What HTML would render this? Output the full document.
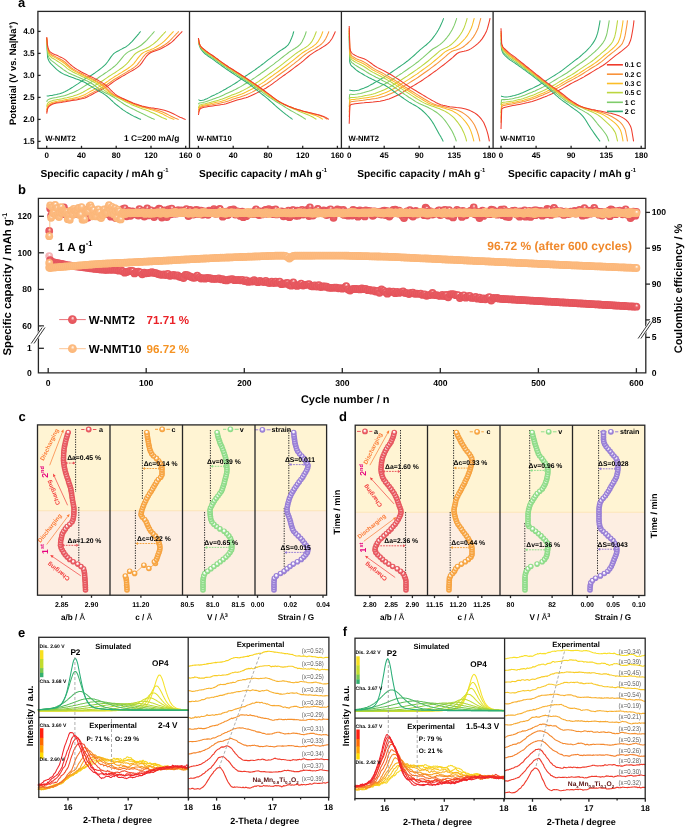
<!DOCTYPE html>
<html><head><meta charset="utf-8"><style>
html,body{margin:0;padding:0;background:#fff;}
svg{display:block;will-change:transform;}
</style></head><body>
<svg width="685" height="827" viewBox="0 0 685 827" font-family='"Liberation Sans", sans-serif' font-weight="bold" text-rendering="geometricPrecision">
<defs><radialGradient id="gr" cx="0.5" cy="0.5" r="0.5" fx="0.55" fy="0.3"><stop offset="0" stop-color="#ffffff"/><stop offset="0.18" stop-color="#f6b0b2"/><stop offset="0.4" stop-color="#ea6066"/><stop offset="1" stop-color="#e4525a"/></radialGradient><radialGradient id="go" cx="0.5" cy="0.5" r="0.5" fx="0.55" fy="0.3"><stop offset="0" stop-color="#ffffff"/><stop offset="0.18" stop-color="#fee2c8"/><stop offset="0.4" stop-color="#fdbd84"/><stop offset="1" stop-color="#fbb678"/></radialGradient><radialGradient id="ga" cx="0.5" cy="0.5" r="0.5" fx="0.45" fy="0.35"><stop offset="0" stop-color="#ffffff"/><stop offset="0.18" stop-color="#ffffff"/><stop offset="0.38" stop-color="#f8c4c6"/><stop offset="0.62" stop-color="#ea5f66"/><stop offset="1" stop-color="#e4525a"/></radialGradient><radialGradient id="gc" cx="0.5" cy="0.5" r="0.5" fx="0.45" fy="0.35"><stop offset="0" stop-color="#ffffff"/><stop offset="0.18" stop-color="#ffffff"/><stop offset="0.38" stop-color="#fde2be"/><stop offset="0.62" stop-color="#f8aa4c"/><stop offset="1" stop-color="#f59e38"/></radialGradient><radialGradient id="gv" cx="0.5" cy="0.5" r="0.5" fx="0.45" fy="0.35"><stop offset="0" stop-color="#ffffff"/><stop offset="0.18" stop-color="#ffffff"/><stop offset="0.38" stop-color="#e0f8de"/><stop offset="0.62" stop-color="#98e092"/><stop offset="1" stop-color="#88d882"/></radialGradient><radialGradient id="gs" cx="0.5" cy="0.5" r="0.5" fx="0.45" fy="0.35"><stop offset="0" stop-color="#ffffff"/><stop offset="0.18" stop-color="#ffffff"/><stop offset="0.38" stop-color="#e2d8f6"/><stop offset="0.62" stop-color="#a088da"/><stop offset="1" stop-color="#9378d2"/></radialGradient></defs>
<text x="18" y="6.6" font-size="13">a</text>
<g fill="none" stroke-width="1.05" stroke-linejoin="round">
<path d="M46.7,96.1 47.2,96.0 47.6,96.0 48.1,95.9 48.6,95.9 49.0,95.8 50.6,95.6 52.1,95.4 53.6,95.1 55.1,94.8 56.6,94.5 58.1,94.1 59.6,93.7 61.1,93.2 62.6,92.7 64.2,92.1 65.7,91.3 67.2,90.5 68.7,89.6 70.2,88.7 71.7,87.8 73.2,86.9 74.7,85.9 76.2,84.9 77.8,83.9 79.3,82.8 80.8,81.7 82.3,80.7 83.8,79.7 85.3,78.8 86.8,77.9 88.3,77.0 89.8,76.1 91.4,75.2 92.9,74.3 94.4,73.3 95.9,72.2 97.4,71.1 98.9,70.0 100.4,68.8 101.9,67.6 103.4,66.3 105.0,64.9 106.5,63.3 108.0,61.3 109.5,59.1 111.0,56.9 112.5,55.0 114.0,53.4 115.5,52.4 117.0,51.5 118.6,50.7 120.1,49.9 121.6,49.1 123.1,48.3 124.6,47.6 126.1,46.7 127.6,45.6 129.1,44.4 130.6,42.9 132.2,41.3 133.7,39.6 135.2,37.9 136.7,36.2 138.2,34.4 138.7,33.8 139.1,33.2 139.6,32.6 140.1,32.0 140.6,31.4" stroke="#2fad74"/>
<path d="M46.7,101.9 47.2,100.5 47.8,99.9 48.3,99.6 48.9,99.3 49.4,99.0 51.1,98.5 52.9,98.1 54.6,97.8 56.3,97.5 58.1,97.1 59.8,96.7 61.5,96.3 63.3,95.9 65.0,95.5 66.7,94.9 68.5,94.3 70.2,93.6 71.9,92.9 73.7,92.2 75.4,91.4 77.2,90.6 78.9,89.6 80.6,88.6 82.4,87.5 84.1,86.4 85.8,85.3 87.6,84.2 89.3,83.2 91.0,82.2 92.8,81.2 94.5,80.2 96.2,79.1 98.0,78.0 99.7,76.8 101.4,75.6 103.2,74.5 104.9,73.3 106.7,72.1 108.4,70.9 110.1,69.7 111.9,68.4 113.6,67.0 115.3,65.6 117.1,63.8 118.8,61.9 120.5,59.8 122.3,57.6 124.0,55.5 125.7,53.8 127.5,52.4 129.2,51.4 130.9,50.5 132.7,49.7 134.4,49.0 136.1,48.2 137.9,47.3 139.6,46.2 141.4,45.0 143.1,43.5 144.8,42.0 146.6,40.3 148.3,38.4 150.0,36.5 151.8,34.5 152.3,33.9 152.8,33.3 153.4,32.7 153.9,32.0 154.5,31.4" stroke="#7fcc6b"/>
<path d="M46.7,106.7 47.3,104.1 47.9,103.1 48.5,102.5 49.1,102.0 49.7,101.6 51.6,100.9 53.5,100.3 55.4,99.9 57.3,99.6 59.3,99.3 61.2,98.9 63.1,98.5 65.0,98.1 66.9,97.7 68.8,97.2 70.8,96.7 72.7,96.2 74.6,95.6 76.5,95.0 78.4,94.3 80.3,93.5 82.3,92.6 84.2,91.5 86.1,90.4 88.0,89.3 89.9,88.2 91.8,87.1 93.8,86.1 95.7,85.0 97.6,83.9 99.5,82.8 101.4,81.5 103.4,80.2 105.3,78.9 107.2,77.6 109.1,76.3 111.0,75.1 112.9,73.9 114.9,72.7 116.8,71.4 118.7,70.1 120.6,68.8 122.5,67.5 124.4,65.9 126.4,64.1 128.3,62.1 130.2,59.7 132.1,57.3 134.0,55.0 135.9,53.2 137.9,52.0 139.8,51.0 141.7,50.3 143.6,49.5 145.5,48.7 147.4,47.7 149.4,46.7 151.3,45.4 153.2,44.1 155.1,42.5 157.0,40.8 158.9,38.8 160.9,36.7 162.8,34.6 163.4,34.0 164.0,33.4 164.6,32.7 165.2,32.1 165.8,31.4" stroke="#bcd63f"/>
<path d="M46.7,110.0 47.3,106.6 48.0,105.3 48.6,104.5 49.2,103.9 49.9,103.5 51.9,102.5 54.0,101.9 56.0,101.4 58.0,101.1 60.1,100.7 62.1,100.4 64.2,100.0 66.2,99.6 68.3,99.3 70.3,98.8 72.3,98.4 74.4,97.9 76.4,97.4 78.5,96.9 80.5,96.3 82.6,95.6 84.6,94.7 86.6,93.6 88.7,92.4 90.7,91.3 92.8,90.2 94.8,89.1 96.9,88.0 98.9,86.9 100.9,85.8 103.0,84.6 105.0,83.2 107.1,81.8 109.1,80.3 111.2,78.9 113.2,77.6 115.2,76.3 117.3,75.1 119.3,73.8 121.4,72.6 123.4,71.3 125.5,70.0 127.5,68.7 129.5,67.3 131.6,65.7 133.6,63.8 135.7,61.2 137.7,58.4 139.8,55.8 141.8,53.7 143.8,52.4 145.9,51.4 147.9,50.6 150.0,49.9 152.0,49.1 154.1,48.1 156.1,47.0 158.1,45.8 160.2,44.4 162.2,42.9 164.3,41.2 166.3,39.1 168.4,36.9 170.4,34.7 171.0,34.1 171.7,33.4 172.3,32.7 172.9,32.1 173.6,31.4" stroke="#fbbd27"/>
<path d="M46.7,112.2 47.4,108.2 48.0,106.8 48.7,105.9 49.3,105.2 50.0,104.7 52.1,103.6 54.3,102.9 56.4,102.4 58.5,102.1 60.6,101.7 62.8,101.4 64.9,101.0 67.0,100.6 69.1,100.3 71.3,99.9 73.4,99.5 75.5,99.1 77.7,98.7 79.8,98.2 81.9,97.7 84.0,97.0 86.2,96.1 88.3,95.0 90.4,93.8 92.5,92.6 94.7,91.5 96.8,90.4 98.9,89.3 101.0,88.2 103.2,87.0 105.3,85.8 107.4,84.3 109.6,82.8 111.7,81.3 113.8,79.8 115.9,78.5 118.1,77.2 120.2,75.9 122.3,74.6 124.4,73.4 126.6,72.1 128.7,70.8 130.8,69.6 132.9,68.3 135.1,66.7 137.2,64.8 139.3,62.2 141.5,59.2 143.6,56.3 145.7,54.0 147.8,52.6 150.0,51.7 152.1,50.9 154.2,50.1 156.3,49.3 158.5,48.3 160.6,47.2 162.7,46.0 164.9,44.7 167.0,43.2 169.1,41.5 171.2,39.3 173.4,37.0 175.5,34.8 176.1,34.1 176.8,33.4 177.5,32.8 178.1,32.1 178.8,31.4" stroke="#f8923a"/>
<path d="M46.7,113.7 47.4,109.3 48.1,107.7 48.7,106.8 49.4,106.1 50.1,105.5 52.3,104.3 54.5,103.6 56.6,103.1 58.8,102.7 61.0,102.4 63.2,102.0 65.4,101.7 67.6,101.3 69.7,101.0 71.9,100.6 74.1,100.2 76.3,99.9 78.5,99.5 80.6,99.1 82.8,98.6 85.0,97.9 87.2,97.0 89.4,95.9 91.6,94.7 93.7,93.5 95.9,92.4 98.1,91.3 100.3,90.2 102.5,89.1 104.7,87.9 106.8,86.6 109.0,85.1 111.2,83.5 113.4,81.9 115.6,80.4 117.8,79.0 119.9,77.7 122.1,76.4 124.3,75.2 126.5,73.9 128.7,72.6 130.9,71.4 133.0,70.2 135.2,68.9 137.4,67.4 139.6,65.6 141.8,62.9 143.9,59.7 146.1,56.7 148.3,54.3 150.5,52.8 152.7,51.8 154.9,51.0 157.0,50.3 159.2,49.5 161.4,48.5 163.6,47.3 165.8,46.1 168.0,44.8 170.1,43.3 172.3,41.6 174.5,39.5 176.7,37.1 178.9,34.8 179.6,34.1 180.2,33.5 180.9,32.8 181.6,32.1 182.3,31.4" stroke="#ef3b2c"/>
<path d="M46.7,40.2 47.2,50.1 47.6,57.3 48.1,59.0 48.6,60.2 49.1,61.2 50.6,63.4 52.1,64.8 53.6,66.3 55.1,67.8 56.6,69.3 58.2,70.6 59.7,71.8 61.2,72.8 62.7,73.6 64.2,74.4 65.8,75.0 67.3,75.6 68.8,76.2 70.3,76.7 71.8,77.3 73.3,77.8 74.9,78.4 76.4,79.0 77.9,79.5 79.4,80.1 80.9,80.7 82.5,81.4 84.0,82.1 85.5,82.8 87.0,83.7 88.5,84.7 90.0,85.6 91.6,86.6 93.1,87.6 94.6,88.5 96.1,89.4 97.6,90.3 99.2,91.2 100.7,92.0 102.2,92.9 103.7,93.8 105.2,94.9 106.7,96.0 108.3,97.3 109.8,98.6 111.3,100.1 112.8,101.5 114.3,103.0 115.9,104.3 117.4,105.5 118.9,106.7 120.4,107.9 121.9,109.0 123.4,110.1 125.0,111.1 126.5,112.1 128.0,113.0 129.5,113.9 131.0,114.8 132.6,115.6 134.1,116.4 135.6,117.1 137.1,117.8 138.6,118.5 139.1,118.7 139.6,118.9 140.0,119.0 140.5,119.2 141.0,119.4" stroke="#2fad74"/>
<path d="M46.7,39.3 47.2,48.4 47.8,54.4 48.3,56.1 48.9,57.4 49.4,58.4 51.1,60.4 52.9,61.6 54.6,62.9 56.4,64.3 58.1,65.7 59.8,66.9 61.6,68.2 63.3,69.6 65.1,70.8 66.8,71.9 68.5,72.9 70.3,73.7 72.0,74.5 73.7,75.2 75.5,76.0 77.2,76.8 79.0,77.5 80.7,78.2 82.4,78.9 84.2,79.7 85.9,80.4 87.7,81.3 89.4,82.2 91.1,83.2 92.9,84.3 94.6,85.5 96.4,86.9 98.1,88.3 99.8,89.6 101.6,90.7 103.3,91.7 105.1,92.7 106.8,93.5 108.5,94.4 110.3,95.3 112.0,96.3 113.8,97.3 115.5,98.4 117.2,99.5 119.0,100.7 120.7,101.9 122.4,103.0 124.2,104.2 125.9,105.2 127.7,106.2 129.4,107.1 131.1,108.1 132.9,108.9 134.6,109.8 136.4,110.7 138.1,111.6 139.8,112.4 141.6,113.3 143.3,114.1 145.1,115.0 146.8,115.9 148.5,116.8 150.3,117.6 152.0,118.4 152.6,118.6 153.1,118.8 153.6,119.0 154.2,119.2 154.7,119.4" stroke="#7fcc6b"/>
<path d="M46.7,38.4 47.3,46.9 47.9,51.8 48.5,53.6 49.1,54.9 49.7,55.8 51.6,57.7 53.6,58.8 55.5,59.9 57.5,61.2 59.4,62.4 61.3,63.6 63.3,65.1 65.2,66.7 67.1,68.3 69.1,69.8 71.0,70.9 72.9,72.0 74.9,73.0 76.8,73.9 78.8,74.9 80.7,75.8 82.6,76.7 84.6,77.5 86.5,78.3 88.4,79.3 90.4,80.2 92.3,81.2 94.2,82.3 96.2,83.4 98.1,84.7 100.1,86.3 102.0,88.0 103.9,89.8 105.9,91.4 107.8,92.7 109.7,93.8 111.7,94.8 113.6,95.7 115.5,96.6 117.5,97.5 119.4,98.5 121.4,99.5 123.3,100.5 125.2,101.5 127.2,102.5 129.1,103.4 131.0,104.4 133.0,105.3 134.9,106.1 136.9,106.8 138.8,107.5 140.7,108.2 142.7,108.9 144.6,109.6 146.5,110.3 148.5,111.1 150.4,111.9 152.3,112.7 154.3,113.5 156.2,114.5 158.2,115.5 160.1,116.5 162.0,117.5 164.0,118.3 164.6,118.5 165.2,118.7 165.8,119.0 166.4,119.2 167.0,119.4" stroke="#bcd63f"/>
<path d="M46.7,37.9 47.3,46.0 48.0,50.3 48.6,52.1 49.3,53.3 49.9,54.3 51.9,56.1 54.0,57.1 56.1,58.1 58.1,59.3 60.2,60.5 62.2,61.7 64.3,63.2 66.3,65.0 68.4,66.9 70.4,68.5 72.5,69.8 74.5,71.0 76.6,72.1 78.6,73.2 80.7,74.2 82.8,75.2 84.8,76.2 86.9,77.1 88.9,78.0 91.0,79.0 93.0,80.1 95.1,81.2 97.1,82.3 99.2,83.6 101.2,85.0 103.3,86.7 105.3,88.7 107.4,90.7 109.5,92.5 111.5,93.8 113.6,95.0 115.6,96.0 117.7,97.0 119.7,97.9 121.8,98.8 123.8,99.8 125.9,100.8 127.9,101.8 130.0,102.7 132.1,103.6 134.1,104.4 136.2,105.2 138.2,105.9 140.3,106.6 142.3,107.2 144.4,107.8 146.4,108.3 148.5,108.8 150.5,109.4 152.6,110.1 154.6,110.8 156.7,111.5 158.8,112.3 160.8,113.2 162.9,114.1 164.9,115.2 167.0,116.4 169.0,117.4 171.1,118.2 171.7,118.5 172.4,118.7 173.0,118.9 173.6,119.2 174.3,119.4" stroke="#fbbd27"/>
<path d="M46.7,37.6 47.4,45.5 48.0,49.4 48.7,51.2 49.3,52.4 50.0,53.3 52.1,55.1 54.3,56.1 56.4,57.1 58.5,58.2 60.6,59.3 62.8,60.5 64.9,62.0 67.0,64.0 69.1,66.0 71.3,67.7 73.4,69.1 75.5,70.4 77.6,71.6 79.8,72.7 81.9,73.8 84.0,74.9 86.1,75.9 88.3,76.8 90.4,77.8 92.5,78.9 94.6,80.0 96.8,81.1 98.9,82.4 101.0,83.7 103.1,85.2 105.3,87.0 107.4,89.1 109.5,91.2 111.6,93.1 113.8,94.6 115.9,95.7 118.0,96.8 120.1,97.7 122.3,98.7 124.4,99.6 126.5,100.6 128.6,101.6 130.8,102.5 132.9,103.4 135.0,104.2 137.1,104.9 139.3,105.6 141.4,106.3 143.5,106.9 145.6,107.4 147.8,107.9 149.9,108.4 152.0,108.8 154.1,109.3 156.3,109.9 158.4,110.6 160.5,111.3 162.6,112.1 164.8,113.0 166.9,114.0 169.0,115.1 171.2,116.3 173.3,117.3 175.4,118.2 176.1,118.4 176.7,118.7 177.4,118.9 178.0,119.2 178.7,119.4" stroke="#f8923a"/>
<path d="M46.7,37.1 47.4,44.6 48.1,47.9 48.8,49.7 49.5,51.0 50.2,51.9 52.4,53.5 54.7,54.5 56.9,55.3 59.1,56.4 61.4,57.4 63.6,58.6 65.8,60.2 68.1,62.3 70.3,64.5 72.6,66.4 74.8,68.0 77.0,69.4 79.3,70.7 81.5,72.0 83.8,73.2 86.0,74.3 88.2,75.4 90.5,76.4 92.7,77.5 95.0,78.6 97.2,79.8 99.4,81.1 101.7,82.4 103.9,83.9 106.1,85.5 108.4,87.5 110.6,89.8 112.9,92.1 115.1,94.1 117.3,95.7 119.6,96.9 121.8,98.0 124.1,99.0 126.3,99.9 128.5,100.9 130.8,101.9 133.0,102.9 135.2,103.8 137.5,104.6 139.7,105.3 142.0,105.9 144.2,106.4 146.4,106.9 148.7,107.4 150.9,107.8 153.2,108.1 155.4,108.4 157.6,108.8 159.9,109.2 162.1,109.7 164.4,110.3 166.6,111.0 168.8,111.8 171.1,112.7 173.3,113.7 175.5,114.9 177.8,116.1 180.0,117.2 182.3,118.1 183.0,118.4 183.7,118.7 184.3,118.9 185.0,119.2 185.7,119.4" stroke="#ef3b2c"/>
<path d="M198.4,99.6 198.9,99.9 199.4,100.2 199.8,100.4 200.3,100.5 200.8,100.5 202.3,100.3 203.9,99.9 205.4,99.3 206.9,98.7 208.5,97.9 210.0,97.1 211.5,96.3 213.1,95.6 214.6,94.9 216.1,94.1 217.7,93.4 219.2,92.6 220.8,91.7 222.3,90.9 223.8,90.0 225.4,89.2 226.9,88.3 228.4,87.4 230.0,86.5 231.5,85.6 233.0,84.6 234.6,83.7 236.1,82.7 237.7,81.7 239.2,80.6 240.7,79.6 242.3,78.5 243.8,77.4 245.3,76.3 246.9,75.3 248.4,74.2 249.9,73.2 251.5,72.2 253.0,71.1 254.6,70.1 256.1,69.0 257.6,67.9 259.2,66.8 260.7,65.7 262.2,64.5 263.8,63.3 265.3,62.1 266.8,60.9 268.4,59.7 269.9,58.6 271.5,57.4 273.0,56.2 274.5,55.1 276.1,53.9 277.6,52.7 279.1,51.5 280.7,50.4 282.2,49.5 283.7,48.5 285.3,47.5 286.8,46.2 288.4,44.6 289.9,42.0 291.4,38.5 291.9,37.3 292.4,36.0 292.9,34.5 293.3,33.0 293.8,31.4" stroke="#2fad74"/>
<path d="M198.4,104.2 198.9,103.4 199.5,102.9 200.0,102.9 200.6,102.8 201.1,102.7 202.8,102.4 204.6,102.0 206.3,101.5 208.0,100.9 209.8,100.3 211.5,99.7 213.3,99.0 215.0,98.4 216.7,97.8 218.5,97.2 220.2,96.5 222.0,95.7 223.7,94.9 225.4,94.1 227.2,93.3 228.9,92.5 230.6,91.7 232.4,90.9 234.1,90.1 235.9,89.2 237.6,88.3 239.3,87.4 241.1,86.4 242.8,85.4 244.5,84.3 246.3,83.3 248.0,82.2 249.8,81.0 251.5,79.9 253.2,78.7 255.0,77.6 256.7,76.4 258.4,75.2 260.2,74.0 261.9,72.7 263.7,71.5 265.4,70.3 267.1,69.0 268.9,67.7 270.6,66.4 272.4,65.1 274.1,63.8 275.8,62.4 277.6,61.1 279.3,59.8 281.0,58.4 282.8,57.0 284.5,55.7 286.3,54.3 288.0,53.0 289.7,51.7 291.5,50.6 293.2,49.5 294.9,48.5 296.7,47.3 298.4,46.0 300.2,44.4 301.9,42.0 303.6,38.5 304.2,37.3 304.7,36.0 305.3,34.5 305.8,33.0 306.3,31.4" stroke="#7fcc6b"/>
<path d="M198.4,108.0 199.0,106.2 199.6,105.1 200.2,104.9 200.8,104.7 201.4,104.6 203.3,104.1 205.2,103.7 207.1,103.2 209.0,102.8 210.9,102.3 212.8,101.7 214.7,101.2 216.6,100.7 218.5,100.2 220.4,99.6 222.3,99.0 224.2,98.3 226.1,97.5 228.0,96.7 229.9,95.9 231.8,95.1 233.7,94.4 235.6,93.7 237.5,92.9 239.4,92.2 241.3,91.3 243.2,90.4 245.1,89.4 247.0,88.4 248.9,87.3 250.8,86.2 252.7,85.1 254.6,84.0 256.5,82.8 258.4,81.6 260.3,80.3 262.2,79.0 264.1,77.6 266.0,76.3 267.9,74.9 269.8,73.5 271.7,72.2 273.6,70.8 275.5,69.4 277.4,68.0 279.3,66.6 281.2,65.1 283.1,63.7 285.0,62.2 286.9,60.7 288.8,59.2 290.7,57.7 292.6,56.1 294.5,54.6 296.4,53.2 298.3,51.9 300.2,50.7 302.1,49.5 304.0,48.4 305.9,47.2 307.8,45.8 309.7,44.2 311.6,41.9 313.5,38.6 314.0,37.4 314.6,36.0 315.2,34.5 315.8,33.0 316.4,31.4" stroke="#bcd63f"/>
<path d="M198.4,110.4 199.0,108.0 199.6,106.6 200.3,106.2 200.9,106.0 201.5,105.7 203.5,105.2 205.5,104.8 207.5,104.4 209.5,103.9 211.5,103.5 213.5,103.1 215.5,102.6 217.6,102.1 219.6,101.7 221.6,101.2 223.6,100.6 225.6,99.9 227.6,99.1 229.6,98.3 231.6,97.5 233.6,96.8 235.6,96.2 237.6,95.5 239.6,94.8 241.6,94.1 243.6,93.2 245.6,92.3 247.6,91.3 249.6,90.3 251.6,89.2 253.6,88.2 255.7,87.0 257.7,85.8 259.7,84.6 261.7,83.4 263.7,82.1 265.7,80.7 267.7,79.2 269.7,77.7 271.7,76.3 273.7,74.8 275.7,73.4 277.7,72.0 279.7,70.5 281.7,69.0 283.7,67.5 285.7,66.0 287.7,64.5 289.7,62.9 291.7,61.4 293.7,59.8 295.8,58.1 297.8,56.5 299.8,54.8 301.8,53.3 303.8,52.0 305.8,50.7 307.8,49.6 309.8,48.4 311.8,47.1 313.8,45.7 315.8,44.1 317.8,41.9 319.8,38.6 320.4,37.4 321.1,36.0 321.7,34.6 322.3,33.0 322.9,31.4" stroke="#fbbd27"/>
<path d="M198.4,112.6 199.1,109.7 199.7,107.9 200.4,107.5 201.0,107.1 201.7,106.8 203.8,106.2 205.9,105.8 208.0,105.4 210.1,105.0 212.2,104.7 214.3,104.3 216.4,103.9 218.5,103.5 220.6,103.1 222.7,102.6 224.8,102.1 226.9,101.4 229.0,100.7 231.1,99.9 233.2,99.1 235.3,98.4 237.4,97.8 239.5,97.2 241.6,96.5 243.7,95.8 245.8,95.0 247.9,94.1 250.0,93.1 252.1,92.1 254.2,91.0 256.3,89.9 258.4,88.8 260.5,87.6 262.6,86.3 264.7,85.0 266.8,83.7 268.9,82.2 271.0,80.7 273.1,79.1 275.2,77.6 277.3,76.0 279.4,74.5 281.5,73.0 283.6,71.5 285.7,70.0 287.8,68.4 289.9,66.8 292.0,65.2 294.1,63.6 296.2,61.9 298.3,60.3 300.4,58.5 302.5,56.7 304.6,55.0 306.7,53.4 308.8,52.0 310.9,50.8 313.1,49.6 315.2,48.4 317.3,47.0 319.4,45.6 321.5,44.0 323.6,41.9 325.7,38.7 326.3,37.4 327.0,36.0 327.6,34.6 328.3,33.0 328.9,31.4" stroke="#f8923a"/>
<path d="M198.4,115.0 199.1,111.4 199.8,109.3 200.5,108.7 201.1,108.3 201.8,108.0 204.0,107.3 206.2,106.9 208.4,106.5 210.6,106.2 212.8,105.9 215.1,105.6 217.3,105.3 219.5,104.9 221.7,104.6 223.9,104.2 226.1,103.7 228.3,103.0 230.5,102.3 232.7,101.5 234.9,100.8 237.1,100.1 239.3,99.5 241.5,98.9 243.7,98.3 245.9,97.7 248.1,96.9 250.3,96.0 252.5,95.0 254.7,94.0 257.0,92.9 259.2,91.8 261.4,90.7 263.6,89.4 265.8,88.2 268.0,86.8 270.2,85.4 272.4,83.8 274.6,82.2 276.8,80.6 279.0,78.9 281.2,77.3 283.4,75.7 285.6,74.2 287.8,72.6 290.0,71.0 292.2,69.3 294.4,67.7 296.6,66.0 298.9,64.3 301.1,62.6 303.3,60.8 305.5,58.9 307.7,57.0 309.9,55.2 312.1,53.6 314.3,52.1 316.5,50.8 318.7,49.6 320.9,48.3 323.1,46.9 325.3,45.5 327.5,43.9 329.7,41.8 331.9,38.7 332.6,37.4 333.3,36.0 334.0,34.6 334.7,33.0 335.4,31.4" stroke="#ef3b2c"/>
<path d="M198.4,42.4 198.9,43.8 199.3,45.3 199.8,46.7 200.3,47.9 200.8,48.9 202.3,50.9 203.8,52.6 205.3,54.0 206.8,55.2 208.3,56.3 209.9,57.3 211.4,58.2 212.9,59.3 214.4,60.4 215.9,61.6 217.5,62.7 219.0,63.8 220.5,64.9 222.0,66.0 223.5,67.0 225.0,68.1 226.6,69.2 228.1,70.2 229.6,71.3 231.1,72.3 232.6,73.3 234.2,74.3 235.7,75.4 237.2,76.3 238.7,77.3 240.2,78.3 241.7,79.2 243.3,80.2 244.8,81.2 246.3,82.2 247.8,83.2 249.3,84.4 250.9,85.5 252.4,86.6 253.9,87.8 255.4,89.0 256.9,90.2 258.4,91.4 260.0,92.6 261.5,93.8 263.0,95.0 264.5,96.2 266.0,97.4 267.6,98.7 269.1,100.0 270.6,101.3 272.1,102.6 273.6,104.0 275.1,105.4 276.7,106.8 278.2,108.1 279.7,109.4 281.2,110.6 282.7,111.9 284.3,113.1 285.8,114.3 287.3,115.4 288.8,116.6 290.3,117.7 290.8,118.0 291.3,118.4 291.7,118.7 292.2,119.1 292.7,119.4" stroke="#2fad74"/>
<path d="M198.4,40.8 198.9,43.1 199.5,45.1 200.0,46.4 200.5,47.5 201.1,48.4 202.8,50.3 204.5,52.0 206.3,53.5 208.0,54.7 209.7,55.9 211.5,57.1 213.2,58.3 214.9,59.5 216.7,60.8 218.4,62.1 220.1,63.3 221.9,64.5 223.6,65.7 225.3,66.9 227.1,68.0 228.8,69.2 230.5,70.4 232.2,71.5 234.0,72.7 235.7,73.8 237.4,75.0 239.2,76.1 240.9,77.3 242.6,78.5 244.4,79.6 246.1,80.7 247.8,81.9 249.6,83.0 251.3,84.2 253.0,85.4 254.7,86.6 256.5,87.9 258.2,89.2 259.9,90.5 261.7,91.8 263.4,93.1 265.1,94.4 266.9,95.6 268.6,96.7 270.3,97.9 272.1,99.0 273.8,100.1 275.5,101.2 277.2,102.2 279.0,103.3 280.7,104.4 282.4,105.4 284.2,106.5 285.9,107.6 287.6,108.6 289.4,109.7 291.1,110.7 292.8,111.6 294.6,112.6 296.3,113.6 298.0,114.5 299.7,115.5 301.5,116.5 303.2,117.6 303.7,118.0 304.3,118.3 304.8,118.7 305.4,119.0 305.9,119.4" stroke="#7fcc6b"/>
<path d="M198.4,39.5 199.0,42.6 199.6,44.8 200.2,46.1 200.8,47.1 201.4,48.0 203.3,49.8 205.2,51.5 207.1,53.0 209.0,54.3 210.9,55.6 212.8,56.9 214.7,58.3 216.6,59.6 218.5,61.1 220.4,62.5 222.3,63.8 224.2,65.1 226.1,66.4 228.0,67.6 229.9,68.9 231.8,70.1 233.7,71.3 235.6,72.6 237.5,73.8 239.4,75.1 241.3,76.3 243.2,77.6 245.1,78.8 247.0,80.1 248.9,81.4 250.8,82.7 252.7,84.0 254.6,85.3 256.5,86.6 258.4,88.0 260.3,89.4 262.2,90.7 264.1,92.2 266.0,93.6 267.9,95.1 269.8,96.4 271.7,97.7 273.6,98.9 275.5,100.0 277.4,101.1 279.3,102.2 281.2,103.2 283.1,104.1 285.0,105.0 286.9,105.9 288.8,106.8 290.7,107.7 292.6,108.5 294.5,109.3 296.4,110.1 298.3,110.9 300.2,111.7 302.1,112.5 304.0,113.2 305.9,114.0 307.8,114.8 309.7,115.6 311.6,116.5 313.5,117.5 314.0,117.9 314.6,118.2 315.2,118.6 315.8,119.0 316.4,119.4" stroke="#bcd63f"/>
<path d="M198.4,38.7 199.0,42.2 199.6,44.7 200.3,45.9 200.9,46.9 201.5,47.7 203.5,49.5 205.5,51.2 207.5,52.7 209.5,54.1 211.5,55.4 213.5,56.8 215.5,58.3 217.6,59.7 219.6,61.2 221.6,62.7 223.6,64.1 225.6,65.5 227.6,66.8 229.6,68.1 231.6,69.4 233.6,70.7 235.6,71.9 237.6,73.2 239.6,74.5 241.6,75.8 243.6,77.1 245.6,78.5 247.6,79.8 249.6,81.2 251.6,82.5 253.6,83.9 255.7,85.3 257.7,86.7 259.7,88.1 261.7,89.6 263.7,91.0 265.7,92.5 267.7,94.0 269.7,95.5 271.7,97.0 273.7,98.5 275.7,99.8 277.7,101.0 279.7,102.1 281.7,103.2 283.7,104.1 285.7,105.1 287.7,105.9 289.7,106.8 291.7,107.5 293.7,108.3 295.8,109.0 297.8,109.7 299.8,110.4 301.8,111.1 303.8,111.7 305.8,112.3 307.8,113.0 309.8,113.6 311.8,114.2 313.8,114.9 315.8,115.6 317.8,116.4 319.8,117.5 320.4,117.8 321.1,118.2 321.7,118.6 322.3,119.0 322.9,119.4" stroke="#fbbd27"/>
<path d="M198.4,38.2 199.0,42.0 199.7,44.6 200.3,45.8 201.0,46.8 201.6,47.6 203.7,49.3 205.8,51.0 207.9,52.5 209.9,53.9 212.0,55.3 214.1,56.7 216.2,58.3 218.2,59.8 220.3,61.4 222.4,62.9 224.5,64.3 226.6,65.7 228.6,67.1 230.7,68.4 232.8,69.7 234.9,71.0 236.9,72.4 239.0,73.7 241.1,75.0 243.2,76.4 245.3,77.7 247.3,79.1 249.4,80.5 251.5,81.9 253.6,83.3 255.7,84.7 257.7,86.2 259.8,87.7 261.9,89.2 264.0,90.7 266.0,92.2 268.1,93.7 270.2,95.3 272.3,96.9 274.4,98.4 276.4,99.9 278.5,101.2 280.6,102.4 282.7,103.5 284.7,104.6 286.8,105.5 288.9,106.4 291.0,107.2 293.1,108.0 295.1,108.7 297.2,109.4 299.3,110.0 301.4,110.6 303.4,111.2 305.5,111.7 307.6,112.2 309.7,112.7 311.8,113.3 313.8,113.9 315.9,114.4 318.0,115.0 320.1,115.7 322.1,116.4 324.2,117.4 324.9,117.8 325.5,118.2 326.2,118.6 326.8,119.0 327.4,119.4" stroke="#f8923a"/>
<path d="M198.4,38.0 199.1,41.9 199.7,44.6 200.4,45.8 201.0,46.7 201.7,47.5 203.8,49.2 205.9,50.9 208.0,52.5 210.1,53.9 212.2,55.3 214.3,56.7 216.4,58.3 218.5,59.8 220.6,61.4 222.7,62.9 224.8,64.4 226.9,65.8 229.0,67.2 231.1,68.5 233.2,69.8 235.3,71.2 237.4,72.5 239.5,73.8 241.6,75.2 243.7,76.5 245.8,77.9 247.9,79.3 250.0,80.7 252.1,82.1 254.2,83.6 256.3,85.0 258.4,86.5 260.5,88.0 262.6,89.5 264.7,91.0 266.8,92.6 268.9,94.1 271.0,95.7 273.1,97.3 275.2,98.9 277.3,100.4 279.4,101.7 281.5,102.9 283.6,104.0 285.7,105.0 287.8,106.0 289.9,106.8 292.0,107.6 294.1,108.4 296.2,109.1 298.3,109.7 300.4,110.3 302.5,110.9 304.6,111.4 306.7,111.9 308.8,112.4 310.9,112.9 313.1,113.4 315.2,113.9 317.3,114.5 319.4,115.0 321.5,115.7 323.6,116.4 325.7,117.4 326.3,117.8 327.0,118.2 327.6,118.6 328.3,119.0 328.9,119.4" stroke="#ef3b2c"/>
<path d="M349.2,89.9 349.7,90.1 350.1,90.2 350.6,90.3 351.1,90.4 351.6,90.5 353.1,90.8 354.6,90.8 356.1,90.6 357.6,90.3 359.2,89.9 360.7,89.3 362.2,88.7 363.7,88.2 365.3,87.6 366.8,86.9 368.3,86.2 369.8,85.4 371.3,84.5 372.9,83.7 374.4,82.8 375.9,81.9 377.4,81.1 379.0,80.2 380.5,79.3 382.0,78.4 383.5,77.5 385.0,76.5 386.6,75.6 388.1,74.6 389.6,73.6 391.1,72.5 392.6,71.5 394.2,70.4 395.7,69.4 397.2,68.3 398.7,67.2 400.3,66.2 401.8,65.1 403.3,64.1 404.8,63.0 406.3,61.8 407.9,60.7 409.4,59.5 410.9,58.2 412.4,56.9 414.0,55.5 415.5,54.1 417.0,52.7 418.5,51.3 420.0,49.9 421.6,48.7 423.1,47.4 424.6,46.2 426.1,45.0 427.6,43.6 429.2,42.2 430.7,40.6 432.2,38.9 433.7,36.9 435.3,34.8 436.8,32.5 438.3,30.0 439.8,27.3 441.3,24.0 441.8,22.9 442.3,21.8 442.8,20.6 443.2,19.4 443.7,18.2" stroke="#2fad74"/>
<path d="M349.2,99.4 349.7,94.4 350.3,94.3 350.8,94.3 351.3,94.3 351.9,94.4 353.6,94.4 355.3,94.3 357.1,94.1 358.8,93.8 360.5,93.5 362.3,93.0 364.0,92.6 365.7,92.1 367.5,91.6 369.2,91.1 370.9,90.5 372.7,89.8 374.4,89.1 376.1,88.3 377.8,87.5 379.6,86.7 381.3,85.8 383.0,84.9 384.8,84.0 386.5,83.0 388.2,82.0 390.0,80.9 391.7,79.8 393.4,78.7 395.2,77.6 396.9,76.5 398.6,75.4 400.3,74.2 402.1,73.1 403.8,71.9 405.5,70.7 407.3,69.5 409.0,68.3 410.7,67.1 412.5,65.9 414.2,64.6 415.9,63.3 417.7,62.0 419.4,60.6 421.1,59.1 422.9,57.6 424.6,56.1 426.3,54.6 428.0,53.1 429.8,51.5 431.5,50.0 433.2,48.8 435.0,47.7 436.7,46.7 438.4,45.6 440.2,44.4 441.9,42.9 443.6,41.3 445.4,39.4 447.1,37.3 448.8,35.1 450.5,32.5 452.3,29.5 454.0,25.9 454.5,24.6 455.1,23.1 455.6,21.5 456.2,19.9 456.7,18.2" stroke="#7fcc6b"/>
<path d="M349.2,107.1 349.8,97.9 350.4,97.6 351.0,97.5 351.6,97.5 352.1,97.5 354.0,97.4 355.9,97.2 357.8,97.0 359.7,96.7 361.6,96.4 363.5,96.0 365.4,95.6 367.3,95.3 369.2,94.9 371.1,94.5 373.0,94.0 374.9,93.4 376.8,92.7 378.7,92.0 380.6,91.3 382.5,90.5 384.4,89.7 386.3,88.7 388.2,87.8 390.1,86.8 392.0,85.7 393.9,84.5 395.8,83.3 397.7,82.1 399.6,80.9 401.5,79.7 403.4,78.5 405.3,77.3 407.2,76.1 409.1,74.8 411.0,73.5 412.9,72.2 414.8,70.9 416.7,69.6 418.6,68.2 420.5,66.9 422.4,65.4 424.3,64.0 426.2,62.5 428.1,61.0 430.0,59.4 431.9,57.7 433.8,56.1 435.7,54.5 437.6,52.8 439.5,51.1 441.4,49.9 443.3,49.0 445.2,48.1 447.1,47.2 449.0,46.1 450.9,44.8 452.8,43.2 454.7,41.4 456.6,39.4 458.5,37.1 460.4,34.5 462.3,31.4 464.2,27.5 464.8,25.9 465.4,24.2 466.0,22.3 466.6,20.3 467.2,18.2" stroke="#bcd63f"/>
<path d="M349.2,112.2 349.8,100.3 350.5,99.9 351.1,99.7 351.7,99.6 352.3,99.5 354.3,99.4 356.4,99.1 358.4,98.9 360.4,98.6 362.4,98.3 364.4,98.0 366.4,97.7 368.4,97.4 370.5,97.1 372.5,96.7 374.5,96.3 376.5,95.8 378.5,95.2 380.5,94.5 382.5,93.8 384.5,93.1 386.6,92.2 388.6,91.3 390.6,90.3 392.6,89.3 394.6,88.2 396.6,86.9 398.6,85.7 400.7,84.4 402.7,83.1 404.7,81.9 406.7,80.6 408.7,79.4 410.7,78.1 412.7,76.8 414.8,75.4 416.8,74.1 418.8,72.7 420.8,71.2 422.8,69.8 424.8,68.4 426.8,66.9 428.9,65.4 430.9,63.8 432.9,62.2 434.9,60.5 436.9,58.8 438.9,57.2 440.9,55.5 442.9,53.6 445.0,51.9 447.0,50.7 449.0,49.8 451.0,49.1 453.0,48.3 455.0,47.3 457.0,46.0 459.1,44.5 461.1,42.7 463.1,40.7 465.1,38.5 467.1,35.9 469.1,32.6 471.1,28.5 471.8,26.8 472.4,24.9 473.0,22.8 473.6,20.5 474.3,18.2" stroke="#fbbd27"/>
<path d="M349.2,117.0 349.9,102.5 350.5,101.9 351.2,101.7 351.8,101.5 352.5,101.5 354.6,101.2 356.7,100.9 358.8,100.7 361.0,100.4 363.1,100.2 365.2,99.9 367.3,99.6 369.4,99.4 371.6,99.1 373.7,98.8 375.8,98.5 377.9,98.0 380.0,97.4 382.2,96.8 384.3,96.2 386.4,95.5 388.5,94.6 390.6,93.7 392.8,92.7 394.9,91.7 397.0,90.5 399.1,89.2 401.2,87.8 403.3,86.4 405.5,85.1 407.6,83.9 409.7,82.6 411.8,81.3 413.9,80.0 416.1,78.6 418.2,77.2 420.3,75.7 422.4,74.3 424.5,72.8 426.7,71.3 428.8,69.8 430.9,68.2 433.0,66.6 435.1,65.0 437.3,63.3 439.4,61.6 441.5,59.9 443.6,58.1 445.7,56.4 447.8,54.4 450.0,52.6 452.1,51.3 454.2,50.6 456.3,50.0 458.4,49.3 460.6,48.4 462.7,47.2 464.8,45.7 466.9,44.0 469.0,42.0 471.2,39.8 473.3,37.1 475.4,33.8 477.5,29.5 478.2,27.7 478.8,25.6 479.5,23.2 480.1,20.8 480.8,18.2" stroke="#f8923a"/>
<path d="M349.2,123.8 349.9,105.6 350.6,104.9 351.3,104.5 352.0,104.3 352.7,104.2 355.0,103.8 357.3,103.5 359.5,103.2 361.8,103.0 364.1,102.8 366.3,102.5 368.6,102.4 370.9,102.2 373.1,102.1 375.4,101.8 377.7,101.5 380.0,101.2 382.2,100.7 384.5,100.2 386.8,99.6 389.0,98.9 391.3,98.1 393.6,97.1 395.8,96.1 398.1,95.0 400.4,93.7 402.6,92.4 404.9,90.9 407.2,89.4 409.5,88.0 411.7,86.7 414.0,85.4 416.3,84.0 418.5,82.6 420.8,81.2 423.1,79.7 425.3,78.1 427.6,76.6 429.9,75.0 432.1,73.4 434.4,71.7 436.7,70.1 439.0,68.4 441.2,66.7 443.5,65.0 445.8,63.2 448.0,61.3 450.3,59.5 452.6,57.6 454.8,55.5 457.1,53.5 459.4,52.3 461.7,51.7 463.9,51.3 466.2,50.8 468.5,50.0 470.7,48.9 473.0,47.4 475.3,45.7 477.5,43.8 479.8,41.6 482.1,38.9 484.3,35.4 486.6,30.9 487.3,28.9 488.0,26.5 488.7,23.9 489.4,21.1 490.1,18.2" stroke="#ef3b2c"/>
<path d="M349.2,35.8 349.7,61.7 350.1,63.3 350.6,64.5 351.1,65.4 351.6,66.0 353.1,67.2 354.6,68.5 356.1,69.8 357.6,71.0 359.1,72.0 360.6,72.9 362.2,73.8 363.7,74.7 365.2,75.6 366.7,76.4 368.2,77.3 369.7,78.1 371.3,78.8 372.8,79.6 374.3,80.3 375.8,81.1 377.3,81.8 378.8,82.5 380.3,83.2 381.9,83.9 383.4,84.6 384.9,85.3 386.4,86.2 387.9,87.1 389.4,88.1 391.0,89.2 392.5,90.3 394.0,91.5 395.5,92.7 397.0,93.8 398.5,94.9 400.0,95.9 401.6,97.0 403.1,98.0 404.6,99.1 406.1,100.1 407.6,101.1 409.1,102.1 410.7,103.0 412.2,103.9 413.7,104.7 415.2,105.5 416.7,106.4 418.2,107.4 419.7,108.5 421.3,109.7 422.8,111.0 424.3,112.4 425.8,113.9 427.3,115.5 428.8,117.2 430.4,119.1 431.9,121.2 433.4,123.6 434.9,126.3 436.4,129.0 437.9,131.7 439.4,134.4 441.0,137.1 441.4,137.9 441.9,138.8 442.4,139.7 442.8,140.5 443.3,141.4" stroke="#2fad74"/>
<path d="M349.2,33.1 349.7,57.9 350.3,59.8 350.8,61.0 351.3,61.9 351.9,62.6 353.6,63.8 355.3,65.1 357.1,66.2 358.8,67.3 360.5,68.2 362.2,69.2 364.0,70.3 365.7,71.4 367.4,72.5 369.1,73.5 370.9,74.5 372.6,75.4 374.3,76.3 376.0,77.2 377.8,78.0 379.5,78.9 381.2,79.8 382.9,80.7 384.7,81.6 386.4,82.5 388.1,83.4 389.8,84.4 391.6,85.5 393.3,86.5 395.0,87.7 396.8,88.9 398.5,90.1 400.2,91.3 401.9,92.5 403.7,93.7 405.4,94.9 407.1,96.0 408.8,97.2 410.6,98.3 412.3,99.4 414.0,100.5 415.7,101.6 417.5,102.6 419.2,103.5 420.9,104.3 422.6,105.0 424.4,105.8 426.1,106.5 427.8,107.3 429.5,108.2 431.3,109.1 433.0,110.1 434.7,111.2 436.4,112.3 438.2,113.6 439.9,115.1 441.6,116.7 443.3,118.5 445.1,120.6 446.8,123.0 448.5,125.5 450.2,128.1 452.0,131.0 453.7,134.5 454.2,135.7 454.8,136.9 455.3,138.3 455.8,139.8 456.4,141.4" stroke="#7fcc6b"/>
<path d="M349.2,30.9 349.8,55.0 350.4,57.0 351.0,58.3 351.5,59.3 352.1,59.9 354.0,61.2 355.9,62.4 357.8,63.4 359.7,64.3 361.6,65.3 363.5,66.3 365.4,67.5 367.3,68.8 369.2,70.1 371.0,71.3 372.9,72.4 374.8,73.3 376.7,74.3 378.6,75.2 380.5,76.2 382.4,77.3 384.3,78.3 386.2,79.3 388.1,80.4 390.0,81.4 391.8,82.5 393.7,83.7 395.6,84.9 397.5,86.1 399.4,87.4 401.3,88.6 403.2,89.9 405.1,91.2 407.0,92.4 408.9,93.6 410.8,94.9 412.7,96.1 414.5,97.3 416.4,98.5 418.3,99.6 420.2,100.8 422.1,101.9 424.0,102.9 425.9,103.8 427.8,104.6 429.7,105.3 431.6,105.9 433.5,106.5 435.3,107.2 437.2,107.9 439.1,108.6 441.0,109.4 442.9,110.2 444.8,111.1 446.7,112.2 448.6,113.4 450.5,114.8 452.4,116.4 454.3,118.2 456.1,120.3 458.0,122.7 459.9,125.4 461.8,128.4 463.7,132.4 464.3,133.9 464.9,135.4 465.5,137.2 466.1,139.2 466.6,141.4" stroke="#bcd63f"/>
<path d="M349.2,29.4 349.8,52.9 350.4,55.0 351.1,56.4 351.7,57.4 352.3,58.0 354.3,59.3 356.3,60.5 358.3,61.4 360.3,62.3 362.4,63.2 364.4,64.3 366.4,65.6 368.4,67.0 370.4,68.4 372.4,69.7 374.4,70.8 376.4,71.9 378.4,72.9 380.4,73.9 382.4,75.0 384.4,76.1 386.4,77.2 388.5,78.3 390.5,79.5 392.5,80.7 394.5,81.9 396.5,83.2 398.5,84.5 400.5,85.9 402.5,87.2 404.5,88.5 406.5,89.8 408.5,91.0 410.5,92.3 412.5,93.6 414.6,94.9 416.6,96.2 418.6,97.4 420.6,98.6 422.6,99.8 424.6,101.0 426.6,102.1 428.6,103.2 430.6,104.1 432.6,104.8 434.6,105.4 436.6,106.0 438.6,106.6 440.7,107.1 442.7,107.7 444.7,108.3 446.7,108.9 448.7,109.5 450.7,110.3 452.7,111.1 454.7,112.2 456.7,113.4 458.7,114.9 460.7,116.5 462.7,118.5 464.7,120.8 466.7,123.4 468.8,126.5 470.8,130.9 471.4,132.6 472.0,134.4 472.6,136.4 473.3,138.8 473.9,141.4" stroke="#fbbd27"/>
<path d="M349.2,28.1 349.9,51.2 350.5,53.4 351.2,54.8 351.8,55.8 352.5,56.4 354.6,57.8 356.7,58.9 358.8,59.8 360.9,60.6 363.0,61.5 365.1,62.6 367.2,64.0 369.3,65.5 371.4,67.0 373.5,68.4 375.6,69.6 377.7,70.7 379.8,71.7 381.9,72.8 384.0,73.9 386.1,75.1 388.2,76.3 390.3,77.5 392.4,78.7 394.5,80.0 396.7,81.4 398.8,82.8 400.9,84.2 403.0,85.6 405.1,87.0 407.2,88.3 409.3,89.7 411.4,91.0 413.5,92.3 415.6,93.6 417.7,94.9 419.8,96.2 421.9,97.5 424.0,98.8 426.1,100.0 428.2,101.2 430.3,102.4 432.4,103.4 434.5,104.3 436.6,105.0 438.7,105.6 440.8,106.1 442.9,106.6 445.0,107.1 447.1,107.6 449.3,108.0 451.4,108.4 453.5,108.9 455.6,109.5 457.7,110.3 459.8,111.2 461.9,112.3 464.0,113.6 466.1,115.1 468.2,116.9 470.3,119.1 472.4,121.8 474.5,125.0 476.6,129.7 477.3,131.6 477.9,133.5 478.6,135.7 479.2,138.4 479.9,141.4" stroke="#f8923a"/>
<path d="M349.2,26.1 349.9,48.5 350.6,50.9 351.3,52.3 352.0,53.3 352.7,53.9 355.0,55.3 357.2,56.4 359.5,57.2 361.7,57.9 364.0,58.7 366.3,59.9 368.5,61.4 370.8,63.0 373.0,64.7 375.3,66.3 377.5,67.6 379.8,68.7 382.1,69.9 384.3,71.0 386.6,72.2 388.8,73.5 391.1,74.8 393.4,76.2 395.6,77.6 397.9,79.0 400.1,80.5 402.4,82.1 404.6,83.7 406.9,85.2 409.2,86.7 411.4,88.1 413.7,89.5 415.9,90.8 418.2,92.2 420.4,93.5 422.7,94.9 425.0,96.3 427.2,97.6 429.5,98.9 431.7,100.2 434.0,101.4 436.3,102.7 438.5,103.8 440.8,104.7 443.0,105.3 445.3,105.8 447.5,106.3 449.8,106.7 452.1,107.0 454.3,107.3 456.6,107.6 458.8,107.8 461.1,108.0 463.4,108.4 465.6,108.9 467.9,109.7 470.1,110.6 472.4,111.7 474.6,112.9 476.9,114.5 479.2,116.6 481.4,119.2 483.7,122.5 485.9,127.8 486.6,129.9 487.3,132.1 488.0,134.7 488.7,137.9 489.4,141.4" stroke="#ef3b2c"/>
<path d="M501.0,96.1 501.5,96.2 502.0,96.4 502.5,96.5 503.0,96.6 503.5,96.7 505.1,96.9 506.7,96.9 508.3,96.8 509.9,96.6 511.5,96.2 513.0,95.8 514.6,95.4 516.2,94.9 517.8,94.5 519.4,93.9 521.0,93.3 522.6,92.7 524.2,91.9 525.8,91.2 527.4,90.5 529.0,89.8 530.6,89.1 532.2,88.4 533.8,87.6 535.4,86.8 537.0,86.0 538.6,85.2 540.2,84.3 541.8,83.4 543.4,82.4 545.0,81.4 546.5,80.4 548.1,79.4 549.7,78.4 551.3,77.4 552.9,76.4 554.5,75.5 556.1,74.4 557.7,73.4 559.3,72.4 560.9,71.3 562.5,70.1 564.1,68.9 565.7,67.7 567.3,66.4 568.9,65.2 570.5,63.9 572.1,62.7 573.7,61.4 575.3,60.2 576.9,59.0 578.5,57.8 580.1,56.5 581.6,55.2 583.2,53.7 584.8,52.3 586.4,50.8 588.0,49.2 589.6,47.5 591.2,45.5 592.8,43.4 594.4,40.9 596.0,37.8 597.6,33.2 598.1,31.0 598.6,28.6 599.1,26.0 599.6,23.3 600.1,20.4" stroke="#2fad74"/>
<path d="M501.0,105.0 501.5,99.8 502.1,99.7 502.6,99.6 503.2,99.6 503.7,99.6 505.4,99.6 507.2,99.5 508.9,99.3 510.7,99.0 512.4,98.7 514.2,98.3 515.9,97.8 517.7,97.4 519.4,96.9 521.1,96.4 522.9,95.8 524.6,95.2 526.4,94.5 528.1,93.8 529.9,93.1 531.6,92.4 533.3,91.6 535.1,90.9 536.8,90.1 538.6,89.3 540.3,88.4 542.1,87.6 543.8,86.6 545.5,85.7 547.3,84.7 549.0,83.7 550.8,82.6 552.5,81.6 554.3,80.5 556.0,79.5 557.7,78.4 559.5,77.4 561.2,76.4 563.0,75.3 564.7,74.3 566.5,73.2 568.2,72.0 570.0,70.8 571.7,69.5 573.4,68.3 575.2,67.0 576.9,65.7 578.7,64.5 580.4,63.2 582.2,62.0 583.9,60.8 585.6,59.5 587.4,58.1 589.1,56.6 590.9,55.1 592.6,53.6 594.4,52.1 596.1,50.5 597.8,48.8 599.6,46.9 601.3,44.9 603.1,42.6 604.8,39.7 606.6,35.0 607.1,32.7 607.6,30.0 608.2,27.1 608.7,23.9 609.3,20.4" stroke="#7fcc6b"/>
<path d="M501.0,113.1 501.6,103.0 502.2,102.6 502.7,102.4 503.3,102.3 503.9,102.3 505.8,102.1 507.7,101.8 509.5,101.5 511.4,101.2 513.3,100.9 515.2,100.5 517.1,100.0 518.9,99.6 520.8,99.2 522.7,98.7 524.6,98.1 526.4,97.5 528.3,96.8 530.2,96.1 532.1,95.4 534.0,94.7 535.8,93.9 537.7,93.1 539.6,92.3 541.5,91.5 543.3,90.6 545.2,89.7 547.1,88.8 549.0,87.8 550.9,86.8 552.7,85.7 554.6,84.7 556.5,83.6 558.4,82.4 560.2,81.3 562.1,80.2 564.0,79.1 565.9,78.1 567.7,77.0 569.6,76.0 571.5,74.9 573.4,73.7 575.3,72.5 577.1,71.2 579.0,69.9 580.9,68.6 582.8,67.4 584.6,66.1 586.5,64.9 588.4,63.6 590.3,62.4 592.2,61.0 594.0,59.6 595.9,58.0 597.8,56.4 599.7,54.8 601.5,53.2 603.4,51.6 605.3,50.0 607.2,48.2 609.1,46.2 610.9,44.2 612.8,41.5 614.7,36.7 615.3,34.2 615.9,31.3 616.4,28.1 617.0,24.4 617.6,20.4" stroke="#bcd63f"/>
<path d="M501.0,118.5 501.6,105.1 502.2,104.6 502.8,104.3 503.4,104.1 504.1,104.0 506.0,103.7 508.0,103.3 510.0,103.0 511.9,102.7 513.9,102.3 515.9,101.9 517.8,101.5 519.8,101.1 521.8,100.7 523.7,100.2 525.7,99.6 527.7,99.0 529.6,98.4 531.6,97.7 533.6,96.9 535.5,96.2 537.5,95.4 539.5,94.6 541.4,93.8 543.4,93.0 545.4,92.1 547.3,91.1 549.3,90.2 551.2,89.2 553.2,88.2 555.2,87.1 557.1,86.0 559.1,84.9 561.1,83.7 563.0,82.5 565.0,81.4 567.0,80.3 568.9,79.2 570.9,78.2 572.9,77.1 574.8,76.0 576.8,74.8 578.8,73.6 580.7,72.3 582.7,71.0 584.7,69.7 586.6,68.4 588.6,67.2 590.6,66.0 592.5,64.7 594.5,63.4 596.5,62.0 598.4,60.5 600.4,58.9 602.4,57.2 604.3,55.5 606.3,53.9 608.3,52.3 610.2,50.7 612.2,49.0 614.2,47.1 616.1,45.2 618.1,42.7 620.1,37.8 620.7,35.1 621.3,32.2 621.9,28.7 622.5,24.8 623.1,20.4" stroke="#fbbd27"/>
<path d="M501.0,122.7 501.6,106.8 502.3,106.2 502.9,105.8 503.5,105.6 504.2,105.4 506.2,105.0 508.2,104.6 510.3,104.2 512.3,103.9 514.3,103.5 516.4,103.1 518.4,102.7 520.5,102.3 522.5,101.8 524.5,101.4 526.6,100.8 528.6,100.2 530.6,99.6 532.7,98.9 534.7,98.2 536.8,97.4 538.8,96.6 540.8,95.8 542.9,95.0 544.9,94.1 546.9,93.2 549.0,92.3 551.0,91.3 553.0,90.3 555.1,89.2 557.1,88.2 559.2,87.1 561.2,85.9 563.2,84.7 565.3,83.5 567.3,82.3 569.3,81.2 571.4,80.2 573.4,79.1 575.4,78.0 577.5,76.9 579.5,75.7 581.6,74.5 583.6,73.2 585.6,71.9 587.7,70.6 589.7,69.3 591.7,68.0 593.8,66.8 595.8,65.6 597.9,64.2 599.9,62.8 601.9,61.3 604.0,59.6 606.0,57.9 608.0,56.2 610.1,54.5 612.1,52.9 614.1,51.4 616.2,49.7 618.2,47.9 620.3,46.0 622.3,43.6 624.3,38.7 625.0,35.9 625.6,32.8 626.2,29.2 626.9,25.0 627.5,20.4" stroke="#f8923a"/>
<path d="M501.0,129.1 501.7,109.3 502.3,108.5 503.0,108.0 503.7,107.7 504.3,107.5 506.5,106.9 508.6,106.4 510.8,106.0 512.9,105.6 515.0,105.2 517.2,104.8 519.3,104.4 521.5,104.0 523.6,103.6 525.7,103.1 527.9,102.6 530.0,102.0 532.2,101.4 534.3,100.7 536.5,100.0 538.6,99.2 540.7,98.4 542.9,97.6 545.0,96.8 547.2,95.9 549.3,94.9 551.5,94.0 553.6,93.0 555.7,91.9 557.9,90.9 560.0,89.8 562.2,88.6 564.3,87.4 566.4,86.2 568.6,85.0 570.7,83.7 572.9,82.6 575.0,81.5 577.2,80.5 579.3,79.4 581.4,78.3 583.6,77.1 585.7,75.8 587.9,74.5 590.0,73.2 592.2,71.9 594.3,70.6 596.4,69.3 598.6,68.1 600.7,66.8 602.9,65.5 605.0,64.0 607.1,62.4 609.3,60.7 611.4,58.9 613.6,57.1 615.7,55.4 617.9,53.8 620.0,52.3 622.1,50.7 624.3,48.9 626.4,47.2 628.6,45.0 630.7,40.0 631.4,37.1 632.0,33.8 632.7,30.0 633.4,25.5 634.0,20.4" stroke="#ef3b2c"/>
<path d="M501.0,42.4 501.5,49.0 502.0,50.7 502.5,52.0 503.0,53.1 503.5,53.9 505.1,55.6 506.7,57.2 508.3,58.7 509.9,59.9 511.5,60.9 513.0,61.9 514.6,62.9 516.2,64.0 517.8,65.1 519.4,66.3 521.0,67.4 522.6,68.6 524.2,69.7 525.8,70.9 527.4,72.1 529.0,73.3 530.6,74.4 532.2,75.6 533.8,76.9 535.4,78.1 537.0,79.3 538.6,80.5 540.2,81.8 541.8,83.1 543.4,84.3 545.0,85.6 546.5,86.9 548.1,88.2 549.7,89.6 551.3,90.9 552.9,92.4 554.5,93.8 556.1,95.3 557.7,96.7 559.3,98.1 560.9,99.4 562.5,100.6 564.1,101.8 565.7,102.9 567.3,104.0 568.9,105.1 570.5,106.3 572.1,107.5 573.7,108.6 575.3,109.8 576.9,110.9 578.5,112.1 580.1,113.4 581.6,114.9 583.2,116.6 584.8,118.7 586.4,121.2 588.0,123.9 589.6,126.5 591.2,129.0 592.8,131.3 594.4,133.6 596.0,135.9 597.6,138.1 598.1,138.7 598.6,139.4 599.1,140.1 599.6,140.7 600.1,141.4" stroke="#2fad74"/>
<path d="M501.0,38.7 501.5,47.6 502.1,49.3 502.6,50.7 503.2,51.7 503.7,52.5 505.4,54.2 507.2,55.9 508.9,57.4 510.6,58.8 512.4,60.0 514.1,61.1 515.9,62.3 517.6,63.5 519.3,64.8 521.1,66.1 522.8,67.4 524.5,68.7 526.3,70.0 528.0,71.4 529.8,72.7 531.5,74.0 533.2,75.3 535.0,76.6 536.7,77.9 538.4,79.3 540.2,80.6 541.9,81.9 543.6,83.3 545.4,84.6 547.1,85.9 548.9,87.3 550.6,88.7 552.3,90.1 554.1,91.5 555.8,93.0 557.5,94.4 559.3,95.9 561.0,97.3 562.8,98.7 564.5,100.0 566.2,101.2 568.0,102.4 569.7,103.4 571.4,104.3 573.2,105.3 574.9,106.2 576.7,107.2 578.4,108.2 580.1,109.2 581.9,110.1 583.6,111.1 585.3,112.1 587.1,113.1 588.8,114.3 590.5,115.7 592.3,117.4 594.0,119.4 595.8,121.6 597.5,123.8 599.2,125.9 601.0,127.9 602.7,130.0 604.4,132.2 606.2,134.8 606.7,135.7 607.3,136.8 607.8,138.2 608.3,139.8 608.9,141.4" stroke="#7fcc6b"/>
<path d="M501.0,35.0 501.6,46.2 502.2,48.0 502.7,49.4 503.3,50.3 503.9,51.1 505.8,52.8 507.7,54.7 509.5,56.3 511.4,57.7 513.3,59.0 515.2,60.3 517.1,61.7 518.9,63.1 520.8,64.6 522.7,66.0 524.6,67.5 526.4,68.9 528.3,70.4 530.2,71.8 532.1,73.3 534.0,74.7 535.8,76.2 537.7,77.6 539.6,79.0 541.5,80.5 543.3,81.9 545.2,83.3 547.1,84.7 549.0,86.1 550.9,87.5 552.7,88.9 554.6,90.4 556.5,91.9 558.4,93.4 560.2,95.0 562.1,96.5 564.0,97.9 565.9,99.3 567.7,100.7 569.6,102.0 571.5,103.1 573.4,104.1 575.3,105.0 577.1,105.8 579.0,106.6 580.9,107.3 582.8,108.1 584.6,108.9 586.5,109.7 588.4,110.4 590.3,111.2 592.2,112.0 594.0,112.9 595.9,113.8 597.8,114.9 599.7,116.2 601.5,117.7 603.4,119.4 605.3,121.1 607.2,122.8 609.1,124.6 610.9,126.5 612.8,128.6 614.7,131.6 615.3,132.7 615.9,134.3 616.4,136.4 617.0,138.8 617.6,141.4" stroke="#bcd63f"/>
<path d="M501.0,32.7 501.6,45.4 502.2,47.2 502.8,48.5 503.4,49.5 504.1,50.2 506.0,52.0 508.0,53.9 510.0,55.5 511.9,57.0 513.9,58.4 515.9,59.8 517.8,61.3 519.8,62.8 521.8,64.4 523.7,65.9 525.7,67.5 527.7,69.0 529.6,70.6 531.6,72.1 533.6,73.6 535.5,75.2 537.5,76.7 539.5,78.2 541.4,79.7 543.4,81.2 545.4,82.7 547.3,84.2 549.3,85.6 551.2,87.1 553.2,88.5 555.2,90.0 557.1,91.5 559.1,93.1 561.1,94.7 563.0,96.3 565.0,97.8 567.0,99.2 568.9,100.6 570.9,101.9 572.9,103.2 574.8,104.3 576.8,105.2 578.8,106.0 580.7,106.7 582.7,107.4 584.7,108.0 586.6,108.7 588.6,109.4 590.6,110.0 592.5,110.7 594.5,111.3 596.5,112.0 598.4,112.7 600.4,113.5 602.4,114.3 604.3,115.4 606.3,116.6 608.3,117.9 610.2,119.4 612.2,120.8 614.2,122.4 616.1,124.2 618.1,126.4 620.1,129.5 620.7,130.8 621.3,132.7 621.9,135.2 622.5,138.2 623.1,141.4" stroke="#fbbd27"/>
<path d="M501.0,30.9 501.6,44.7 502.3,46.5 502.9,47.9 503.5,48.8 504.2,49.5 506.2,51.3 508.2,53.2 510.3,54.9 512.3,56.4 514.3,57.9 516.4,59.4 518.4,61.0 520.5,62.6 522.5,64.2 524.5,65.9 526.6,67.5 528.6,69.1 530.6,70.7 532.7,72.3 534.7,73.9 536.8,75.5 538.8,77.1 540.8,78.7 542.9,80.3 544.9,81.8 546.9,83.4 549.0,84.9 551.0,86.4 553.0,87.8 555.1,89.3 557.1,90.8 559.2,92.3 561.2,94.0 563.2,95.6 565.3,97.3 567.3,98.8 569.3,100.2 571.4,101.6 573.4,102.9 575.4,104.1 577.5,105.2 579.5,106.1 581.6,106.8 583.6,107.4 585.6,108.0 587.7,108.6 589.7,109.2 591.7,109.8 593.8,110.3 595.8,110.8 597.9,111.4 599.9,112.0 601.9,112.6 604.0,113.2 606.0,113.9 608.0,114.8 610.1,115.7 612.1,116.8 614.1,118.0 616.2,119.3 618.2,120.7 620.3,122.4 622.3,124.6 624.3,127.9 625.0,129.3 625.6,131.4 626.2,134.3 626.9,137.7 627.5,141.4" stroke="#f8923a"/>
<path d="M501.0,28.3 501.7,43.7 502.3,45.6 503.0,47.0 503.7,47.9 504.3,48.5 506.4,50.3 508.6,52.3 510.7,54.1 512.9,55.6 515.0,57.2 517.1,58.9 519.3,60.6 521.4,62.3 523.5,64.0 525.7,65.8 527.8,67.5 529.9,69.2 532.1,70.9 534.2,72.6 536.3,74.3 538.5,76.0 540.6,77.7 542.7,79.4 544.9,81.0 547.0,82.7 549.1,84.3 551.3,85.8 553.4,87.4 555.5,88.9 557.7,90.4 559.8,91.9 561.9,93.5 564.1,95.2 566.2,97.0 568.4,98.7 570.5,100.2 572.6,101.6 574.8,103.0 576.9,104.3 579.0,105.5 581.2,106.5 583.3,107.3 585.4,107.9 587.6,108.4 589.7,108.9 591.8,109.4 594.0,109.8 596.1,110.3 598.2,110.7 600.4,111.1 602.5,111.5 604.6,111.9 606.8,112.4 608.9,112.9 611.0,113.3 613.2,113.9 615.3,114.5 617.4,115.3 619.6,116.1 621.7,117.1 623.9,118.4 626.0,119.9 628.1,122.1 630.3,125.7 630.9,127.2 631.6,129.7 632.2,133.0 632.9,137.1 633.6,141.4" stroke="#ef3b2c"/>
</g>
<rect x="37.9" y="11.4" width="607.3" height="137" fill="none" stroke="#262626" stroke-width="1.3"/>
<line x1="189.5" y1="11.4" x2="189.5" y2="148.4" stroke="#262626" stroke-width="1.3"/>
<line x1="341.4" y1="11.4" x2="341.4" y2="148.4" stroke="#262626" stroke-width="1.3"/>
<line x1="493.1" y1="11.4" x2="493.1" y2="148.4" stroke="#262626" stroke-width="1.3"/>
<line x1="37.9" y1="141.4" x2="40.6" y2="141.4" stroke="#262626" stroke-width="1.3"/>
<text x="34.6" y="144.3" font-size="8.2" text-anchor="end">1.5</text>
<line x1="37.9" y1="119.4" x2="40.6" y2="119.4" stroke="#262626" stroke-width="1.3"/>
<text x="34.6" y="122.3" font-size="8.2" text-anchor="end">2.0</text>
<line x1="37.9" y1="97.4" x2="40.6" y2="97.4" stroke="#262626" stroke-width="1.3"/>
<text x="34.6" y="100.3" font-size="8.2" text-anchor="end">2.5</text>
<line x1="37.9" y1="75.4" x2="40.6" y2="75.4" stroke="#262626" stroke-width="1.3"/>
<text x="34.6" y="78.3" font-size="8.2" text-anchor="end">3.0</text>
<line x1="37.9" y1="53.4" x2="40.6" y2="53.4" stroke="#262626" stroke-width="1.3"/>
<text x="34.6" y="56.3" font-size="8.2" text-anchor="end">3.5</text>
<line x1="37.9" y1="31.4" x2="40.6" y2="31.4" stroke="#262626" stroke-width="1.3"/>
<text x="34.6" y="34.3" font-size="8.2" text-anchor="end">4.0</text>
<line x1="46.7" y1="148.4" x2="46.7" y2="145.8" stroke="#262626" stroke-width="1.3"/>
<text x="46.7" y="158.2" font-size="8" text-anchor="middle">0</text>
<line x1="81.5" y1="148.4" x2="81.5" y2="145.8" stroke="#262626" stroke-width="1.3"/>
<text x="81.5" y="158.2" font-size="8" text-anchor="middle">40</text>
<line x1="116.2" y1="148.4" x2="116.2" y2="145.8" stroke="#262626" stroke-width="1.3"/>
<text x="116.2" y="158.2" font-size="8" text-anchor="middle">80</text>
<line x1="151" y1="148.4" x2="151" y2="145.8" stroke="#262626" stroke-width="1.3"/>
<text x="151" y="158.2" font-size="8" text-anchor="middle">120</text>
<line x1="185.7" y1="148.4" x2="185.7" y2="145.8" stroke="#262626" stroke-width="1.3"/>
<text x="185.7" y="158.2" font-size="8" text-anchor="middle">160</text>
<text x="45.2" y="141" font-size="7.7">W-NMT2</text>
<text x="104.4" y="176.8" font-size="10.2" text-anchor="middle">Specific capacity / mAh g<tspan dy="-4.6" font-size="5.8">-1</tspan></text>
<line x1="198.4" y1="148.4" x2="198.4" y2="145.8" stroke="#262626" stroke-width="1.3"/>
<text x="198.4" y="158.2" font-size="8" text-anchor="middle">0</text>
<line x1="233.2" y1="148.4" x2="233.2" y2="145.8" stroke="#262626" stroke-width="1.3"/>
<text x="233.2" y="158.2" font-size="8" text-anchor="middle">40</text>
<line x1="267.9" y1="148.4" x2="267.9" y2="145.8" stroke="#262626" stroke-width="1.3"/>
<text x="267.9" y="158.2" font-size="8" text-anchor="middle">80</text>
<line x1="302.7" y1="148.4" x2="302.7" y2="145.8" stroke="#262626" stroke-width="1.3"/>
<text x="302.7" y="158.2" font-size="8" text-anchor="middle">120</text>
<line x1="337.4" y1="148.4" x2="337.4" y2="145.8" stroke="#262626" stroke-width="1.3"/>
<text x="337.4" y="158.2" font-size="8" text-anchor="middle">160</text>
<text x="196.8" y="141" font-size="7.7">W-NMT10</text>
<text x="262.9" y="176.8" font-size="10.2" text-anchor="middle">Specific capacity / mAh g<tspan dy="-4.6" font-size="5.8">-1</tspan></text>
<line x1="349.2" y1="148.4" x2="349.2" y2="145.8" stroke="#262626" stroke-width="1.3"/>
<text x="349.2" y="158.2" font-size="8" text-anchor="middle">0</text>
<line x1="384.2" y1="148.4" x2="384.2" y2="145.8" stroke="#262626" stroke-width="1.3"/>
<text x="384.2" y="158.2" font-size="8" text-anchor="middle">45</text>
<line x1="419.2" y1="148.4" x2="419.2" y2="145.8" stroke="#262626" stroke-width="1.3"/>
<text x="419.2" y="158.2" font-size="8" text-anchor="middle">90</text>
<line x1="454.2" y1="148.4" x2="454.2" y2="145.8" stroke="#262626" stroke-width="1.3"/>
<text x="454.2" y="158.2" font-size="8" text-anchor="middle">135</text>
<line x1="489.2" y1="148.4" x2="489.2" y2="145.8" stroke="#262626" stroke-width="1.3"/>
<text x="489.2" y="158.2" font-size="8" text-anchor="middle">180</text>
<text x="348.4" y="141" font-size="7.7">W-NMT2</text>
<text x="421.3" y="176.8" font-size="10.2" text-anchor="middle">Specific capacity / mAh g<tspan dy="-4.6" font-size="5.8">-1</tspan></text>
<line x1="501" y1="148.4" x2="501" y2="145.8" stroke="#262626" stroke-width="1.3"/>
<text x="501" y="158.2" font-size="8" text-anchor="middle">0</text>
<line x1="536.1" y1="148.4" x2="536.1" y2="145.8" stroke="#262626" stroke-width="1.3"/>
<text x="536.1" y="158.2" font-size="8" text-anchor="middle">45</text>
<line x1="571.1" y1="148.4" x2="571.1" y2="145.8" stroke="#262626" stroke-width="1.3"/>
<text x="571.1" y="158.2" font-size="8" text-anchor="middle">90</text>
<line x1="606.2" y1="148.4" x2="606.2" y2="145.8" stroke="#262626" stroke-width="1.3"/>
<text x="606.2" y="158.2" font-size="8" text-anchor="middle">135</text>
<line x1="641.2" y1="148.4" x2="641.2" y2="145.8" stroke="#262626" stroke-width="1.3"/>
<text x="641.2" y="158.2" font-size="8" text-anchor="middle">180</text>
<text x="500.2" y="141" font-size="7.7">W-NMT10</text>
<text x="572" y="176.8" font-size="10.2" text-anchor="middle">Specific capacity / mAh g<tspan dy="-4.6" font-size="5.8">-1</tspan></text>
<text x="124.1" y="141" font-size="8.4">1 C=200 mA/g</text>
<text x="12.8" y="73.4" font-size="9.4" text-anchor="middle" transform="rotate(-90 12.8 73.4)" dy="3.3">Potential (V vs. Na|Na<tspan dy="-3.5" font-size="6.5">+</tspan><tspan dy="3.5">)</tspan></text>
<line x1="606.9" y1="64.8" x2="622.9" y2="64.8" stroke="#ef3b2c" stroke-width="1.6"/>
<text x="624.8" y="67.3" font-size="6.9">0.1 C</text>
<line x1="606.9" y1="74.2" x2="622.9" y2="74.2" stroke="#f8923a" stroke-width="1.6"/>
<text x="624.8" y="76.7" font-size="6.9">0.2 C</text>
<line x1="606.9" y1="83.5" x2="622.9" y2="83.5" stroke="#fbbd27" stroke-width="1.6"/>
<text x="624.8" y="86" font-size="6.9">0.3 C</text>
<line x1="606.9" y1="92.6" x2="622.9" y2="92.6" stroke="#bcd63f" stroke-width="1.6"/>
<text x="624.8" y="95.1" font-size="6.9">0.5 C</text>
<line x1="606.9" y1="102.3" x2="622.9" y2="102.3" stroke="#7fcc6b" stroke-width="1.6"/>
<text x="624.8" y="104.8" font-size="6.9">1 C</text>
<line x1="606.9" y1="111.4" x2="622.9" y2="111.4" stroke="#2fad74" stroke-width="1.6"/>
<text x="624.8" y="113.9" font-size="6.9">2 C</text>
<text x="18" y="194.2" font-size="13">b</text>
<g fill="url(#gr)">
<circle cx="49.2" cy="231.0" r="3.9"/>
<circle cx="50.2" cy="208.6" r="3.9"/>
<circle cx="51.1" cy="215.7" r="3.9"/>
<circle cx="52.1" cy="214.4" r="3.9"/>
<circle cx="53.1" cy="214.5" r="3.9"/>
<circle cx="54.1" cy="213.3" r="3.9"/>
<circle cx="55.1" cy="209.5" r="3.9"/>
<circle cx="56.0" cy="212.7" r="3.9"/>
<circle cx="57.0" cy="214.2" r="3.9"/>
<circle cx="58.0" cy="211.5" r="3.9"/>
<circle cx="59.0" cy="214.0" r="3.9"/>
<circle cx="60.0" cy="210.5" r="3.9"/>
<circle cx="60.9" cy="212.1" r="3.9"/>
<circle cx="61.9" cy="210.0" r="3.9"/>
<circle cx="62.9" cy="214.1" r="3.9"/>
<circle cx="63.9" cy="207.4" r="3.9"/>
<circle cx="64.9" cy="211.1" r="3.9"/>
<circle cx="65.8" cy="211.4" r="3.9"/>
<circle cx="66.8" cy="212.9" r="3.9"/>
<circle cx="67.8" cy="214.2" r="3.9"/>
<circle cx="68.8" cy="214.5" r="3.9"/>
<circle cx="69.8" cy="213.0" r="3.9"/>
<circle cx="70.7" cy="214.4" r="3.9"/>
<circle cx="71.7" cy="212.2" r="3.9"/>
<circle cx="72.7" cy="214.4" r="3.9"/>
<circle cx="73.7" cy="211.5" r="3.9"/>
<circle cx="74.7" cy="210.8" r="3.9"/>
<circle cx="75.6" cy="214.2" r="3.9"/>
<circle cx="76.6" cy="210.4" r="3.9"/>
<circle cx="77.6" cy="213.2" r="3.9"/>
<circle cx="78.6" cy="210.4" r="3.9"/>
<circle cx="79.6" cy="211.9" r="3.9"/>
<circle cx="80.5" cy="210.5" r="3.9"/>
<circle cx="81.5" cy="214.8" r="3.9"/>
<circle cx="82.5" cy="213.0" r="3.9"/>
<circle cx="83.5" cy="209.8" r="3.9"/>
<circle cx="84.5" cy="214.0" r="3.9"/>
<circle cx="85.5" cy="216.8" r="3.9"/>
<circle cx="86.4" cy="216.7" r="3.9"/>
<circle cx="87.4" cy="217.8" r="3.9"/>
<circle cx="88.4" cy="217.0" r="3.9"/>
<circle cx="89.4" cy="213.6" r="3.9"/>
<circle cx="90.4" cy="210.2" r="3.9"/>
<circle cx="91.3" cy="213.6" r="3.9"/>
<circle cx="92.3" cy="212.1" r="3.9"/>
<circle cx="93.3" cy="213.0" r="3.9"/>
<circle cx="94.3" cy="212.7" r="3.9"/>
<circle cx="95.3" cy="213.1" r="3.9"/>
<circle cx="96.2" cy="213.1" r="3.9"/>
<circle cx="97.2" cy="211.8" r="3.9"/>
<circle cx="98.2" cy="215.1" r="3.9"/>
<circle cx="99.2" cy="210.7" r="3.9"/>
<circle cx="100.2" cy="210.9" r="3.9"/>
<circle cx="101.1" cy="213.2" r="3.9"/>
<circle cx="102.1" cy="211.1" r="3.9"/>
<circle cx="103.1" cy="214.2" r="3.9"/>
<circle cx="104.1" cy="213.8" r="3.9"/>
<circle cx="105.1" cy="212.4" r="3.9"/>
<circle cx="106.0" cy="213.1" r="3.9"/>
<circle cx="107.0" cy="213.7" r="3.9"/>
<circle cx="108.0" cy="214.1" r="3.9"/>
<circle cx="109.0" cy="213.9" r="3.9"/>
<circle cx="110.0" cy="210.9" r="3.9"/>
<circle cx="110.9" cy="216.7" r="3.9"/>
<circle cx="111.9" cy="212.1" r="3.9"/>
<circle cx="112.9" cy="213.2" r="3.9"/>
<circle cx="113.9" cy="211.3" r="3.9"/>
<circle cx="114.9" cy="211.7" r="3.9"/>
<circle cx="115.8" cy="218.1" r="3.9"/>
<circle cx="116.8" cy="211.6" r="3.9"/>
<circle cx="117.8" cy="212.1" r="3.9"/>
<circle cx="118.8" cy="212.7" r="3.9"/>
<circle cx="119.8" cy="213.7" r="3.9"/>
<circle cx="120.7" cy="211.0" r="3.9"/>
<circle cx="121.7" cy="213.6" r="3.9"/>
<circle cx="122.7" cy="209.1" r="3.9"/>
<circle cx="123.7" cy="211.6" r="3.9"/>
<circle cx="124.7" cy="208.5" r="3.9"/>
<circle cx="125.6" cy="214.3" r="3.9"/>
<circle cx="126.6" cy="216.3" r="3.9"/>
<circle cx="127.6" cy="211.3" r="3.9"/>
<circle cx="128.6" cy="211.0" r="3.9"/>
<circle cx="129.6" cy="212.7" r="3.9"/>
<circle cx="130.5" cy="215.8" r="3.9"/>
<circle cx="131.5" cy="213.7" r="3.9"/>
<circle cx="132.5" cy="211.5" r="3.9"/>
<circle cx="133.5" cy="213.1" r="3.9"/>
<circle cx="134.5" cy="213.0" r="3.9"/>
<circle cx="135.4" cy="213.1" r="3.9"/>
<circle cx="136.4" cy="214.6" r="3.9"/>
<circle cx="137.4" cy="213.8" r="3.9"/>
<circle cx="138.4" cy="215.6" r="3.9"/>
<circle cx="139.4" cy="209.2" r="3.9"/>
<circle cx="140.3" cy="213.7" r="3.9"/>
<circle cx="141.3" cy="211.8" r="3.9"/>
<circle cx="142.3" cy="214.8" r="3.9"/>
<circle cx="143.3" cy="211.2" r="3.9"/>
<circle cx="144.3" cy="216.5" r="3.9"/>
<circle cx="145.2" cy="210.9" r="3.9"/>
<circle cx="146.2" cy="212.8" r="3.9"/>
<circle cx="147.2" cy="208.5" r="3.9"/>
<circle cx="148.2" cy="215.4" r="3.9"/>
<circle cx="149.2" cy="212.6" r="3.9"/>
<circle cx="150.2" cy="212.0" r="3.9"/>
<circle cx="151.1" cy="210.3" r="3.9"/>
<circle cx="152.1" cy="213.6" r="3.9"/>
<circle cx="153.1" cy="212.6" r="3.9"/>
<circle cx="154.1" cy="217.1" r="3.9"/>
<circle cx="155.1" cy="214.4" r="3.9"/>
<circle cx="156.0" cy="211.9" r="3.9"/>
<circle cx="157.0" cy="210.5" r="3.9"/>
<circle cx="158.0" cy="213.3" r="3.9"/>
<circle cx="159.0" cy="208.6" r="3.9"/>
<circle cx="160.0" cy="209.2" r="3.9"/>
<circle cx="160.9" cy="212.9" r="3.9"/>
<circle cx="161.9" cy="217.6" r="3.9"/>
<circle cx="162.9" cy="216.3" r="3.9"/>
<circle cx="163.9" cy="214.3" r="3.9"/>
<circle cx="164.9" cy="210.5" r="3.9"/>
<circle cx="165.8" cy="212.1" r="3.9"/>
<circle cx="166.8" cy="217.0" r="3.9"/>
<circle cx="167.8" cy="213.2" r="3.9"/>
<circle cx="168.8" cy="209.5" r="3.9"/>
<circle cx="169.8" cy="213.5" r="3.9"/>
<circle cx="170.7" cy="214.3" r="3.9"/>
<circle cx="171.7" cy="208.6" r="3.9"/>
<circle cx="172.7" cy="212.7" r="3.9"/>
<circle cx="173.7" cy="213.7" r="3.9"/>
<circle cx="174.7" cy="212.1" r="3.9"/>
<circle cx="175.6" cy="212.7" r="3.9"/>
<circle cx="176.6" cy="213.6" r="3.9"/>
<circle cx="177.6" cy="210.3" r="3.9"/>
<circle cx="178.6" cy="210.5" r="3.9"/>
<circle cx="179.6" cy="211.1" r="3.9"/>
<circle cx="180.5" cy="213.0" r="3.9"/>
<circle cx="181.5" cy="210.5" r="3.9"/>
<circle cx="182.5" cy="212.9" r="3.9"/>
<circle cx="183.5" cy="211.8" r="3.9"/>
<circle cx="184.5" cy="210.7" r="3.9"/>
<circle cx="185.4" cy="211.1" r="3.9"/>
<circle cx="186.4" cy="209.2" r="3.9"/>
<circle cx="187.4" cy="211.9" r="3.9"/>
<circle cx="188.4" cy="216.1" r="3.9"/>
<circle cx="189.4" cy="215.1" r="3.9"/>
<circle cx="190.3" cy="210.0" r="3.9"/>
<circle cx="191.3" cy="213.4" r="3.9"/>
<circle cx="192.3" cy="212.0" r="3.9"/>
<circle cx="193.3" cy="214.5" r="3.9"/>
<circle cx="194.3" cy="210.7" r="3.9"/>
<circle cx="195.2" cy="213.5" r="3.9"/>
<circle cx="196.2" cy="209.8" r="3.9"/>
<circle cx="197.2" cy="213.8" r="3.9"/>
<circle cx="198.2" cy="210.5" r="3.9"/>
<circle cx="199.2" cy="211.4" r="3.9"/>
<circle cx="200.1" cy="214.2" r="3.9"/>
<circle cx="201.1" cy="210.6" r="3.9"/>
<circle cx="202.1" cy="214.6" r="3.9"/>
<circle cx="203.1" cy="214.4" r="3.9"/>
<circle cx="204.1" cy="211.3" r="3.9"/>
<circle cx="205.0" cy="214.0" r="3.9"/>
<circle cx="206.0" cy="214.0" r="3.9"/>
<circle cx="207.0" cy="213.4" r="3.9"/>
<circle cx="208.0" cy="214.8" r="3.9"/>
<circle cx="209.0" cy="210.7" r="3.9"/>
<circle cx="209.9" cy="211.5" r="3.9"/>
<circle cx="210.9" cy="212.9" r="3.9"/>
<circle cx="211.9" cy="213.0" r="3.9"/>
<circle cx="212.9" cy="211.9" r="3.9"/>
<circle cx="213.9" cy="209.2" r="3.9"/>
<circle cx="214.9" cy="211.0" r="3.9"/>
<circle cx="215.8" cy="213.8" r="3.9"/>
<circle cx="216.8" cy="211.2" r="3.9"/>
<circle cx="217.8" cy="213.0" r="3.9"/>
<circle cx="218.8" cy="213.2" r="3.9"/>
<circle cx="219.8" cy="209.0" r="3.9"/>
<circle cx="220.7" cy="213.6" r="3.9"/>
<circle cx="221.7" cy="213.7" r="3.9"/>
<circle cx="222.7" cy="216.7" r="3.9"/>
<circle cx="223.7" cy="215.6" r="3.9"/>
<circle cx="224.7" cy="211.9" r="3.9"/>
<circle cx="225.6" cy="214.2" r="3.9"/>
<circle cx="226.6" cy="211.7" r="3.9"/>
<circle cx="227.6" cy="215.0" r="3.9"/>
<circle cx="228.6" cy="214.3" r="3.9"/>
<circle cx="229.6" cy="211.4" r="3.9"/>
<circle cx="230.5" cy="209.8" r="3.9"/>
<circle cx="231.5" cy="211.6" r="3.9"/>
<circle cx="232.5" cy="210.4" r="3.9"/>
<circle cx="233.5" cy="209.3" r="3.9"/>
<circle cx="234.5" cy="210.7" r="3.9"/>
<circle cx="235.4" cy="214.6" r="3.9"/>
<circle cx="236.4" cy="213.0" r="3.9"/>
<circle cx="237.4" cy="211.5" r="3.9"/>
<circle cx="238.4" cy="213.6" r="3.9"/>
<circle cx="239.4" cy="211.9" r="3.9"/>
<circle cx="240.3" cy="215.9" r="3.9"/>
<circle cx="241.3" cy="214.4" r="3.9"/>
<circle cx="242.3" cy="211.7" r="3.9"/>
<circle cx="243.3" cy="217.2" r="3.9"/>
<circle cx="244.3" cy="215.0" r="3.9"/>
<circle cx="245.2" cy="212.8" r="3.9"/>
<circle cx="246.2" cy="216.2" r="3.9"/>
<circle cx="247.2" cy="212.6" r="3.9"/>
<circle cx="248.2" cy="214.4" r="3.9"/>
<circle cx="249.2" cy="213.3" r="3.9"/>
<circle cx="250.1" cy="213.3" r="3.9"/>
<circle cx="251.1" cy="212.4" r="3.9"/>
<circle cx="252.1" cy="213.9" r="3.9"/>
<circle cx="253.1" cy="212.6" r="3.9"/>
<circle cx="254.1" cy="214.0" r="3.9"/>
<circle cx="255.0" cy="211.6" r="3.9"/>
<circle cx="256.0" cy="209.4" r="3.9"/>
<circle cx="257.0" cy="212.4" r="3.9"/>
<circle cx="258.0" cy="212.4" r="3.9"/>
<circle cx="259.0" cy="215.1" r="3.9"/>
<circle cx="259.9" cy="211.4" r="3.9"/>
<circle cx="260.9" cy="214.3" r="3.9"/>
<circle cx="261.9" cy="214.4" r="3.9"/>
<circle cx="262.9" cy="211.6" r="3.9"/>
<circle cx="263.9" cy="212.4" r="3.9"/>
<circle cx="264.8" cy="210.5" r="3.9"/>
<circle cx="265.8" cy="209.9" r="3.9"/>
<circle cx="266.8" cy="213.8" r="3.9"/>
<circle cx="267.8" cy="212.5" r="3.9"/>
<circle cx="268.8" cy="209.2" r="3.9"/>
<circle cx="269.7" cy="210.8" r="3.9"/>
<circle cx="270.7" cy="211.3" r="3.9"/>
<circle cx="271.7" cy="210.1" r="3.9"/>
<circle cx="272.7" cy="214.0" r="3.9"/>
<circle cx="273.7" cy="211.5" r="3.9"/>
<circle cx="274.6" cy="209.9" r="3.9"/>
<circle cx="275.6" cy="209.5" r="3.9"/>
<circle cx="276.6" cy="214.4" r="3.9"/>
<circle cx="277.6" cy="213.3" r="3.9"/>
<circle cx="278.6" cy="212.0" r="3.9"/>
<circle cx="279.6" cy="213.3" r="3.9"/>
<circle cx="280.5" cy="213.5" r="3.9"/>
<circle cx="281.5" cy="211.4" r="3.9"/>
<circle cx="282.5" cy="213.5" r="3.9"/>
<circle cx="283.5" cy="216.3" r="3.9"/>
<circle cx="284.5" cy="212.0" r="3.9"/>
<circle cx="285.4" cy="213.6" r="3.9"/>
<circle cx="286.4" cy="214.2" r="3.9"/>
<circle cx="287.4" cy="215.9" r="3.9"/>
<circle cx="288.4" cy="210.7" r="3.9"/>
<circle cx="289.4" cy="217.2" r="3.9"/>
<circle cx="290.3" cy="216.2" r="3.9"/>
<circle cx="291.3" cy="213.3" r="3.9"/>
<circle cx="292.3" cy="210.3" r="3.9"/>
<circle cx="293.3" cy="210.1" r="3.9"/>
<circle cx="294.3" cy="215.1" r="3.9"/>
<circle cx="295.2" cy="213.1" r="3.9"/>
<circle cx="296.2" cy="215.8" r="3.9"/>
<circle cx="297.2" cy="210.7" r="3.9"/>
<circle cx="298.2" cy="215.7" r="3.9"/>
<circle cx="299.2" cy="213.0" r="3.9"/>
<circle cx="300.1" cy="210.7" r="3.9"/>
<circle cx="301.1" cy="213.2" r="3.9"/>
<circle cx="302.1" cy="209.8" r="3.9"/>
<circle cx="303.1" cy="214.5" r="3.9"/>
<circle cx="304.1" cy="212.0" r="3.9"/>
<circle cx="305.0" cy="211.0" r="3.9"/>
<circle cx="306.0" cy="213.0" r="3.9"/>
<circle cx="307.0" cy="210.0" r="3.9"/>
<circle cx="308.0" cy="211.7" r="3.9"/>
<circle cx="309.0" cy="216.0" r="3.9"/>
<circle cx="309.9" cy="207.4" r="3.9"/>
<circle cx="310.9" cy="211.5" r="3.9"/>
<circle cx="311.9" cy="212.5" r="3.9"/>
<circle cx="312.9" cy="215.6" r="3.9"/>
<circle cx="313.9" cy="212.6" r="3.9"/>
<circle cx="314.8" cy="213.7" r="3.9"/>
<circle cx="315.8" cy="211.5" r="3.9"/>
<circle cx="316.8" cy="212.0" r="3.9"/>
<circle cx="317.8" cy="209.0" r="3.9"/>
<circle cx="318.8" cy="212.5" r="3.9"/>
<circle cx="319.7" cy="211.7" r="3.9"/>
<circle cx="320.7" cy="212.0" r="3.9"/>
<circle cx="321.7" cy="213.1" r="3.9"/>
<circle cx="322.7" cy="213.1" r="3.9"/>
<circle cx="323.7" cy="210.5" r="3.9"/>
<circle cx="324.6" cy="211.2" r="3.9"/>
<circle cx="325.6" cy="214.0" r="3.9"/>
<circle cx="326.6" cy="215.0" r="3.9"/>
<circle cx="327.6" cy="212.9" r="3.9"/>
<circle cx="328.6" cy="210.4" r="3.9"/>
<circle cx="329.5" cy="212.8" r="3.9"/>
<circle cx="330.5" cy="209.3" r="3.9"/>
<circle cx="331.5" cy="214.3" r="3.9"/>
<circle cx="332.5" cy="212.5" r="3.9"/>
<circle cx="333.5" cy="217.8" r="3.9"/>
<circle cx="334.4" cy="214.0" r="3.9"/>
<circle cx="335.4" cy="213.4" r="3.9"/>
<circle cx="336.4" cy="211.7" r="3.9"/>
<circle cx="337.4" cy="209.3" r="3.9"/>
<circle cx="338.4" cy="212.7" r="3.9"/>
<circle cx="339.3" cy="209.8" r="3.9"/>
<circle cx="340.3" cy="211.4" r="3.9"/>
<circle cx="341.3" cy="210.8" r="3.9"/>
<circle cx="342.3" cy="213.7" r="3.9"/>
<circle cx="343.3" cy="210.0" r="3.9"/>
<circle cx="344.3" cy="214.9" r="3.9"/>
<circle cx="345.2" cy="211.8" r="3.9"/>
<circle cx="346.2" cy="214.7" r="3.9"/>
<circle cx="347.2" cy="213.8" r="3.9"/>
<circle cx="348.2" cy="215.7" r="3.9"/>
<circle cx="349.2" cy="213.8" r="3.9"/>
<circle cx="350.1" cy="212.1" r="3.9"/>
<circle cx="351.1" cy="212.9" r="3.9"/>
<circle cx="352.1" cy="215.5" r="3.9"/>
<circle cx="353.1" cy="209.8" r="3.9"/>
<circle cx="354.1" cy="212.1" r="3.9"/>
<circle cx="355.0" cy="210.7" r="3.9"/>
<circle cx="356.0" cy="211.2" r="3.9"/>
<circle cx="357.0" cy="214.1" r="3.9"/>
<circle cx="358.0" cy="216.7" r="3.9"/>
<circle cx="359.0" cy="214.6" r="3.9"/>
<circle cx="359.9" cy="210.3" r="3.9"/>
<circle cx="360.9" cy="214.9" r="3.9"/>
<circle cx="361.9" cy="211.1" r="3.9"/>
<circle cx="362.9" cy="214.0" r="3.9"/>
<circle cx="363.9" cy="212.0" r="3.9"/>
<circle cx="364.8" cy="216.4" r="3.9"/>
<circle cx="365.8" cy="210.4" r="3.9"/>
<circle cx="366.8" cy="212.8" r="3.9"/>
<circle cx="367.8" cy="211.0" r="3.9"/>
<circle cx="368.8" cy="212.4" r="3.9"/>
<circle cx="369.7" cy="211.2" r="3.9"/>
<circle cx="370.7" cy="213.0" r="3.9"/>
<circle cx="371.7" cy="211.3" r="3.9"/>
<circle cx="372.7" cy="215.8" r="3.9"/>
<circle cx="373.7" cy="214.9" r="3.9"/>
<circle cx="374.6" cy="211.3" r="3.9"/>
<circle cx="375.6" cy="212.8" r="3.9"/>
<circle cx="376.6" cy="213.2" r="3.9"/>
<circle cx="377.6" cy="213.1" r="3.9"/>
<circle cx="378.6" cy="211.8" r="3.9"/>
<circle cx="379.5" cy="213.9" r="3.9"/>
<circle cx="380.5" cy="211.7" r="3.9"/>
<circle cx="381.5" cy="214.6" r="3.9"/>
<circle cx="382.5" cy="213.6" r="3.9"/>
<circle cx="383.5" cy="210.8" r="3.9"/>
<circle cx="384.4" cy="210.6" r="3.9"/>
<circle cx="385.4" cy="215.0" r="3.9"/>
<circle cx="386.4" cy="211.1" r="3.9"/>
<circle cx="387.4" cy="214.8" r="3.9"/>
<circle cx="388.4" cy="211.3" r="3.9"/>
<circle cx="389.3" cy="216.6" r="3.9"/>
<circle cx="390.3" cy="215.0" r="3.9"/>
<circle cx="391.3" cy="213.8" r="3.9"/>
<circle cx="392.3" cy="213.1" r="3.9"/>
<circle cx="393.3" cy="209.9" r="3.9"/>
<circle cx="394.2" cy="210.9" r="3.9"/>
<circle cx="395.2" cy="209.6" r="3.9"/>
<circle cx="396.2" cy="210.3" r="3.9"/>
<circle cx="397.2" cy="213.3" r="3.9"/>
<circle cx="398.2" cy="213.3" r="3.9"/>
<circle cx="399.1" cy="210.6" r="3.9"/>
<circle cx="400.1" cy="212.7" r="3.9"/>
<circle cx="401.1" cy="213.1" r="3.9"/>
<circle cx="402.1" cy="215.4" r="3.9"/>
<circle cx="403.1" cy="213.0" r="3.9"/>
<circle cx="404.0" cy="218.1" r="3.9"/>
<circle cx="405.0" cy="213.7" r="3.9"/>
<circle cx="406.0" cy="214.7" r="3.9"/>
<circle cx="407.0" cy="211.4" r="3.9"/>
<circle cx="408.0" cy="213.7" r="3.9"/>
<circle cx="409.0" cy="213.4" r="3.9"/>
<circle cx="409.9" cy="210.1" r="3.9"/>
<circle cx="410.9" cy="214.9" r="3.9"/>
<circle cx="411.9" cy="212.1" r="3.9"/>
<circle cx="412.9" cy="216.6" r="3.9"/>
<circle cx="413.9" cy="212.6" r="3.9"/>
<circle cx="414.8" cy="211.9" r="3.9"/>
<circle cx="415.8" cy="211.0" r="3.9"/>
<circle cx="416.8" cy="214.6" r="3.9"/>
<circle cx="417.8" cy="212.1" r="3.9"/>
<circle cx="418.8" cy="212.1" r="3.9"/>
<circle cx="419.7" cy="212.8" r="3.9"/>
<circle cx="420.7" cy="212.5" r="3.9"/>
<circle cx="421.7" cy="211.8" r="3.9"/>
<circle cx="422.7" cy="212.0" r="3.9"/>
<circle cx="423.7" cy="214.8" r="3.9"/>
<circle cx="424.6" cy="215.2" r="3.9"/>
<circle cx="425.6" cy="207.7" r="3.9"/>
<circle cx="426.6" cy="208.9" r="3.9"/>
<circle cx="427.6" cy="215.6" r="3.9"/>
<circle cx="428.6" cy="211.9" r="3.9"/>
<circle cx="429.5" cy="211.5" r="3.9"/>
<circle cx="430.5" cy="211.3" r="3.9"/>
<circle cx="431.5" cy="212.5" r="3.9"/>
<circle cx="432.5" cy="214.6" r="3.9"/>
<circle cx="433.5" cy="213.1" r="3.9"/>
<circle cx="434.4" cy="213.7" r="3.9"/>
<circle cx="435.4" cy="212.5" r="3.9"/>
<circle cx="436.4" cy="213.3" r="3.9"/>
<circle cx="437.4" cy="213.0" r="3.9"/>
<circle cx="438.4" cy="210.7" r="3.9"/>
<circle cx="439.3" cy="210.3" r="3.9"/>
<circle cx="440.3" cy="215.1" r="3.9"/>
<circle cx="441.3" cy="213.7" r="3.9"/>
<circle cx="442.3" cy="214.3" r="3.9"/>
<circle cx="443.3" cy="210.3" r="3.9"/>
<circle cx="444.2" cy="212.9" r="3.9"/>
<circle cx="445.2" cy="209.8" r="3.9"/>
<circle cx="446.2" cy="213.7" r="3.9"/>
<circle cx="447.2" cy="212.7" r="3.9"/>
<circle cx="448.2" cy="215.5" r="3.9"/>
<circle cx="449.1" cy="210.1" r="3.9"/>
<circle cx="450.1" cy="213.5" r="3.9"/>
<circle cx="451.1" cy="215.7" r="3.9"/>
<circle cx="452.1" cy="213.9" r="3.9"/>
<circle cx="453.1" cy="217.4" r="3.9"/>
<circle cx="454.0" cy="212.8" r="3.9"/>
<circle cx="455.0" cy="212.5" r="3.9"/>
<circle cx="456.0" cy="212.2" r="3.9"/>
<circle cx="457.0" cy="209.8" r="3.9"/>
<circle cx="458.0" cy="213.4" r="3.9"/>
<circle cx="458.9" cy="211.1" r="3.9"/>
<circle cx="459.9" cy="212.1" r="3.9"/>
<circle cx="460.9" cy="213.1" r="3.9"/>
<circle cx="461.9" cy="216.9" r="3.9"/>
<circle cx="462.9" cy="210.9" r="3.9"/>
<circle cx="463.8" cy="213.8" r="3.9"/>
<circle cx="464.8" cy="212.7" r="3.9"/>
<circle cx="465.8" cy="215.3" r="3.9"/>
<circle cx="466.8" cy="212.2" r="3.9"/>
<circle cx="467.8" cy="212.5" r="3.9"/>
<circle cx="468.7" cy="212.7" r="3.9"/>
<circle cx="469.7" cy="213.0" r="3.9"/>
<circle cx="470.7" cy="210.7" r="3.9"/>
<circle cx="471.7" cy="210.8" r="3.9"/>
<circle cx="472.7" cy="211.3" r="3.9"/>
<circle cx="473.7" cy="207.4" r="3.9"/>
<circle cx="474.6" cy="214.0" r="3.9"/>
<circle cx="475.6" cy="213.5" r="3.9"/>
<circle cx="476.6" cy="214.8" r="3.9"/>
<circle cx="477.6" cy="211.9" r="3.9"/>
<circle cx="478.6" cy="214.1" r="3.9"/>
<circle cx="479.5" cy="218.1" r="3.9"/>
<circle cx="480.5" cy="215.2" r="3.9"/>
<circle cx="481.5" cy="212.6" r="3.9"/>
<circle cx="482.5" cy="210.7" r="3.9"/>
<circle cx="483.5" cy="215.9" r="3.9"/>
<circle cx="484.4" cy="214.0" r="3.9"/>
<circle cx="485.4" cy="213.0" r="3.9"/>
<circle cx="486.4" cy="214.2" r="3.9"/>
<circle cx="487.4" cy="211.7" r="3.9"/>
<circle cx="488.4" cy="212.8" r="3.9"/>
<circle cx="489.3" cy="212.1" r="3.9"/>
<circle cx="490.3" cy="214.2" r="3.9"/>
<circle cx="491.3" cy="209.7" r="3.9"/>
<circle cx="492.3" cy="212.8" r="3.9"/>
<circle cx="493.3" cy="210.2" r="3.9"/>
<circle cx="494.2" cy="213.6" r="3.9"/>
<circle cx="495.2" cy="211.6" r="3.9"/>
<circle cx="496.2" cy="214.1" r="3.9"/>
<circle cx="497.2" cy="214.7" r="3.9"/>
<circle cx="498.2" cy="214.2" r="3.9"/>
<circle cx="499.1" cy="212.9" r="3.9"/>
<circle cx="500.1" cy="213.2" r="3.9"/>
<circle cx="501.1" cy="209.7" r="3.9"/>
<circle cx="502.1" cy="215.1" r="3.9"/>
<circle cx="503.1" cy="214.9" r="3.9"/>
<circle cx="504.0" cy="209.3" r="3.9"/>
<circle cx="505.0" cy="211.5" r="3.9"/>
<circle cx="506.0" cy="216.5" r="3.9"/>
<circle cx="507.0" cy="211.8" r="3.9"/>
<circle cx="508.0" cy="212.3" r="3.9"/>
<circle cx="508.9" cy="217.1" r="3.9"/>
<circle cx="509.9" cy="213.5" r="3.9"/>
<circle cx="510.9" cy="212.8" r="3.9"/>
<circle cx="511.9" cy="211.3" r="3.9"/>
<circle cx="512.9" cy="210.8" r="3.9"/>
<circle cx="513.8" cy="212.6" r="3.9"/>
<circle cx="514.8" cy="210.7" r="3.9"/>
<circle cx="515.8" cy="213.1" r="3.9"/>
<circle cx="516.8" cy="214.5" r="3.9"/>
<circle cx="517.8" cy="214.6" r="3.9"/>
<circle cx="518.7" cy="211.7" r="3.9"/>
<circle cx="519.7" cy="216.7" r="3.9"/>
<circle cx="520.7" cy="211.4" r="3.9"/>
<circle cx="521.7" cy="215.0" r="3.9"/>
<circle cx="522.7" cy="213.5" r="3.9"/>
<circle cx="523.6" cy="211.7" r="3.9"/>
<circle cx="524.6" cy="210.3" r="3.9"/>
<circle cx="525.6" cy="216.7" r="3.9"/>
<circle cx="526.6" cy="214.4" r="3.9"/>
<circle cx="527.6" cy="212.7" r="3.9"/>
<circle cx="528.5" cy="214.0" r="3.9"/>
<circle cx="529.5" cy="211.0" r="3.9"/>
<circle cx="530.5" cy="216.9" r="3.9"/>
<circle cx="531.5" cy="212.0" r="3.9"/>
<circle cx="532.5" cy="211.9" r="3.9"/>
<circle cx="533.4" cy="212.7" r="3.9"/>
<circle cx="534.4" cy="210.5" r="3.9"/>
<circle cx="535.4" cy="215.2" r="3.9"/>
<circle cx="536.4" cy="210.5" r="3.9"/>
<circle cx="537.4" cy="214.2" r="3.9"/>
<circle cx="538.4" cy="211.3" r="3.9"/>
<circle cx="539.3" cy="213.4" r="3.9"/>
<circle cx="540.3" cy="211.1" r="3.9"/>
<circle cx="541.3" cy="211.2" r="3.9"/>
<circle cx="542.3" cy="215.7" r="3.9"/>
<circle cx="543.3" cy="213.1" r="3.9"/>
<circle cx="544.2" cy="212.9" r="3.9"/>
<circle cx="545.2" cy="213.2" r="3.9"/>
<circle cx="546.2" cy="214.3" r="3.9"/>
<circle cx="547.2" cy="209.0" r="3.9"/>
<circle cx="548.2" cy="212.3" r="3.9"/>
<circle cx="549.1" cy="209.6" r="3.9"/>
<circle cx="550.1" cy="213.9" r="3.9"/>
<circle cx="551.1" cy="214.9" r="3.9"/>
<circle cx="552.1" cy="212.5" r="3.9"/>
<circle cx="553.1" cy="213.9" r="3.9"/>
<circle cx="554.0" cy="208.0" r="3.9"/>
<circle cx="555.0" cy="212.3" r="3.9"/>
<circle cx="556.0" cy="210.4" r="3.9"/>
<circle cx="557.0" cy="213.2" r="3.9"/>
<circle cx="558.0" cy="213.4" r="3.9"/>
<circle cx="558.9" cy="212.8" r="3.9"/>
<circle cx="559.9" cy="212.0" r="3.9"/>
<circle cx="560.9" cy="211.1" r="3.9"/>
<circle cx="561.9" cy="213.0" r="3.9"/>
<circle cx="562.9" cy="214.1" r="3.9"/>
<circle cx="563.8" cy="214.9" r="3.9"/>
<circle cx="564.8" cy="212.9" r="3.9"/>
<circle cx="565.8" cy="211.6" r="3.9"/>
<circle cx="566.8" cy="211.8" r="3.9"/>
<circle cx="567.8" cy="212.8" r="3.9"/>
<circle cx="568.7" cy="214.0" r="3.9"/>
<circle cx="569.7" cy="212.5" r="3.9"/>
<circle cx="570.7" cy="211.6" r="3.9"/>
<circle cx="571.7" cy="212.8" r="3.9"/>
<circle cx="572.7" cy="212.5" r="3.9"/>
<circle cx="573.6" cy="213.1" r="3.9"/>
<circle cx="574.6" cy="210.9" r="3.9"/>
<circle cx="575.6" cy="213.6" r="3.9"/>
<circle cx="576.6" cy="212.4" r="3.9"/>
<circle cx="577.6" cy="212.0" r="3.9"/>
<circle cx="578.5" cy="211.3" r="3.9"/>
<circle cx="579.5" cy="209.8" r="3.9"/>
<circle cx="580.5" cy="211.4" r="3.9"/>
<circle cx="581.5" cy="211.6" r="3.9"/>
<circle cx="582.5" cy="215.7" r="3.9"/>
<circle cx="583.4" cy="211.5" r="3.9"/>
<circle cx="584.4" cy="208.2" r="3.9"/>
<circle cx="585.4" cy="214.4" r="3.9"/>
<circle cx="586.4" cy="214.8" r="3.9"/>
<circle cx="587.4" cy="213.2" r="3.9"/>
<circle cx="588.3" cy="210.7" r="3.9"/>
<circle cx="589.3" cy="211.7" r="3.9"/>
<circle cx="590.3" cy="213.7" r="3.9"/>
<circle cx="591.3" cy="212.8" r="3.9"/>
<circle cx="592.3" cy="210.7" r="3.9"/>
<circle cx="593.2" cy="211.4" r="3.9"/>
<circle cx="594.2" cy="207.9" r="3.9"/>
<circle cx="595.2" cy="210.7" r="3.9"/>
<circle cx="596.2" cy="212.0" r="3.9"/>
<circle cx="597.2" cy="211.5" r="3.9"/>
<circle cx="598.1" cy="213.5" r="3.9"/>
<circle cx="599.1" cy="214.7" r="3.9"/>
<circle cx="600.1" cy="212.4" r="3.9"/>
<circle cx="601.1" cy="211.8" r="3.9"/>
<circle cx="602.1" cy="215.6" r="3.9"/>
<circle cx="603.0" cy="213.8" r="3.9"/>
<circle cx="604.0" cy="213.5" r="3.9"/>
<circle cx="605.0" cy="212.2" r="3.9"/>
<circle cx="606.0" cy="213.3" r="3.9"/>
<circle cx="607.0" cy="211.9" r="3.9"/>
<circle cx="608.0" cy="212.6" r="3.9"/>
<circle cx="608.9" cy="210.6" r="3.9"/>
<circle cx="609.9" cy="216.2" r="3.9"/>
<circle cx="610.9" cy="209.4" r="3.9"/>
<circle cx="611.9" cy="209.9" r="3.9"/>
<circle cx="612.9" cy="212.7" r="3.9"/>
<circle cx="613.8" cy="211.5" r="3.9"/>
<circle cx="614.8" cy="211.5" r="3.9"/>
<circle cx="615.8" cy="214.2" r="3.9"/>
<circle cx="616.8" cy="212.4" r="3.9"/>
<circle cx="617.8" cy="211.2" r="3.9"/>
<circle cx="618.7" cy="212.1" r="3.9"/>
<circle cx="619.7" cy="210.6" r="3.9"/>
<circle cx="620.7" cy="212.6" r="3.9"/>
<circle cx="621.7" cy="212.6" r="3.9"/>
<circle cx="622.7" cy="214.3" r="3.9"/>
<circle cx="623.6" cy="213.5" r="3.9"/>
<circle cx="624.6" cy="213.7" r="3.9"/>
<circle cx="625.6" cy="209.3" r="3.9"/>
<circle cx="626.6" cy="212.3" r="3.9"/>
<circle cx="627.6" cy="214.8" r="3.9"/>
<circle cx="628.5" cy="212.0" r="3.9"/>
<circle cx="629.5" cy="213.1" r="3.9"/>
<circle cx="630.5" cy="218.1" r="3.9"/>
<circle cx="631.5" cy="211.8" r="3.9"/>
<circle cx="632.5" cy="215.9" r="3.9"/>
<circle cx="633.4" cy="211.6" r="3.9"/>
<circle cx="634.4" cy="214.7" r="3.9"/>
<circle cx="635.4" cy="215.7" r="3.9"/>
<circle cx="636.4" cy="211.8" r="3.9"/>
</g>
<g fill="url(#gr)">
<circle cx="50.2" cy="260.1" r="3.9"/>
<circle cx="52.1" cy="262.0" r="3.9"/>
<circle cx="54.1" cy="262.4" r="3.9"/>
<circle cx="56.0" cy="262.8" r="3.9"/>
<circle cx="58.0" cy="263.2" r="3.9"/>
<circle cx="60.0" cy="263.6" r="3.9"/>
<circle cx="61.9" cy="264.0" r="3.9"/>
<circle cx="63.9" cy="264.4" r="3.9"/>
<circle cx="65.8" cy="264.8" r="3.9"/>
<circle cx="67.8" cy="265.3" r="3.9"/>
<circle cx="69.8" cy="265.5" r="3.9"/>
<circle cx="71.7" cy="265.8" r="3.9"/>
<circle cx="73.7" cy="266.0" r="3.9"/>
<circle cx="75.6" cy="266.3" r="3.9"/>
<circle cx="77.6" cy="266.5" r="3.9"/>
<circle cx="79.6" cy="266.8" r="3.9"/>
<circle cx="81.5" cy="267.1" r="3.9"/>
<circle cx="83.5" cy="267.3" r="3.9"/>
<circle cx="85.5" cy="267.6" r="3.9"/>
<circle cx="87.4" cy="267.8" r="3.9"/>
<circle cx="89.4" cy="268.1" r="3.9"/>
<circle cx="91.3" cy="268.4" r="3.9"/>
<circle cx="93.3" cy="268.6" r="3.9"/>
<circle cx="95.3" cy="268.9" r="3.9"/>
<circle cx="97.2" cy="269.1" r="3.9"/>
<circle cx="99.2" cy="269.3" r="3.9"/>
<circle cx="101.1" cy="269.5" r="3.9"/>
<circle cx="103.1" cy="269.6" r="3.9"/>
<circle cx="105.1" cy="269.8" r="3.9"/>
<circle cx="107.0" cy="269.9" r="3.9"/>
<circle cx="109.0" cy="269.4" r="3.9"/>
<circle cx="110.9" cy="269.8" r="3.9"/>
<circle cx="112.9" cy="269.7" r="3.9"/>
<circle cx="114.9" cy="269.7" r="3.9"/>
<circle cx="116.8" cy="270.0" r="3.9"/>
<circle cx="118.8" cy="270.7" r="3.9"/>
<circle cx="120.7" cy="269.9" r="3.9"/>
<circle cx="122.7" cy="271.2" r="3.9"/>
<circle cx="124.7" cy="272.7" r="3.9"/>
<circle cx="126.6" cy="272.0" r="3.9"/>
<circle cx="128.6" cy="271.3" r="3.9"/>
<circle cx="130.5" cy="270.8" r="3.9"/>
<circle cx="132.5" cy="271.0" r="3.9"/>
<circle cx="134.5" cy="273.4" r="3.9"/>
<circle cx="136.4" cy="272.0" r="3.9"/>
<circle cx="138.4" cy="271.6" r="3.9"/>
<circle cx="140.3" cy="272.5" r="3.9"/>
<circle cx="142.3" cy="274.3" r="3.9"/>
<circle cx="144.3" cy="272.7" r="3.9"/>
<circle cx="146.2" cy="273.3" r="3.9"/>
<circle cx="148.2" cy="273.1" r="3.9"/>
<circle cx="150.2" cy="272.7" r="3.9"/>
<circle cx="152.1" cy="272.1" r="3.9"/>
<circle cx="154.1" cy="272.9" r="3.9"/>
<circle cx="156.0" cy="273.2" r="3.9"/>
<circle cx="158.0" cy="274.1" r="3.9"/>
<circle cx="160.0" cy="274.5" r="3.9"/>
<circle cx="161.9" cy="274.8" r="3.9"/>
<circle cx="163.9" cy="274.4" r="3.9"/>
<circle cx="165.8" cy="275.1" r="3.9"/>
<circle cx="167.8" cy="273.8" r="3.9"/>
<circle cx="169.8" cy="275.8" r="3.9"/>
<circle cx="171.7" cy="275.4" r="3.9"/>
<circle cx="173.7" cy="274.8" r="3.9"/>
<circle cx="175.6" cy="275.7" r="3.9"/>
<circle cx="177.6" cy="275.4" r="3.9"/>
<circle cx="179.6" cy="276.7" r="3.9"/>
<circle cx="181.5" cy="277.2" r="3.9"/>
<circle cx="183.5" cy="278.0" r="3.9"/>
<circle cx="185.4" cy="275.0" r="3.9"/>
<circle cx="187.4" cy="275.1" r="3.9"/>
<circle cx="189.4" cy="276.2" r="3.9"/>
<circle cx="191.3" cy="277.0" r="3.9"/>
<circle cx="193.3" cy="277.8" r="3.9"/>
<circle cx="195.2" cy="277.5" r="3.9"/>
<circle cx="197.2" cy="275.6" r="3.9"/>
<circle cx="199.2" cy="277.3" r="3.9"/>
<circle cx="201.1" cy="278.5" r="3.9"/>
<circle cx="203.1" cy="278.1" r="3.9"/>
<circle cx="205.0" cy="278.7" r="3.9"/>
<circle cx="207.0" cy="277.9" r="3.9"/>
<circle cx="209.0" cy="278.1" r="3.9"/>
<circle cx="210.9" cy="278.5" r="3.9"/>
<circle cx="212.9" cy="278.9" r="3.9"/>
<circle cx="214.9" cy="278.8" r="3.9"/>
<circle cx="216.8" cy="278.8" r="3.9"/>
<circle cx="218.8" cy="278.3" r="3.9"/>
<circle cx="220.7" cy="279.3" r="3.9"/>
<circle cx="222.7" cy="279.2" r="3.9"/>
<circle cx="224.7" cy="280.2" r="3.9"/>
<circle cx="226.6" cy="280.4" r="3.9"/>
<circle cx="228.6" cy="279.6" r="3.9"/>
<circle cx="230.5" cy="279.3" r="3.9"/>
<circle cx="232.5" cy="279.2" r="3.9"/>
<circle cx="234.5" cy="280.2" r="3.9"/>
<circle cx="236.4" cy="280.1" r="3.9"/>
<circle cx="238.4" cy="279.8" r="3.9"/>
<circle cx="240.3" cy="280.3" r="3.9"/>
<circle cx="242.3" cy="279.8" r="3.9"/>
<circle cx="244.3" cy="281.1" r="3.9"/>
<circle cx="246.2" cy="280.3" r="3.9"/>
<circle cx="248.2" cy="281.9" r="3.9"/>
<circle cx="250.1" cy="281.3" r="3.9"/>
<circle cx="252.1" cy="281.6" r="3.9"/>
<circle cx="254.1" cy="280.2" r="3.9"/>
<circle cx="256.0" cy="281.5" r="3.9"/>
<circle cx="258.0" cy="282.2" r="3.9"/>
<circle cx="259.9" cy="280.8" r="3.9"/>
<circle cx="261.9" cy="281.6" r="3.9"/>
<circle cx="263.9" cy="282.0" r="3.9"/>
<circle cx="265.8" cy="280.8" r="3.9"/>
<circle cx="267.8" cy="282.5" r="3.9"/>
<circle cx="269.7" cy="283.1" r="3.9"/>
<circle cx="271.7" cy="281.7" r="3.9"/>
<circle cx="273.7" cy="283.0" r="3.9"/>
<circle cx="275.6" cy="281.6" r="3.9"/>
<circle cx="277.6" cy="282.9" r="3.9"/>
<circle cx="279.6" cy="281.6" r="3.9"/>
<circle cx="281.5" cy="284.2" r="3.9"/>
<circle cx="283.5" cy="283.7" r="3.9"/>
<circle cx="285.4" cy="283.5" r="3.9"/>
<circle cx="287.4" cy="282.9" r="3.9"/>
<circle cx="289.4" cy="284.9" r="3.9"/>
<circle cx="291.3" cy="285.7" r="3.9"/>
<circle cx="293.3" cy="282.4" r="3.9"/>
<circle cx="295.2" cy="285.3" r="3.9"/>
<circle cx="297.2" cy="285.9" r="3.9"/>
<circle cx="299.2" cy="284.9" r="3.9"/>
<circle cx="301.1" cy="283.6" r="3.9"/>
<circle cx="303.1" cy="285.6" r="3.9"/>
<circle cx="305.0" cy="284.9" r="3.9"/>
<circle cx="307.0" cy="284.6" r="3.9"/>
<circle cx="309.0" cy="284.2" r="3.9"/>
<circle cx="310.9" cy="286.0" r="3.9"/>
<circle cx="312.9" cy="286.4" r="3.9"/>
<circle cx="314.8" cy="285.3" r="3.9"/>
<circle cx="316.8" cy="286.5" r="3.9"/>
<circle cx="318.8" cy="285.1" r="3.9"/>
<circle cx="320.7" cy="287.0" r="3.9"/>
<circle cx="322.7" cy="286.5" r="3.9"/>
<circle cx="324.6" cy="286.5" r="3.9"/>
<circle cx="326.6" cy="286.7" r="3.9"/>
<circle cx="328.6" cy="287.7" r="3.9"/>
<circle cx="330.5" cy="287.8" r="3.9"/>
<circle cx="332.5" cy="287.8" r="3.9"/>
<circle cx="334.4" cy="287.6" r="3.9"/>
<circle cx="336.4" cy="287.7" r="3.9"/>
<circle cx="338.4" cy="288.3" r="3.9"/>
<circle cx="340.3" cy="288.1" r="3.9"/>
<circle cx="342.3" cy="288.7" r="3.9"/>
<circle cx="344.3" cy="288.0" r="3.9"/>
<circle cx="346.2" cy="286.2" r="3.9"/>
<circle cx="348.2" cy="289.5" r="3.9"/>
<circle cx="350.1" cy="290.6" r="3.9"/>
<circle cx="352.1" cy="289.2" r="3.9"/>
<circle cx="354.1" cy="288.9" r="3.9"/>
<circle cx="356.0" cy="289.0" r="3.9"/>
<circle cx="358.0" cy="289.1" r="3.9"/>
<circle cx="359.9" cy="289.4" r="3.9"/>
<circle cx="361.9" cy="288.5" r="3.9"/>
<circle cx="363.9" cy="289.2" r="3.9"/>
<circle cx="365.8" cy="288.9" r="3.9"/>
<circle cx="367.8" cy="290.2" r="3.9"/>
<circle cx="369.7" cy="289.9" r="3.9"/>
<circle cx="371.7" cy="290.7" r="3.9"/>
<circle cx="373.7" cy="290.3" r="3.9"/>
<circle cx="375.6" cy="291.5" r="3.9"/>
<circle cx="377.6" cy="290.9" r="3.9"/>
<circle cx="379.5" cy="292.8" r="3.9"/>
<circle cx="381.5" cy="289.3" r="3.9"/>
<circle cx="383.5" cy="290.6" r="3.9"/>
<circle cx="385.4" cy="292.1" r="3.9"/>
<circle cx="387.4" cy="293.7" r="3.9"/>
<circle cx="389.3" cy="291.4" r="3.9"/>
<circle cx="391.3" cy="291.8" r="3.9"/>
<circle cx="393.3" cy="291.7" r="3.9"/>
<circle cx="395.2" cy="293.2" r="3.9"/>
<circle cx="397.2" cy="291.9" r="3.9"/>
<circle cx="399.1" cy="292.9" r="3.9"/>
<circle cx="401.1" cy="292.1" r="3.9"/>
<circle cx="403.1" cy="291.4" r="3.9"/>
<circle cx="405.0" cy="292.9" r="3.9"/>
<circle cx="407.0" cy="293.2" r="3.9"/>
<circle cx="409.0" cy="294.1" r="3.9"/>
<circle cx="410.9" cy="292.9" r="3.9"/>
<circle cx="412.9" cy="292.6" r="3.9"/>
<circle cx="414.8" cy="293.8" r="3.9"/>
<circle cx="416.8" cy="293.6" r="3.9"/>
<circle cx="418.8" cy="293.8" r="3.9"/>
<circle cx="420.7" cy="293.6" r="3.9"/>
<circle cx="422.7" cy="294.9" r="3.9"/>
<circle cx="424.6" cy="294.3" r="3.9"/>
<circle cx="426.6" cy="295.8" r="3.9"/>
<circle cx="428.6" cy="295.2" r="3.9"/>
<circle cx="430.5" cy="294.9" r="3.9"/>
<circle cx="432.5" cy="293.0" r="3.9"/>
<circle cx="434.4" cy="295.1" r="3.9"/>
<circle cx="436.4" cy="295.1" r="3.9"/>
<circle cx="438.4" cy="295.6" r="3.9"/>
<circle cx="440.3" cy="295.9" r="3.9"/>
<circle cx="442.3" cy="294.8" r="3.9"/>
<circle cx="444.2" cy="296.0" r="3.9"/>
<circle cx="446.2" cy="294.9" r="3.9"/>
<circle cx="448.2" cy="297.3" r="3.9"/>
<circle cx="450.1" cy="294.4" r="3.9"/>
<circle cx="452.1" cy="294.2" r="3.9"/>
<circle cx="454.0" cy="294.4" r="3.9"/>
<circle cx="456.0" cy="295.2" r="3.9"/>
<circle cx="458.0" cy="295.1" r="3.9"/>
<circle cx="459.9" cy="298.0" r="3.9"/>
<circle cx="461.9" cy="296.1" r="3.9"/>
<circle cx="463.8" cy="295.3" r="3.9"/>
<circle cx="465.8" cy="297.7" r="3.9"/>
<circle cx="467.8" cy="296.3" r="3.9"/>
<circle cx="469.7" cy="295.8" r="3.9"/>
<circle cx="471.7" cy="297.9" r="3.9"/>
<circle cx="473.7" cy="297.8" r="3.9"/>
<circle cx="475.6" cy="296.9" r="3.9"/>
<circle cx="477.6" cy="298.7" r="3.9"/>
<circle cx="479.5" cy="297.7" r="3.9"/>
<circle cx="481.5" cy="299.2" r="3.9"/>
<circle cx="483.5" cy="298.3" r="3.9"/>
<circle cx="485.4" cy="299.3" r="3.9"/>
<circle cx="487.4" cy="298.1" r="3.9"/>
<circle cx="489.3" cy="297.1" r="3.9"/>
<circle cx="491.3" cy="300.5" r="3.9"/>
<circle cx="493.3" cy="297.9" r="3.9"/>
<circle cx="495.2" cy="298.3" r="3.9"/>
<circle cx="497.2" cy="298.0" r="3.9"/>
<circle cx="499.1" cy="298.7" r="3.9"/>
<circle cx="501.1" cy="298.8" r="3.9"/>
<circle cx="503.1" cy="299.0" r="3.9"/>
<circle cx="505.0" cy="299.1" r="3.9"/>
<circle cx="507.0" cy="299.2" r="3.9"/>
<circle cx="508.9" cy="299.3" r="3.9"/>
<circle cx="510.9" cy="299.4" r="3.9"/>
<circle cx="512.9" cy="299.5" r="3.9"/>
<circle cx="514.8" cy="299.6" r="3.9"/>
<circle cx="516.8" cy="299.8" r="3.9"/>
<circle cx="518.7" cy="299.9" r="3.9"/>
<circle cx="520.7" cy="300.0" r="3.9"/>
<circle cx="522.7" cy="300.1" r="3.9"/>
<circle cx="524.6" cy="300.2" r="3.9"/>
<circle cx="526.6" cy="300.3" r="3.9"/>
<circle cx="528.5" cy="300.4" r="3.9"/>
<circle cx="530.5" cy="300.6" r="3.9"/>
<circle cx="532.5" cy="300.7" r="3.9"/>
<circle cx="534.4" cy="300.8" r="3.9"/>
<circle cx="536.4" cy="300.9" r="3.9"/>
<circle cx="538.4" cy="301.0" r="3.9"/>
<circle cx="540.3" cy="301.1" r="3.9"/>
<circle cx="542.3" cy="301.2" r="3.9"/>
<circle cx="544.2" cy="301.4" r="3.9"/>
<circle cx="546.2" cy="301.5" r="3.9"/>
<circle cx="548.2" cy="301.6" r="3.9"/>
<circle cx="550.1" cy="301.7" r="3.9"/>
<circle cx="552.1" cy="301.8" r="3.9"/>
<circle cx="554.0" cy="301.9" r="3.9"/>
<circle cx="556.0" cy="302.0" r="3.9"/>
<circle cx="558.0" cy="302.2" r="3.9"/>
<circle cx="559.9" cy="302.3" r="3.9"/>
<circle cx="561.9" cy="302.4" r="3.9"/>
<circle cx="563.8" cy="302.5" r="3.9"/>
<circle cx="565.8" cy="302.6" r="3.9"/>
<circle cx="567.8" cy="302.7" r="3.9"/>
<circle cx="569.7" cy="302.8" r="3.9"/>
<circle cx="571.7" cy="302.9" r="3.9"/>
<circle cx="573.6" cy="303.1" r="3.9"/>
<circle cx="575.6" cy="303.2" r="3.9"/>
<circle cx="577.6" cy="303.3" r="3.9"/>
<circle cx="579.5" cy="303.4" r="3.9"/>
<circle cx="581.5" cy="303.5" r="3.9"/>
<circle cx="583.4" cy="303.6" r="3.9"/>
<circle cx="585.4" cy="303.7" r="3.9"/>
<circle cx="587.4" cy="303.9" r="3.9"/>
<circle cx="589.3" cy="304.0" r="3.9"/>
<circle cx="591.3" cy="304.1" r="3.9"/>
<circle cx="593.2" cy="304.2" r="3.9"/>
<circle cx="595.2" cy="304.3" r="3.9"/>
<circle cx="597.2" cy="304.4" r="3.9"/>
<circle cx="599.1" cy="304.5" r="3.9"/>
<circle cx="601.1" cy="304.7" r="3.9"/>
<circle cx="603.0" cy="304.8" r="3.9"/>
<circle cx="605.0" cy="304.9" r="3.9"/>
<circle cx="607.0" cy="305.0" r="3.9"/>
<circle cx="608.9" cy="305.1" r="3.9"/>
<circle cx="610.9" cy="305.2" r="3.9"/>
<circle cx="612.9" cy="305.3" r="3.9"/>
<circle cx="614.8" cy="305.5" r="3.9"/>
<circle cx="616.8" cy="305.6" r="3.9"/>
<circle cx="618.7" cy="305.7" r="3.9"/>
<circle cx="620.7" cy="305.8" r="3.9"/>
<circle cx="622.7" cy="305.9" r="3.9"/>
<circle cx="624.6" cy="306.0" r="3.9"/>
<circle cx="626.6" cy="306.1" r="3.9"/>
<circle cx="628.5" cy="306.3" r="3.9"/>
<circle cx="630.5" cy="306.4" r="3.9"/>
<circle cx="632.5" cy="306.5" r="3.9"/>
<circle cx="634.4" cy="306.6" r="3.9"/>
<circle cx="636.4" cy="306.7" r="3.9"/>
</g>
<circle cx="49.2" cy="256.1" r="3.9" fill="url(#gr)" opacity="0.45"/>
<line x1="49.8" y1="214" x2="49.8" y2="236" stroke="#fbb476" stroke-width="0.8"/>
<g fill="url(#go)">
<circle cx="49.2" cy="236.2" r="3.9"/>
<circle cx="50.2" cy="205.3" r="3.9"/>
<circle cx="51.1" cy="217.8" r="3.9"/>
<circle cx="52.1" cy="207.0" r="3.9"/>
<circle cx="53.1" cy="213.2" r="3.9"/>
<circle cx="54.1" cy="212.9" r="3.9"/>
<circle cx="55.1" cy="204.9" r="3.9"/>
<circle cx="56.0" cy="215.1" r="3.9"/>
<circle cx="57.0" cy="208.1" r="3.9"/>
<circle cx="58.0" cy="213.9" r="3.9"/>
<circle cx="59.0" cy="217.1" r="3.9"/>
<circle cx="60.0" cy="213.0" r="3.9"/>
<circle cx="60.9" cy="207.1" r="3.9"/>
<circle cx="61.9" cy="212.5" r="3.9"/>
<circle cx="62.9" cy="210.5" r="3.9"/>
<circle cx="63.9" cy="211.3" r="3.9"/>
<circle cx="64.9" cy="211.7" r="3.9"/>
<circle cx="65.8" cy="213.5" r="3.9"/>
<circle cx="66.8" cy="211.8" r="3.9"/>
<circle cx="67.8" cy="219.2" r="3.9"/>
<circle cx="68.8" cy="214.1" r="3.9"/>
<circle cx="69.8" cy="219.8" r="3.9"/>
<circle cx="70.7" cy="210.7" r="3.9"/>
<circle cx="71.7" cy="211.0" r="3.9"/>
<circle cx="72.7" cy="214.7" r="3.9"/>
<circle cx="73.7" cy="208.8" r="3.9"/>
<circle cx="74.7" cy="211.0" r="3.9"/>
<circle cx="75.6" cy="211.1" r="3.9"/>
<circle cx="76.6" cy="213.7" r="3.9"/>
<circle cx="77.6" cy="210.7" r="3.9"/>
<circle cx="78.6" cy="207.8" r="3.9"/>
<circle cx="79.6" cy="215.0" r="3.9"/>
<circle cx="80.5" cy="214.7" r="3.9"/>
<circle cx="81.5" cy="207.1" r="3.9"/>
<circle cx="82.5" cy="219.7" r="3.9"/>
<circle cx="83.5" cy="219.4" r="3.9"/>
<circle cx="84.5" cy="219.4" r="3.9"/>
<circle cx="85.5" cy="212.1" r="3.9"/>
<circle cx="86.4" cy="211.2" r="3.9"/>
<circle cx="87.4" cy="209.8" r="3.9"/>
<circle cx="88.4" cy="211.5" r="3.9"/>
<circle cx="89.4" cy="206.3" r="3.9"/>
<circle cx="90.4" cy="205.5" r="3.9"/>
<circle cx="91.3" cy="207.7" r="3.9"/>
<circle cx="92.3" cy="216.3" r="3.9"/>
<circle cx="93.3" cy="210.0" r="3.9"/>
<circle cx="94.3" cy="215.5" r="3.9"/>
<circle cx="95.3" cy="214.8" r="3.9"/>
<circle cx="96.2" cy="216.4" r="3.9"/>
<circle cx="97.2" cy="211.9" r="3.9"/>
<circle cx="98.2" cy="209.5" r="3.9"/>
<circle cx="99.2" cy="212.4" r="3.9"/>
<circle cx="100.2" cy="217.0" r="3.9"/>
<circle cx="101.1" cy="218.1" r="3.9"/>
<circle cx="102.1" cy="215.0" r="3.9"/>
<circle cx="103.1" cy="214.9" r="3.9"/>
<circle cx="104.1" cy="209.5" r="3.9"/>
<circle cx="105.1" cy="213.6" r="3.9"/>
<circle cx="106.0" cy="212.5" r="3.9"/>
<circle cx="107.0" cy="212.6" r="3.9"/>
<circle cx="108.0" cy="207.7" r="3.9"/>
<circle cx="109.0" cy="205.2" r="3.9"/>
<circle cx="110.0" cy="210.5" r="3.9"/>
<circle cx="110.9" cy="212.9" r="3.9"/>
<circle cx="111.9" cy="206.8" r="3.9"/>
<circle cx="112.9" cy="211.0" r="3.9"/>
<circle cx="113.9" cy="214.4" r="3.9"/>
<circle cx="114.9" cy="208.2" r="3.9"/>
<circle cx="115.8" cy="211.5" r="3.9"/>
<circle cx="116.8" cy="218.1" r="3.9"/>
<circle cx="117.8" cy="209.6" r="3.9"/>
<circle cx="118.8" cy="211.4" r="3.9"/>
<circle cx="119.8" cy="219.3" r="3.9"/>
<circle cx="120.7" cy="219.4" r="3.9"/>
<circle cx="121.7" cy="213.3" r="3.9"/>
<circle cx="122.7" cy="213.9" r="3.9"/>
<circle cx="123.7" cy="212.3" r="3.9"/>
<circle cx="124.7" cy="212.8" r="3.9"/>
<circle cx="125.6" cy="214.0" r="3.9"/>
<circle cx="126.6" cy="213.1" r="3.9"/>
<circle cx="127.6" cy="212.7" r="3.9"/>
<circle cx="128.6" cy="213.0" r="3.9"/>
<circle cx="129.6" cy="212.7" r="3.9"/>
<circle cx="130.5" cy="213.3" r="3.9"/>
<circle cx="131.5" cy="212.8" r="3.9"/>
<circle cx="132.5" cy="212.9" r="3.9"/>
<circle cx="133.5" cy="213.0" r="3.9"/>
<circle cx="134.5" cy="213.0" r="3.9"/>
<circle cx="135.4" cy="212.8" r="3.9"/>
<circle cx="136.4" cy="212.5" r="3.9"/>
<circle cx="137.4" cy="213.1" r="3.9"/>
<circle cx="138.4" cy="213.1" r="3.9"/>
<circle cx="139.4" cy="212.8" r="3.9"/>
<circle cx="140.3" cy="213.0" r="3.9"/>
<circle cx="141.3" cy="212.7" r="3.9"/>
<circle cx="142.3" cy="212.6" r="3.9"/>
<circle cx="143.3" cy="212.3" r="3.9"/>
<circle cx="144.3" cy="213.0" r="3.9"/>
<circle cx="145.2" cy="213.9" r="3.9"/>
<circle cx="146.2" cy="212.9" r="3.9"/>
<circle cx="147.2" cy="212.7" r="3.9"/>
<circle cx="148.2" cy="213.0" r="3.9"/>
<circle cx="149.2" cy="213.0" r="3.9"/>
<circle cx="150.2" cy="213.9" r="3.9"/>
<circle cx="151.1" cy="212.7" r="3.9"/>
<circle cx="152.1" cy="213.0" r="3.9"/>
<circle cx="153.1" cy="213.6" r="3.9"/>
<circle cx="154.1" cy="213.3" r="3.9"/>
<circle cx="155.1" cy="213.3" r="3.9"/>
<circle cx="156.0" cy="212.6" r="3.9"/>
<circle cx="157.0" cy="212.7" r="3.9"/>
<circle cx="158.0" cy="212.3" r="3.9"/>
<circle cx="159.0" cy="212.6" r="3.9"/>
<circle cx="160.0" cy="213.5" r="3.9"/>
<circle cx="160.9" cy="213.5" r="3.9"/>
<circle cx="161.9" cy="212.4" r="3.9"/>
<circle cx="162.9" cy="212.2" r="3.9"/>
<circle cx="163.9" cy="213.0" r="3.9"/>
<circle cx="164.9" cy="212.7" r="3.9"/>
<circle cx="165.8" cy="213.5" r="3.9"/>
<circle cx="166.8" cy="213.7" r="3.9"/>
<circle cx="167.8" cy="213.4" r="3.9"/>
<circle cx="168.8" cy="213.1" r="3.9"/>
<circle cx="169.8" cy="213.1" r="3.9"/>
<circle cx="170.7" cy="213.0" r="3.9"/>
<circle cx="171.7" cy="213.1" r="3.9"/>
<circle cx="172.7" cy="212.6" r="3.9"/>
<circle cx="173.7" cy="212.3" r="3.9"/>
<circle cx="174.7" cy="212.9" r="3.9"/>
<circle cx="175.6" cy="212.0" r="3.9"/>
<circle cx="176.6" cy="213.2" r="3.9"/>
<circle cx="177.6" cy="213.1" r="3.9"/>
<circle cx="178.6" cy="212.7" r="3.9"/>
<circle cx="179.6" cy="213.1" r="3.9"/>
<circle cx="180.5" cy="212.4" r="3.9"/>
<circle cx="181.5" cy="213.2" r="3.9"/>
<circle cx="182.5" cy="212.3" r="3.9"/>
<circle cx="183.5" cy="212.8" r="3.9"/>
<circle cx="184.5" cy="211.8" r="3.9"/>
<circle cx="185.4" cy="213.1" r="3.9"/>
<circle cx="186.4" cy="213.0" r="3.9"/>
<circle cx="187.4" cy="212.8" r="3.9"/>
<circle cx="188.4" cy="213.8" r="3.9"/>
<circle cx="189.4" cy="212.6" r="3.9"/>
<circle cx="190.3" cy="212.7" r="3.9"/>
<circle cx="191.3" cy="212.9" r="3.9"/>
<circle cx="192.3" cy="213.6" r="3.9"/>
<circle cx="193.3" cy="213.6" r="3.9"/>
<circle cx="194.3" cy="212.6" r="3.9"/>
<circle cx="195.2" cy="212.4" r="3.9"/>
<circle cx="196.2" cy="212.2" r="3.9"/>
<circle cx="197.2" cy="213.3" r="3.9"/>
<circle cx="198.2" cy="213.3" r="3.9"/>
<circle cx="199.2" cy="213.0" r="3.9"/>
<circle cx="200.1" cy="213.8" r="3.9"/>
<circle cx="201.1" cy="213.2" r="3.9"/>
<circle cx="202.1" cy="212.5" r="3.9"/>
<circle cx="203.1" cy="212.2" r="3.9"/>
<circle cx="204.1" cy="212.8" r="3.9"/>
<circle cx="205.0" cy="212.2" r="3.9"/>
<circle cx="206.0" cy="212.7" r="3.9"/>
<circle cx="207.0" cy="212.8" r="3.9"/>
<circle cx="208.0" cy="213.0" r="3.9"/>
<circle cx="209.0" cy="212.8" r="3.9"/>
<circle cx="209.9" cy="213.0" r="3.9"/>
<circle cx="210.9" cy="213.0" r="3.9"/>
<circle cx="211.9" cy="213.2" r="3.9"/>
<circle cx="212.9" cy="212.8" r="3.9"/>
<circle cx="213.9" cy="212.9" r="3.9"/>
<circle cx="214.9" cy="213.5" r="3.9"/>
<circle cx="215.8" cy="213.0" r="3.9"/>
<circle cx="216.8" cy="213.3" r="3.9"/>
<circle cx="217.8" cy="213.8" r="3.9"/>
<circle cx="218.8" cy="212.7" r="3.9"/>
<circle cx="219.8" cy="212.2" r="3.9"/>
<circle cx="220.7" cy="211.9" r="3.9"/>
<circle cx="221.7" cy="212.2" r="3.9"/>
<circle cx="222.7" cy="213.3" r="3.9"/>
<circle cx="223.7" cy="212.4" r="3.9"/>
<circle cx="224.7" cy="212.4" r="3.9"/>
<circle cx="225.6" cy="213.8" r="3.9"/>
<circle cx="226.6" cy="212.5" r="3.9"/>
<circle cx="227.6" cy="212.6" r="3.9"/>
<circle cx="228.6" cy="212.8" r="3.9"/>
<circle cx="229.6" cy="212.8" r="3.9"/>
<circle cx="230.5" cy="212.9" r="3.9"/>
<circle cx="231.5" cy="212.2" r="3.9"/>
<circle cx="232.5" cy="213.1" r="3.9"/>
<circle cx="233.5" cy="213.0" r="3.9"/>
<circle cx="234.5" cy="212.9" r="3.9"/>
<circle cx="235.4" cy="212.8" r="3.9"/>
<circle cx="236.4" cy="213.7" r="3.9"/>
<circle cx="237.4" cy="212.3" r="3.9"/>
<circle cx="238.4" cy="212.8" r="3.9"/>
<circle cx="239.4" cy="212.7" r="3.9"/>
<circle cx="240.3" cy="212.8" r="3.9"/>
<circle cx="241.3" cy="213.0" r="3.9"/>
<circle cx="242.3" cy="213.1" r="3.9"/>
<circle cx="243.3" cy="212.9" r="3.9"/>
<circle cx="244.3" cy="212.8" r="3.9"/>
<circle cx="245.2" cy="212.4" r="3.9"/>
<circle cx="246.2" cy="212.8" r="3.9"/>
<circle cx="247.2" cy="213.0" r="3.9"/>
<circle cx="248.2" cy="212.0" r="3.9"/>
<circle cx="249.2" cy="213.5" r="3.9"/>
<circle cx="250.1" cy="213.5" r="3.9"/>
<circle cx="251.1" cy="212.7" r="3.9"/>
<circle cx="252.1" cy="213.0" r="3.9"/>
<circle cx="253.1" cy="213.7" r="3.9"/>
<circle cx="254.1" cy="213.0" r="3.9"/>
<circle cx="255.0" cy="213.2" r="3.9"/>
<circle cx="256.0" cy="212.4" r="3.9"/>
<circle cx="257.0" cy="213.2" r="3.9"/>
<circle cx="258.0" cy="212.4" r="3.9"/>
<circle cx="259.0" cy="212.7" r="3.9"/>
<circle cx="259.9" cy="213.0" r="3.9"/>
<circle cx="260.9" cy="212.9" r="3.9"/>
<circle cx="261.9" cy="212.7" r="3.9"/>
<circle cx="262.9" cy="213.9" r="3.9"/>
<circle cx="263.9" cy="212.8" r="3.9"/>
<circle cx="264.8" cy="213.1" r="3.9"/>
<circle cx="265.8" cy="212.1" r="3.9"/>
<circle cx="266.8" cy="213.2" r="3.9"/>
<circle cx="267.8" cy="212.4" r="3.9"/>
<circle cx="268.8" cy="214.0" r="3.9"/>
<circle cx="269.7" cy="212.6" r="3.9"/>
<circle cx="270.7" cy="212.8" r="3.9"/>
<circle cx="271.7" cy="213.0" r="3.9"/>
<circle cx="272.7" cy="213.0" r="3.9"/>
<circle cx="273.7" cy="213.0" r="3.9"/>
<circle cx="274.6" cy="212.7" r="3.9"/>
<circle cx="275.6" cy="213.0" r="3.9"/>
<circle cx="276.6" cy="213.7" r="3.9"/>
<circle cx="277.6" cy="213.0" r="3.9"/>
<circle cx="278.6" cy="211.9" r="3.9"/>
<circle cx="279.6" cy="212.9" r="3.9"/>
<circle cx="280.5" cy="212.8" r="3.9"/>
<circle cx="281.5" cy="213.1" r="3.9"/>
<circle cx="282.5" cy="212.8" r="3.9"/>
<circle cx="283.5" cy="212.8" r="3.9"/>
<circle cx="284.5" cy="213.0" r="3.9"/>
<circle cx="285.4" cy="212.5" r="3.9"/>
<circle cx="286.4" cy="213.3" r="3.9"/>
<circle cx="287.4" cy="213.0" r="3.9"/>
<circle cx="288.4" cy="212.7" r="3.9"/>
<circle cx="289.4" cy="213.0" r="3.9"/>
<circle cx="290.3" cy="213.4" r="3.9"/>
<circle cx="291.3" cy="212.7" r="3.9"/>
<circle cx="292.3" cy="213.3" r="3.9"/>
<circle cx="293.3" cy="213.1" r="3.9"/>
<circle cx="294.3" cy="213.3" r="3.9"/>
<circle cx="295.2" cy="212.9" r="3.9"/>
<circle cx="296.2" cy="213.1" r="3.9"/>
<circle cx="297.2" cy="213.1" r="3.9"/>
<circle cx="298.2" cy="212.6" r="3.9"/>
<circle cx="299.2" cy="212.1" r="3.9"/>
<circle cx="300.1" cy="213.1" r="3.9"/>
<circle cx="301.1" cy="212.7" r="3.9"/>
<circle cx="302.1" cy="213.1" r="3.9"/>
<circle cx="303.1" cy="212.9" r="3.9"/>
<circle cx="304.1" cy="212.4" r="3.9"/>
<circle cx="305.0" cy="212.9" r="3.9"/>
<circle cx="306.0" cy="213.3" r="3.9"/>
<circle cx="307.0" cy="213.2" r="3.9"/>
<circle cx="308.0" cy="213.2" r="3.9"/>
<circle cx="309.0" cy="212.9" r="3.9"/>
<circle cx="309.9" cy="212.5" r="3.9"/>
<circle cx="310.9" cy="213.5" r="3.9"/>
<circle cx="311.9" cy="213.3" r="3.9"/>
<circle cx="312.9" cy="213.3" r="3.9"/>
<circle cx="313.9" cy="213.7" r="3.9"/>
<circle cx="314.8" cy="212.3" r="3.9"/>
<circle cx="315.8" cy="212.9" r="3.9"/>
<circle cx="316.8" cy="212.1" r="3.9"/>
<circle cx="317.8" cy="213.5" r="3.9"/>
<circle cx="318.8" cy="212.3" r="3.9"/>
<circle cx="319.7" cy="213.2" r="3.9"/>
<circle cx="320.7" cy="213.1" r="3.9"/>
<circle cx="321.7" cy="213.3" r="3.9"/>
<circle cx="322.7" cy="213.3" r="3.9"/>
<circle cx="323.7" cy="213.5" r="3.9"/>
<circle cx="324.6" cy="212.8" r="3.9"/>
<circle cx="325.6" cy="213.5" r="3.9"/>
<circle cx="326.6" cy="213.0" r="3.9"/>
<circle cx="327.6" cy="212.9" r="3.9"/>
<circle cx="328.6" cy="212.6" r="3.9"/>
<circle cx="329.5" cy="212.9" r="3.9"/>
<circle cx="330.5" cy="212.8" r="3.9"/>
<circle cx="331.5" cy="212.7" r="3.9"/>
<circle cx="332.5" cy="212.9" r="3.9"/>
<circle cx="333.5" cy="212.7" r="3.9"/>
<circle cx="334.4" cy="213.3" r="3.9"/>
<circle cx="335.4" cy="213.2" r="3.9"/>
<circle cx="336.4" cy="212.1" r="3.9"/>
<circle cx="337.4" cy="212.9" r="3.9"/>
<circle cx="338.4" cy="213.2" r="3.9"/>
<circle cx="339.3" cy="212.3" r="3.9"/>
<circle cx="340.3" cy="213.0" r="3.9"/>
<circle cx="341.3" cy="213.2" r="3.9"/>
<circle cx="342.3" cy="213.5" r="3.9"/>
<circle cx="343.3" cy="212.6" r="3.9"/>
<circle cx="344.3" cy="213.4" r="3.9"/>
<circle cx="345.2" cy="213.1" r="3.9"/>
<circle cx="346.2" cy="212.6" r="3.9"/>
<circle cx="347.2" cy="212.8" r="3.9"/>
<circle cx="348.2" cy="212.9" r="3.9"/>
<circle cx="349.2" cy="213.0" r="3.9"/>
<circle cx="350.1" cy="212.4" r="3.9"/>
<circle cx="351.1" cy="211.9" r="3.9"/>
<circle cx="352.1" cy="213.1" r="3.9"/>
<circle cx="353.1" cy="212.7" r="3.9"/>
<circle cx="354.1" cy="212.1" r="3.9"/>
<circle cx="355.0" cy="212.4" r="3.9"/>
<circle cx="356.0" cy="213.2" r="3.9"/>
<circle cx="357.0" cy="213.1" r="3.9"/>
<circle cx="358.0" cy="213.2" r="3.9"/>
<circle cx="359.0" cy="213.3" r="3.9"/>
<circle cx="359.9" cy="213.2" r="3.9"/>
<circle cx="360.9" cy="212.8" r="3.9"/>
<circle cx="361.9" cy="213.2" r="3.9"/>
<circle cx="362.9" cy="212.5" r="3.9"/>
<circle cx="363.9" cy="212.8" r="3.9"/>
<circle cx="364.8" cy="213.1" r="3.9"/>
<circle cx="365.8" cy="212.5" r="3.9"/>
<circle cx="366.8" cy="212.8" r="3.9"/>
<circle cx="367.8" cy="212.8" r="3.9"/>
<circle cx="368.8" cy="212.5" r="3.9"/>
<circle cx="369.7" cy="212.7" r="3.9"/>
<circle cx="370.7" cy="212.9" r="3.9"/>
<circle cx="371.7" cy="212.5" r="3.9"/>
<circle cx="372.7" cy="212.8" r="3.9"/>
<circle cx="373.7" cy="211.6" r="3.9"/>
<circle cx="374.6" cy="212.4" r="3.9"/>
<circle cx="375.6" cy="212.4" r="3.9"/>
<circle cx="376.6" cy="212.3" r="3.9"/>
<circle cx="377.6" cy="212.9" r="3.9"/>
<circle cx="378.6" cy="212.3" r="3.9"/>
<circle cx="379.5" cy="212.9" r="3.9"/>
<circle cx="380.5" cy="213.3" r="3.9"/>
<circle cx="381.5" cy="213.1" r="3.9"/>
<circle cx="382.5" cy="212.7" r="3.9"/>
<circle cx="383.5" cy="213.6" r="3.9"/>
<circle cx="384.4" cy="212.8" r="3.9"/>
<circle cx="385.4" cy="213.2" r="3.9"/>
<circle cx="386.4" cy="212.6" r="3.9"/>
<circle cx="387.4" cy="213.2" r="3.9"/>
<circle cx="388.4" cy="212.1" r="3.9"/>
<circle cx="389.3" cy="212.6" r="3.9"/>
<circle cx="390.3" cy="213.4" r="3.9"/>
<circle cx="391.3" cy="212.1" r="3.9"/>
<circle cx="392.3" cy="213.0" r="3.9"/>
<circle cx="393.3" cy="213.2" r="3.9"/>
<circle cx="394.2" cy="213.3" r="3.9"/>
<circle cx="395.2" cy="212.7" r="3.9"/>
<circle cx="396.2" cy="212.3" r="3.9"/>
<circle cx="397.2" cy="213.2" r="3.9"/>
<circle cx="398.2" cy="213.3" r="3.9"/>
<circle cx="399.1" cy="213.4" r="3.9"/>
<circle cx="400.1" cy="212.3" r="3.9"/>
<circle cx="401.1" cy="212.2" r="3.9"/>
<circle cx="402.1" cy="213.1" r="3.9"/>
<circle cx="403.1" cy="212.7" r="3.9"/>
<circle cx="404.0" cy="212.9" r="3.9"/>
<circle cx="405.0" cy="212.9" r="3.9"/>
<circle cx="406.0" cy="212.5" r="3.9"/>
<circle cx="407.0" cy="212.7" r="3.9"/>
<circle cx="408.0" cy="212.8" r="3.9"/>
<circle cx="409.0" cy="213.0" r="3.9"/>
<circle cx="409.9" cy="212.6" r="3.9"/>
<circle cx="410.9" cy="213.0" r="3.9"/>
<circle cx="411.9" cy="212.9" r="3.9"/>
<circle cx="412.9" cy="212.8" r="3.9"/>
<circle cx="413.9" cy="213.4" r="3.9"/>
<circle cx="414.8" cy="213.0" r="3.9"/>
<circle cx="415.8" cy="213.0" r="3.9"/>
<circle cx="416.8" cy="212.9" r="3.9"/>
<circle cx="417.8" cy="213.4" r="3.9"/>
<circle cx="418.8" cy="213.4" r="3.9"/>
<circle cx="419.7" cy="212.2" r="3.9"/>
<circle cx="420.7" cy="212.4" r="3.9"/>
<circle cx="421.7" cy="212.5" r="3.9"/>
<circle cx="422.7" cy="212.1" r="3.9"/>
<circle cx="423.7" cy="212.7" r="3.9"/>
<circle cx="424.6" cy="212.9" r="3.9"/>
<circle cx="425.6" cy="212.7" r="3.9"/>
<circle cx="426.6" cy="213.7" r="3.9"/>
<circle cx="427.6" cy="213.4" r="3.9"/>
<circle cx="428.6" cy="212.6" r="3.9"/>
<circle cx="429.5" cy="212.9" r="3.9"/>
<circle cx="430.5" cy="213.5" r="3.9"/>
<circle cx="431.5" cy="212.6" r="3.9"/>
<circle cx="432.5" cy="212.5" r="3.9"/>
<circle cx="433.5" cy="212.6" r="3.9"/>
<circle cx="434.4" cy="212.9" r="3.9"/>
<circle cx="435.4" cy="213.3" r="3.9"/>
<circle cx="436.4" cy="212.9" r="3.9"/>
<circle cx="437.4" cy="212.7" r="3.9"/>
<circle cx="438.4" cy="213.1" r="3.9"/>
<circle cx="439.3" cy="212.6" r="3.9"/>
<circle cx="440.3" cy="212.8" r="3.9"/>
<circle cx="441.3" cy="212.8" r="3.9"/>
<circle cx="442.3" cy="213.8" r="3.9"/>
<circle cx="443.3" cy="212.4" r="3.9"/>
<circle cx="444.2" cy="212.2" r="3.9"/>
<circle cx="445.2" cy="213.1" r="3.9"/>
<circle cx="446.2" cy="213.5" r="3.9"/>
<circle cx="447.2" cy="212.6" r="3.9"/>
<circle cx="448.2" cy="213.1" r="3.9"/>
<circle cx="449.1" cy="213.3" r="3.9"/>
<circle cx="450.1" cy="212.4" r="3.9"/>
<circle cx="451.1" cy="213.5" r="3.9"/>
<circle cx="452.1" cy="212.6" r="3.9"/>
<circle cx="453.1" cy="213.4" r="3.9"/>
<circle cx="454.0" cy="212.3" r="3.9"/>
<circle cx="455.0" cy="212.7" r="3.9"/>
<circle cx="456.0" cy="213.0" r="3.9"/>
<circle cx="457.0" cy="212.8" r="3.9"/>
<circle cx="458.0" cy="212.7" r="3.9"/>
<circle cx="458.9" cy="212.5" r="3.9"/>
<circle cx="459.9" cy="212.5" r="3.9"/>
<circle cx="460.9" cy="212.7" r="3.9"/>
<circle cx="461.9" cy="213.1" r="3.9"/>
<circle cx="462.9" cy="212.6" r="3.9"/>
<circle cx="463.8" cy="213.5" r="3.9"/>
<circle cx="464.8" cy="212.5" r="3.9"/>
<circle cx="465.8" cy="212.5" r="3.9"/>
<circle cx="466.8" cy="212.3" r="3.9"/>
<circle cx="467.8" cy="213.2" r="3.9"/>
<circle cx="468.7" cy="212.8" r="3.9"/>
<circle cx="469.7" cy="212.5" r="3.9"/>
<circle cx="470.7" cy="212.8" r="3.9"/>
<circle cx="471.7" cy="213.1" r="3.9"/>
<circle cx="472.7" cy="212.8" r="3.9"/>
<circle cx="473.7" cy="212.9" r="3.9"/>
<circle cx="474.6" cy="212.5" r="3.9"/>
<circle cx="475.6" cy="213.2" r="3.9"/>
<circle cx="476.6" cy="212.8" r="3.9"/>
<circle cx="477.6" cy="212.8" r="3.9"/>
<circle cx="478.6" cy="212.6" r="3.9"/>
<circle cx="479.5" cy="212.9" r="3.9"/>
<circle cx="480.5" cy="212.8" r="3.9"/>
<circle cx="481.5" cy="212.9" r="3.9"/>
<circle cx="482.5" cy="212.9" r="3.9"/>
<circle cx="483.5" cy="212.9" r="3.9"/>
<circle cx="484.4" cy="213.0" r="3.9"/>
<circle cx="485.4" cy="211.7" r="3.9"/>
<circle cx="486.4" cy="213.3" r="3.9"/>
<circle cx="487.4" cy="213.4" r="3.9"/>
<circle cx="488.4" cy="213.2" r="3.9"/>
<circle cx="489.3" cy="213.2" r="3.9"/>
<circle cx="490.3" cy="212.9" r="3.9"/>
<circle cx="491.3" cy="212.3" r="3.9"/>
<circle cx="492.3" cy="212.2" r="3.9"/>
<circle cx="493.3" cy="212.8" r="3.9"/>
<circle cx="494.2" cy="214.0" r="3.9"/>
<circle cx="495.2" cy="212.7" r="3.9"/>
<circle cx="496.2" cy="213.5" r="3.9"/>
<circle cx="497.2" cy="213.1" r="3.9"/>
<circle cx="498.2" cy="213.4" r="3.9"/>
<circle cx="499.1" cy="212.7" r="3.9"/>
<circle cx="500.1" cy="213.2" r="3.9"/>
<circle cx="501.1" cy="212.6" r="3.9"/>
<circle cx="502.1" cy="212.7" r="3.9"/>
<circle cx="503.1" cy="213.0" r="3.9"/>
<circle cx="504.0" cy="212.9" r="3.9"/>
<circle cx="505.0" cy="212.5" r="3.9"/>
<circle cx="506.0" cy="213.1" r="3.9"/>
<circle cx="507.0" cy="212.5" r="3.9"/>
<circle cx="508.0" cy="212.9" r="3.9"/>
<circle cx="508.9" cy="212.8" r="3.9"/>
<circle cx="509.9" cy="212.6" r="3.9"/>
<circle cx="510.9" cy="212.3" r="3.9"/>
<circle cx="511.9" cy="212.7" r="3.9"/>
<circle cx="512.9" cy="212.9" r="3.9"/>
<circle cx="513.8" cy="212.6" r="3.9"/>
<circle cx="514.8" cy="213.6" r="3.9"/>
<circle cx="515.8" cy="212.2" r="3.9"/>
<circle cx="516.8" cy="213.5" r="3.9"/>
<circle cx="517.8" cy="212.5" r="3.9"/>
<circle cx="518.7" cy="213.1" r="3.9"/>
<circle cx="519.7" cy="212.7" r="3.9"/>
<circle cx="520.7" cy="213.0" r="3.9"/>
<circle cx="521.7" cy="212.8" r="3.9"/>
<circle cx="522.7" cy="213.2" r="3.9"/>
<circle cx="523.6" cy="213.8" r="3.9"/>
<circle cx="524.6" cy="212.7" r="3.9"/>
<circle cx="525.6" cy="213.2" r="3.9"/>
<circle cx="526.6" cy="213.2" r="3.9"/>
<circle cx="527.6" cy="213.2" r="3.9"/>
<circle cx="528.5" cy="212.0" r="3.9"/>
<circle cx="529.5" cy="213.2" r="3.9"/>
<circle cx="530.5" cy="212.8" r="3.9"/>
<circle cx="531.5" cy="213.4" r="3.9"/>
<circle cx="532.5" cy="212.2" r="3.9"/>
<circle cx="533.4" cy="213.1" r="3.9"/>
<circle cx="534.4" cy="214.0" r="3.9"/>
<circle cx="535.4" cy="211.7" r="3.9"/>
<circle cx="536.4" cy="213.4" r="3.9"/>
<circle cx="537.4" cy="212.3" r="3.9"/>
<circle cx="538.4" cy="212.6" r="3.9"/>
<circle cx="539.3" cy="212.6" r="3.9"/>
<circle cx="540.3" cy="213.0" r="3.9"/>
<circle cx="541.3" cy="212.8" r="3.9"/>
<circle cx="542.3" cy="212.4" r="3.9"/>
<circle cx="543.3" cy="213.0" r="3.9"/>
<circle cx="544.2" cy="212.8" r="3.9"/>
<circle cx="545.2" cy="212.5" r="3.9"/>
<circle cx="546.2" cy="212.9" r="3.9"/>
<circle cx="547.2" cy="213.1" r="3.9"/>
<circle cx="548.2" cy="212.3" r="3.9"/>
<circle cx="549.1" cy="212.8" r="3.9"/>
<circle cx="550.1" cy="213.0" r="3.9"/>
<circle cx="551.1" cy="213.2" r="3.9"/>
<circle cx="552.1" cy="213.3" r="3.9"/>
<circle cx="553.1" cy="212.5" r="3.9"/>
<circle cx="554.0" cy="212.5" r="3.9"/>
<circle cx="555.0" cy="213.8" r="3.9"/>
<circle cx="556.0" cy="213.2" r="3.9"/>
<circle cx="557.0" cy="212.5" r="3.9"/>
<circle cx="558.0" cy="211.9" r="3.9"/>
<circle cx="558.9" cy="212.0" r="3.9"/>
<circle cx="559.9" cy="212.5" r="3.9"/>
<circle cx="560.9" cy="212.3" r="3.9"/>
<circle cx="561.9" cy="213.1" r="3.9"/>
<circle cx="562.9" cy="212.6" r="3.9"/>
<circle cx="563.8" cy="213.4" r="3.9"/>
<circle cx="564.8" cy="213.1" r="3.9"/>
<circle cx="565.8" cy="212.8" r="3.9"/>
<circle cx="566.8" cy="212.0" r="3.9"/>
<circle cx="567.8" cy="212.6" r="3.9"/>
<circle cx="568.7" cy="212.8" r="3.9"/>
<circle cx="569.7" cy="213.0" r="3.9"/>
<circle cx="570.7" cy="213.5" r="3.9"/>
<circle cx="571.7" cy="212.6" r="3.9"/>
<circle cx="572.7" cy="213.1" r="3.9"/>
<circle cx="573.6" cy="212.8" r="3.9"/>
<circle cx="574.6" cy="213.3" r="3.9"/>
<circle cx="575.6" cy="212.8" r="3.9"/>
<circle cx="576.6" cy="213.6" r="3.9"/>
<circle cx="577.6" cy="212.7" r="3.9"/>
<circle cx="578.5" cy="212.3" r="3.9"/>
<circle cx="579.5" cy="212.5" r="3.9"/>
<circle cx="580.5" cy="212.0" r="3.9"/>
<circle cx="581.5" cy="212.8" r="3.9"/>
<circle cx="582.5" cy="212.7" r="3.9"/>
<circle cx="583.4" cy="212.7" r="3.9"/>
<circle cx="584.4" cy="213.3" r="3.9"/>
<circle cx="585.4" cy="212.0" r="3.9"/>
<circle cx="586.4" cy="212.5" r="3.9"/>
<circle cx="587.4" cy="213.0" r="3.9"/>
<circle cx="588.3" cy="213.3" r="3.9"/>
<circle cx="589.3" cy="212.7" r="3.9"/>
<circle cx="590.3" cy="212.5" r="3.9"/>
<circle cx="591.3" cy="212.8" r="3.9"/>
<circle cx="592.3" cy="212.8" r="3.9"/>
<circle cx="593.2" cy="213.0" r="3.9"/>
<circle cx="594.2" cy="212.9" r="3.9"/>
<circle cx="595.2" cy="212.3" r="3.9"/>
<circle cx="596.2" cy="212.3" r="3.9"/>
<circle cx="597.2" cy="213.5" r="3.9"/>
<circle cx="598.1" cy="212.8" r="3.9"/>
<circle cx="599.1" cy="213.4" r="3.9"/>
<circle cx="600.1" cy="213.5" r="3.9"/>
<circle cx="601.1" cy="212.6" r="3.9"/>
<circle cx="602.1" cy="213.3" r="3.9"/>
<circle cx="603.0" cy="214.3" r="3.9"/>
<circle cx="604.0" cy="212.6" r="3.9"/>
<circle cx="605.0" cy="212.4" r="3.9"/>
<circle cx="606.0" cy="212.0" r="3.9"/>
<circle cx="607.0" cy="213.1" r="3.9"/>
<circle cx="608.0" cy="212.3" r="3.9"/>
<circle cx="608.9" cy="214.0" r="3.9"/>
<circle cx="609.9" cy="213.4" r="3.9"/>
<circle cx="610.9" cy="212.7" r="3.9"/>
<circle cx="611.9" cy="212.7" r="3.9"/>
<circle cx="612.9" cy="212.3" r="3.9"/>
<circle cx="613.8" cy="212.5" r="3.9"/>
<circle cx="614.8" cy="212.9" r="3.9"/>
<circle cx="615.8" cy="212.2" r="3.9"/>
<circle cx="616.8" cy="212.6" r="3.9"/>
<circle cx="617.8" cy="212.2" r="3.9"/>
<circle cx="618.7" cy="213.2" r="3.9"/>
<circle cx="619.7" cy="212.8" r="3.9"/>
<circle cx="620.7" cy="213.1" r="3.9"/>
<circle cx="621.7" cy="212.6" r="3.9"/>
<circle cx="622.7" cy="213.0" r="3.9"/>
<circle cx="623.6" cy="213.0" r="3.9"/>
<circle cx="624.6" cy="213.5" r="3.9"/>
<circle cx="625.6" cy="212.8" r="3.9"/>
<circle cx="626.6" cy="212.4" r="3.9"/>
<circle cx="627.6" cy="212.5" r="3.9"/>
<circle cx="628.5" cy="214.2" r="3.9"/>
<circle cx="629.5" cy="213.6" r="3.9"/>
<circle cx="630.5" cy="212.0" r="3.9"/>
<circle cx="631.5" cy="213.0" r="3.9"/>
<circle cx="632.5" cy="213.0" r="3.9"/>
<circle cx="633.4" cy="212.4" r="3.9"/>
<circle cx="634.4" cy="212.8" r="3.9"/>
<circle cx="635.4" cy="213.2" r="3.9"/>
<circle cx="636.4" cy="213.0" r="3.9"/>
</g>
<g fill="url(#go)">
<circle cx="49.2" cy="262.9" r="3.9"/>
<circle cx="49.2" cy="267.4" r="3.9"/>
<circle cx="50.2" cy="268.0" r="3.9"/>
<circle cx="52.1" cy="267.6" r="3.9"/>
<circle cx="54.1" cy="267.5" r="3.9"/>
<circle cx="56.0" cy="267.3" r="3.9"/>
<circle cx="58.0" cy="267.2" r="3.9"/>
<circle cx="60.0" cy="267.0" r="3.9"/>
<circle cx="61.9" cy="266.9" r="3.9"/>
<circle cx="63.9" cy="266.7" r="3.9"/>
<circle cx="65.8" cy="266.5" r="3.9"/>
<circle cx="67.8" cy="266.4" r="3.9"/>
<circle cx="69.8" cy="266.2" r="3.9"/>
<circle cx="71.7" cy="266.1" r="3.9"/>
<circle cx="73.7" cy="265.9" r="3.9"/>
<circle cx="75.6" cy="265.8" r="3.9"/>
<circle cx="77.6" cy="265.6" r="3.9"/>
<circle cx="79.6" cy="265.5" r="3.9"/>
<circle cx="81.5" cy="265.3" r="3.9"/>
<circle cx="83.5" cy="265.1" r="3.9"/>
<circle cx="85.5" cy="265.0" r="3.9"/>
<circle cx="87.4" cy="264.8" r="3.9"/>
<circle cx="89.4" cy="264.7" r="3.9"/>
<circle cx="91.3" cy="264.5" r="3.9"/>
<circle cx="93.3" cy="264.4" r="3.9"/>
<circle cx="95.3" cy="264.2" r="3.9"/>
<circle cx="97.2" cy="264.1" r="3.9"/>
<circle cx="99.2" cy="263.9" r="3.9"/>
<circle cx="101.1" cy="263.8" r="3.9"/>
<circle cx="103.1" cy="263.7" r="3.9"/>
<circle cx="105.1" cy="263.6" r="3.9"/>
<circle cx="107.0" cy="263.5" r="3.9"/>
<circle cx="109.0" cy="263.4" r="3.9"/>
<circle cx="110.9" cy="263.3" r="3.9"/>
<circle cx="112.9" cy="263.2" r="3.9"/>
<circle cx="114.9" cy="263.1" r="3.9"/>
<circle cx="116.8" cy="263.0" r="3.9"/>
<circle cx="118.8" cy="263.0" r="3.9"/>
<circle cx="120.7" cy="262.9" r="3.9"/>
<circle cx="122.7" cy="262.8" r="3.9"/>
<circle cx="124.7" cy="262.7" r="3.9"/>
<circle cx="126.6" cy="262.6" r="3.9"/>
<circle cx="128.6" cy="262.5" r="3.9"/>
<circle cx="130.5" cy="262.4" r="3.9"/>
<circle cx="132.5" cy="262.3" r="3.9"/>
<circle cx="134.5" cy="262.2" r="3.9"/>
<circle cx="136.4" cy="262.1" r="3.9"/>
<circle cx="138.4" cy="262.0" r="3.9"/>
<circle cx="140.3" cy="261.9" r="3.9"/>
<circle cx="142.3" cy="261.8" r="3.9"/>
<circle cx="144.3" cy="261.7" r="3.9"/>
<circle cx="146.2" cy="261.6" r="3.9"/>
<circle cx="148.2" cy="261.5" r="3.9"/>
<circle cx="150.2" cy="261.4" r="3.9"/>
<circle cx="152.1" cy="261.3" r="3.9"/>
<circle cx="154.1" cy="261.2" r="3.9"/>
<circle cx="156.0" cy="261.1" r="3.9"/>
<circle cx="158.0" cy="261.0" r="3.9"/>
<circle cx="160.0" cy="260.9" r="3.9"/>
<circle cx="161.9" cy="260.8" r="3.9"/>
<circle cx="163.9" cy="260.7" r="3.9"/>
<circle cx="165.8" cy="260.6" r="3.9"/>
<circle cx="167.8" cy="260.5" r="3.9"/>
<circle cx="169.8" cy="260.4" r="3.9"/>
<circle cx="171.7" cy="260.3" r="3.9"/>
<circle cx="173.7" cy="260.2" r="3.9"/>
<circle cx="175.6" cy="260.1" r="3.9"/>
<circle cx="177.6" cy="259.9" r="3.9"/>
<circle cx="179.6" cy="259.8" r="3.9"/>
<circle cx="181.5" cy="259.7" r="3.9"/>
<circle cx="183.5" cy="259.6" r="3.9"/>
<circle cx="185.4" cy="259.5" r="3.9"/>
<circle cx="187.4" cy="259.4" r="3.9"/>
<circle cx="189.4" cy="259.3" r="3.9"/>
<circle cx="191.3" cy="259.2" r="3.9"/>
<circle cx="193.3" cy="259.1" r="3.9"/>
<circle cx="195.2" cy="259.0" r="3.9"/>
<circle cx="197.2" cy="258.9" r="3.9"/>
<circle cx="199.2" cy="258.8" r="3.9"/>
<circle cx="201.1" cy="258.7" r="3.9"/>
<circle cx="203.1" cy="258.6" r="3.9"/>
<circle cx="205.0" cy="258.5" r="3.9"/>
<circle cx="207.0" cy="258.4" r="3.9"/>
<circle cx="209.0" cy="258.3" r="3.9"/>
<circle cx="210.9" cy="258.2" r="3.9"/>
<circle cx="212.9" cy="258.1" r="3.9"/>
<circle cx="214.9" cy="257.9" r="3.9"/>
<circle cx="216.8" cy="257.9" r="3.9"/>
<circle cx="218.8" cy="257.8" r="3.9"/>
<circle cx="220.7" cy="257.7" r="3.9"/>
<circle cx="222.7" cy="257.7" r="3.9"/>
<circle cx="224.7" cy="257.6" r="3.9"/>
<circle cx="226.6" cy="257.5" r="3.9"/>
<circle cx="228.6" cy="257.5" r="3.9"/>
<circle cx="230.5" cy="257.4" r="3.9"/>
<circle cx="232.5" cy="257.3" r="3.9"/>
<circle cx="234.5" cy="257.2" r="3.9"/>
<circle cx="236.4" cy="257.2" r="3.9"/>
<circle cx="238.4" cy="257.1" r="3.9"/>
<circle cx="240.3" cy="257.0" r="3.9"/>
<circle cx="242.3" cy="257.0" r="3.9"/>
<circle cx="244.3" cy="256.9" r="3.9"/>
<circle cx="246.2" cy="256.8" r="3.9"/>
<circle cx="248.2" cy="256.7" r="3.9"/>
<circle cx="250.1" cy="256.7" r="3.9"/>
<circle cx="252.1" cy="256.6" r="3.9"/>
<circle cx="254.1" cy="256.5" r="3.9"/>
<circle cx="256.0" cy="256.4" r="3.9"/>
<circle cx="258.0" cy="256.4" r="3.9"/>
<circle cx="259.9" cy="256.3" r="3.9"/>
<circle cx="261.9" cy="256.2" r="3.9"/>
<circle cx="263.9" cy="256.1" r="3.9"/>
<circle cx="265.8" cy="256.1" r="3.9"/>
<circle cx="267.8" cy="256.0" r="3.9"/>
<circle cx="269.7" cy="255.9" r="3.9"/>
<circle cx="271.7" cy="255.8" r="3.9"/>
<circle cx="273.7" cy="255.8" r="3.9"/>
<circle cx="275.6" cy="255.7" r="3.9"/>
<circle cx="277.6" cy="255.7" r="3.9"/>
<circle cx="279.6" cy="255.7" r="3.9"/>
<circle cx="281.5" cy="255.7" r="3.9"/>
<circle cx="283.5" cy="255.7" r="3.9"/>
<circle cx="285.4" cy="255.8" r="3.9"/>
<circle cx="287.4" cy="256.9" r="3.9"/>
<circle cx="289.4" cy="258.6" r="3.9"/>
<circle cx="291.3" cy="256.9" r="3.9"/>
<circle cx="293.3" cy="255.8" r="3.9"/>
<circle cx="295.2" cy="255.7" r="3.9"/>
<circle cx="297.2" cy="255.7" r="3.9"/>
<circle cx="299.2" cy="255.7" r="3.9"/>
<circle cx="301.1" cy="255.7" r="3.9"/>
<circle cx="303.1" cy="255.7" r="3.9"/>
<circle cx="305.0" cy="255.7" r="3.9"/>
<circle cx="307.0" cy="255.7" r="3.9"/>
<circle cx="309.0" cy="255.7" r="3.9"/>
<circle cx="310.9" cy="255.7" r="3.9"/>
<circle cx="312.9" cy="255.7" r="3.9"/>
<circle cx="314.8" cy="255.6" r="3.9"/>
<circle cx="316.8" cy="255.6" r="3.9"/>
<circle cx="318.8" cy="255.6" r="3.9"/>
<circle cx="320.7" cy="255.6" r="3.9"/>
<circle cx="322.7" cy="255.6" r="3.9"/>
<circle cx="324.6" cy="255.6" r="3.9"/>
<circle cx="326.6" cy="255.6" r="3.9"/>
<circle cx="328.6" cy="255.6" r="3.9"/>
<circle cx="330.5" cy="255.6" r="3.9"/>
<circle cx="332.5" cy="255.6" r="3.9"/>
<circle cx="334.4" cy="255.6" r="3.9"/>
<circle cx="336.4" cy="255.6" r="3.9"/>
<circle cx="338.4" cy="255.6" r="3.9"/>
<circle cx="340.3" cy="255.6" r="3.9"/>
<circle cx="342.3" cy="255.6" r="3.9"/>
<circle cx="344.3" cy="255.6" r="3.9"/>
<circle cx="346.2" cy="255.7" r="3.9"/>
<circle cx="348.2" cy="255.7" r="3.9"/>
<circle cx="350.1" cy="255.8" r="3.9"/>
<circle cx="352.1" cy="255.8" r="3.9"/>
<circle cx="354.1" cy="255.9" r="3.9"/>
<circle cx="356.0" cy="255.9" r="3.9"/>
<circle cx="358.0" cy="256.0" r="3.9"/>
<circle cx="359.9" cy="256.0" r="3.9"/>
<circle cx="361.9" cy="256.1" r="3.9"/>
<circle cx="363.9" cy="256.1" r="3.9"/>
<circle cx="365.8" cy="256.2" r="3.9"/>
<circle cx="367.8" cy="256.2" r="3.9"/>
<circle cx="369.7" cy="256.3" r="3.9"/>
<circle cx="371.7" cy="256.3" r="3.9"/>
<circle cx="373.7" cy="256.4" r="3.9"/>
<circle cx="375.6" cy="256.4" r="3.9"/>
<circle cx="377.6" cy="256.5" r="3.9"/>
<circle cx="379.5" cy="256.5" r="3.9"/>
<circle cx="381.5" cy="256.6" r="3.9"/>
<circle cx="383.5" cy="256.6" r="3.9"/>
<circle cx="385.4" cy="256.7" r="3.9"/>
<circle cx="387.4" cy="256.7" r="3.9"/>
<circle cx="389.3" cy="256.8" r="3.9"/>
<circle cx="391.3" cy="256.9" r="3.9"/>
<circle cx="393.3" cy="256.9" r="3.9"/>
<circle cx="395.2" cy="257.0" r="3.9"/>
<circle cx="397.2" cy="257.1" r="3.9"/>
<circle cx="399.1" cy="257.2" r="3.9"/>
<circle cx="401.1" cy="257.3" r="3.9"/>
<circle cx="403.1" cy="257.4" r="3.9"/>
<circle cx="405.0" cy="257.5" r="3.9"/>
<circle cx="407.0" cy="257.6" r="3.9"/>
<circle cx="409.0" cy="257.7" r="3.9"/>
<circle cx="410.9" cy="257.8" r="3.9"/>
<circle cx="412.9" cy="257.9" r="3.9"/>
<circle cx="414.8" cy="258.0" r="3.9"/>
<circle cx="416.8" cy="258.1" r="3.9"/>
<circle cx="418.8" cy="258.2" r="3.9"/>
<circle cx="420.7" cy="258.3" r="3.9"/>
<circle cx="422.7" cy="258.3" r="3.9"/>
<circle cx="424.6" cy="258.4" r="3.9"/>
<circle cx="426.6" cy="258.5" r="3.9"/>
<circle cx="428.6" cy="258.6" r="3.9"/>
<circle cx="430.5" cy="258.7" r="3.9"/>
<circle cx="432.5" cy="258.8" r="3.9"/>
<circle cx="434.4" cy="258.9" r="3.9"/>
<circle cx="436.4" cy="259.0" r="3.9"/>
<circle cx="438.4" cy="259.1" r="3.9"/>
<circle cx="440.3" cy="259.2" r="3.9"/>
<circle cx="442.3" cy="259.3" r="3.9"/>
<circle cx="444.2" cy="259.4" r="3.9"/>
<circle cx="446.2" cy="259.5" r="3.9"/>
<circle cx="448.2" cy="259.6" r="3.9"/>
<circle cx="450.1" cy="259.7" r="3.9"/>
<circle cx="452.1" cy="259.7" r="3.9"/>
<circle cx="454.0" cy="259.8" r="3.9"/>
<circle cx="456.0" cy="259.9" r="3.9"/>
<circle cx="458.0" cy="260.0" r="3.9"/>
<circle cx="459.9" cy="260.1" r="3.9"/>
<circle cx="461.9" cy="260.2" r="3.9"/>
<circle cx="463.8" cy="260.3" r="3.9"/>
<circle cx="465.8" cy="260.4" r="3.9"/>
<circle cx="467.8" cy="260.5" r="3.9"/>
<circle cx="469.7" cy="260.6" r="3.9"/>
<circle cx="471.7" cy="260.7" r="3.9"/>
<circle cx="473.7" cy="260.8" r="3.9"/>
<circle cx="475.6" cy="260.9" r="3.9"/>
<circle cx="477.6" cy="261.0" r="3.9"/>
<circle cx="479.5" cy="261.1" r="3.9"/>
<circle cx="481.5" cy="261.1" r="3.9"/>
<circle cx="483.5" cy="261.2" r="3.9"/>
<circle cx="485.4" cy="261.3" r="3.9"/>
<circle cx="487.4" cy="261.4" r="3.9"/>
<circle cx="489.3" cy="261.5" r="3.9"/>
<circle cx="491.3" cy="261.6" r="3.9"/>
<circle cx="493.3" cy="261.7" r="3.9"/>
<circle cx="495.2" cy="261.8" r="3.9"/>
<circle cx="497.2" cy="261.9" r="3.9"/>
<circle cx="499.1" cy="262.0" r="3.9"/>
<circle cx="501.1" cy="262.1" r="3.9"/>
<circle cx="503.1" cy="262.1" r="3.9"/>
<circle cx="505.0" cy="262.2" r="3.9"/>
<circle cx="507.0" cy="262.3" r="3.9"/>
<circle cx="508.9" cy="262.4" r="3.9"/>
<circle cx="510.9" cy="262.5" r="3.9"/>
<circle cx="512.9" cy="262.6" r="3.9"/>
<circle cx="514.8" cy="262.7" r="3.9"/>
<circle cx="516.8" cy="262.8" r="3.9"/>
<circle cx="518.7" cy="262.9" r="3.9"/>
<circle cx="520.7" cy="263.0" r="3.9"/>
<circle cx="522.7" cy="263.1" r="3.9"/>
<circle cx="524.6" cy="263.2" r="3.9"/>
<circle cx="526.6" cy="263.2" r="3.9"/>
<circle cx="528.5" cy="263.3" r="3.9"/>
<circle cx="530.5" cy="263.4" r="3.9"/>
<circle cx="532.5" cy="263.5" r="3.9"/>
<circle cx="534.4" cy="263.6" r="3.9"/>
<circle cx="536.4" cy="263.7" r="3.9"/>
<circle cx="538.4" cy="263.8" r="3.9"/>
<circle cx="540.3" cy="263.9" r="3.9"/>
<circle cx="542.3" cy="264.0" r="3.9"/>
<circle cx="544.2" cy="264.1" r="3.9"/>
<circle cx="546.2" cy="264.2" r="3.9"/>
<circle cx="548.2" cy="264.2" r="3.9"/>
<circle cx="550.1" cy="264.3" r="3.9"/>
<circle cx="552.1" cy="264.4" r="3.9"/>
<circle cx="554.0" cy="264.5" r="3.9"/>
<circle cx="556.0" cy="264.6" r="3.9"/>
<circle cx="558.0" cy="264.7" r="3.9"/>
<circle cx="559.9" cy="264.8" r="3.9"/>
<circle cx="561.9" cy="264.9" r="3.9"/>
<circle cx="563.8" cy="265.0" r="3.9"/>
<circle cx="565.8" cy="265.0" r="3.9"/>
<circle cx="567.8" cy="265.1" r="3.9"/>
<circle cx="569.7" cy="265.2" r="3.9"/>
<circle cx="571.7" cy="265.3" r="3.9"/>
<circle cx="573.6" cy="265.4" r="3.9"/>
<circle cx="575.6" cy="265.4" r="3.9"/>
<circle cx="577.6" cy="265.5" r="3.9"/>
<circle cx="579.5" cy="265.6" r="3.9"/>
<circle cx="581.5" cy="265.7" r="3.9"/>
<circle cx="583.4" cy="265.8" r="3.9"/>
<circle cx="585.4" cy="265.9" r="3.9"/>
<circle cx="587.4" cy="265.9" r="3.9"/>
<circle cx="589.3" cy="266.0" r="3.9"/>
<circle cx="591.3" cy="266.1" r="3.9"/>
<circle cx="593.2" cy="266.2" r="3.9"/>
<circle cx="595.2" cy="266.3" r="3.9"/>
<circle cx="597.2" cy="266.3" r="3.9"/>
<circle cx="599.1" cy="266.4" r="3.9"/>
<circle cx="601.1" cy="266.5" r="3.9"/>
<circle cx="603.0" cy="266.6" r="3.9"/>
<circle cx="605.0" cy="266.7" r="3.9"/>
<circle cx="607.0" cy="266.8" r="3.9"/>
<circle cx="608.9" cy="266.8" r="3.9"/>
<circle cx="610.9" cy="266.9" r="3.9"/>
<circle cx="612.9" cy="267.0" r="3.9"/>
<circle cx="614.8" cy="267.1" r="3.9"/>
<circle cx="616.8" cy="267.2" r="3.9"/>
<circle cx="618.7" cy="267.3" r="3.9"/>
<circle cx="620.7" cy="267.3" r="3.9"/>
<circle cx="622.7" cy="267.4" r="3.9"/>
<circle cx="624.6" cy="267.5" r="3.9"/>
<circle cx="626.6" cy="267.6" r="3.9"/>
<circle cx="628.5" cy="267.7" r="3.9"/>
<circle cx="630.5" cy="267.7" r="3.9"/>
<circle cx="632.5" cy="267.8" r="3.9"/>
<circle cx="634.4" cy="267.9" r="3.9"/>
<circle cx="636.4" cy="268.0" r="3.9"/>
</g>
<path d="M38.4,198.3 H645.8 V372.9 H38.4 Z" fill="none" stroke="#262626" stroke-width="1.3"/>
<line x1="38.4" y1="216.3" x2="43.9" y2="216.3" stroke="#262626" stroke-width="1.3"/>
<text x="31.9" y="219.3" font-size="8.6" text-anchor="end">120</text>
<line x1="38.4" y1="252.8" x2="43.9" y2="252.8" stroke="#262626" stroke-width="1.3"/>
<text x="31.9" y="255.8" font-size="8.6" text-anchor="end">100</text>
<line x1="38.4" y1="289.4" x2="43.9" y2="289.4" stroke="#262626" stroke-width="1.3"/>
<text x="31.9" y="292.4" font-size="8.6" text-anchor="end">80</text>
<line x1="38.4" y1="325.9" x2="43.9" y2="325.9" stroke="#262626" stroke-width="1.3"/>
<text x="31.9" y="328.9" font-size="8.6" text-anchor="end">60</text>
<line x1="38.4" y1="348.3" x2="43.9" y2="348.3" stroke="#262626" stroke-width="1.3"/>
<text x="31.9" y="351.3" font-size="8.6" text-anchor="end">1</text>
<text x="31.9" y="375.9" font-size="8.6" text-anchor="end">0</text>
<line x1="645.8" y1="212.4" x2="650" y2="212.4" stroke="#262626" stroke-width="1.3"/>
<text x="651.8" y="215.4" font-size="8.6">100</text>
<line x1="645.8" y1="248.2" x2="650" y2="248.2" stroke="#262626" stroke-width="1.3"/>
<text x="651.8" y="251.2" font-size="8.6">95</text>
<line x1="645.8" y1="284.1" x2="650" y2="284.1" stroke="#262626" stroke-width="1.3"/>
<text x="651.8" y="287.1" font-size="8.6">90</text>
<line x1="645.8" y1="319.9" x2="650" y2="319.9" stroke="#262626" stroke-width="1.3"/>
<text x="651.8" y="322.9" font-size="8.6">85</text>
<line x1="645.8" y1="337.4" x2="650" y2="337.4" stroke="#262626" stroke-width="1.3"/>
<text x="651.8" y="340.4" font-size="8.6">5</text>
<text x="651.8" y="376" font-size="8.6">0</text>
<line x1="48.2" y1="372.9" x2="48.2" y2="368.1" stroke="#262626" stroke-width="1.3"/>
<text x="48.2" y="386.3" font-size="8.6" text-anchor="middle">0</text>
<line x1="146.2" y1="372.9" x2="146.2" y2="368.1" stroke="#262626" stroke-width="1.3"/>
<text x="146.2" y="386.3" font-size="8.6" text-anchor="middle">100</text>
<line x1="244.3" y1="372.9" x2="244.3" y2="368.1" stroke="#262626" stroke-width="1.3"/>
<text x="244.3" y="386.3" font-size="8.6" text-anchor="middle">200</text>
<line x1="342.3" y1="372.9" x2="342.3" y2="368.1" stroke="#262626" stroke-width="1.3"/>
<text x="342.3" y="386.3" font-size="8.6" text-anchor="middle">300</text>
<line x1="440.3" y1="372.9" x2="440.3" y2="368.1" stroke="#262626" stroke-width="1.3"/>
<text x="440.3" y="386.3" font-size="8.6" text-anchor="middle">400</text>
<line x1="538.4" y1="372.9" x2="538.4" y2="368.1" stroke="#262626" stroke-width="1.3"/>
<text x="538.4" y="386.3" font-size="8.6" text-anchor="middle">500</text>
<line x1="636.4" y1="372.9" x2="636.4" y2="368.1" stroke="#262626" stroke-width="1.3"/>
<text x="636.4" y="386.3" font-size="8.6" text-anchor="middle">600</text>
<line x1="32.6" y1="343.5" x2="43.6" y2="327.5" stroke="#fff" stroke-width="4"/>
<line x1="31.200000000000003" y1="343.5" x2="42.2" y2="327.5" stroke="#222" stroke-width="0.9"/>
<line x1="34.0" y1="343.5" x2="45.0" y2="327.5" stroke="#222" stroke-width="0.9"/>
<line x1="639.5" y1="338.5" x2="651.5" y2="321.0" stroke="#fff" stroke-width="4"/>
<line x1="638.1" y1="338.5" x2="650.1" y2="321.0" stroke="#222" stroke-width="0.9"/>
<line x1="640.9" y1="338.5" x2="652.9" y2="321.0" stroke="#222" stroke-width="0.9"/>
<text x="345.2" y="403.2" font-size="11" text-anchor="middle">Cycle number / n</text>
<text x="7.4" y="284.2" font-size="11.3" text-anchor="middle" transform="rotate(-90 7.4 284.2)" dy="4.0">Specific capacity / mAh g<tspan dy="-4.6" font-size="7">-1</tspan></text>
<text x="678.2" y="288.5" font-size="11" text-anchor="middle" transform="rotate(-90 678.2 288.5)" dy="3.9">Coulombic efficiency / %</text>
<text x="57.8" y="250.9" font-size="11.8">1 A g<tspan dy="-4.5" font-size="7.5">-1</tspan></text>
<text x="632" y="250.4" font-size="12" text-anchor="end" fill="#f0892c">96.72 % (after 600 cycles)</text>
<line x1="59.2" y1="319.6" x2="85.8" y2="319.6" stroke="#e24d55" stroke-width="0.8"/>
<circle cx="72.4" cy="319.6" r="4.4" fill="url(#gr)"/>
<line x1="59.2" y1="348.7" x2="85.8" y2="348.7" stroke="#fbb476" stroke-width="0.8"/>
<circle cx="72.4" cy="348.7" r="4.4" fill="url(#go)"/>
<text x="88.8" y="323.9" font-size="11.6">W-NMT2</text>
<text x="146.6" y="323.9" font-size="11.6" fill="#ea2228">71.71 %</text>
<text x="88.8" y="353" font-size="11.6">W-NMT10</text>
<text x="146.6" y="353" font-size="11.6" fill="#f59324">96.72 %</text>
<text x="18.4" y="421.2" font-size="13">c</text>
<text x="339" y="420.6" font-size="13">d</text>
<rect x="37.5" y="424.9" width="289.1" height="85.8" fill="#fff4d3"/>
<rect x="37.5" y="510.7" width="289.1" height="84.5" fill="#fdeee2"/>
<line x1="37.5" y1="510.7" x2="326.6" y2="510.7" stroke="#fbe0a8" stroke-width="0.7"/>
<rect x="355.2" y="425.2" width="289.6" height="87.1" fill="#fff4d3"/>
<rect x="355.2" y="512.3" width="289.6" height="83.2" fill="#fdeee2"/>
<line x1="355.2" y1="512.3" x2="644.8" y2="512.3" stroke="#fbe0a8" stroke-width="0.7"/>
<line x1="75.6" y1="429" x2="75.6" y2="492" stroke="#222" stroke-width="0.95" stroke-dasharray="1.3,1.2"/>
<line x1="78.8" y1="507" x2="78.8" y2="563" stroke="#222" stroke-width="0.95" stroke-dasharray="1.3,1.2"/>
<line x1="142.4" y1="430" x2="142.4" y2="500" stroke="#222" stroke-width="0.95" stroke-dasharray="1.3,1.2"/>
<line x1="135.4" y1="510" x2="135.4" y2="570" stroke="#222" stroke-width="0.95" stroke-dasharray="1.3,1.2"/>
<line x1="210.4" y1="430" x2="210.4" y2="505" stroke="#222" stroke-width="0.95" stroke-dasharray="1.3,1.2"/>
<line x1="204.6" y1="512" x2="204.6" y2="575" stroke="#222" stroke-width="0.95" stroke-dasharray="1.3,1.2"/>
<line x1="288.8" y1="430" x2="288.8" y2="500" stroke="#222" stroke-width="0.95" stroke-dasharray="1.3,1.2"/>
<line x1="284.2" y1="508" x2="284.2" y2="575" stroke="#222" stroke-width="0.95" stroke-dasharray="1.3,1.2"/>
<line x1="400.5" y1="430" x2="400.5" y2="500" stroke="#222" stroke-width="0.95" stroke-dasharray="1.3,1.2"/>
<line x1="405.6" y1="512" x2="405.6" y2="575" stroke="#222" stroke-width="0.95" stroke-dasharray="1.3,1.2"/>
<line x1="453.6" y1="430" x2="453.6" y2="503" stroke="#222" stroke-width="0.95" stroke-dasharray="1.3,1.2"/>
<line x1="450.2" y1="512" x2="450.2" y2="575" stroke="#222" stroke-width="0.95" stroke-dasharray="1.3,1.2"/>
<line x1="529.7" y1="430" x2="529.7" y2="505" stroke="#222" stroke-width="0.95" stroke-dasharray="1.3,1.2"/>
<line x1="524.8" y1="523" x2="524.8" y2="575" stroke="#222" stroke-width="0.95" stroke-dasharray="1.3,1.2"/>
<line x1="598.6" y1="430" x2="598.6" y2="503" stroke="#222" stroke-width="0.95" stroke-dasharray="1.3,1.2"/>
<line x1="597.5" y1="525" x2="597.5" y2="575" stroke="#222" stroke-width="0.95" stroke-dasharray="1.3,1.2"/>
<line x1="49.7" y1="465.3" x2="62.4" y2="432.2" stroke="#fb7a34" stroke-width="0.7"/>
<path d="M63.5,429.2 L63.7,432.7 L61.0,431.7 Z" fill="#fb7a34"/>
<line x1="67.6" y1="505.3" x2="54.4" y2="476.5" stroke="#f23c3c" stroke-width="0.7"/>
<path d="M53.1,473.6 L55.7,475.9 L53.2,477.1 Z" fill="#f23c3c"/>
<line x1="46.7" y1="544.5" x2="67.7" y2="516.5" stroke="#fb7a34" stroke-width="0.7"/>
<path d="M69.6,513.9 L68.8,517.3 L66.6,515.6 Z" fill="#fb7a34"/>
<line x1="80.8" y1="575.8" x2="52.8" y2="556.8" stroke="#f23c3c" stroke-width="0.7"/>
<path d="M50.2,555.0 L53.6,555.6 L52.1,558.0 Z" fill="#f23c3c"/>
<line x1="369.9" y1="465.2" x2="387.7" y2="433.0" stroke="#fb7a34" stroke-width="0.7"/>
<path d="M389.2,430.2 L388.9,433.7 L386.4,432.3 Z" fill="#fb7a34"/>
<line x1="394.0" y1="503.9" x2="372.0" y2="479.7" stroke="#f23c3c" stroke-width="0.7"/>
<path d="M369.9,477.3 L373.1,478.7 L371.0,480.6 Z" fill="#f23c3c"/>
<line x1="363.8" y1="541.3" x2="393.8" y2="519.0" stroke="#fb7a34" stroke-width="0.7"/>
<path d="M396.4,517.1 L394.7,520.1 L393.0,517.9 Z" fill="#fb7a34"/>
<line x1="395.2" y1="577.5" x2="367.6" y2="557.7" stroke="#f23c3c" stroke-width="0.7"/>
<path d="M365.0,555.8 L368.4,556.5 L366.8,558.8 Z" fill="#f23c3c"/>
<text x="49.2" y="444.5" font-size="6.0" fill="#fb7a34" text-anchor="middle" dy="2.2" transform="rotate(-64 49.2 444.5)">Discharging</text>
<text x="53.2" y="492.6" font-size="6.0" fill="#f23c3c" text-anchor="middle" dy="2.2" transform="rotate(-112 53.2 492.6)">Charging</text>
<text x="49.5" y="528.0" font-size="6.0" fill="#fb7a34" text-anchor="middle" dy="2.2" transform="rotate(-52 49.5 528.0)">Discharging</text>
<text x="58.5" y="571.5" font-size="6.0" fill="#f23c3c" text-anchor="middle" dy="2.2" transform="rotate(-142 58.5 571.5)">Charging</text>
<text x="372.6" y="448.3" font-size="6.0" fill="#fb7a34" text-anchor="middle" dy="2.2" transform="rotate(-63 372.6 448.3)">Discharging</text>
<text x="372.8" y="496.0" font-size="6.0" fill="#f23c3c" text-anchor="middle" dy="2.2" transform="rotate(-127 372.8 496.0)">Charging</text>
<text x="371.5" y="526.2" font-size="6.0" fill="#fb7a34" text-anchor="middle" dy="2.2" transform="rotate(-40 371.5 526.2)">Discharging</text>
<text x="375.8" y="571.5" font-size="6.0" fill="#f23c3c" text-anchor="middle" dy="2.2" transform="rotate(-142 375.8 571.5)">Charging</text>
<text x="44.5" y="472.0" font-size="8.6" fill="#e6007e" text-anchor="middle" dy="3.0" transform="rotate(-90 44.5 472.0)">2<tspan dy="-3.4" font-size="5.6">nd</tspan></text>
<text x="44.5" y="549.0" font-size="8.6" fill="#e6007e" text-anchor="middle" dy="3.0" transform="rotate(-90 44.5 549.0)">1<tspan dy="-3.4" font-size="5.6">st</tspan></text>
<text x="363.0" y="470.0" font-size="8.6" fill="#e6007e" text-anchor="middle" dy="3.0" transform="rotate(-90 363.0 470.0)">2<tspan dy="-3.4" font-size="5.6">nd</tspan></text>
<text x="363.0" y="547.5" font-size="8.6" fill="#e6007e" text-anchor="middle" dy="3.0" transform="rotate(-90 363.0 547.5)">1<tspan dy="-3.4" font-size="5.6">st</tspan></text>
<g fill="url(#ga)">
<circle cx="85.5" cy="590.0" r="2.8"/>
<circle cx="85.4" cy="587.6" r="2.8"/>
<circle cx="85.3" cy="585.3" r="2.8"/>
<circle cx="85.2" cy="582.9" r="2.8"/>
<circle cx="85.0" cy="580.6" r="2.8"/>
<circle cx="84.9" cy="578.2" r="2.8"/>
<circle cx="84.7" cy="575.9" r="2.8"/>
<circle cx="84.5" cy="573.5" r="2.8"/>
<circle cx="84.2" cy="571.2" r="2.8"/>
<circle cx="83.5" cy="568.8" r="2.8"/>
<circle cx="81.0" cy="566.5" r="2.8"/>
<circle cx="77.7" cy="564.1" r="2.8"/>
<circle cx="73.2" cy="561.8" r="2.8"/>
<circle cx="69.6" cy="559.4" r="2.8"/>
<circle cx="67.2" cy="557.1" r="2.8"/>
<circle cx="65.2" cy="554.7" r="2.8"/>
<circle cx="63.6" cy="552.4" r="2.8"/>
<circle cx="62.2" cy="550.0" r="2.8"/>
<circle cx="61.1" cy="547.7" r="2.8"/>
<circle cx="60.5" cy="545.3" r="2.8"/>
<circle cx="60.6" cy="543.0" r="2.8"/>
<circle cx="60.8" cy="540.6" r="2.8"/>
<circle cx="61.3" cy="538.3" r="2.8"/>
<circle cx="61.8" cy="535.9" r="2.8"/>
<circle cx="62.5" cy="533.6" r="2.8"/>
<circle cx="63.8" cy="531.2" r="2.8"/>
<circle cx="65.4" cy="528.9" r="2.8"/>
<circle cx="67.2" cy="526.5" r="2.8"/>
<circle cx="69.8" cy="524.2" r="2.8"/>
<circle cx="72.1" cy="521.8" r="2.8"/>
<circle cx="73.1" cy="519.5" r="2.8"/>
<circle cx="73.5" cy="517.1" r="2.8"/>
<circle cx="73.8" cy="514.8" r="2.8"/>
<circle cx="73.9" cy="512.4" r="2.8"/>
<circle cx="74.0" cy="510.1" r="2.8"/>
<circle cx="73.9" cy="507.7" r="2.8"/>
<circle cx="73.5" cy="505.4" r="2.8"/>
<circle cx="73.1" cy="503.0" r="2.8"/>
<circle cx="72.6" cy="500.7" r="2.8"/>
<circle cx="72.3" cy="498.3" r="2.8"/>
<circle cx="71.9" cy="496.0" r="2.8"/>
<circle cx="71.6" cy="493.6" r="2.8"/>
<circle cx="71.2" cy="491.3" r="2.8"/>
<circle cx="70.8" cy="488.9" r="2.8"/>
<circle cx="70.1" cy="486.6" r="2.8"/>
<circle cx="69.4" cy="484.2" r="2.8"/>
<circle cx="68.6" cy="481.9" r="2.8"/>
<circle cx="67.9" cy="479.5" r="2.8"/>
<circle cx="67.1" cy="477.2" r="2.8"/>
<circle cx="66.3" cy="474.8" r="2.8"/>
<circle cx="65.6" cy="472.5" r="2.8"/>
<circle cx="65.0" cy="470.1" r="2.8"/>
<circle cx="64.5" cy="467.8" r="2.8"/>
<circle cx="64.1" cy="465.4" r="2.8"/>
<circle cx="63.7" cy="463.1" r="2.8"/>
<circle cx="63.5" cy="460.7" r="2.8"/>
<circle cx="63.5" cy="458.4" r="2.8"/>
<circle cx="63.6" cy="456.0" r="2.8"/>
<circle cx="63.7" cy="453.7" r="2.8"/>
<circle cx="63.9" cy="451.3" r="2.8"/>
<circle cx="64.1" cy="449.0" r="2.8"/>
<circle cx="64.5" cy="446.6" r="2.8"/>
<circle cx="65.0" cy="444.3" r="2.8"/>
<circle cx="65.5" cy="441.9" r="2.8"/>
<circle cx="66.1" cy="439.6" r="2.8"/>
<circle cx="66.7" cy="437.2" r="2.8"/>
<circle cx="67.4" cy="434.9" r="2.8"/>
<circle cx="68.2" cy="432.5" r="2.8"/>
</g>
<g fill="url(#gv)">
<circle cx="203.0" cy="590.0" r="2.8"/>
<circle cx="203.0" cy="587.6" r="2.8"/>
<circle cx="203.0" cy="585.3" r="2.8"/>
<circle cx="203.0" cy="582.9" r="2.8"/>
<circle cx="203.0" cy="580.6" r="2.8"/>
<circle cx="203.3" cy="578.2" r="2.8"/>
<circle cx="203.8" cy="575.9" r="2.8"/>
<circle cx="204.8" cy="573.5" r="2.8"/>
<circle cx="207.6" cy="571.2" r="2.8"/>
<circle cx="210.9" cy="568.8" r="2.8"/>
<circle cx="213.9" cy="566.5" r="2.8"/>
<circle cx="217.2" cy="564.1" r="2.8"/>
<circle cx="220.2" cy="561.8" r="2.8"/>
<circle cx="223.2" cy="559.4" r="2.8"/>
<circle cx="226.0" cy="557.1" r="2.8"/>
<circle cx="228.2" cy="554.7" r="2.8"/>
<circle cx="230.0" cy="552.4" r="2.8"/>
<circle cx="231.5" cy="550.0" r="2.8"/>
<circle cx="232.0" cy="547.7" r="2.8"/>
<circle cx="231.9" cy="545.3" r="2.8"/>
<circle cx="231.6" cy="543.0" r="2.8"/>
<circle cx="231.1" cy="540.6" r="2.8"/>
<circle cx="230.4" cy="538.3" r="2.8"/>
<circle cx="228.8" cy="535.9" r="2.8"/>
<circle cx="226.6" cy="533.6" r="2.8"/>
<circle cx="224.1" cy="531.2" r="2.8"/>
<circle cx="219.9" cy="528.9" r="2.8"/>
<circle cx="216.5" cy="526.5" r="2.8"/>
<circle cx="213.9" cy="524.2" r="2.8"/>
<circle cx="211.8" cy="521.8" r="2.8"/>
<circle cx="210.9" cy="519.5" r="2.8"/>
<circle cx="210.5" cy="517.1" r="2.8"/>
<circle cx="210.2" cy="514.8" r="2.8"/>
<circle cx="210.1" cy="512.4" r="2.8"/>
<circle cx="210.0" cy="510.1" r="2.8"/>
<circle cx="210.6" cy="507.7" r="2.8"/>
<circle cx="211.8" cy="505.4" r="2.8"/>
<circle cx="213.1" cy="503.0" r="2.8"/>
<circle cx="214.5" cy="500.7" r="2.8"/>
<circle cx="216.2" cy="498.3" r="2.8"/>
<circle cx="218.0" cy="496.0" r="2.8"/>
<circle cx="219.8" cy="493.6" r="2.8"/>
<circle cx="221.4" cy="491.3" r="2.8"/>
<circle cx="222.4" cy="488.9" r="2.8"/>
<circle cx="223.2" cy="486.6" r="2.8"/>
<circle cx="223.9" cy="484.2" r="2.8"/>
<circle cx="224.5" cy="481.9" r="2.8"/>
<circle cx="225.1" cy="479.5" r="2.8"/>
<circle cx="225.7" cy="477.2" r="2.8"/>
<circle cx="226.3" cy="474.8" r="2.8"/>
<circle cx="226.8" cy="472.5" r="2.8"/>
<circle cx="227.0" cy="470.1" r="2.8"/>
<circle cx="226.9" cy="467.8" r="2.8"/>
<circle cx="226.7" cy="465.4" r="2.8"/>
<circle cx="226.5" cy="463.1" r="2.8"/>
<circle cx="226.1" cy="460.7" r="2.8"/>
<circle cx="225.7" cy="458.4" r="2.8"/>
<circle cx="225.1" cy="456.0" r="2.8"/>
<circle cx="224.3" cy="453.7" r="2.8"/>
<circle cx="223.5" cy="451.3" r="2.8"/>
<circle cx="222.6" cy="449.0" r="2.8"/>
<circle cx="221.7" cy="446.6" r="2.8"/>
<circle cx="220.6" cy="444.3" r="2.8"/>
<circle cx="219.7" cy="441.9" r="2.8"/>
<circle cx="218.9" cy="439.6" r="2.8"/>
<circle cx="218.2" cy="437.2" r="2.8"/>
<circle cx="217.6" cy="434.9" r="2.8"/>
<circle cx="217.1" cy="432.5" r="2.8"/>
</g>
<g fill="url(#gs)">
<circle cx="274.0" cy="590.0" r="2.8"/>
<circle cx="274.0" cy="587.6" r="2.8"/>
<circle cx="274.0" cy="585.3" r="2.8"/>
<circle cx="274.0" cy="582.9" r="2.8"/>
<circle cx="274.1" cy="580.6" r="2.8"/>
<circle cx="274.4" cy="578.2" r="2.8"/>
<circle cx="276.4" cy="575.9" r="2.8"/>
<circle cx="280.5" cy="573.5" r="2.8"/>
<circle cx="284.1" cy="571.2" r="2.8"/>
<circle cx="287.0" cy="568.8" r="2.8"/>
<circle cx="290.0" cy="566.5" r="2.8"/>
<circle cx="293.3" cy="564.1" r="2.8"/>
<circle cx="297.4" cy="561.8" r="2.8"/>
<circle cx="301.3" cy="559.4" r="2.8"/>
<circle cx="303.8" cy="557.1" r="2.8"/>
<circle cx="305.8" cy="554.7" r="2.8"/>
<circle cx="307.4" cy="552.4" r="2.8"/>
<circle cx="308.0" cy="550.0" r="2.8"/>
<circle cx="307.5" cy="547.7" r="2.8"/>
<circle cx="306.1" cy="545.3" r="2.8"/>
<circle cx="304.4" cy="543.0" r="2.8"/>
<circle cx="302.5" cy="540.6" r="2.8"/>
<circle cx="300.6" cy="538.3" r="2.8"/>
<circle cx="298.2" cy="535.9" r="2.8"/>
<circle cx="295.7" cy="533.6" r="2.8"/>
<circle cx="293.7" cy="531.2" r="2.8"/>
<circle cx="292.5" cy="528.9" r="2.8"/>
<circle cx="291.7" cy="526.5" r="2.8"/>
<circle cx="291.1" cy="524.2" r="2.8"/>
<circle cx="290.5" cy="521.8" r="2.8"/>
<circle cx="289.8" cy="519.5" r="2.8"/>
<circle cx="289.0" cy="517.1" r="2.8"/>
<circle cx="288.1" cy="514.8" r="2.8"/>
<circle cx="287.3" cy="512.4" r="2.8"/>
<circle cx="287.0" cy="510.1" r="2.8"/>
<circle cx="287.1" cy="507.7" r="2.8"/>
<circle cx="287.6" cy="505.4" r="2.8"/>
<circle cx="288.1" cy="503.0" r="2.8"/>
<circle cx="288.8" cy="500.7" r="2.8"/>
<circle cx="289.5" cy="498.3" r="2.8"/>
<circle cx="290.5" cy="496.0" r="2.8"/>
<circle cx="291.7" cy="493.6" r="2.8"/>
<circle cx="293.0" cy="491.3" r="2.8"/>
<circle cx="294.4" cy="488.9" r="2.8"/>
<circle cx="296.0" cy="486.6" r="2.8"/>
<circle cx="297.5" cy="484.2" r="2.8"/>
<circle cx="299.2" cy="481.9" r="2.8"/>
<circle cx="301.0" cy="479.5" r="2.8"/>
<circle cx="302.7" cy="477.2" r="2.8"/>
<circle cx="304.1" cy="474.8" r="2.8"/>
<circle cx="305.5" cy="472.5" r="2.8"/>
<circle cx="306.8" cy="470.1" r="2.8"/>
<circle cx="307.7" cy="467.8" r="2.8"/>
<circle cx="308.0" cy="465.4" r="2.8"/>
<circle cx="307.0" cy="463.1" r="2.8"/>
<circle cx="305.5" cy="460.7" r="2.8"/>
<circle cx="303.9" cy="458.4" r="2.8"/>
<circle cx="301.7" cy="456.0" r="2.8"/>
<circle cx="299.5" cy="453.7" r="2.8"/>
<circle cx="297.7" cy="451.3" r="2.8"/>
<circle cx="296.6" cy="449.0" r="2.8"/>
<circle cx="295.9" cy="446.6" r="2.8"/>
<circle cx="295.3" cy="444.3" r="2.8"/>
<circle cx="294.8" cy="441.9" r="2.8"/>
<circle cx="294.5" cy="439.6" r="2.8"/>
<circle cx="294.2" cy="437.2" r="2.8"/>
<circle cx="293.9" cy="434.9" r="2.8"/>
<circle cx="293.7" cy="432.5" r="2.8"/>
</g>
<g fill="url(#ga)">
<circle cx="406.0" cy="590.0" r="2.8"/>
<circle cx="406.0" cy="587.6" r="2.8"/>
<circle cx="406.0" cy="585.3" r="2.8"/>
<circle cx="406.0" cy="582.9" r="2.8"/>
<circle cx="405.9" cy="580.6" r="2.8"/>
<circle cx="405.3" cy="578.2" r="2.8"/>
<circle cx="404.4" cy="575.9" r="2.8"/>
<circle cx="403.0" cy="573.5" r="2.8"/>
<circle cx="400.5" cy="571.2" r="2.8"/>
<circle cx="397.2" cy="568.8" r="2.8"/>
<circle cx="392.7" cy="566.5" r="2.8"/>
<circle cx="388.7" cy="564.1" r="2.8"/>
<circle cx="385.4" cy="561.8" r="2.8"/>
<circle cx="382.5" cy="559.4" r="2.8"/>
<circle cx="380.1" cy="557.1" r="2.8"/>
<circle cx="377.7" cy="554.7" r="2.8"/>
<circle cx="375.8" cy="552.4" r="2.8"/>
<circle cx="375.0" cy="550.0" r="2.8"/>
<circle cx="375.3" cy="547.7" r="2.8"/>
<circle cx="376.2" cy="545.3" r="2.8"/>
<circle cx="377.4" cy="543.0" r="2.8"/>
<circle cx="379.0" cy="540.6" r="2.8"/>
<circle cx="381.3" cy="538.3" r="2.8"/>
<circle cx="384.0" cy="535.9" r="2.8"/>
<circle cx="386.4" cy="533.6" r="2.8"/>
<circle cx="388.9" cy="531.2" r="2.8"/>
<circle cx="391.2" cy="528.9" r="2.8"/>
<circle cx="393.2" cy="526.5" r="2.8"/>
<circle cx="395.2" cy="524.2" r="2.8"/>
<circle cx="396.9" cy="521.8" r="2.8"/>
<circle cx="398.3" cy="519.5" r="2.8"/>
<circle cx="399.5" cy="517.1" r="2.8"/>
<circle cx="400.5" cy="514.8" r="2.8"/>
<circle cx="401.0" cy="512.4" r="2.8"/>
<circle cx="400.8" cy="510.1" r="2.8"/>
<circle cx="400.0" cy="507.7" r="2.8"/>
<circle cx="399.1" cy="505.4" r="2.8"/>
<circle cx="398.3" cy="503.0" r="2.8"/>
<circle cx="397.5" cy="500.7" r="2.8"/>
<circle cx="396.6" cy="498.3" r="2.8"/>
<circle cx="395.5" cy="496.0" r="2.8"/>
<circle cx="394.2" cy="493.6" r="2.8"/>
<circle cx="392.7" cy="491.3" r="2.8"/>
<circle cx="391.0" cy="488.9" r="2.8"/>
<circle cx="389.2" cy="486.6" r="2.8"/>
<circle cx="387.4" cy="484.2" r="2.8"/>
<circle cx="385.5" cy="481.9" r="2.8"/>
<circle cx="383.8" cy="479.5" r="2.8"/>
<circle cx="382.7" cy="477.2" r="2.8"/>
<circle cx="381.9" cy="474.8" r="2.8"/>
<circle cx="381.3" cy="472.5" r="2.8"/>
<circle cx="381.0" cy="470.1" r="2.8"/>
<circle cx="381.1" cy="467.8" r="2.8"/>
<circle cx="381.3" cy="465.4" r="2.8"/>
<circle cx="381.5" cy="463.1" r="2.8"/>
<circle cx="381.9" cy="460.7" r="2.8"/>
<circle cx="382.4" cy="458.4" r="2.8"/>
<circle cx="383.2" cy="456.0" r="2.8"/>
<circle cx="384.2" cy="453.7" r="2.8"/>
<circle cx="385.3" cy="451.3" r="2.8"/>
<circle cx="386.5" cy="449.0" r="2.8"/>
<circle cx="388.0" cy="446.6" r="2.8"/>
<circle cx="389.6" cy="444.3" r="2.8"/>
<circle cx="391.1" cy="441.9" r="2.8"/>
<circle cx="392.1" cy="439.6" r="2.8"/>
<circle cx="393.0" cy="437.2" r="2.8"/>
<circle cx="393.7" cy="434.9" r="2.8"/>
<circle cx="394.3" cy="432.5" r="2.8"/>
</g>
<g fill="url(#gc)">
<circle cx="449.0" cy="590.0" r="2.8"/>
<circle cx="449.0" cy="587.6" r="2.8"/>
<circle cx="449.1" cy="585.3" r="2.8"/>
<circle cx="449.2" cy="582.9" r="2.8"/>
<circle cx="449.3" cy="580.6" r="2.8"/>
<circle cx="449.5" cy="578.2" r="2.8"/>
<circle cx="450.5" cy="575.9" r="2.8"/>
<circle cx="452.7" cy="573.5" r="2.8"/>
<circle cx="454.5" cy="571.2" r="2.8"/>
<circle cx="455.7" cy="568.8" r="2.8"/>
<circle cx="457.5" cy="566.5" r="2.8"/>
<circle cx="461.4" cy="564.1" r="2.8"/>
<circle cx="465.3" cy="561.8" r="2.8"/>
<circle cx="468.4" cy="559.4" r="2.8"/>
<circle cx="471.0" cy="557.1" r="2.8"/>
<circle cx="472.0" cy="554.7" r="2.8"/>
<circle cx="472.0" cy="552.4" r="2.8"/>
<circle cx="472.0" cy="550.0" r="2.8"/>
<circle cx="472.0" cy="547.7" r="2.8"/>
<circle cx="471.5" cy="545.3" r="2.8"/>
<circle cx="470.5" cy="543.0" r="2.8"/>
<circle cx="469.3" cy="540.6" r="2.8"/>
<circle cx="468.1" cy="538.3" r="2.8"/>
<circle cx="466.4" cy="535.9" r="2.8"/>
<circle cx="464.6" cy="533.6" r="2.8"/>
<circle cx="462.9" cy="531.2" r="2.8"/>
<circle cx="461.3" cy="528.9" r="2.8"/>
<circle cx="459.6" cy="526.5" r="2.8"/>
<circle cx="458.0" cy="524.2" r="2.8"/>
<circle cx="456.7" cy="521.8" r="2.8"/>
<circle cx="455.9" cy="519.5" r="2.8"/>
<circle cx="455.2" cy="517.1" r="2.8"/>
<circle cx="454.6" cy="514.8" r="2.8"/>
<circle cx="454.2" cy="512.4" r="2.8"/>
<circle cx="454.0" cy="510.1" r="2.8"/>
<circle cx="454.3" cy="507.7" r="2.8"/>
<circle cx="454.9" cy="505.4" r="2.8"/>
<circle cx="455.4" cy="503.0" r="2.8"/>
<circle cx="455.8" cy="500.7" r="2.8"/>
<circle cx="456.6" cy="498.3" r="2.8"/>
<circle cx="457.7" cy="496.0" r="2.8"/>
<circle cx="459.0" cy="493.6" r="2.8"/>
<circle cx="460.3" cy="491.3" r="2.8"/>
<circle cx="461.5" cy="488.9" r="2.8"/>
<circle cx="462.7" cy="486.6" r="2.8"/>
<circle cx="464.0" cy="484.2" r="2.8"/>
<circle cx="465.1" cy="481.9" r="2.8"/>
<circle cx="466.2" cy="479.5" r="2.8"/>
<circle cx="467.3" cy="477.2" r="2.8"/>
<circle cx="468.3" cy="474.8" r="2.8"/>
<circle cx="469.2" cy="472.5" r="2.8"/>
<circle cx="470.0" cy="470.1" r="2.8"/>
<circle cx="470.6" cy="467.8" r="2.8"/>
<circle cx="471.2" cy="465.4" r="2.8"/>
<circle cx="471.7" cy="463.1" r="2.8"/>
<circle cx="472.0" cy="460.7" r="2.8"/>
<circle cx="471.7" cy="458.4" r="2.8"/>
<circle cx="470.6" cy="456.0" r="2.8"/>
<circle cx="469.1" cy="453.7" r="2.8"/>
<circle cx="467.1" cy="451.3" r="2.8"/>
<circle cx="465.3" cy="449.0" r="2.8"/>
<circle cx="463.8" cy="446.6" r="2.8"/>
<circle cx="462.4" cy="444.3" r="2.8"/>
<circle cx="461.0" cy="441.9" r="2.8"/>
<circle cx="459.8" cy="439.6" r="2.8"/>
<circle cx="458.6" cy="437.2" r="2.8"/>
<circle cx="457.5" cy="434.9" r="2.8"/>
<circle cx="456.4" cy="432.5" r="2.8"/>
</g>
<g fill="url(#gv)">
<circle cx="525.0" cy="590.0" r="2.8"/>
<circle cx="525.0" cy="587.6" r="2.8"/>
<circle cx="525.0" cy="585.3" r="2.8"/>
<circle cx="525.0" cy="582.9" r="2.8"/>
<circle cx="525.0" cy="580.6" r="2.8"/>
<circle cx="525.0" cy="578.2" r="2.8"/>
<circle cx="525.1" cy="575.9" r="2.8"/>
<circle cx="525.6" cy="573.5" r="2.8"/>
<circle cx="526.3" cy="571.2" r="2.8"/>
<circle cx="528.0" cy="568.8" r="2.8"/>
<circle cx="530.8" cy="566.5" r="2.8"/>
<circle cx="537.1" cy="564.1" r="2.8"/>
<circle cx="542.2" cy="561.8" r="2.8"/>
<circle cx="544.6" cy="559.4" r="2.8"/>
<circle cx="546.2" cy="557.1" r="2.8"/>
<circle cx="547.0" cy="554.7" r="2.8"/>
<circle cx="547.4" cy="552.4" r="2.8"/>
<circle cx="547.7" cy="550.0" r="2.8"/>
<circle cx="547.9" cy="547.7" r="2.8"/>
<circle cx="548.0" cy="545.3" r="2.8"/>
<circle cx="547.4" cy="543.0" r="2.8"/>
<circle cx="545.5" cy="540.6" r="2.8"/>
<circle cx="543.3" cy="538.3" r="2.8"/>
<circle cx="541.0" cy="535.9" r="2.8"/>
<circle cx="538.3" cy="533.6" r="2.8"/>
<circle cx="535.5" cy="531.2" r="2.8"/>
<circle cx="532.5" cy="528.9" r="2.8"/>
<circle cx="529.0" cy="526.5" r="2.8"/>
<circle cx="528.0" cy="524.2" r="2.8"/>
<circle cx="528.0" cy="521.8" r="2.8"/>
<circle cx="528.0" cy="519.5" r="2.8"/>
<circle cx="528.0" cy="517.1" r="2.8"/>
<circle cx="528.0" cy="514.8" r="2.8"/>
<circle cx="528.2" cy="512.4" r="2.8"/>
<circle cx="528.6" cy="510.1" r="2.8"/>
<circle cx="529.2" cy="507.7" r="2.8"/>
<circle cx="529.9" cy="505.4" r="2.8"/>
<circle cx="531.0" cy="503.0" r="2.8"/>
<circle cx="532.5" cy="500.7" r="2.8"/>
<circle cx="534.0" cy="498.3" r="2.8"/>
<circle cx="535.5" cy="496.0" r="2.8"/>
<circle cx="537.3" cy="493.6" r="2.8"/>
<circle cx="539.8" cy="491.3" r="2.8"/>
<circle cx="542.3" cy="488.9" r="2.8"/>
<circle cx="543.8" cy="486.6" r="2.8"/>
<circle cx="545.0" cy="484.2" r="2.8"/>
<circle cx="545.9" cy="481.9" r="2.8"/>
<circle cx="546.7" cy="479.5" r="2.8"/>
<circle cx="547.1" cy="477.2" r="2.8"/>
<circle cx="547.6" cy="474.8" r="2.8"/>
<circle cx="547.9" cy="472.5" r="2.8"/>
<circle cx="548.0" cy="470.1" r="2.8"/>
<circle cx="547.6" cy="467.8" r="2.8"/>
<circle cx="546.5" cy="465.4" r="2.8"/>
<circle cx="545.1" cy="463.1" r="2.8"/>
<circle cx="543.5" cy="460.7" r="2.8"/>
<circle cx="541.8" cy="458.4" r="2.8"/>
<circle cx="539.7" cy="456.0" r="2.8"/>
<circle cx="538.4" cy="453.7" r="2.8"/>
<circle cx="537.5" cy="451.3" r="2.8"/>
<circle cx="536.7" cy="449.0" r="2.8"/>
<circle cx="535.9" cy="446.6" r="2.8"/>
<circle cx="535.2" cy="444.3" r="2.8"/>
<circle cx="534.5" cy="441.9" r="2.8"/>
<circle cx="533.9" cy="439.6" r="2.8"/>
<circle cx="533.3" cy="437.2" r="2.8"/>
<circle cx="532.7" cy="434.9" r="2.8"/>
<circle cx="532.2" cy="432.5" r="2.8"/>
</g>
<g fill="url(#gs)">
<circle cx="590.0" cy="590.0" r="2.8"/>
<circle cx="590.1" cy="587.6" r="2.8"/>
<circle cx="590.3" cy="585.3" r="2.8"/>
<circle cx="590.8" cy="582.9" r="2.8"/>
<circle cx="592.5" cy="580.6" r="2.8"/>
<circle cx="595.6" cy="578.2" r="2.8"/>
<circle cx="600.4" cy="575.9" r="2.8"/>
<circle cx="604.3" cy="573.5" r="2.8"/>
<circle cx="607.8" cy="571.2" r="2.8"/>
<circle cx="609.8" cy="568.8" r="2.8"/>
<circle cx="611.3" cy="566.5" r="2.8"/>
<circle cx="612.4" cy="564.1" r="2.8"/>
<circle cx="613.3" cy="561.8" r="2.8"/>
<circle cx="614.2" cy="559.4" r="2.8"/>
<circle cx="615.2" cy="557.1" r="2.8"/>
<circle cx="616.1" cy="554.7" r="2.8"/>
<circle cx="616.7" cy="552.4" r="2.8"/>
<circle cx="617.0" cy="550.0" r="2.8"/>
<circle cx="616.7" cy="547.7" r="2.8"/>
<circle cx="615.8" cy="545.3" r="2.8"/>
<circle cx="614.6" cy="543.0" r="2.8"/>
<circle cx="613.0" cy="540.6" r="2.8"/>
<circle cx="610.6" cy="538.3" r="2.8"/>
<circle cx="608.0" cy="535.9" r="2.8"/>
<circle cx="605.6" cy="533.6" r="2.8"/>
<circle cx="603.1" cy="531.2" r="2.8"/>
<circle cx="600.9" cy="528.9" r="2.8"/>
<circle cx="599.9" cy="526.5" r="2.8"/>
<circle cx="599.4" cy="524.2" r="2.8"/>
<circle cx="599.1" cy="521.8" r="2.8"/>
<circle cx="599.0" cy="519.5" r="2.8"/>
<circle cx="599.0" cy="517.1" r="2.8"/>
<circle cx="599.0" cy="514.8" r="2.8"/>
<circle cx="599.0" cy="512.4" r="2.8"/>
<circle cx="599.0" cy="510.1" r="2.8"/>
<circle cx="599.1" cy="507.7" r="2.8"/>
<circle cx="599.5" cy="505.4" r="2.8"/>
<circle cx="600.0" cy="503.0" r="2.8"/>
<circle cx="601.2" cy="500.7" r="2.8"/>
<circle cx="603.2" cy="498.3" r="2.8"/>
<circle cx="605.3" cy="496.0" r="2.8"/>
<circle cx="606.9" cy="493.6" r="2.8"/>
<circle cx="608.4" cy="491.3" r="2.8"/>
<circle cx="609.8" cy="488.9" r="2.8"/>
<circle cx="611.1" cy="486.6" r="2.8"/>
<circle cx="612.4" cy="484.2" r="2.8"/>
<circle cx="613.8" cy="481.9" r="2.8"/>
<circle cx="615.2" cy="479.5" r="2.8"/>
<circle cx="616.3" cy="477.2" r="2.8"/>
<circle cx="617.0" cy="474.8" r="2.8"/>
<circle cx="617.5" cy="472.5" r="2.8"/>
<circle cx="617.9" cy="470.1" r="2.8"/>
<circle cx="618.0" cy="467.8" r="2.8"/>
<circle cx="617.9" cy="465.4" r="2.8"/>
<circle cx="617.6" cy="463.1" r="2.8"/>
<circle cx="617.2" cy="460.7" r="2.8"/>
<circle cx="616.1" cy="458.4" r="2.8"/>
<circle cx="613.9" cy="456.0" r="2.8"/>
<circle cx="612.0" cy="453.7" r="2.8"/>
<circle cx="610.1" cy="451.3" r="2.8"/>
<circle cx="608.1" cy="449.0" r="2.8"/>
<circle cx="606.1" cy="446.6" r="2.8"/>
<circle cx="604.7" cy="444.3" r="2.8"/>
<circle cx="603.8" cy="441.9" r="2.8"/>
<circle cx="603.5" cy="439.6" r="2.8"/>
<circle cx="603.5" cy="437.2" r="2.8"/>
<circle cx="603.5" cy="434.9" r="2.8"/>
<circle cx="603.5" cy="432.5" r="2.8"/>
</g>
<path d="M155.4,563.5 L148.9,568.5 L143.9,565.2 L134.6,573.4 L129.7,571.2 L125.3,576.1" fill="none" stroke="#f7a23c" stroke-width="0.8"/>
<g fill="url(#gc)">
<circle cx="127.0" cy="590.0" r="2.8"/>
<circle cx="126.9" cy="587.6" r="2.8"/>
<circle cx="126.7" cy="585.3" r="2.8"/>
<circle cx="126.6" cy="582.9" r="2.8"/>
<circle cx="126.4" cy="580.6" r="2.8"/>
<circle cx="126.1" cy="578.2" r="2.8"/>
<circle cx="125.3" cy="576.1" r="2.8"/>
<circle cx="134.6" cy="573.4" r="2.8"/>
<circle cx="129.7" cy="571.2" r="2.8"/>
<circle cx="148.9" cy="568.5" r="2.8"/>
<circle cx="143.9" cy="565.2" r="2.8"/>
<circle cx="155.4" cy="563.5" r="2.8"/>
<circle cx="154.4" cy="561.8" r="2.8"/>
<circle cx="156.5" cy="559.4" r="2.8"/>
<circle cx="157.4" cy="557.1" r="2.8"/>
<circle cx="158.1" cy="554.7" r="2.8"/>
<circle cx="159.0" cy="552.4" r="2.8"/>
<circle cx="159.7" cy="550.0" r="2.8"/>
<circle cx="160.0" cy="547.7" r="2.8"/>
<circle cx="159.7" cy="545.3" r="2.8"/>
<circle cx="159.1" cy="543.0" r="2.8"/>
<circle cx="158.2" cy="540.6" r="2.8"/>
<circle cx="157.1" cy="538.3" r="2.8"/>
<circle cx="155.2" cy="535.9" r="2.8"/>
<circle cx="153.0" cy="533.6" r="2.8"/>
<circle cx="150.9" cy="531.2" r="2.8"/>
<circle cx="149.4" cy="528.9" r="2.8"/>
<circle cx="148.2" cy="526.5" r="2.8"/>
<circle cx="147.2" cy="524.2" r="2.8"/>
<circle cx="146.1" cy="521.8" r="2.8"/>
<circle cx="144.6" cy="519.5" r="2.8"/>
<circle cx="142.2" cy="517.1" r="2.8"/>
<circle cx="141.0" cy="514.8" r="2.8"/>
<circle cx="141.4" cy="512.4" r="2.8"/>
<circle cx="142.0" cy="510.1" r="2.8"/>
<circle cx="142.7" cy="507.7" r="2.8"/>
<circle cx="143.6" cy="505.4" r="2.8"/>
<circle cx="144.6" cy="503.0" r="2.8"/>
<circle cx="145.7" cy="500.7" r="2.8"/>
<circle cx="146.9" cy="498.3" r="2.8"/>
<circle cx="148.2" cy="496.0" r="2.8"/>
<circle cx="149.7" cy="493.6" r="2.8"/>
<circle cx="151.2" cy="491.3" r="2.8"/>
<circle cx="152.6" cy="488.9" r="2.8"/>
<circle cx="154.0" cy="486.6" r="2.8"/>
<circle cx="155.3" cy="484.2" r="2.8"/>
<circle cx="156.7" cy="481.9" r="2.8"/>
<circle cx="158.4" cy="479.5" r="2.8"/>
<circle cx="160.7" cy="477.2" r="2.8"/>
<circle cx="162.0" cy="474.8" r="2.8"/>
<circle cx="162.0" cy="472.5" r="2.8"/>
<circle cx="162.0" cy="470.1" r="2.8"/>
<circle cx="162.0" cy="467.8" r="2.8"/>
<circle cx="161.4" cy="465.4" r="2.8"/>
<circle cx="160.2" cy="463.1" r="2.8"/>
<circle cx="158.5" cy="460.7" r="2.8"/>
<circle cx="156.4" cy="458.4" r="2.8"/>
<circle cx="153.5" cy="456.0" r="2.8"/>
<circle cx="151.7" cy="453.7" r="2.8"/>
<circle cx="150.5" cy="451.3" r="2.8"/>
<circle cx="149.7" cy="449.0" r="2.8"/>
<circle cx="149.2" cy="446.6" r="2.8"/>
<circle cx="148.7" cy="444.3" r="2.8"/>
<circle cx="148.3" cy="441.9" r="2.8"/>
<circle cx="147.9" cy="439.6" r="2.8"/>
<circle cx="147.5" cy="437.2" r="2.8"/>
<circle cx="147.2" cy="434.9" r="2.8"/>
<circle cx="146.8" cy="432.5" r="2.8"/>
</g>
<text x="67.2" y="460.4" font-size="6.8">Δa=0.45 %</text>
<line x1="66.0" y1="463.1" x2="74.1" y2="463.1" stroke="#e8545a" stroke-width="1.0" stroke-dasharray="1.8,1"/>
<path d="M64.5,463.1 l2.6,-1.5 v3 Z M75.6,463.1 l-2.6,-1.5 v3 Z" fill="#e8545a"/>
<text x="67.6" y="542.6" font-size="6.8">Δa=1.20 %</text>
<line x1="63.0" y1="545.3" x2="77.3" y2="545.3" stroke="#e8545a" stroke-width="1.0" stroke-dasharray="1.8,1"/>
<path d="M61.5,545.3 l2.6,-1.5 v3 Z M78.8,545.3 l-2.6,-1.5 v3 Z" fill="#e8545a"/>
<text x="143.7" y="465.8" font-size="6.8">Δc=0.14 %</text>
<line x1="143.9" y1="468.5" x2="159.5" y2="468.5" stroke="#f7a23c" stroke-width="1.0" stroke-dasharray="1.8,1"/>
<path d="M142.4,468.5 l2.6,-1.5 v3 Z M161.0,468.5 l-2.6,-1.5 v3 Z" fill="#f7a23c"/>
<text x="137" y="540.8" font-size="6.8">Δc=0.22 %</text>
<line x1="136.9" y1="543.5" x2="157.5" y2="543.5" stroke="#f7a23c" stroke-width="1.0" stroke-dasharray="1.8,1"/>
<path d="M135.4,543.5 l2.6,-1.5 v3 Z M159.0,543.5 l-2.6,-1.5 v3 Z" fill="#f7a23c"/>
<text x="207" y="463.6" font-size="6.8">Δv=0.39 %</text>
<line x1="211.9" y1="466.3" x2="224.5" y2="466.3" stroke="#92df8c" stroke-width="1.0" stroke-dasharray="1.8,1"/>
<path d="M210.4,466.3 l2.6,-1.5 v3 Z M226.0,466.3 l-2.6,-1.5 v3 Z" fill="#92df8c"/>
<text x="204.3" y="544.7" font-size="6.8">Δv=0.65 %</text>
<line x1="206.1" y1="547.4" x2="229.5" y2="547.4" stroke="#92df8c" stroke-width="1.0" stroke-dasharray="1.8,1"/>
<path d="M204.6,547.4 l2.6,-1.5 v3 Z M231.0,547.4 l-2.6,-1.5 v3 Z" fill="#92df8c"/>
<text x="284.9" y="461.9" font-size="6.8">ΔS=0.011</text>
<line x1="290.3" y1="464.6" x2="304.5" y2="464.6" stroke="#9a7fd6" stroke-width="1.0" stroke-dasharray="1.8,1"/>
<path d="M288.8,464.6 l2.6,-1.5 v3 Z M306.0,464.6 l-2.6,-1.5 v3 Z" fill="#9a7fd6"/>
<text x="280.5" y="549.7" font-size="6.8">ΔS=0.015</text>
<line x1="285.7" y1="552.4" x2="305.5" y2="552.4" stroke="#9a7fd6" stroke-width="1.0" stroke-dasharray="1.8,1"/>
<path d="M284.2,552.4 l2.6,-1.5 v3 Z M307.0,552.4 l-2.6,-1.5 v3 Z" fill="#9a7fd6"/>
<text x="385" y="468.7" font-size="6.8">Δa=1.60 %</text>
<line x1="383.5" y1="471.4" x2="399.0" y2="471.4" stroke="#e8545a" stroke-width="1.0" stroke-dasharray="1.8,1"/>
<path d="M382.0,471.4 l2.6,-1.5 v3 Z M400.5,471.4 l-2.6,-1.5 v3 Z" fill="#e8545a"/>
<text x="384.3" y="543.1" font-size="6.8">Δa=2.36 %</text>
<line x1="377.5" y1="545.8" x2="404.1" y2="545.8" stroke="#e8545a" stroke-width="1.0" stroke-dasharray="1.8,1"/>
<path d="M376.0,545.8 l2.6,-1.5 v3 Z M405.6,545.8 l-2.6,-1.5 v3 Z" fill="#e8545a"/>
<text x="453.6" y="465.4" font-size="6.8">Δc=0.33 %</text>
<line x1="455.1" y1="468.1" x2="469.5" y2="468.1" stroke="#f7a23c" stroke-width="1.0" stroke-dasharray="1.8,1"/>
<path d="M453.6,468.1 l2.6,-1.5 v3 Z M471.0,468.1 l-2.6,-1.5 v3 Z" fill="#f7a23c"/>
<text x="451.3" y="544.9" font-size="6.8">Δc=0.44 %</text>
<line x1="451.7" y1="547.6" x2="469.5" y2="547.6" stroke="#f7a23c" stroke-width="1.0" stroke-dasharray="1.8,1"/>
<path d="M450.2,547.6 l2.6,-1.5 v3 Z M471.0,547.6 l-2.6,-1.5 v3 Z" fill="#f7a23c"/>
<text x="528.6" y="467.7" font-size="6.8">Δv=0.96 %</text>
<line x1="531.2" y1="470.4" x2="545.5" y2="470.4" stroke="#92df8c" stroke-width="1.0" stroke-dasharray="1.8,1"/>
<path d="M529.7,470.4 l2.6,-1.5 v3 Z M547.0,470.4 l-2.6,-1.5 v3 Z" fill="#92df8c"/>
<text x="526.3" y="547.1" font-size="6.8">Δv=1.36 %</text>
<line x1="526.3" y1="549.8" x2="545.5" y2="549.8" stroke="#92df8c" stroke-width="1.0" stroke-dasharray="1.8,1"/>
<path d="M524.8,549.8 l2.6,-1.5 v3 Z M547.0,549.8 l-2.6,-1.5 v3 Z" fill="#92df8c"/>
<text x="598.1" y="466.1" font-size="6.8">ΔS=0.028</text>
<line x1="600.1" y1="468.8" x2="615.5" y2="468.8" stroke="#9a7fd6" stroke-width="1.0" stroke-dasharray="1.8,1"/>
<path d="M598.6,468.8 l2.6,-1.5 v3 Z M617.0,468.8 l-2.6,-1.5 v3 Z" fill="#9a7fd6"/>
<text x="597.5" y="546.5" font-size="6.8">ΔS=0.043</text>
<line x1="599.0" y1="549.2" x2="614.5" y2="549.2" stroke="#9a7fd6" stroke-width="1.0" stroke-dasharray="1.8,1"/>
<path d="M597.5,549.2 l2.6,-1.5 v3 Z M616.0,549.2 l-2.6,-1.5 v3 Z" fill="#9a7fd6"/>
<line x1="81.2" y1="429.5" x2="84.5" y2="429.5" stroke="#e8545a" stroke-width="1"/>
<line x1="92.9" y1="429.5" x2="96.4" y2="429.5" stroke="#e8545a" stroke-width="1"/>
<circle cx="88.7" cy="429.5" r="2.9" fill="url(#ga)"/>
<text x="99" y="432.1" font-size="7.2">a</text>
<line x1="155.0" y1="429.3" x2="158.0" y2="429.3" stroke="#f7a23c" stroke-width="1"/>
<line x1="166.39999999999998" y1="429.3" x2="170.2" y2="429.3" stroke="#f7a23c" stroke-width="1"/>
<circle cx="162.2" cy="429.3" r="2.9" fill="url(#gc)"/>
<text x="171.4" y="431.9" font-size="7.2">c</text>
<line x1="223.0" y1="429.3" x2="226.20000000000002" y2="429.3" stroke="#92df8c" stroke-width="1"/>
<line x1="234.6" y1="429.3" x2="238.7" y2="429.3" stroke="#92df8c" stroke-width="1"/>
<circle cx="230.4" cy="429.3" r="2.9" fill="url(#gv)"/>
<text x="239.8" y="431.9" font-size="7.2">v</text>
<line x1="254.8" y1="429.8" x2="258.2" y2="429.8" stroke="#9a7fd6" stroke-width="1"/>
<line x1="266.59999999999997" y1="429.8" x2="270.7" y2="429.8" stroke="#9a7fd6" stroke-width="1"/>
<circle cx="262.4" cy="429.8" r="2.9" fill="url(#gs)"/>
<text x="271.6" y="432.4" font-size="7.2">strain</text>
<line x1="357.0" y1="431.4" x2="360.8" y2="431.4" stroke="#e8545a" stroke-width="1"/>
<line x1="369.2" y1="431.4" x2="372.3" y2="431.4" stroke="#e8545a" stroke-width="1"/>
<circle cx="365.0" cy="431.4" r="2.9" fill="url(#ga)"/>
<text x="374.1" y="434" font-size="7.2">a</text>
<line x1="469.7" y1="431.8" x2="472.90000000000003" y2="431.8" stroke="#f7a23c" stroke-width="1"/>
<line x1="481.3" y1="431.8" x2="483.8" y2="431.8" stroke="#f7a23c" stroke-width="1"/>
<circle cx="477.1" cy="431.8" r="2.9" fill="url(#gc)"/>
<text x="486.6" y="434.4" font-size="7.2">c</text>
<line x1="540.9" y1="431.8" x2="544.5" y2="431.8" stroke="#92df8c" stroke-width="1"/>
<line x1="552.9000000000001" y1="431.8" x2="556.6" y2="431.8" stroke="#92df8c" stroke-width="1"/>
<circle cx="548.7" cy="431.8" r="2.9" fill="url(#gv)"/>
<text x="558.2" y="434.4" font-size="7.2">v</text>
<line x1="600.0" y1="431.8" x2="606.6999999999999" y2="431.8" stroke="#9a7fd6" stroke-width="1"/>
<line x1="615.1" y1="431.8" x2="618.3" y2="431.8" stroke="#9a7fd6" stroke-width="1"/>
<circle cx="610.9" cy="431.8" r="2.9" fill="url(#gs)"/>
<text x="619.9" y="434.4" font-size="7.2">strain</text>
<rect x="37.5" y="424.9" width="289.1" height="170.3" fill="none" stroke="#262626" stroke-width="1.3"/>
<line x1="110" y1="424.9" x2="110" y2="595.2" stroke="#262626" stroke-width="1.3"/>
<line x1="182.5" y1="424.9" x2="182.5" y2="595.2" stroke="#262626" stroke-width="1.3"/>
<line x1="255" y1="424.9" x2="255" y2="595.2" stroke="#262626" stroke-width="1.3"/>
<rect x="355.2" y="425.2" width="289.6" height="170.3" fill="none" stroke="#262626" stroke-width="1.3"/>
<line x1="427.5" y1="425.2" x2="427.5" y2="595.5" stroke="#262626" stroke-width="1.3"/>
<line x1="500" y1="425.2" x2="500" y2="595.5" stroke="#262626" stroke-width="1.3"/>
<line x1="572.5" y1="425.2" x2="572.5" y2="595.5" stroke="#262626" stroke-width="1.3"/>
<line x1="61.7" y1="595.2" x2="61.7" y2="597.8" stroke="#262626" stroke-width="1.3"/>
<text x="61.7" y="606.6" font-size="7.0" text-anchor="middle">2.85</text>
<line x1="91.5" y1="595.2" x2="91.5" y2="597.8" stroke="#262626" stroke-width="1.3"/>
<text x="91.5" y="606.6" font-size="7.0" text-anchor="middle">2.90</text>
<line x1="140.9" y1="595.2" x2="140.9" y2="597.8" stroke="#262626" stroke-width="1.3"/>
<text x="140.9" y="606.6" font-size="7.0" text-anchor="middle">11.20</text>
<line x1="187.4" y1="595.2" x2="187.4" y2="597.8" stroke="#262626" stroke-width="1.3"/>
<text x="187.4" y="606.6" font-size="7.0" text-anchor="middle">80.5</text>
<line x1="212.7" y1="595.2" x2="212.7" y2="597.8" stroke="#262626" stroke-width="1.3"/>
<text x="212.7" y="606.6" font-size="7.0" text-anchor="middle">81.0</text>
<line x1="238.2" y1="595.2" x2="238.2" y2="597.8" stroke="#262626" stroke-width="1.3"/>
<text x="238.2" y="606.6" font-size="7.0" text-anchor="middle">81.5</text>
<line x1="257.5" y1="595.2" x2="257.5" y2="597.8" stroke="#262626" stroke-width="1.3"/>
<text x="257.5" y="606.6" font-size="7.0" text-anchor="middle">0.00</text>
<line x1="290.3" y1="595.2" x2="290.3" y2="597.8" stroke="#262626" stroke-width="1.3"/>
<text x="290.3" y="606.6" font-size="7.0" text-anchor="middle">0.02</text>
<line x1="323" y1="595.2" x2="323" y2="597.8" stroke="#262626" stroke-width="1.3"/>
<text x="323" y="606.6" font-size="7.0" text-anchor="middle">0.04</text>
<line x1="369.9" y1="595.5" x2="369.9" y2="598.1" stroke="#262626" stroke-width="1.3"/>
<text x="369.9" y="606.6" font-size="7.0" text-anchor="middle">2.80</text>
<line x1="391.2" y1="595.5" x2="391.2" y2="598.1" stroke="#262626" stroke-width="1.3"/>
<text x="391.2" y="606.6" font-size="7.0" text-anchor="middle">2.85</text>
<line x1="412.4" y1="595.5" x2="412.4" y2="598.1" stroke="#262626" stroke-width="1.3"/>
<text x="412.4" y="606.6" font-size="7.0" text-anchor="middle">2.90</text>
<line x1="434.5" y1="595.5" x2="434.5" y2="598.1" stroke="#262626" stroke-width="1.3"/>
<text x="434.5" y="606.6" font-size="7.0" text-anchor="middle">11.15</text>
<line x1="458" y1="595.5" x2="458" y2="598.1" stroke="#262626" stroke-width="1.3"/>
<text x="458" y="606.6" font-size="7.0" text-anchor="middle">11.20</text>
<line x1="481.8" y1="595.5" x2="481.8" y2="598.1" stroke="#262626" stroke-width="1.3"/>
<text x="481.8" y="606.6" font-size="7.0" text-anchor="middle">11.25</text>
<line x1="510.5" y1="595.5" x2="510.5" y2="598.1" stroke="#262626" stroke-width="1.3"/>
<text x="510.5" y="606.6" font-size="7.0" text-anchor="middle">80</text>
<line x1="552.1" y1="595.5" x2="552.1" y2="598.1" stroke="#262626" stroke-width="1.3"/>
<text x="552.1" y="606.6" font-size="7.0" text-anchor="middle">82</text>
<line x1="587.2" y1="595.5" x2="587.2" y2="598.1" stroke="#262626" stroke-width="1.3"/>
<text x="587.2" y="606.6" font-size="7.0" text-anchor="middle">0.00</text>
<line x1="613.1" y1="595.5" x2="613.1" y2="598.1" stroke="#262626" stroke-width="1.3"/>
<text x="613.1" y="606.6" font-size="7.0" text-anchor="middle">0.05</text>
<line x1="638.9" y1="595.5" x2="638.9" y2="598.1" stroke="#262626" stroke-width="1.3"/>
<text x="638.9" y="606.6" font-size="7.0" text-anchor="middle">0.10</text>
<text x="73" y="620" font-size="8.2" text-anchor="middle">a/b / <tspan font-weight="normal">Å</tspan></text>
<text x="143.7" y="620" font-size="8.2" text-anchor="middle">c / <tspan font-weight="normal">Å</tspan></text>
<text x="392.1" y="620" font-size="8.2" text-anchor="middle">a/b / <tspan font-weight="normal">Å</tspan></text>
<text x="465.9" y="620" font-size="8.2" text-anchor="middle">c / <tspan font-weight="normal">Å</tspan></text>
<text x="217.5" y="620" font-size="8.2" text-anchor="middle">V / <tspan font-weight="normal">Å</tspan><tspan dy="-3.5" font-size="5.5">3</tspan></text>
<text x="539.8" y="620" font-size="8.2" text-anchor="middle">V / <tspan font-weight="normal">Å</tspan><tspan dy="-3.5" font-size="5.5">3</tspan></text>
<text x="295.9" y="620" font-size="8.2" text-anchor="middle">Strain / G</text>
<text x="613" y="620" font-size="8.2" text-anchor="middle">Strain / G</text>
<text x="336.8" y="512.0" font-size="9.1" text-anchor="middle" dy="3.2" transform="rotate(-90 336.8 512.0)">Time / min</text>
<text x="653.8" y="515.8" font-size="9.1" text-anchor="middle" dy="3.2" transform="rotate(-90 653.8 515.8)">Time / min</text>
<text x="18" y="636.6" font-size="13">e</text>
<text x="342.8" y="636" font-size="13">f</text>
<g fill="none" stroke-width="1.05">
<path d="M37.9,710.9 38.6,710.9 39.3,710.9 40.0,710.9 40.6,710.9 41.3,710.9 42.0,710.9 42.7,710.9 43.4,710.9 44.1,710.9 44.8,710.9 45.5,710.9 46.1,710.9 46.8,710.9 47.5,710.9 48.2,710.9 48.9,710.9 49.6,710.9 50.3,710.9 51.0,710.9 51.6,710.9 52.3,710.9 53.0,710.9 53.7,710.9 54.4,710.9 55.1,710.9 55.8,710.9 56.5,710.9 57.1,710.9 57.8,710.9 58.5,710.9 59.2,710.9 59.9,710.9 60.6,710.9 61.3,710.9 62.0,710.9 62.6,710.9 63.3,710.9 64.0,710.9 64.7,710.9 65.4,710.9 66.1,710.9 66.8,710.9 67.5,710.9 68.1,710.9 68.8,710.9 69.5,710.9 70.2,710.9 70.9,710.9 71.6,710.9 72.3,710.9 72.9,710.9 73.6,710.9 74.3,710.9 75.0,710.9 75.7,710.9 76.4,710.9 77.1,710.9 77.8,710.9 78.4,710.9 79.1,710.9 79.8,710.9 80.5,710.9 81.2,710.9 81.9,710.9 82.6,710.9 83.3,710.9 83.9,710.9 84.6,710.8 85.3,710.8 86.0,710.8 86.7,710.8 87.4,710.8 88.1,710.8 88.8,710.8 89.4,710.8 90.1,710.8 90.8,710.8 91.5,710.8 92.2,710.8 92.9,710.8 93.6,710.8 94.3,710.8 94.9,710.8 95.6,710.8 96.3,710.8 97.0,710.8 97.7,710.8 98.4,710.8 99.1,710.8 99.7,710.8 100.4,710.8 101.1,710.8 101.8,710.7 102.5,710.7 103.2,710.7 103.9,710.7 104.6,710.7 105.2,710.7 105.9,710.7 106.6,710.7 107.3,710.7 108.0,710.7 108.7,710.7 109.4,710.7 110.1,710.7 110.7,710.6 111.4,710.6 112.1,710.6 112.8,710.6 113.5,710.6 114.2,710.6 114.9,710.6 115.6,710.6 116.2,710.6 116.9,710.5 117.6,710.5 118.3,710.5 119.0,710.5 119.7,710.5 120.4,710.5 121.1,710.4 121.7,710.4 122.4,710.4 123.1,710.4 123.8,710.3 124.5,710.3 125.2,710.3 125.9,710.3 126.6,710.2 127.2,710.2 127.9,710.2 128.6,710.1 129.3,710.1 130.0,710.1 130.7,710.0 131.4,710.0 132.0,709.9 132.7,709.9 133.4,709.8 134.1,709.8 134.8,709.7 135.5,709.6 136.2,709.5 136.9,709.4 137.5,709.3 138.2,709.2 138.9,709.1 139.6,709.0 140.3,708.8 141.0,708.6 141.7,708.4 142.4,708.2 143.0,707.9 143.7,707.5 144.4,707.1 145.1,706.6 145.8,706.0 146.5,705.3 147.2,704.5 147.9,703.5 148.5,702.4 149.2,701.2 149.9,699.8 150.6,698.2 151.3,696.4 152.0,694.5 152.7,692.4 153.4,690.3 154.0,688.0 154.7,685.7 155.4,683.4 156.1,681.2 156.8,679.1 157.5,677.4 158.2,676.1 158.8,675.3 159.5,675.0 160.2,675.3 160.9,676.2 161.6,677.6 162.3,679.3 163.0,681.4 163.7,683.6 164.3,685.9 165.0,688.2 165.7,690.5 166.4,692.7 167.1,694.7 167.8,696.6 168.5,698.3 169.2,699.9 169.8,701.3 170.5,702.6 171.2,703.6 171.9,704.6 172.6,705.4 173.3,706.1 174.0,706.6 174.7,707.1 175.3,707.5 176.0,707.9 176.7,708.2 177.4,708.4 178.1,708.7 178.8,708.8 179.5,709.0 180.2,709.1 180.8,709.3 181.5,709.4 182.2,709.5 182.9,709.5 183.6,709.6 184.3,709.7 185.0,709.8 185.7,709.8 186.3,709.9 187.0,709.9 187.7,710.0 188.4,710.0" stroke="#f6e22a"/>
<path d="M37.9,710.9 38.6,710.9 39.3,710.9 40.0,710.9 40.6,710.9 41.3,710.9 42.0,710.9 42.7,710.9 43.4,710.9 44.1,710.9 44.8,710.9 45.5,710.9 46.1,710.9 46.8,710.9 47.5,710.9 48.2,710.9 48.9,710.9 49.6,710.9 50.3,710.9 51.0,710.9 51.6,710.9 52.3,710.9 53.0,710.9 53.7,710.9 54.4,710.9 55.1,710.9 55.8,710.9 56.5,710.9 57.1,710.9 57.8,710.9 58.5,710.9 59.2,710.9 59.9,710.9 60.6,710.9 61.3,710.9 62.0,710.9 62.6,710.9 63.3,710.9 64.0,710.9 64.7,710.9 65.4,710.9 66.1,710.9 66.8,710.9 67.5,710.9 68.1,710.8 68.8,710.8 69.5,710.8 70.2,710.8 70.9,710.8 71.6,710.8 72.3,710.8 72.9,710.8 73.6,710.8 74.3,710.8 75.0,710.8 75.7,710.8 76.4,710.8 77.1,710.8 77.8,710.8 78.4,710.8 79.1,710.8 79.8,710.8 80.5,710.8 81.2,710.8 81.9,710.8 82.6,710.8 83.3,710.8 83.9,710.8 84.6,710.8 85.3,710.8 86.0,710.8 86.7,710.8 87.4,710.8 88.1,710.8 88.8,710.8 89.4,710.8 90.1,710.8 90.8,710.8 91.5,710.8 92.2,710.8 92.9,710.8 93.6,710.8 94.3,710.7 94.9,710.7 95.6,710.7 96.3,710.7 97.0,710.7 97.7,710.7 98.4,710.7 99.1,710.7 99.7,710.7 100.4,710.7 101.1,710.7 101.8,710.7 102.5,710.7 103.2,710.7 103.9,710.7 104.6,710.7 105.2,710.7 105.9,710.6 106.6,710.6 107.3,710.6 108.0,710.6 108.7,710.6 109.4,710.6 110.1,710.6 110.7,710.6 111.4,710.6 112.1,710.6 112.8,710.5 113.5,710.5 114.2,710.5 114.9,710.5 115.6,710.5 116.2,710.5 116.9,710.5 117.6,710.4 118.3,710.4 119.0,710.4 119.7,710.4 120.4,710.4 121.1,710.3 121.7,710.3 122.4,710.3 123.1,710.3 123.8,710.3 124.5,710.2 125.2,710.2 125.9,710.2 126.6,710.1 127.2,710.1 127.9,710.0 128.6,710.0 129.3,710.0 130.0,709.9 130.7,709.9 131.4,709.8 132.0,709.7 132.7,709.7 133.4,709.6 134.1,709.5 134.8,709.4 135.5,709.3 136.2,709.1 136.9,709.0 137.5,708.8 138.2,708.6 138.9,708.3 139.6,708.0 140.3,707.7 141.0,707.3 141.7,706.9 142.4,706.4 143.0,705.8 143.7,705.2 144.4,704.4 145.1,703.6 145.8,702.7 146.5,701.7 147.2,700.6 147.9,699.5 148.5,698.2 149.2,696.9 149.9,695.6 150.6,694.2 151.3,692.8 152.0,691.4 152.7,690.1 153.4,688.9 154.0,687.8 154.7,686.9 155.4,686.3 156.1,686.0 156.8,686.0 157.5,686.3 158.2,686.8 158.8,687.7 159.5,688.7 160.2,689.9 160.9,691.2 161.6,692.6 162.3,694.0 163.0,695.4 163.7,696.7 164.3,698.0 165.0,699.3 165.7,700.5 166.4,701.6 167.1,702.6 167.8,703.5 168.5,704.3 169.2,705.1 169.8,705.7 170.5,706.3 171.2,706.8 171.9,707.3 172.6,707.7 173.3,708.0 174.0,708.3 174.7,708.5 175.3,708.8 176.0,708.9 176.7,709.1 177.4,709.2 178.1,709.4 178.8,709.5 179.5,709.6 180.2,709.6 180.8,709.7 181.5,709.8 182.2,709.8 182.9,709.9 183.6,710.0 184.3,710.0 185.0,710.0 185.7,710.1 186.3,710.1 187.0,710.2 187.7,710.2 188.4,710.2" stroke="#ece12b"/>
<path d="M37.9,710.8 38.6,710.8 39.3,710.8 40.0,710.8 40.6,710.8 41.3,710.8 42.0,710.8 42.7,710.8 43.4,710.8 44.1,710.8 44.8,710.8 45.5,710.8 46.1,710.8 46.8,710.8 47.5,710.8 48.2,710.8 48.9,710.8 49.6,710.8 50.3,710.8 51.0,710.8 51.6,710.8 52.3,710.8 53.0,710.8 53.7,710.8 54.4,710.8 55.1,710.8 55.8,710.8 56.5,710.8 57.1,710.8 57.8,710.8 58.5,710.8 59.2,710.8 59.9,710.8 60.6,710.8 61.3,710.8 62.0,710.8 62.6,710.8 63.3,710.8 64.0,710.8 64.7,710.8 65.4,710.8 66.1,710.8 66.8,710.8 67.5,710.8 68.1,710.8 68.8,710.8 69.5,710.8 70.2,710.8 70.9,710.8 71.6,710.8 72.3,710.8 72.9,710.8 73.6,710.8 74.3,710.8 75.0,710.8 75.7,710.8 76.4,710.8 77.1,710.8 77.8,710.8 78.4,710.8 79.1,710.7 79.8,710.7 80.5,710.7 81.2,710.7 81.9,710.7 82.6,710.7 83.3,710.7 83.9,710.7 84.6,710.7 85.3,710.7 86.0,710.7 86.7,710.7 87.4,710.7 88.1,710.7 88.8,710.7 89.4,710.7 90.1,710.7 90.8,710.7 91.5,710.7 92.2,710.7 92.9,710.7 93.6,710.7 94.3,710.7 94.9,710.7 95.6,710.7 96.3,710.6 97.0,710.6 97.7,710.6 98.4,710.6 99.1,710.6 99.7,710.6 100.4,710.6 101.1,710.6 101.8,710.6 102.5,710.6 103.2,710.6 103.9,710.6 104.6,710.6 105.2,710.6 105.9,710.5 106.6,710.5 107.3,710.5 108.0,710.5 108.7,710.5 109.4,710.5 110.1,710.5 110.7,710.5 111.4,710.4 112.1,710.4 112.8,710.4 113.5,710.4 114.2,710.4 114.9,710.4 115.6,710.3 116.2,710.3 116.9,710.3 117.6,710.3 118.3,710.3 119.0,710.2 119.7,710.2 120.4,710.2 121.1,710.2 121.7,710.1 122.4,710.1 123.1,710.1 123.8,710.0 124.5,710.0 125.2,709.9 125.9,709.9 126.6,709.8 127.2,709.7 127.9,709.7 128.6,709.6 129.3,709.5 130.0,709.4 130.7,709.3 131.4,709.2 132.0,709.0 132.7,708.9 133.4,708.7 134.1,708.5 134.8,708.2 135.5,708.0 136.2,707.7 136.9,707.3 137.5,707.0 138.2,706.6 138.9,706.1 139.6,705.6 140.3,705.1 141.0,704.5 141.7,703.9 142.4,703.3 143.0,702.6 143.7,701.8 144.4,701.1 145.1,700.3 145.8,699.4 146.5,698.6 147.2,697.8 147.9,697.0 148.5,696.2 149.2,695.4 149.9,694.7 150.6,694.1 151.3,693.6 152.0,693.3 152.7,693.0 153.4,692.9 154.0,692.9 154.7,693.1 155.4,693.5 156.1,693.9 156.8,694.5 157.5,695.2 158.2,695.9 158.8,696.7 159.5,697.5 160.2,698.3 160.9,699.1 161.6,699.9 162.3,700.8 163.0,701.5 163.7,702.3 164.3,703.0 165.0,703.7 165.7,704.3 166.4,704.9 167.1,705.4 167.8,705.9 168.5,706.4 169.2,706.8 169.8,707.2 170.5,707.5 171.2,707.8 171.9,708.1 172.6,708.4 173.3,708.6 174.0,708.8 174.7,709.0 175.3,709.1 176.0,709.2 176.7,709.4 177.4,709.5 178.1,709.6 178.8,709.6 179.5,709.7 180.2,709.8 180.8,709.8 181.5,709.9 182.2,710.0 182.9,710.0 183.6,710.0 184.3,710.1 185.0,710.1 185.7,710.1 186.3,710.2 187.0,710.2 187.7,710.2 188.4,710.3" stroke="#e2e12d"/>
<path d="M37.9,710.8 38.6,710.8 39.3,710.8 40.0,710.8 40.6,710.8 41.3,710.8 42.0,710.8 42.7,710.8 43.4,710.8 44.1,710.7 44.8,710.7 45.5,710.7 46.1,710.7 46.8,710.7 47.5,710.7 48.2,710.7 48.9,710.7 49.6,710.7 50.3,710.7 51.0,710.7 51.6,710.7 52.3,710.7 53.0,710.7 53.7,710.7 54.4,710.7 55.1,710.7 55.8,710.7 56.5,710.7 57.1,710.7 57.8,710.7 58.5,710.7 59.2,710.7 59.9,710.7 60.6,710.7 61.3,710.7 62.0,710.7 62.6,710.7 63.3,710.7 64.0,710.7 64.7,710.7 65.4,710.7 66.1,710.7 66.8,710.7 67.5,710.7 68.1,710.7 68.8,710.7 69.5,710.7 70.2,710.7 70.9,710.7 71.6,710.7 72.3,710.7 72.9,710.7 73.6,710.7 74.3,710.7 75.0,710.7 75.7,710.6 76.4,710.6 77.1,710.6 77.8,710.6 78.4,710.6 79.1,710.6 79.8,710.6 80.5,710.6 81.2,710.6 81.9,710.6 82.6,710.6 83.3,710.6 83.9,710.6 84.6,710.6 85.3,710.6 86.0,710.6 86.7,710.6 87.4,710.6 88.1,710.6 88.8,710.6 89.4,710.6 90.1,710.5 90.8,710.5 91.5,710.5 92.2,710.5 92.9,710.5 93.6,710.5 94.3,710.5 94.9,710.5 95.6,710.5 96.3,710.5 97.0,710.5 97.7,710.5 98.4,710.4 99.1,710.4 99.7,710.4 100.4,710.4 101.1,710.4 101.8,710.4 102.5,710.4 103.2,710.4 103.9,710.3 104.6,710.3 105.2,710.3 105.9,710.3 106.6,710.3 107.3,710.3 108.0,710.2 108.7,710.2 109.4,710.2 110.1,710.2 110.7,710.1 111.4,710.1 112.1,710.1 112.8,710.1 113.5,710.0 114.2,710.0 114.9,710.0 115.6,709.9 116.2,709.9 116.9,709.8 117.6,709.8 118.3,709.7 119.0,709.6 119.7,709.5 120.4,709.5 121.1,709.4 121.7,709.3 122.4,709.2 123.1,709.1 123.8,708.9 124.5,708.8 125.2,708.7 125.9,708.5 126.6,708.3 127.2,708.1 127.9,707.9 128.6,707.7 129.3,707.5 130.0,707.2 130.7,706.9 131.4,706.7 132.0,706.4 132.7,706.0 133.4,705.7 134.1,705.4 134.8,705.0 135.5,704.6 136.2,704.2 136.9,703.8 137.5,703.4 138.2,703.0 138.9,702.5 139.6,702.1 140.3,701.6 141.0,701.2 141.7,700.8 142.4,700.3 143.0,699.9 143.7,699.5 144.4,699.2 145.1,698.9 145.8,698.6 146.5,698.3 147.2,698.1 147.9,698.0 148.5,697.9 149.2,697.9 149.9,697.9 150.6,698.0 151.3,698.1 152.0,698.3 152.7,698.5 153.4,698.8 154.0,699.1 154.7,699.5 155.4,699.9 156.1,700.3 156.8,700.7 157.5,701.1 158.2,701.6 158.8,702.0 159.5,702.5 160.2,702.9 160.9,703.3 161.6,703.8 162.3,704.2 163.0,704.6 163.7,704.9 164.3,705.3 165.0,705.7 165.7,706.0 166.4,706.3 167.1,706.6 167.8,706.9 168.5,707.2 169.2,707.4 169.8,707.7 170.5,707.9 171.2,708.1 171.9,708.3 172.6,708.5 173.3,708.6 174.0,708.8 174.7,708.9 175.3,709.0 176.0,709.2 176.7,709.3 177.4,709.4 178.1,709.5 178.8,709.5 179.5,709.6 180.2,709.7 180.8,709.7 181.5,709.8 182.2,709.9 182.9,709.9 183.6,709.9 184.3,710.0 185.0,710.0 185.7,710.1 186.3,710.1 187.0,710.1 187.7,710.1 188.4,710.2" stroke="#d8e02e"/>
<path d="M37.9,710.7 38.6,710.7 39.3,710.7 40.0,710.7 40.6,710.7 41.3,710.7 42.0,710.7 42.7,710.7 43.4,710.7 44.1,710.6 44.8,710.6 45.5,710.6 46.1,710.6 46.8,710.6 47.5,710.6 48.2,710.6 48.9,710.6 49.6,710.6 50.3,710.6 51.0,710.6 51.6,710.6 52.3,710.6 53.0,710.6 53.7,710.6 54.4,710.6 55.1,710.6 55.8,710.6 56.5,710.6 57.1,710.6 57.8,710.6 58.5,710.6 59.2,710.6 59.9,710.6 60.6,710.6 61.3,710.6 62.0,710.6 62.6,710.6 63.3,710.6 64.0,710.6 64.7,710.6 65.4,710.6 66.1,710.6 66.8,710.6 67.5,710.5 68.1,710.5 68.8,710.5 69.5,710.5 70.2,710.5 70.9,710.5 71.6,710.5 72.3,710.5 72.9,710.5 73.6,710.5 74.3,710.5 75.0,710.5 75.7,710.5 76.4,710.5 77.1,710.5 77.8,710.5 78.4,710.5 79.1,710.5 79.8,710.4 80.5,710.4 81.2,710.4 81.9,710.4 82.6,710.4 83.3,710.4 83.9,710.4 84.6,710.4 85.3,710.4 86.0,710.4 86.7,710.4 87.4,710.3 88.1,710.3 88.8,710.3 89.4,710.3 90.1,710.3 90.8,710.3 91.5,710.3 92.2,710.3 92.9,710.2 93.6,710.2 94.3,710.2 94.9,710.2 95.6,710.2 96.3,710.1 97.0,710.1 97.7,710.1 98.4,710.1 99.1,710.0 99.7,710.0 100.4,710.0 101.1,709.9 101.8,709.9 102.5,709.9 103.2,709.8 103.9,709.8 104.6,709.7 105.2,709.7 105.9,709.6 106.6,709.6 107.3,709.5 108.0,709.4 108.7,709.4 109.4,709.3 110.1,709.2 110.7,709.1 111.4,709.0 112.1,709.0 112.8,708.9 113.5,708.7 114.2,708.6 114.9,708.5 115.6,708.4 116.2,708.3 116.9,708.1 117.6,708.0 118.3,707.8 119.0,707.7 119.7,707.5 120.4,707.4 121.1,707.2 121.7,707.0 122.4,706.8 123.1,706.6 123.8,706.4 124.5,706.2 125.2,706.0 125.9,705.8 126.6,705.6 127.2,705.3 127.9,705.1 128.6,704.9 129.3,704.6 130.0,704.4 130.7,704.2 131.4,703.9 132.0,703.7 132.7,703.5 133.4,703.2 134.1,703.0 134.8,702.8 135.5,702.6 136.2,702.4 136.9,702.2 137.5,702.0 138.2,701.9 138.9,701.7 139.6,701.6 140.3,701.5 141.0,701.4 141.7,701.4 142.4,701.3 143.0,701.3 143.7,701.3 144.4,701.3 145.1,701.4 145.8,701.5 146.5,701.5 147.2,701.7 147.9,701.8 148.5,701.9 149.2,702.1 149.9,702.3 150.6,702.5 151.3,702.7 152.0,702.9 152.7,703.1 153.4,703.3 154.0,703.6 154.7,703.8 155.4,704.0 156.1,704.3 156.8,704.5 157.5,704.7 158.2,705.0 158.8,705.2 159.5,705.4 160.2,705.6 160.9,705.9 161.6,706.1 162.3,706.3 163.0,706.5 163.7,706.7 164.3,706.9 165.0,707.1 165.7,707.2 166.4,707.4 167.1,707.6 167.8,707.7 168.5,707.9 169.2,708.0 169.8,708.2 170.5,708.3 171.2,708.4 171.9,708.6 172.6,708.7 173.3,708.8 174.0,708.9 174.7,709.0 175.3,709.1 176.0,709.2 176.7,709.3 177.4,709.3 178.1,709.4 178.8,709.5 179.5,709.5 180.2,709.6 180.8,709.6 181.5,709.7 182.2,709.8 182.9,709.8 183.6,709.8 184.3,709.9 185.0,709.9 185.7,710.0 186.3,710.0 187.0,710.0 187.7,710.0 188.4,710.1" stroke="#c7dc33"/>
<path d="M37.9,710.5 38.6,710.5 39.3,710.5 40.0,710.5 40.6,710.5 41.3,710.5 42.0,710.5 42.7,710.5 43.4,710.5 44.1,710.5 44.8,710.5 45.5,710.5 46.1,710.5 46.8,710.5 47.5,710.5 48.2,710.5 48.9,710.5 49.6,710.5 50.3,710.5 51.0,710.5 51.6,710.5 52.3,710.4 53.0,710.4 53.7,710.4 54.4,710.4 55.1,710.4 55.8,710.4 56.5,710.4 57.1,710.4 57.8,710.4 58.5,710.4 59.2,710.4 59.9,710.4 60.6,710.4 61.3,710.4 62.0,710.4 62.6,710.4 63.3,710.3 64.0,710.3 64.7,710.3 65.4,710.3 66.1,710.3 66.8,710.3 67.5,710.3 68.1,710.3 68.8,710.3 69.5,710.3 70.2,710.2 70.9,710.2 71.6,710.2 72.3,710.2 72.9,710.2 73.6,710.2 74.3,710.2 75.0,710.1 75.7,710.1 76.4,710.1 77.1,710.1 77.8,710.1 78.4,710.0 79.1,710.0 79.8,710.0 80.5,710.0 81.2,709.9 81.9,709.9 82.6,709.9 83.3,709.9 83.9,709.8 84.6,709.8 85.3,709.8 86.0,709.7 86.7,709.7 87.4,709.6 88.1,709.6 88.8,709.6 89.4,709.5 90.1,709.5 90.8,709.4 91.5,709.4 92.2,709.3 92.9,709.2 93.6,709.2 94.3,709.1 94.9,709.1 95.6,709.0 96.3,708.9 97.0,708.8 97.7,708.8 98.4,708.7 99.1,708.6 99.7,708.5 100.4,708.4 101.1,708.3 101.8,708.3 102.5,708.2 103.2,708.1 103.9,708.0 104.6,707.9 105.2,707.7 105.9,707.6 106.6,707.5 107.3,707.4 108.0,707.3 108.7,707.2 109.4,707.1 110.1,706.9 110.7,706.8 111.4,706.7 112.1,706.5 112.8,706.4 113.5,706.3 114.2,706.1 114.9,706.0 115.6,705.9 116.2,705.7 116.9,705.6 117.6,705.4 118.3,705.3 119.0,705.2 119.7,705.0 120.4,704.9 121.1,704.8 121.7,704.6 122.4,704.5 123.1,704.4 123.8,704.3 124.5,704.2 125.2,704.0 125.9,703.9 126.6,703.8 127.2,703.7 127.9,703.7 128.6,703.6 129.3,703.5 130.0,703.4 130.7,703.4 131.4,703.3 132.0,703.3 132.7,703.3 133.4,703.3 134.1,703.3 134.8,703.3 135.5,703.3 136.2,703.3 136.9,703.3 137.5,703.4 138.2,703.4 138.9,703.5 139.6,703.5 140.3,703.6 141.0,703.7 141.7,703.8 142.4,703.9 143.0,704.0 143.7,704.1 144.4,704.2 145.1,704.3 145.8,704.5 146.5,704.6 147.2,704.7 147.9,704.9 148.5,705.0 149.2,705.1 149.9,705.3 150.6,705.4 151.3,705.5 152.0,705.7 152.7,705.8 153.4,706.0 154.0,706.1 154.7,706.2 155.4,706.4 156.1,706.5 156.8,706.6 157.5,706.8 158.2,706.9 158.8,707.0 159.5,707.1 160.2,707.3 160.9,707.4 161.6,707.5 162.3,707.6 163.0,707.7 163.7,707.8 164.3,707.9 165.0,708.0 165.7,708.1 166.4,708.2 167.1,708.3 167.8,708.4 168.5,708.5 169.2,708.6 169.8,708.7 170.5,708.7 171.2,708.8 171.9,708.9 172.6,709.0 173.3,709.0 174.0,709.1 174.7,709.2 175.3,709.2 176.0,709.3 176.7,709.3 177.4,709.4 178.1,709.4 178.8,709.5 179.5,709.5 180.2,709.6 180.8,709.6 181.5,709.7 182.2,709.7 182.9,709.7 183.6,709.8 184.3,709.8 185.0,709.8 185.7,709.9 186.3,709.9 187.0,709.9 187.7,710.0 188.4,710.0" stroke="#b7d837"/>
<path d="M37.9,710.3 38.6,710.3 39.3,710.3 40.0,710.3 40.6,710.3 41.3,710.3 42.0,710.3 42.7,710.3 43.4,710.3 44.1,710.2 44.8,710.2 45.5,710.2 46.1,710.2 46.8,710.2 47.5,710.2 48.2,710.2 48.9,710.2 49.6,710.2 50.3,710.1 51.0,710.1 51.6,710.1 52.3,710.1 53.0,710.1 53.7,710.1 54.4,710.1 55.1,710.0 55.8,710.0 56.5,710.0 57.1,710.0 57.8,710.0 58.5,709.9 59.2,709.9 59.9,709.9 60.6,709.9 61.3,709.9 62.0,709.8 62.6,709.8 63.3,709.8 64.0,709.8 64.7,709.7 65.4,709.7 66.1,709.7 66.8,709.6 67.5,709.6 68.1,709.6 68.8,709.5 69.5,709.5 70.2,709.4 70.9,709.4 71.6,709.4 72.3,709.3 72.9,709.3 73.6,709.2 74.3,709.2 75.0,709.1 75.7,709.1 76.4,709.0 77.1,709.0 77.8,708.9 78.4,708.8 79.1,708.8 79.8,708.7 80.5,708.7 81.2,708.6 81.9,708.5 82.6,708.4 83.3,708.4 83.9,708.3 84.6,708.2 85.3,708.1 86.0,708.1 86.7,708.0 87.4,707.9 88.1,707.8 88.8,707.7 89.4,707.6 90.1,707.6 90.8,707.5 91.5,707.4 92.2,707.3 92.9,707.2 93.6,707.1 94.3,707.0 94.9,706.9 95.6,706.8 96.3,706.7 97.0,706.6 97.7,706.5 98.4,706.4 99.1,706.3 99.7,706.1 100.4,706.0 101.1,705.9 101.8,705.8 102.5,705.7 103.2,705.6 103.9,705.5 104.6,705.4 105.2,705.3 105.9,705.2 106.6,705.1 107.3,705.0 108.0,704.9 108.7,704.8 109.4,704.7 110.1,704.6 110.7,704.5 111.4,704.4 112.1,704.3 112.8,704.3 113.5,704.2 114.2,704.1 114.9,704.1 115.6,704.0 116.2,703.9 116.9,703.9 117.6,703.8 118.3,703.8 119.0,703.8 119.7,703.7 120.4,703.7 121.1,703.7 121.7,703.7 122.4,703.7 123.1,703.7 123.8,703.7 124.5,703.7 125.2,703.8 125.9,703.8 126.6,703.8 127.2,703.9 127.9,703.9 128.6,704.0 129.3,704.0 130.0,704.1 130.7,704.2 131.4,704.2 132.0,704.3 132.7,704.4 133.4,704.5 134.1,704.6 134.8,704.7 135.5,704.8 136.2,704.9 136.9,705.0 137.5,705.1 138.2,705.2 138.9,705.3 139.6,705.4 140.3,705.5 141.0,705.6 141.7,705.7 142.4,705.8 143.0,705.9 143.7,706.0 144.4,706.1 145.1,706.2 145.8,706.3 146.5,706.4 147.2,706.5 147.9,706.6 148.5,706.7 149.2,706.8 149.9,706.9 150.6,707.0 151.3,707.1 152.0,707.2 152.7,707.3 153.4,707.4 154.0,707.5 154.7,707.6 155.4,707.7 156.1,707.8 156.8,707.9 157.5,708.0 158.2,708.0 158.8,708.1 159.5,708.2 160.2,708.3 160.9,708.4 161.6,708.4 162.3,708.5 163.0,708.6 163.7,708.6 164.3,708.7 165.0,708.8 165.7,708.8 166.4,708.9 167.1,708.9 167.8,709.0 168.5,709.1 169.2,709.1 169.8,709.2 170.5,709.2 171.2,709.3 171.9,709.3 172.6,709.3 173.3,709.4 174.0,709.4 174.7,709.5 175.3,709.5 176.0,709.5 176.7,709.6 177.4,709.6 178.1,709.7 178.8,709.7 179.5,709.7 180.2,709.7 180.8,709.8 181.5,709.8 182.2,709.8 182.9,709.9 183.6,709.9 184.3,709.9 185.0,709.9 185.7,709.9 186.3,710.0 187.0,710.0 187.7,710.0 188.4,710.0" stroke="#a6d43c"/>
<path d="M37.9,710.1 38.6,710.1 39.3,710.0 40.0,710.0 40.6,710.0 41.3,710.0 42.0,710.0 42.7,710.0 43.4,709.9 44.1,709.9 44.8,709.9 45.5,709.9 46.1,709.9 46.8,709.8 47.5,709.8 48.2,709.8 48.9,709.8 49.6,709.7 50.3,709.7 51.0,709.7 51.6,709.6 52.3,709.6 53.0,709.6 53.7,709.6 54.4,709.5 55.1,709.5 55.8,709.4 56.5,709.4 57.1,709.4 57.8,709.3 58.5,709.3 59.2,709.2 59.9,709.2 60.6,709.1 61.3,709.1 62.0,709.0 62.6,709.0 63.3,708.9 64.0,708.9 64.7,708.8 65.4,708.8 66.1,708.7 66.8,708.6 67.5,708.6 68.1,708.5 68.8,708.4 69.5,708.3 70.2,708.3 70.9,708.2 71.6,708.1 72.3,708.0 72.9,708.0 73.6,707.9 74.3,707.8 75.0,707.7 75.7,707.6 76.4,707.5 77.1,707.4 77.8,707.3 78.4,707.2 79.1,707.1 79.8,707.0 80.5,706.9 81.2,706.8 81.9,706.7 82.6,706.6 83.3,706.5 83.9,706.4 84.6,706.3 85.3,706.2 86.0,706.1 86.7,705.9 87.4,705.8 88.1,705.7 88.8,705.6 89.4,705.5 90.1,705.4 90.8,705.2 91.5,705.1 92.2,705.0 92.9,704.9 93.6,704.8 94.3,704.7 94.9,704.6 95.6,704.5 96.3,704.4 97.0,704.3 97.7,704.2 98.4,704.1 99.1,704.0 99.7,703.9 100.4,703.8 101.1,703.7 101.8,703.6 102.5,703.6 103.2,703.5 103.9,703.4 104.6,703.4 105.2,703.3 105.9,703.3 106.6,703.2 107.3,703.2 108.0,703.2 108.7,703.2 109.4,703.2 110.1,703.2 110.7,703.2 111.4,703.2 112.1,703.2 112.8,703.2 113.5,703.2 114.2,703.3 114.9,703.3 115.6,703.4 116.2,703.4 116.9,703.5 117.6,703.5 118.3,703.6 119.0,703.7 119.7,703.8 120.4,703.9 121.1,703.9 121.7,704.0 122.4,704.1 123.1,704.2 123.8,704.3 124.5,704.4 125.2,704.5 125.9,704.7 126.6,704.8 127.2,704.9 127.9,705.0 128.6,705.1 129.3,705.2 130.0,705.3 130.7,705.5 131.4,705.6 132.0,705.7 132.7,705.8 133.4,705.9 134.1,706.0 134.8,706.1 135.5,706.2 136.2,706.4 136.9,706.5 137.5,706.6 138.2,706.7 138.9,706.8 139.6,706.9 140.3,707.0 141.0,707.1 141.7,707.2 142.4,707.3 143.0,707.4 143.7,707.5 144.4,707.6 145.1,707.7 145.8,707.8 146.5,707.9 147.2,707.9 147.9,708.0 148.5,708.1 149.2,708.2 149.9,708.3 150.6,708.3 151.3,708.4 152.0,708.5 152.7,708.5 153.4,708.6 154.0,708.7 154.7,708.7 155.4,708.8 156.1,708.9 156.8,708.9 157.5,709.0 158.2,709.0 158.8,709.1 159.5,709.1 160.2,709.2 160.9,709.2 161.6,709.3 162.3,709.3 163.0,709.4 163.7,709.4 164.3,709.4 165.0,709.5 165.7,709.5 166.4,709.5 167.1,709.6 167.8,709.6 168.5,709.6 169.2,709.7 169.8,709.7 170.5,709.7 171.2,709.8 171.9,709.8 172.6,709.8 173.3,709.8 174.0,709.9 174.7,709.9 175.3,709.9 176.0,709.9 176.7,709.9 177.4,710.0 178.1,710.0 178.8,710.0 179.5,710.0 180.2,710.0 180.8,710.0 181.5,710.0 182.2,710.1 182.9,710.1 183.6,710.1 184.3,710.1 185.0,710.1 185.7,710.1 186.3,710.1 187.0,710.1 187.7,710.2 188.4,710.2" stroke="#8dcd47"/>
<path d="M37.9,709.7 38.6,709.7 39.3,709.7 40.0,709.7 40.6,709.6 41.3,709.6 42.0,709.6 42.7,709.5 43.4,709.5 44.1,709.5 44.8,709.4 45.5,709.4 46.1,709.3 46.8,709.3 47.5,709.3 48.2,709.2 48.9,709.2 49.6,709.1 50.3,709.0 51.0,709.0 51.6,708.9 52.3,708.9 53.0,708.8 53.7,708.7 54.4,708.7 55.1,708.6 55.8,708.5 56.5,708.5 57.1,708.4 57.8,708.3 58.5,708.2 59.2,708.1 59.9,708.0 60.6,707.9 61.3,707.8 62.0,707.8 62.6,707.6 63.3,707.5 64.0,707.4 64.7,707.3 65.4,707.2 66.1,707.1 66.8,707.0 67.5,706.9 68.1,706.7 68.8,706.6 69.5,706.5 70.2,706.3 70.9,706.2 71.6,706.1 72.3,705.9 72.9,705.8 73.6,705.6 74.3,705.5 75.0,705.4 75.7,705.2 76.4,705.1 77.1,704.9 77.8,704.8 78.4,704.6 79.1,704.4 79.8,704.3 80.5,704.1 81.2,704.0 81.9,703.8 82.6,703.7 83.3,703.5 83.9,703.4 84.6,703.3 85.3,703.1 86.0,703.0 86.7,702.8 87.4,702.7 88.1,702.6 88.8,702.5 89.4,702.4 90.1,702.2 90.8,702.1 91.5,702.0 92.2,702.0 92.9,701.9 93.6,701.8 94.3,701.8 94.9,701.7 95.6,701.7 96.3,701.6 97.0,701.6 97.7,701.6 98.4,701.6 99.1,701.6 99.7,701.6 100.4,701.7 101.1,701.7 101.8,701.7 102.5,701.8 103.2,701.9 103.9,701.9 104.6,702.0 105.2,702.1 105.9,702.2 106.6,702.3 107.3,702.4 108.0,702.6 108.7,702.7 109.4,702.8 110.1,702.9 110.7,703.1 111.4,703.2 112.1,703.4 112.8,703.5 113.5,703.7 114.2,703.8 114.9,704.0 115.6,704.1 116.2,704.3 116.9,704.4 117.6,704.6 118.3,704.7 119.0,704.9 119.7,705.0 120.4,705.2 121.1,705.3 121.7,705.5 122.4,705.6 123.1,705.8 123.8,705.9 124.5,706.0 125.2,706.2 125.9,706.3 126.6,706.4 127.2,706.6 127.9,706.7 128.6,706.8 129.3,707.0 130.0,707.1 130.7,707.2 131.4,707.3 132.0,707.4 132.7,707.5 133.4,707.6 134.1,707.7 134.8,707.8 135.5,707.9 136.2,708.0 136.9,708.1 137.5,708.2 138.2,708.3 138.9,708.4 139.6,708.4 140.3,708.5 141.0,708.6 141.7,708.7 142.4,708.7 143.0,708.8 143.7,708.9 144.4,708.9 145.1,709.0 145.8,709.0 146.5,709.1 147.2,709.1 147.9,709.2 148.5,709.2 149.2,709.3 149.9,709.3 150.6,709.4 151.3,709.4 152.0,709.5 152.7,709.5 153.4,709.5 154.0,709.6 154.7,709.6 155.4,709.6 156.1,709.7 156.8,709.7 157.5,709.7 158.2,709.7 158.8,709.8 159.5,709.8 160.2,709.8 160.9,709.8 161.6,709.8 162.3,709.9 163.0,709.9 163.7,709.9 164.3,709.9 165.0,709.9 165.7,710.0 166.4,710.0 167.1,710.0 167.8,710.0 168.5,710.0 169.2,710.0 169.8,710.0 170.5,710.0 171.2,710.1 171.9,710.1 172.6,710.1 173.3,710.1 174.0,710.1 174.7,710.1 175.3,710.1 176.0,710.1 176.7,710.1 177.4,710.1 178.1,710.2 178.8,710.2 179.5,710.2 180.2,710.2 180.8,710.2 181.5,710.2 182.2,710.2 182.9,710.2 183.6,710.2 184.3,710.2 185.0,710.2 185.7,710.2 186.3,710.2 187.0,710.2 187.7,710.2 188.4,710.2" stroke="#75c553"/>
<path d="M37.9,709.6 38.6,709.6 39.3,709.5 40.0,709.5 40.6,709.5 41.3,709.4 42.0,709.4 42.7,709.3 43.4,709.3 44.1,709.2 44.8,709.2 45.5,709.1 46.1,709.1 46.8,709.0 47.5,708.9 48.2,708.9 48.9,708.8 49.6,708.7 50.3,708.6 51.0,708.5 51.6,708.4 52.3,708.3 53.0,708.2 53.7,708.1 54.4,708.0 55.1,707.9 55.8,707.8 56.5,707.6 57.1,707.5 57.8,707.4 58.5,707.2 59.2,707.1 59.9,706.9 60.6,706.7 61.3,706.6 62.0,706.4 62.6,706.2 63.3,706.0 64.0,705.8 64.7,705.6 65.4,705.4 66.1,705.2 66.8,705.0 67.5,704.7 68.1,704.5 68.8,704.3 69.5,704.0 70.2,703.8 70.9,703.5 71.6,703.3 72.3,703.0 72.9,702.8 73.6,702.5 74.3,702.3 75.0,702.0 75.7,701.7 76.4,701.5 77.1,701.2 77.8,701.0 78.4,700.7 79.1,700.5 79.8,700.3 80.5,700.1 81.2,699.8 81.9,699.6 82.6,699.5 83.3,699.3 83.9,699.1 84.6,699.0 85.3,698.9 86.0,698.8 86.7,698.7 87.4,698.6 88.1,698.6 88.8,698.6 89.4,698.6 90.1,698.6 90.8,698.6 91.5,698.7 92.2,698.8 92.9,698.9 93.6,699.0 94.3,699.1 94.9,699.3 95.6,699.5 96.3,699.7 97.0,699.9 97.7,700.1 98.4,700.3 99.1,700.5 99.7,700.8 100.4,701.0 101.1,701.3 101.8,701.5 102.5,701.8 103.2,702.0 103.9,702.3 104.6,702.5 105.2,702.8 105.9,703.1 106.6,703.3 107.3,703.6 108.0,703.8 108.7,704.1 109.4,704.3 110.1,704.5 110.7,704.8 111.4,705.0 112.1,705.2 112.8,705.4 113.5,705.6 114.2,705.8 114.9,706.0 115.6,706.2 116.2,706.4 116.9,706.6 117.6,706.8 118.3,706.9 119.0,707.1 119.7,707.2 120.4,707.4 121.1,707.5 121.7,707.7 122.4,707.8 123.1,707.9 123.8,708.0 124.5,708.1 125.2,708.2 125.9,708.3 126.6,708.4 127.2,708.5 127.9,708.6 128.6,708.7 129.3,708.8 130.0,708.9 130.7,708.9 131.4,709.0 132.0,709.1 132.7,709.1 133.4,709.2 134.1,709.2 134.8,709.3 135.5,709.3 136.2,709.4 136.9,709.4 137.5,709.5 138.2,709.5 138.9,709.5 139.6,709.6 140.3,709.6 141.0,709.6 141.7,709.7 142.4,709.7 143.0,709.7 143.7,709.7 144.4,709.8 145.1,709.8 145.8,709.8 146.5,709.8 147.2,709.8 147.9,709.9 148.5,709.9 149.2,709.9 149.9,709.9 150.6,709.9 151.3,709.9 152.0,709.9 152.7,710.0 153.4,710.0 154.0,710.0 154.7,710.0 155.4,710.0 156.1,710.0 156.8,710.0 157.5,710.0 158.2,710.0 158.8,710.1 159.5,710.1 160.2,710.1 160.9,710.1 161.6,710.1 162.3,710.1 163.0,710.1 163.7,710.1 164.3,710.1 165.0,710.1 165.7,710.1 166.4,710.1 167.1,710.2 167.8,710.2 168.5,710.2 169.2,710.2 169.8,710.2 170.5,710.2 171.2,710.2 171.9,710.2 172.6,710.2 173.3,710.2 174.0,710.2 174.7,710.2 175.3,710.2 176.0,710.2 176.7,710.2 177.4,710.2 178.1,710.2 178.8,710.2 179.5,710.2 180.2,710.3 180.8,710.3 181.5,710.3 182.2,710.3 182.9,710.3 183.6,710.3 184.3,710.3 185.0,710.3 185.7,710.3 186.3,710.3 187.0,710.3 187.7,710.3 188.4,710.3" stroke="#5cbe5e"/>
<path d="M37.9,709.6 38.6,709.5 39.3,709.5 40.0,709.4 40.6,709.4 41.3,709.4 42.0,709.3 42.7,709.3 43.4,709.2 44.1,709.2 44.8,709.1 45.5,709.0 46.1,709.0 46.8,708.9 47.5,708.8 48.2,708.7 48.9,708.6 49.6,708.5 50.3,708.4 51.0,708.2 51.6,708.1 52.3,707.9 53.0,707.8 53.7,707.6 54.4,707.4 55.1,707.2 55.8,706.9 56.5,706.7 57.1,706.4 57.8,706.1 58.5,705.8 59.2,705.5 59.9,705.1 60.6,704.7 61.3,704.3 62.0,703.9 62.6,703.5 63.3,703.0 64.0,702.5 64.7,702.0 65.4,701.5 66.1,700.9 66.8,700.4 67.5,699.8 68.1,699.2 68.8,698.6 69.5,698.0 70.2,697.4 70.9,696.8 71.6,696.2 72.3,695.6 72.9,695.0 73.6,694.4 74.3,693.9 75.0,693.4 75.7,692.9 76.4,692.5 77.1,692.2 77.8,691.9 78.4,691.7 79.1,691.6 79.8,691.5 80.5,691.5 81.2,691.6 81.9,691.8 82.6,692.0 83.3,692.3 83.9,692.7 84.6,693.1 85.3,693.6 86.0,694.1 86.7,694.6 87.4,695.2 88.1,695.8 88.8,696.4 89.4,697.0 90.1,697.6 90.8,698.2 91.5,698.8 92.2,699.4 92.9,700.0 93.6,700.6 94.3,701.1 94.9,701.7 95.6,702.2 96.3,702.7 97.0,703.2 97.7,703.6 98.4,704.1 99.1,704.5 99.7,704.9 100.4,705.2 101.1,705.6 101.8,705.9 102.5,706.2 103.2,706.5 103.9,706.8 104.6,707.0 105.2,707.2 105.9,707.4 106.6,707.6 107.3,707.8 108.0,708.0 108.7,708.1 109.4,708.3 110.1,708.4 110.7,708.5 111.4,708.6 112.1,708.7 112.8,708.8 113.5,708.9 114.2,709.0 114.9,709.1 115.6,709.1 116.2,709.2 116.9,709.2 117.6,709.3 118.3,709.3 119.0,709.4 119.7,709.4 120.4,709.5 121.1,709.5 121.7,709.5 122.4,709.6 123.1,709.6 123.8,709.6 124.5,709.6 125.2,709.7 125.9,709.7 126.6,709.7 127.2,709.7 127.9,709.8 128.6,709.8 129.3,709.8 130.0,709.8 130.7,709.8 131.4,709.9 132.0,709.9 132.7,709.9 133.4,709.9 134.1,709.9 134.8,709.9 135.5,709.9 136.2,710.0 136.9,710.0 137.5,710.0 138.2,710.0 138.9,710.0 139.6,710.0 140.3,710.0 141.0,710.0 141.7,710.0 142.4,710.1 143.0,710.1 143.7,710.1 144.4,710.1 145.1,710.1 145.8,710.1 146.5,710.1 147.2,710.1 147.9,710.1 148.5,710.1 149.2,710.1 149.9,710.1 150.6,710.1 151.3,710.2 152.0,710.2 152.7,710.2 153.4,710.2 154.0,710.2 154.7,710.2 155.4,710.2 156.1,710.2 156.8,710.2 157.5,710.2 158.2,710.2 158.8,710.2 159.5,710.2 160.2,710.2 160.9,710.2 161.6,710.2 162.3,710.2 163.0,710.2 163.7,710.2 164.3,710.3 165.0,710.3 165.7,710.3 166.4,710.3 167.1,710.3 167.8,710.3 168.5,710.3 169.2,710.3 169.8,710.3 170.5,710.3 171.2,710.3 171.9,710.3 172.6,710.3 173.3,710.3 174.0,710.3 174.7,710.3 175.3,710.3 176.0,710.3 176.7,710.3 177.4,710.3 178.1,710.3 178.8,710.3 179.5,710.3 180.2,710.3 180.8,710.3 181.5,710.3 182.2,710.3 182.9,710.3 183.6,710.3 184.3,710.3 185.0,710.3 185.7,710.3 186.3,710.3 187.0,710.3 187.7,710.3 188.4,710.3" stroke="#4bb967"/>
<path d="M37.9,709.7 38.6,709.6 39.3,709.6 40.0,709.6 40.6,709.5 41.3,709.5 42.0,709.5 42.7,709.4 43.4,709.4 44.1,709.3 44.8,709.3 45.5,709.3 46.1,709.2 46.8,709.1 47.5,709.1 48.2,709.0 48.9,708.9 49.6,708.9 50.3,708.8 51.0,708.7 51.6,708.6 52.3,708.5 53.0,708.3 53.7,708.2 54.4,708.0 55.1,707.8 55.8,707.6 56.5,707.3 57.1,707.0 57.8,706.7 58.5,706.3 59.2,705.8 59.9,705.3 60.6,704.6 61.3,703.9 62.0,703.0 62.6,702.0 63.3,700.9 64.0,699.6 64.7,698.2 65.4,696.7 66.1,695.0 66.8,693.1 67.5,691.1 68.1,689.0 68.8,686.8 69.5,684.5 70.2,682.2 70.9,680.0 71.6,677.8 72.3,675.9 72.9,674.2 73.6,672.8 74.3,671.9 75.0,671.5 75.7,671.6 76.4,672.2 77.1,673.3 77.8,674.8 78.4,676.6 79.1,678.6 79.8,680.8 80.5,683.1 81.2,685.4 81.9,687.6 82.6,689.8 83.3,691.9 83.9,693.8 84.6,695.6 85.3,697.3 86.0,698.8 86.7,700.1 87.4,701.3 88.1,702.4 88.8,703.3 89.4,704.2 90.1,704.9 90.8,705.5 91.5,706.0 92.2,706.4 92.9,706.8 93.6,707.2 94.3,707.4 94.9,707.7 95.6,707.9 96.3,708.1 97.0,708.2 97.7,708.4 98.4,708.5 99.1,708.6 99.7,708.7 100.4,708.8 101.1,708.9 101.8,709.0 102.5,709.0 103.2,709.1 103.9,709.2 104.6,709.2 105.2,709.3 105.9,709.3 106.6,709.4 107.3,709.4 108.0,709.5 108.7,709.5 109.4,709.5 110.1,709.6 110.7,709.6 111.4,709.6 112.1,709.7 112.8,709.7 113.5,709.7 114.2,709.7 114.9,709.8 115.6,709.8 116.2,709.8 116.9,709.8 117.6,709.8 118.3,709.9 119.0,709.9 119.7,709.9 120.4,709.9 121.1,709.9 121.7,709.9 122.4,710.0 123.1,710.0 123.8,710.0 124.5,710.0 125.2,710.0 125.9,710.0 126.6,710.0 127.2,710.0 127.9,710.1 128.6,710.1 129.3,710.1 130.0,710.1 130.7,710.1 131.4,710.1 132.0,710.1 132.7,710.1 133.4,710.1 134.1,710.1 134.8,710.1 135.5,710.1 136.2,710.2 136.9,710.2 137.5,710.2 138.2,710.2 138.9,710.2 139.6,710.2 140.3,710.2 141.0,710.2 141.7,710.2 142.4,710.2 143.0,710.2 143.7,710.2 144.4,710.2 145.1,710.2 145.8,710.2 146.5,710.2 147.2,710.2 147.9,710.2 148.5,710.2 149.2,710.2 149.9,710.2 150.6,710.3 151.3,710.3 152.0,710.3 152.7,710.3 153.4,710.3 154.0,710.3 154.7,710.3 155.4,710.3 156.1,710.3 156.8,710.3 157.5,710.3 158.2,710.3 158.8,710.3 159.5,710.3 160.2,710.3 160.9,710.3 161.6,710.3 162.3,710.3 163.0,710.3 163.7,710.3 164.3,710.3 165.0,710.3 165.7,710.3 166.4,710.3 167.1,710.3 167.8,710.3 168.5,710.3 169.2,710.3 169.8,710.3 170.5,710.3 171.2,710.3 171.9,710.3 172.6,710.3 173.3,710.3 174.0,710.3 174.7,710.3 175.3,710.3 176.0,710.3 176.7,710.3 177.4,710.3 178.1,710.3 178.8,710.3 179.5,710.3 180.2,710.3 180.8,710.3 181.5,710.4 182.2,710.4 182.9,710.4 183.6,710.4 184.3,710.4 185.0,710.4 185.7,710.4 186.3,710.4 187.0,710.4 187.7,710.4 188.4,710.4" stroke="#3bb36f"/>
<path d="M37.9,709.6 38.6,709.6 39.3,709.6 40.0,709.5 40.6,709.5 41.3,709.5 42.0,709.4 42.7,709.4 43.4,709.3 44.1,709.3 44.8,709.2 45.5,709.2 46.1,709.1 46.8,709.1 47.5,709.0 48.2,708.9 48.9,708.9 49.6,708.8 50.3,708.7 51.0,708.6 51.6,708.5 52.3,708.4 53.0,708.3 53.7,708.2 54.4,708.0 55.1,707.8 55.8,707.7 56.5,707.4 57.1,707.2 57.8,706.9 58.5,706.5 59.2,706.1 59.9,705.6 60.6,705.1 61.3,704.4 62.0,703.5 62.6,702.5 63.3,701.3 64.0,699.9 64.7,698.3 65.4,696.4 66.1,694.3 66.8,691.9 67.5,689.2 68.1,686.3 68.8,683.1 69.5,679.8 70.2,676.3 70.9,672.8 71.6,669.3 72.3,666.1 72.9,663.2 73.6,660.8 74.3,659.2 75.0,658.4 75.7,658.6 76.4,659.7 77.1,661.6 77.8,664.2 78.4,667.2 79.1,670.6 79.8,674.1 80.5,677.6 81.2,681.1 81.9,684.4 82.6,687.4 83.3,690.3 83.9,692.8 84.6,695.1 85.3,697.2 86.0,698.9 86.7,700.5 87.4,701.8 88.1,702.9 88.8,703.8 89.4,704.6 90.1,705.3 90.8,705.8 91.5,706.3 92.2,706.7 92.9,707.0 93.6,707.3 94.3,707.5 94.9,707.7 95.6,707.9 96.3,708.1 97.0,708.2 97.7,708.3 98.4,708.5 99.1,708.6 99.7,708.7 100.4,708.7 101.1,708.8 101.8,708.9 102.5,709.0 103.2,709.0 103.9,709.1 104.6,709.2 105.2,709.2 105.9,709.3 106.6,709.3 107.3,709.4 108.0,709.4 108.7,709.4 109.4,709.5 110.1,709.5 110.7,709.5 111.4,709.6 112.1,709.6 112.8,709.6 113.5,709.7 114.2,709.7 114.9,709.7 115.6,709.7 116.2,709.7 116.9,709.8 117.6,709.8 118.3,709.8 119.0,709.8 119.7,709.8 120.4,709.9 121.1,709.9 121.7,709.9 122.4,709.9 123.1,709.9 123.8,709.9 124.5,709.9 125.2,710.0 125.9,710.0 126.6,710.0 127.2,710.0 127.9,710.0 128.6,710.0 129.3,710.0 130.0,710.0 130.7,710.0 131.4,710.0 132.0,710.1 132.7,710.1 133.4,710.1 134.1,710.1 134.8,710.1 135.5,710.1 136.2,710.1 136.9,710.1 137.5,710.1 138.2,710.1 138.9,710.1 139.6,710.1 140.3,710.1 141.0,710.1 141.7,710.1 142.4,710.2 143.0,710.2 143.7,710.2 144.4,710.2 145.1,710.2 145.8,710.2 146.5,710.2 147.2,710.2 147.9,710.2 148.5,710.2 149.2,710.2 149.9,710.2 150.6,710.2 151.3,710.2 152.0,710.2 152.7,710.2 153.4,710.2 154.0,710.2 154.7,710.2 155.4,710.2 156.1,710.2 156.8,710.2 157.5,710.2 158.2,710.2 158.8,710.2 159.5,710.2 160.2,710.2 160.9,710.2 161.6,710.3 162.3,710.3 163.0,710.3 163.7,710.3 164.3,710.3 165.0,710.3 165.7,710.3 166.4,710.3 167.1,710.3 167.8,710.3 168.5,710.3 169.2,710.3 169.8,710.3 170.5,710.3 171.2,710.3 171.9,710.3 172.6,710.3 173.3,710.3 174.0,710.3 174.7,710.3 175.3,710.3 176.0,710.3 176.7,710.3 177.4,710.3 178.1,710.3 178.8,710.3 179.5,710.3 180.2,710.3 180.8,710.3 181.5,710.3 182.2,710.3 182.9,710.3 183.6,710.3 184.3,710.3 185.0,710.3 185.7,710.3 186.3,710.3 187.0,710.3 187.7,710.3 188.4,710.3" stroke="#2aae78"/>
</g>
<g fill="none" stroke-width="1.05">
<path d="M354.9,711.3 355.6,711.3 356.3,711.3 356.9,711.3 357.6,711.3 358.3,711.3 359.0,711.3 359.7,711.3 360.3,711.3 361.0,711.3 361.7,711.3 362.4,711.3 363.1,711.3 363.7,711.3 364.4,711.3 365.1,711.3 365.8,711.3 366.5,711.3 367.1,711.3 367.8,711.3 368.5,711.3 369.2,711.3 369.9,711.3 370.5,711.3 371.2,711.3 371.9,711.3 372.6,711.3 373.3,711.3 374.0,711.3 374.6,711.3 375.3,711.3 376.0,711.3 376.7,711.3 377.4,711.3 378.0,711.3 378.7,711.3 379.4,711.3 380.1,711.3 380.8,711.3 381.4,711.3 382.1,711.3 382.8,711.3 383.5,711.3 384.2,711.3 384.8,711.3 385.5,711.3 386.2,711.3 386.9,711.3 387.6,711.3 388.2,711.3 388.9,711.3 389.6,711.3 390.3,711.3 391.0,711.3 391.6,711.3 392.3,711.3 393.0,711.3 393.7,711.3 394.4,711.3 395.0,711.3 395.7,711.3 396.4,711.3 397.1,711.3 397.8,711.3 398.4,711.2 399.1,711.2 399.8,711.2 400.5,711.2 401.2,711.2 401.8,711.2 402.5,711.2 403.2,711.2 403.9,711.2 404.6,711.2 405.2,711.2 405.9,711.2 406.6,711.2 407.3,711.2 408.0,711.2 408.6,711.2 409.3,711.2 410.0,711.2 410.7,711.2 411.4,711.2 412.1,711.2 412.7,711.2 413.4,711.2 414.1,711.2 414.8,711.2 415.5,711.2 416.1,711.1 416.8,711.1 417.5,711.1 418.2,711.1 418.9,711.1 419.5,711.1 420.2,711.1 420.9,711.1 421.6,711.1 422.3,711.1 422.9,711.1 423.6,711.1 424.3,711.1 425.0,711.0 425.7,711.0 426.3,711.0 427.0,711.0 427.7,711.0 428.4,711.0 429.1,711.0 429.7,711.0 430.4,711.0 431.1,710.9 431.8,710.9 432.5,710.9 433.1,710.9 433.8,710.9 434.5,710.9 435.2,710.8 435.9,710.8 436.5,710.8 437.2,710.8 437.9,710.8 438.6,710.7 439.3,710.7 439.9,710.7 440.6,710.7 441.3,710.6 442.0,710.6 442.7,710.6 443.3,710.5 444.0,710.5 444.7,710.4 445.4,710.4 446.1,710.4 446.7,710.3 447.4,710.3 448.1,710.2 448.8,710.1 449.5,710.1 450.2,710.0 450.8,709.9 451.5,709.8 452.2,709.7 452.9,709.6 453.6,709.5 454.2,709.4 454.9,709.2 455.6,709.0 456.3,708.8 457.0,708.6 457.6,708.3 458.3,707.9 459.0,707.5 459.7,707.0 460.4,706.4 461.0,705.7 461.7,704.9 462.4,704.0 463.1,702.9 463.8,701.6 464.4,700.2 465.1,698.6 465.8,696.9 466.5,695.0 467.2,692.9 467.8,690.7 468.5,688.3 469.2,686.0 469.9,683.6 470.6,681.3 471.2,679.1 471.9,677.3 472.6,675.8 473.3,674.8 474.0,674.4 474.6,674.6 475.3,675.4 476.0,676.6 476.7,678.4 477.4,680.4 478.0,682.6 478.7,685.0 479.4,687.4 480.1,689.7 480.8,692.0 481.4,694.1 482.1,696.1 482.8,698.0 483.5,699.6 484.2,701.1 484.8,702.4 485.5,703.6 486.2,704.6 486.9,705.4 487.6,706.2 488.3,706.8 488.9,707.3 489.6,707.8 490.3,708.1 491.0,708.4 491.7,708.7 492.3,708.9 493.0,709.1 493.7,709.3 494.4,709.4 495.1,709.6 495.7,709.7 496.4,709.8 497.1,709.9 497.8,710.0 498.5,710.0 499.1,710.1 499.8,710.2 500.5,710.2 501.2,710.3 501.9,710.3 502.5,710.4 503.2,710.4 503.9,710.5" stroke="#f6e22a"/>
<path d="M354.9,711.3 355.6,711.3 356.3,711.3 356.9,711.3 357.6,711.3 358.3,711.3 359.0,711.3 359.7,711.3 360.3,711.3 361.0,711.3 361.7,711.3 362.4,711.3 363.1,711.3 363.7,711.3 364.4,711.3 365.1,711.3 365.8,711.3 366.5,711.3 367.1,711.3 367.8,711.3 368.5,711.3 369.2,711.3 369.9,711.3 370.5,711.3 371.2,711.3 371.9,711.3 372.6,711.3 373.3,711.3 374.0,711.3 374.6,711.3 375.3,711.3 376.0,711.3 376.7,711.3 377.4,711.3 378.0,711.3 378.7,711.3 379.4,711.3 380.1,711.3 380.8,711.2 381.4,711.2 382.1,711.2 382.8,711.2 383.5,711.2 384.2,711.2 384.8,711.2 385.5,711.2 386.2,711.2 386.9,711.2 387.6,711.2 388.2,711.2 388.9,711.2 389.6,711.2 390.3,711.2 391.0,711.2 391.6,711.2 392.3,711.2 393.0,711.2 393.7,711.2 394.4,711.2 395.0,711.2 395.7,711.2 396.4,711.2 397.1,711.2 397.8,711.2 398.4,711.2 399.1,711.2 399.8,711.2 400.5,711.2 401.2,711.2 401.8,711.2 402.5,711.2 403.2,711.2 403.9,711.2 404.6,711.2 405.2,711.2 405.9,711.2 406.6,711.2 407.3,711.2 408.0,711.2 408.6,711.1 409.3,711.1 410.0,711.1 410.7,711.1 411.4,711.1 412.1,711.1 412.7,711.1 413.4,711.1 414.1,711.1 414.8,711.1 415.5,711.1 416.1,711.1 416.8,711.1 417.5,711.1 418.2,711.1 418.9,711.1 419.5,711.1 420.2,711.1 420.9,711.0 421.6,711.0 422.3,711.0 422.9,711.0 423.6,711.0 424.3,711.0 425.0,711.0 425.7,711.0 426.3,711.0 427.0,711.0 427.7,711.0 428.4,710.9 429.1,710.9 429.7,710.9 430.4,710.9 431.1,710.9 431.8,710.9 432.5,710.9 433.1,710.8 433.8,710.8 434.5,710.8 435.2,710.8 435.9,710.8 436.5,710.7 437.2,710.7 437.9,710.7 438.6,710.7 439.3,710.7 439.9,710.6 440.6,710.6 441.3,710.6 442.0,710.5 442.7,710.5 443.3,710.5 444.0,710.4 444.7,710.4 445.4,710.3 446.1,710.3 446.7,710.2 447.4,710.2 448.1,710.1 448.8,710.0 449.5,710.0 450.2,709.9 450.8,709.8 451.5,709.7 452.2,709.6 452.9,709.4 453.6,709.2 454.2,709.1 454.9,708.8 455.6,708.6 456.3,708.3 457.0,707.9 457.6,707.5 458.3,707.1 459.0,706.5 459.7,705.9 460.4,705.2 461.0,704.4 461.7,703.4 462.4,702.4 463.1,701.3 463.8,700.0 464.4,698.6 465.1,697.2 465.8,695.6 466.5,694.0 467.2,692.3 467.8,690.6 468.5,688.9 469.2,687.3 469.9,685.8 470.6,684.5 471.2,683.5 471.9,682.8 472.6,682.4 473.3,682.4 474.0,682.8 474.6,683.6 475.3,684.6 476.0,686.0 476.7,687.5 477.4,689.1 478.0,690.8 478.7,692.5 479.4,694.2 480.1,695.8 480.8,697.3 481.4,698.8 482.1,700.1 482.8,701.4 483.5,702.5 484.2,703.5 484.8,704.5 485.5,705.3 486.2,706.0 486.9,706.6 487.6,707.1 488.3,707.6 488.9,708.0 489.6,708.3 490.3,708.6 491.0,708.9 491.7,709.1 492.3,709.3 493.0,709.4 493.7,709.6 494.4,709.7 495.1,709.8 495.7,709.9 496.4,710.0 497.1,710.0 497.8,710.1 498.5,710.2 499.1,710.2 499.8,710.3 500.5,710.3 501.2,710.4 501.9,710.4 502.5,710.5 503.2,710.5 503.9,710.5" stroke="#ebe12b"/>
<path d="M354.9,711.2 355.6,711.2 356.3,711.2 356.9,711.2 357.6,711.2 358.3,711.2 359.0,711.2 359.7,711.2 360.3,711.2 361.0,711.2 361.7,711.2 362.4,711.2 363.1,711.2 363.7,711.2 364.4,711.2 365.1,711.2 365.8,711.2 366.5,711.2 367.1,711.2 367.8,711.2 368.5,711.2 369.2,711.2 369.9,711.2 370.5,711.2 371.2,711.2 371.9,711.2 372.6,711.2 373.3,711.2 374.0,711.2 374.6,711.2 375.3,711.2 376.0,711.2 376.7,711.2 377.4,711.2 378.0,711.2 378.7,711.2 379.4,711.2 380.1,711.2 380.8,711.2 381.4,711.2 382.1,711.2 382.8,711.2 383.5,711.2 384.2,711.2 384.8,711.2 385.5,711.2 386.2,711.2 386.9,711.2 387.6,711.2 388.2,711.2 388.9,711.2 389.6,711.2 390.3,711.2 391.0,711.2 391.6,711.2 392.3,711.2 393.0,711.2 393.7,711.2 394.4,711.2 395.0,711.2 395.7,711.2 396.4,711.2 397.1,711.2 397.8,711.1 398.4,711.1 399.1,711.1 399.8,711.1 400.5,711.1 401.2,711.1 401.8,711.1 402.5,711.1 403.2,711.1 403.9,711.1 404.6,711.1 405.2,711.1 405.9,711.1 406.6,711.1 407.3,711.1 408.0,711.1 408.6,711.1 409.3,711.1 410.0,711.1 410.7,711.1 411.4,711.1 412.1,711.1 412.7,711.1 413.4,711.1 414.1,711.1 414.8,711.1 415.5,711.0 416.1,711.0 416.8,711.0 417.5,711.0 418.2,711.0 418.9,711.0 419.5,711.0 420.2,711.0 420.9,711.0 421.6,711.0 422.3,711.0 422.9,711.0 423.6,711.0 424.3,710.9 425.0,710.9 425.7,710.9 426.3,710.9 427.0,710.9 427.7,710.9 428.4,710.9 429.1,710.9 429.7,710.9 430.4,710.8 431.1,710.8 431.8,710.8 432.5,710.8 433.1,710.8 433.8,710.8 434.5,710.7 435.2,710.7 435.9,710.7 436.5,710.7 437.2,710.7 437.9,710.6 438.6,710.6 439.3,710.6 439.9,710.5 440.6,710.5 441.3,710.5 442.0,710.4 442.7,710.4 443.3,710.4 444.0,710.3 444.7,710.3 445.4,710.2 446.1,710.1 446.7,710.1 447.4,710.0 448.1,709.9 448.8,709.8 449.5,709.7 450.2,709.6 450.8,709.5 451.5,709.3 452.2,709.1 452.9,708.9 453.6,708.7 454.2,708.4 454.9,708.1 455.6,707.7 456.3,707.3 457.0,706.8 457.6,706.2 458.3,705.6 459.0,704.9 459.7,704.2 460.4,703.3 461.0,702.4 461.7,701.5 462.4,700.4 463.1,699.3 463.8,698.1 464.4,696.9 465.1,695.7 465.8,694.5 466.5,693.2 467.2,692.1 467.8,691.0 468.5,690.1 469.2,689.3 469.9,688.7 470.6,688.4 471.2,688.3 471.9,688.5 472.6,688.9 473.3,689.5 474.0,690.4 474.6,691.4 475.3,692.5 476.0,693.7 476.7,694.9 477.4,696.1 478.0,697.4 478.7,698.6 479.4,699.7 480.1,700.8 480.8,701.8 481.4,702.8 482.1,703.7 482.8,704.5 483.5,705.2 484.2,705.8 484.8,706.4 485.5,707.0 486.2,707.4 486.9,707.8 487.6,708.2 488.3,708.5 488.9,708.8 489.6,709.0 490.3,709.2 491.0,709.4 491.7,709.5 492.3,709.6 493.0,709.8 493.7,709.9 494.4,710.0 495.1,710.0 495.7,710.1 496.4,710.2 497.1,710.2 497.8,710.3 498.5,710.3 499.1,710.4 499.8,710.4 500.5,710.5 501.2,710.5 501.9,710.5 502.5,710.6 503.2,710.6 503.9,710.6" stroke="#e0e12d"/>
<path d="M354.9,711.2 355.6,711.2 356.3,711.2 356.9,711.2 357.6,711.2 358.3,711.2 359.0,711.2 359.7,711.2 360.3,711.2 361.0,711.2 361.7,711.2 362.4,711.2 363.1,711.2 363.7,711.2 364.4,711.2 365.1,711.2 365.8,711.2 366.5,711.2 367.1,711.1 367.8,711.1 368.5,711.1 369.2,711.1 369.9,711.1 370.5,711.1 371.2,711.1 371.9,711.1 372.6,711.1 373.3,711.1 374.0,711.1 374.6,711.1 375.3,711.1 376.0,711.1 376.7,711.1 377.4,711.1 378.0,711.1 378.7,711.1 379.4,711.1 380.1,711.1 380.8,711.1 381.4,711.1 382.1,711.1 382.8,711.1 383.5,711.1 384.2,711.1 384.8,711.1 385.5,711.1 386.2,711.1 386.9,711.1 387.6,711.1 388.2,711.1 388.9,711.1 389.6,711.1 390.3,711.1 391.0,711.1 391.6,711.1 392.3,711.1 393.0,711.1 393.7,711.1 394.4,711.1 395.0,711.1 395.7,711.1 396.4,711.1 397.1,711.1 397.8,711.1 398.4,711.1 399.1,711.1 399.8,711.0 400.5,711.0 401.2,711.0 401.8,711.0 402.5,711.0 403.2,711.0 403.9,711.0 404.6,711.0 405.2,711.0 405.9,711.0 406.6,711.0 407.3,711.0 408.0,711.0 408.6,711.0 409.3,711.0 410.0,711.0 410.7,711.0 411.4,711.0 412.1,711.0 412.7,711.0 413.4,710.9 414.1,710.9 414.8,710.9 415.5,710.9 416.1,710.9 416.8,710.9 417.5,710.9 418.2,710.9 418.9,710.9 419.5,710.9 420.2,710.9 420.9,710.9 421.6,710.8 422.3,710.8 422.9,710.8 423.6,710.8 424.3,710.8 425.0,710.8 425.7,710.8 426.3,710.8 427.0,710.7 427.7,710.7 428.4,710.7 429.1,710.7 429.7,710.7 430.4,710.6 431.1,710.6 431.8,710.6 432.5,710.6 433.1,710.6 433.8,710.5 434.5,710.5 435.2,710.5 435.9,710.4 436.5,710.4 437.2,710.4 437.9,710.3 438.6,710.3 439.3,710.2 439.9,710.2 440.6,710.1 441.3,710.1 442.0,710.0 442.7,709.9 443.3,709.8 444.0,709.7 444.7,709.6 445.4,709.5 446.1,709.3 446.7,709.2 447.4,709.0 448.1,708.8 448.8,708.5 449.5,708.3 450.2,708.0 450.8,707.7 451.5,707.4 452.2,707.0 452.9,706.6 453.6,706.2 454.2,705.7 454.9,705.2 455.6,704.6 456.3,704.1 457.0,703.5 457.6,702.8 458.3,702.1 459.0,701.5 459.7,700.7 460.4,700.0 461.0,699.3 461.7,698.6 462.4,697.8 463.1,697.2 463.8,696.5 464.4,695.9 465.1,695.4 465.8,694.9 466.5,694.6 467.2,694.4 467.8,694.2 468.5,694.3 469.2,694.4 469.9,694.6 470.6,695.0 471.2,695.4 471.9,696.0 472.6,696.6 473.3,697.2 474.0,697.9 474.6,698.6 475.3,699.4 476.0,700.1 476.7,700.8 477.4,701.5 478.0,702.2 478.7,702.9 479.4,703.5 480.1,704.1 480.8,704.7 481.4,705.3 482.1,705.8 482.8,706.2 483.5,706.7 484.2,707.1 484.8,707.4 485.5,707.8 486.2,708.1 486.9,708.3 487.6,708.6 488.3,708.8 488.9,709.0 489.6,709.2 490.3,709.3 491.0,709.5 491.7,709.6 492.3,709.7 493.0,709.8 493.7,709.9 494.4,710.0 495.1,710.1 495.7,710.1 496.4,710.2 497.1,710.2 497.8,710.3 498.5,710.3 499.1,710.4 499.8,710.4 500.5,710.4 501.2,710.5 501.9,710.5 502.5,710.5 503.2,710.6 503.9,710.6" stroke="#d3df2f"/>
<path d="M354.9,711.1 355.6,711.1 356.3,711.1 356.9,711.1 357.6,711.1 358.3,711.1 359.0,711.1 359.7,711.1 360.3,711.1 361.0,711.1 361.7,711.1 362.4,711.1 363.1,711.1 363.7,711.1 364.4,711.1 365.1,711.1 365.8,711.1 366.5,711.1 367.1,711.1 367.8,711.1 368.5,711.1 369.2,711.1 369.9,711.1 370.5,711.1 371.2,711.1 371.9,711.1 372.6,711.0 373.3,711.0 374.0,711.0 374.6,711.0 375.3,711.0 376.0,711.0 376.7,711.0 377.4,711.0 378.0,711.0 378.7,711.0 379.4,711.0 380.1,711.0 380.8,711.0 381.4,711.0 382.1,711.0 382.8,711.0 383.5,711.0 384.2,711.0 384.8,711.0 385.5,711.0 386.2,711.0 386.9,711.0 387.6,711.0 388.2,711.0 388.9,711.0 389.6,711.0 390.3,711.0 391.0,711.0 391.6,711.0 392.3,711.0 393.0,711.0 393.7,711.0 394.4,711.0 395.0,710.9 395.7,710.9 396.4,710.9 397.1,710.9 397.8,710.9 398.4,710.9 399.1,710.9 399.8,710.9 400.5,710.9 401.2,710.9 401.8,710.9 402.5,710.9 403.2,710.9 403.9,710.9 404.6,710.9 405.2,710.9 405.9,710.9 406.6,710.9 407.3,710.8 408.0,710.8 408.6,710.8 409.3,710.8 410.0,710.8 410.7,710.8 411.4,710.8 412.1,710.8 412.7,710.8 413.4,710.8 414.1,710.7 414.8,710.7 415.5,710.7 416.1,710.7 416.8,710.7 417.5,710.7 418.2,710.7 418.9,710.7 419.5,710.6 420.2,710.6 420.9,710.6 421.6,710.6 422.3,710.6 422.9,710.5 423.6,710.5 424.3,710.5 425.0,710.5 425.7,710.4 426.3,710.4 427.0,710.4 427.7,710.3 428.4,710.3 429.1,710.3 429.7,710.2 430.4,710.2 431.1,710.1 431.8,710.1 432.5,710.0 433.1,709.9 433.8,709.8 434.5,709.8 435.2,709.7 435.9,709.6 436.5,709.5 437.2,709.3 437.9,709.2 438.6,709.1 439.3,708.9 439.9,708.8 440.6,708.6 441.3,708.4 442.0,708.2 442.7,708.0 443.3,707.8 444.0,707.6 444.7,707.3 445.4,707.1 446.1,706.8 446.7,706.5 447.4,706.2 448.1,705.9 448.8,705.5 449.5,705.2 450.2,704.8 450.8,704.5 451.5,704.1 452.2,703.7 452.9,703.3 453.6,702.9 454.2,702.6 454.9,702.2 455.6,701.8 456.3,701.4 457.0,701.1 457.6,700.7 458.3,700.4 459.0,700.1 459.7,699.9 460.4,699.6 461.0,699.5 461.7,699.3 462.4,699.2 463.1,699.2 463.8,699.2 464.4,699.2 465.1,699.3 465.8,699.5 466.5,699.7 467.2,699.9 467.8,700.2 468.5,700.5 469.2,700.8 469.9,701.1 470.6,701.5 471.2,701.8 471.9,702.2 472.6,702.6 473.3,703.0 474.0,703.4 474.6,703.8 475.3,704.1 476.0,704.5 476.7,704.9 477.4,705.2 478.0,705.6 478.7,705.9 479.4,706.2 480.1,706.5 480.8,706.8 481.4,707.1 482.1,707.4 482.8,707.6 483.5,707.8 484.2,708.1 484.8,708.3 485.5,708.5 486.2,708.6 486.9,708.8 487.6,709.0 488.3,709.1 488.9,709.2 489.6,709.4 490.3,709.5 491.0,709.6 491.7,709.7 492.3,709.8 493.0,709.9 493.7,709.9 494.4,710.0 495.1,710.1 495.7,710.1 496.4,710.2 497.1,710.2 497.8,710.3 498.5,710.3 499.1,710.3 499.8,710.4 500.5,710.4 501.2,710.4 501.9,710.5 502.5,710.5 503.2,710.5 503.9,710.5" stroke="#c1db34"/>
<path d="M354.9,711.0 355.6,711.0 356.3,711.0 356.9,711.0 357.6,711.0 358.3,711.0 359.0,711.0 359.7,711.0 360.3,711.0 361.0,711.0 361.7,710.9 362.4,710.9 363.1,710.9 363.7,710.9 364.4,710.9 365.1,710.9 365.8,710.9 366.5,710.9 367.1,710.9 367.8,710.9 368.5,710.9 369.2,710.9 369.9,710.9 370.5,710.9 371.2,710.9 371.9,710.9 372.6,710.9 373.3,710.9 374.0,710.9 374.6,710.9 375.3,710.9 376.0,710.9 376.7,710.9 377.4,710.9 378.0,710.9 378.7,710.9 379.4,710.9 380.1,710.9 380.8,710.9 381.4,710.8 382.1,710.8 382.8,710.8 383.5,710.8 384.2,710.8 384.8,710.8 385.5,710.8 386.2,710.8 386.9,710.8 387.6,710.8 388.2,710.8 388.9,710.8 389.6,710.8 390.3,710.8 391.0,710.8 391.6,710.8 392.3,710.8 393.0,710.7 393.7,710.7 394.4,710.7 395.0,710.7 395.7,710.7 396.4,710.7 397.1,710.7 397.8,710.7 398.4,710.7 399.1,710.7 399.8,710.6 400.5,710.6 401.2,710.6 401.8,710.6 402.5,710.6 403.2,710.6 403.9,710.6 404.6,710.5 405.2,710.5 405.9,710.5 406.6,710.5 407.3,710.5 408.0,710.4 408.6,710.4 409.3,710.4 410.0,710.4 410.7,710.3 411.4,710.3 412.1,710.3 412.7,710.2 413.4,710.2 414.1,710.2 414.8,710.1 415.5,710.1 416.1,710.0 416.8,710.0 417.5,709.9 418.2,709.9 418.9,709.8 419.5,709.8 420.2,709.7 420.9,709.6 421.6,709.5 422.3,709.5 422.9,709.4 423.6,709.3 424.3,709.2 425.0,709.1 425.7,709.0 426.3,708.9 427.0,708.8 427.7,708.7 428.4,708.6 429.1,708.4 429.7,708.3 430.4,708.2 431.1,708.0 431.8,707.9 432.5,707.7 433.1,707.6 433.8,707.4 434.5,707.2 435.2,707.1 435.9,706.9 436.5,706.7 437.2,706.5 437.9,706.3 438.6,706.1 439.3,705.9 439.9,705.7 440.6,705.5 441.3,705.3 442.0,705.1 442.7,704.9 443.3,704.7 444.0,704.5 444.7,704.3 445.4,704.1 446.1,703.9 446.7,703.7 447.4,703.5 448.1,703.3 448.8,703.1 449.5,703.0 450.2,702.8 450.8,702.7 451.5,702.6 452.2,702.4 452.9,702.3 453.6,702.3 454.2,702.2 454.9,702.2 455.6,702.1 456.3,702.1 457.0,702.1 457.6,702.2 458.3,702.2 459.0,702.3 459.7,702.4 460.4,702.5 461.0,702.6 461.7,702.7 462.4,702.8 463.1,703.0 463.8,703.2 464.4,703.3 465.1,703.5 465.8,703.7 466.5,703.9 467.2,704.1 467.8,704.3 468.5,704.5 469.2,704.7 469.9,704.9 470.6,705.1 471.2,705.3 471.9,705.5 472.6,705.7 473.3,705.9 474.0,706.1 474.6,706.3 475.3,706.5 476.0,706.7 476.7,706.9 477.4,707.1 478.0,707.3 478.7,707.4 479.4,707.6 480.1,707.7 480.8,707.9 481.4,708.0 482.1,708.2 482.8,708.3 483.5,708.5 484.2,708.6 484.8,708.7 485.5,708.8 486.2,708.9 486.9,709.0 487.6,709.1 488.3,709.2 488.9,709.3 489.6,709.4 490.3,709.5 491.0,709.6 491.7,709.6 492.3,709.7 493.0,709.8 493.7,709.8 494.4,709.9 495.1,709.9 495.7,710.0 496.4,710.0 497.1,710.1 497.8,710.1 498.5,710.2 499.1,710.2 499.8,710.2 500.5,710.3 501.2,710.3 501.9,710.3 502.5,710.4 503.2,710.4 503.9,710.4" stroke="#afd639"/>
<path d="M354.9,710.8 355.6,710.8 356.3,710.7 356.9,710.7 357.6,710.7 358.3,710.7 359.0,710.7 359.7,710.7 360.3,710.7 361.0,710.7 361.7,710.7 362.4,710.7 363.1,710.7 363.7,710.7 364.4,710.7 365.1,710.7 365.8,710.7 366.5,710.7 367.1,710.7 367.8,710.6 368.5,710.6 369.2,710.6 369.9,710.6 370.5,710.6 371.2,710.6 371.9,710.6 372.6,710.6 373.3,710.6 374.0,710.6 374.6,710.5 375.3,710.5 376.0,710.5 376.7,710.5 377.4,710.5 378.0,710.5 378.7,710.5 379.4,710.5 380.1,710.4 380.8,710.4 381.4,710.4 382.1,710.4 382.8,710.4 383.5,710.3 384.2,710.3 384.8,710.3 385.5,710.3 386.2,710.3 386.9,710.2 387.6,710.2 388.2,710.2 388.9,710.1 389.6,710.1 390.3,710.1 391.0,710.1 391.6,710.0 392.3,710.0 393.0,709.9 393.7,709.9 394.4,709.9 395.0,709.8 395.7,709.8 396.4,709.7 397.1,709.7 397.8,709.6 398.4,709.6 399.1,709.5 399.8,709.5 400.5,709.4 401.2,709.4 401.8,709.3 402.5,709.2 403.2,709.2 403.9,709.1 404.6,709.0 405.2,708.9 405.9,708.9 406.6,708.8 407.3,708.7 408.0,708.6 408.6,708.5 409.3,708.4 410.0,708.3 410.7,708.2 411.4,708.1 412.1,708.0 412.7,707.9 413.4,707.8 414.1,707.7 414.8,707.6 415.5,707.5 416.1,707.4 416.8,707.3 417.5,707.1 418.2,707.0 418.9,706.9 419.5,706.8 420.2,706.6 420.9,706.5 421.6,706.4 422.3,706.3 422.9,706.1 423.6,706.0 424.3,705.8 425.0,705.7 425.7,705.6 426.3,705.4 427.0,705.3 427.7,705.2 428.4,705.0 429.1,704.9 429.7,704.8 430.4,704.6 431.1,704.5 431.8,704.4 432.5,704.3 433.1,704.2 433.8,704.0 434.5,703.9 435.2,703.8 435.9,703.7 436.5,703.6 437.2,703.5 437.9,703.5 438.6,703.4 439.3,703.3 439.9,703.3 440.6,703.2 441.3,703.2 442.0,703.1 442.7,703.1 443.3,703.1 444.0,703.1 444.7,703.1 445.4,703.1 446.1,703.1 446.7,703.1 447.4,703.2 448.1,703.2 448.8,703.3 449.5,703.3 450.2,703.4 450.8,703.5 451.5,703.6 452.2,703.6 452.9,703.7 453.6,703.8 454.2,703.9 454.9,704.1 455.6,704.2 456.3,704.3 457.0,704.4 457.6,704.5 458.3,704.7 459.0,704.8 459.7,704.9 460.4,705.1 461.0,705.2 461.7,705.3 462.4,705.5 463.1,705.6 463.8,705.7 464.4,705.9 465.1,706.0 465.8,706.1 466.5,706.3 467.2,706.4 467.8,706.5 468.5,706.7 469.2,706.8 469.9,706.9 470.6,707.0 471.2,707.2 471.9,707.3 472.6,707.4 473.3,707.5 474.0,707.6 474.6,707.7 475.3,707.9 476.0,708.0 476.7,708.1 477.4,708.2 478.0,708.3 478.7,708.4 479.4,708.4 480.1,708.5 480.8,708.6 481.4,708.7 482.1,708.8 482.8,708.9 483.5,709.0 484.2,709.0 484.8,709.1 485.5,709.2 486.2,709.2 486.9,709.3 487.6,709.4 488.3,709.4 488.9,709.5 489.6,709.5 490.3,709.6 491.0,709.6 491.7,709.7 492.3,709.7 493.0,709.8 493.7,709.8 494.4,709.9 495.1,709.9 495.7,710.0 496.4,710.0 497.1,710.0 497.8,710.1 498.5,710.1 499.1,710.1 499.8,710.2 500.5,710.2 501.2,710.2 501.9,710.2 502.5,710.3 503.2,710.3 503.9,710.3" stroke="#99d042"/>
<path d="M354.9,710.5 355.6,710.4 356.3,710.4 356.9,710.4 357.6,710.4 358.3,710.4 359.0,710.4 359.7,710.4 360.3,710.3 361.0,710.3 361.7,710.3 362.4,710.3 363.1,710.3 363.7,710.2 364.4,710.2 365.1,710.2 365.8,710.2 366.5,710.2 367.1,710.1 367.8,710.1 368.5,710.1 369.2,710.1 369.9,710.0 370.5,710.0 371.2,710.0 371.9,709.9 372.6,709.9 373.3,709.9 374.0,709.8 374.6,709.8 375.3,709.7 376.0,709.7 376.7,709.7 377.4,709.6 378.0,709.6 378.7,709.5 379.4,709.5 380.1,709.4 380.8,709.4 381.4,709.3 382.1,709.3 382.8,709.2 383.5,709.1 384.2,709.1 384.8,709.0 385.5,709.0 386.2,708.9 386.9,708.8 387.6,708.7 388.2,708.7 388.9,708.6 389.6,708.5 390.3,708.4 391.0,708.4 391.6,708.3 392.3,708.2 393.0,708.1 393.7,708.0 394.4,707.9 395.0,707.8 395.7,707.7 396.4,707.6 397.1,707.5 397.8,707.4 398.4,707.3 399.1,707.2 399.8,707.1 400.5,707.0 401.2,706.9 401.8,706.7 402.5,706.6 403.2,706.5 403.9,706.4 404.6,706.3 405.2,706.2 405.9,706.0 406.6,705.9 407.3,705.8 408.0,705.7 408.6,705.5 409.3,705.4 410.0,705.3 410.7,705.2 411.4,705.1 412.1,704.9 412.7,704.8 413.4,704.7 414.1,704.6 414.8,704.5 415.5,704.4 416.1,704.2 416.8,704.1 417.5,704.0 418.2,703.9 418.9,703.8 419.5,703.7 420.2,703.6 420.9,703.6 421.6,703.5 422.3,703.4 422.9,703.3 423.6,703.3 424.3,703.2 425.0,703.2 425.7,703.1 426.3,703.1 427.0,703.1 427.7,703.0 428.4,703.0 429.1,703.0 429.7,703.0 430.4,703.0 431.1,703.0 431.8,703.1 432.5,703.1 433.1,703.1 433.8,703.2 434.5,703.2 435.2,703.3 435.9,703.3 436.5,703.4 437.2,703.5 437.9,703.6 438.6,703.6 439.3,703.7 439.9,703.8 440.6,703.9 441.3,704.0 442.0,704.1 442.7,704.2 443.3,704.4 444.0,704.5 444.7,704.6 445.4,704.7 446.1,704.8 446.7,704.9 447.4,705.1 448.1,705.2 448.8,705.3 449.5,705.4 450.2,705.5 450.8,705.7 451.5,705.8 452.2,705.9 452.9,706.0 453.6,706.2 454.2,706.3 454.9,706.4 455.6,706.5 456.3,706.6 457.0,706.7 457.6,706.9 458.3,707.0 459.0,707.1 459.7,707.2 460.4,707.3 461.0,707.4 461.7,707.5 462.4,707.6 463.1,707.7 463.8,707.8 464.4,707.9 465.1,708.0 465.8,708.1 466.5,708.2 467.2,708.3 467.8,708.4 468.5,708.4 469.2,708.5 469.9,708.6 470.6,708.7 471.2,708.7 471.9,708.8 472.6,708.9 473.3,709.0 474.0,709.0 474.6,709.1 475.3,709.1 476.0,709.2 476.7,709.3 477.4,709.3 478.0,709.4 478.7,709.4 479.4,709.5 480.1,709.5 480.8,709.6 481.4,709.6 482.1,709.7 482.8,709.7 483.5,709.7 484.2,709.8 484.8,709.8 485.5,709.9 486.2,709.9 486.9,709.9 487.6,710.0 488.3,710.0 488.9,710.0 489.6,710.1 490.3,710.1 491.0,710.1 491.7,710.1 492.3,710.2 493.0,710.2 493.7,710.2 494.4,710.2 495.1,710.2 495.7,710.3 496.4,710.3 497.1,710.3 497.8,710.3 498.5,710.3 499.1,710.4 499.8,710.4 500.5,710.4 501.2,710.4 501.9,710.4 502.5,710.4 503.2,710.4 503.9,710.5" stroke="#7ec84f"/>
<path d="M354.9,710.0 355.6,710.0 356.3,709.9 356.9,709.9 357.6,709.9 358.3,709.8 359.0,709.8 359.7,709.8 360.3,709.7 361.0,709.7 361.7,709.7 362.4,709.6 363.1,709.6 363.7,709.5 364.4,709.5 365.1,709.4 365.8,709.4 366.5,709.3 367.1,709.2 367.8,709.2 368.5,709.1 369.2,709.0 369.9,709.0 370.5,708.9 371.2,708.8 371.9,708.7 372.6,708.7 373.3,708.6 374.0,708.5 374.6,708.4 375.3,708.3 376.0,708.2 376.7,708.1 377.4,708.0 378.0,707.9 378.7,707.8 379.4,707.7 380.1,707.6 380.8,707.4 381.4,707.3 382.1,707.2 382.8,707.1 383.5,706.9 384.2,706.8 384.8,706.7 385.5,706.5 386.2,706.4 386.9,706.2 387.6,706.1 388.2,705.9 388.9,705.8 389.6,705.6 390.3,705.5 391.0,705.3 391.6,705.1 392.3,705.0 393.0,704.8 393.7,704.6 394.4,704.5 395.0,704.3 395.7,704.1 396.4,704.0 397.1,703.8 397.8,703.6 398.4,703.5 399.1,703.3 399.8,703.1 400.5,703.0 401.2,702.8 401.8,702.6 402.5,702.5 403.2,702.3 403.9,702.2 404.6,702.1 405.2,701.9 405.9,701.8 406.6,701.7 407.3,701.6 408.0,701.5 408.6,701.4 409.3,701.3 410.0,701.2 410.7,701.1 411.4,701.1 412.1,701.0 412.7,701.0 413.4,701.0 414.1,701.0 414.8,701.0 415.5,701.0 416.1,701.0 416.8,701.0 417.5,701.1 418.2,701.1 418.9,701.2 419.5,701.3 420.2,701.4 420.9,701.4 421.6,701.5 422.3,701.7 422.9,701.8 423.6,701.9 424.3,702.0 425.0,702.2 425.7,702.3 426.3,702.5 427.0,702.6 427.7,702.8 428.4,702.9 429.1,703.1 429.7,703.3 430.4,703.4 431.1,703.6 431.8,703.8 432.5,703.9 433.1,704.1 433.8,704.3 434.5,704.4 435.2,704.6 435.9,704.8 436.5,704.9 437.2,705.1 437.9,705.3 438.6,705.4 439.3,705.6 439.9,705.7 440.6,705.9 441.3,706.1 442.0,706.2 442.7,706.4 443.3,706.5 444.0,706.6 444.7,706.8 445.4,706.9 446.1,707.0 446.7,707.2 447.4,707.3 448.1,707.4 448.8,707.5 449.5,707.7 450.2,707.8 450.8,707.9 451.5,708.0 452.2,708.1 452.9,708.2 453.6,708.3 454.2,708.4 454.9,708.5 455.6,708.6 456.3,708.7 457.0,708.7 457.6,708.8 458.3,708.9 459.0,709.0 459.7,709.0 460.4,709.1 461.0,709.2 461.7,709.2 462.4,709.3 463.1,709.3 463.8,709.4 464.4,709.5 465.1,709.5 465.8,709.6 466.5,709.6 467.2,709.6 467.8,709.7 468.5,709.7 469.2,709.8 469.9,709.8 470.6,709.8 471.2,709.9 471.9,709.9 472.6,709.9 473.3,710.0 474.0,710.0 474.6,710.0 475.3,710.1 476.0,710.1 476.7,710.1 477.4,710.1 478.0,710.1 478.7,710.2 479.4,710.2 480.1,710.2 480.8,710.2 481.4,710.2 482.1,710.3 482.8,710.3 483.5,710.3 484.2,710.3 484.8,710.3 485.5,710.3 486.2,710.3 486.9,710.4 487.6,710.4 488.3,710.4 488.9,710.4 489.6,710.4 490.3,710.4 491.0,710.4 491.7,710.4 492.3,710.4 493.0,710.5 493.7,710.5 494.4,710.5 495.1,710.5 495.7,710.5 496.4,710.5 497.1,710.5 497.8,710.5 498.5,710.5 499.1,710.5 499.8,710.5 500.5,710.5 501.2,710.5 501.9,710.6 502.5,710.6 503.2,710.6 503.9,710.6" stroke="#63c05b"/>
<path d="M354.9,709.7 355.6,709.7 356.3,709.6 356.9,709.6 357.6,709.5 358.3,709.5 359.0,709.4 359.7,709.3 360.3,709.3 361.0,709.2 361.7,709.1 362.4,709.0 363.1,709.0 363.7,708.9 364.4,708.8 365.1,708.7 365.8,708.6 366.5,708.5 367.1,708.4 367.8,708.2 368.5,708.1 369.2,708.0 369.9,707.8 370.5,707.7 371.2,707.6 371.9,707.4 372.6,707.2 373.3,707.1 374.0,706.9 374.6,706.7 375.3,706.5 376.0,706.3 376.7,706.1 377.4,705.9 378.0,705.7 378.7,705.5 379.4,705.2 380.1,705.0 380.8,704.8 381.4,704.5 382.1,704.3 382.8,704.0 383.5,703.7 384.2,703.5 384.8,703.2 385.5,702.9 386.2,702.7 386.9,702.4 387.6,702.1 388.2,701.8 388.9,701.5 389.6,701.3 390.3,701.0 391.0,700.7 391.6,700.5 392.3,700.2 393.0,699.9 393.7,699.7 394.4,699.5 395.0,699.2 395.7,699.0 396.4,698.8 397.1,698.6 397.8,698.5 398.4,698.3 399.1,698.2 399.8,698.1 400.5,698.0 401.2,698.0 401.8,697.9 402.5,697.9 403.2,697.9 403.9,698.0 404.6,698.0 405.2,698.1 405.9,698.2 406.6,698.3 407.3,698.5 408.0,698.6 408.6,698.8 409.3,699.0 410.0,699.2 410.7,699.4 411.4,699.7 412.1,699.9 412.7,700.2 413.4,700.4 414.1,700.7 414.8,700.9 415.5,701.2 416.1,701.5 416.8,701.8 417.5,702.1 418.2,702.3 418.9,702.6 419.5,702.9 420.2,703.2 420.9,703.4 421.6,703.7 422.3,704.0 422.9,704.2 423.6,704.5 424.3,704.7 425.0,705.0 425.7,705.2 426.3,705.4 427.0,705.7 427.7,705.9 428.4,706.1 429.1,706.3 429.7,706.5 430.4,706.7 431.1,706.9 431.8,707.0 432.5,707.2 433.1,707.4 433.8,707.5 434.5,707.7 435.2,707.8 435.9,708.0 436.5,708.1 437.2,708.2 437.9,708.3 438.6,708.5 439.3,708.6 439.9,708.7 440.6,708.8 441.3,708.9 442.0,708.9 442.7,709.0 443.3,709.1 444.0,709.2 444.7,709.3 445.4,709.3 446.1,709.4 446.7,709.4 447.4,709.5 448.1,709.6 448.8,709.6 449.5,709.7 450.2,709.7 450.8,709.7 451.5,709.8 452.2,709.8 452.9,709.9 453.6,709.9 454.2,709.9 454.9,710.0 455.6,710.0 456.3,710.0 457.0,710.0 457.6,710.1 458.3,710.1 459.0,710.1 459.7,710.1 460.4,710.1 461.0,710.2 461.7,710.2 462.4,710.2 463.1,710.2 463.8,710.2 464.4,710.2 465.1,710.3 465.8,710.3 466.5,710.3 467.2,710.3 467.8,710.3 468.5,710.3 469.2,710.3 469.9,710.3 470.6,710.4 471.2,710.4 471.9,710.4 472.6,710.4 473.3,710.4 474.0,710.4 474.6,710.4 475.3,710.4 476.0,710.4 476.7,710.4 477.4,710.5 478.0,710.5 478.7,710.5 479.4,710.5 480.1,710.5 480.8,710.5 481.4,710.5 482.1,710.5 482.8,710.5 483.5,710.5 484.2,710.5 484.8,710.5 485.5,710.5 486.2,710.5 486.9,710.5 487.6,710.5 488.3,710.6 488.9,710.6 489.6,710.6 490.3,710.6 491.0,710.6 491.7,710.6 492.3,710.6 493.0,710.6 493.7,710.6 494.4,710.6 495.1,710.6 495.7,710.6 496.4,710.6 497.1,710.6 497.8,710.6 498.5,710.6 499.1,710.6 499.8,710.6 500.5,710.6 501.2,710.6 501.9,710.6 502.5,710.6 503.2,710.6 503.9,710.7" stroke="#4eba65"/>
<path d="M354.9,709.5 355.6,709.4 356.3,709.4 356.9,709.3 357.6,709.2 358.3,709.2 359.0,709.1 359.7,709.0 360.3,708.9 361.0,708.8 361.7,708.6 362.4,708.5 363.1,708.3 363.7,708.2 364.4,708.0 365.1,707.8 365.8,707.6 366.5,707.4 367.1,707.2 367.8,706.9 368.5,706.6 369.2,706.3 369.9,706.0 370.5,705.7 371.2,705.3 371.9,704.9 372.6,704.5 373.3,704.0 374.0,703.6 374.6,703.1 375.3,702.6 376.0,702.0 376.7,701.5 377.4,700.9 378.0,700.3 378.7,699.7 379.4,699.0 380.1,698.4 380.8,697.7 381.4,697.0 382.1,696.4 382.8,695.7 383.5,695.0 384.2,694.3 384.8,693.7 385.5,693.1 386.2,692.5 386.9,692.0 387.6,691.5 388.2,691.0 388.9,690.6 389.6,690.3 390.3,690.1 391.0,689.9 391.6,689.9 392.3,689.9 393.0,690.0 393.7,690.2 394.4,690.4 395.0,690.8 395.7,691.2 396.4,691.6 397.1,692.2 397.8,692.7 398.4,693.3 399.1,693.9 399.8,694.6 400.5,695.3 401.2,695.9 401.8,696.6 402.5,697.3 403.2,698.0 403.9,698.6 404.6,699.3 405.2,699.9 405.9,700.5 406.6,701.1 407.3,701.7 408.0,702.2 408.6,702.8 409.3,703.3 410.0,703.8 410.7,704.2 411.4,704.6 412.1,705.0 412.7,705.4 413.4,705.8 414.1,706.1 414.8,706.4 415.5,706.7 416.1,707.0 416.8,707.2 417.5,707.5 418.2,707.7 418.9,707.9 419.5,708.1 420.2,708.2 420.9,708.4 421.6,708.5 422.3,708.7 422.9,708.8 423.6,708.9 424.3,709.0 425.0,709.1 425.7,709.2 426.3,709.3 427.0,709.3 427.7,709.4 428.4,709.5 429.1,709.5 429.7,709.6 430.4,709.6 431.1,709.7 431.8,709.7 432.5,709.7 433.1,709.8 433.8,709.8 434.5,709.9 435.2,709.9 435.9,709.9 436.5,709.9 437.2,710.0 437.9,710.0 438.6,710.0 439.3,710.0 439.9,710.1 440.6,710.1 441.3,710.1 442.0,710.1 442.7,710.1 443.3,710.2 444.0,710.2 444.7,710.2 445.4,710.2 446.1,710.2 446.7,710.2 447.4,710.3 448.1,710.3 448.8,710.3 449.5,710.3 450.2,710.3 450.8,710.3 451.5,710.3 452.2,710.3 452.9,710.4 453.6,710.4 454.2,710.4 454.9,710.4 455.6,710.4 456.3,710.4 457.0,710.4 457.6,710.4 458.3,710.4 459.0,710.4 459.7,710.4 460.4,710.5 461.0,710.5 461.7,710.5 462.4,710.5 463.1,710.5 463.8,710.5 464.4,710.5 465.1,710.5 465.8,710.5 466.5,710.5 467.2,710.5 467.8,710.5 468.5,710.5 469.2,710.5 469.9,710.5 470.6,710.5 471.2,710.6 471.9,710.6 472.6,710.6 473.3,710.6 474.0,710.6 474.6,710.6 475.3,710.6 476.0,710.6 476.7,710.6 477.4,710.6 478.0,710.6 478.7,710.6 479.4,710.6 480.1,710.6 480.8,710.6 481.4,710.6 482.1,710.6 482.8,710.6 483.5,710.6 484.2,710.6 484.8,710.6 485.5,710.6 486.2,710.6 486.9,710.6 487.6,710.6 488.3,710.6 488.9,710.6 489.6,710.7 490.3,710.7 491.0,710.7 491.7,710.7 492.3,710.7 493.0,710.7 493.7,710.7 494.4,710.7 495.1,710.7 495.7,710.7 496.4,710.7 497.1,710.7 497.8,710.7 498.5,710.7 499.1,710.7 499.8,710.7 500.5,710.7 501.2,710.7 501.9,710.7 502.5,710.7 503.2,710.7 503.9,710.7" stroke="#3cb46f"/>
<path d="M354.9,710.0 355.6,710.0 356.3,709.9 356.9,709.9 357.6,709.9 358.3,709.8 359.0,709.8 359.7,709.7 360.3,709.7 361.0,709.6 361.7,709.6 362.4,709.5 363.1,709.4 363.7,709.3 364.4,709.3 365.1,709.2 365.8,709.1 366.5,709.0 367.1,708.9 367.8,708.7 368.5,708.6 369.2,708.4 369.9,708.2 370.5,708.0 371.2,707.8 371.9,707.5 372.6,707.1 373.3,706.7 374.0,706.2 374.6,705.5 375.3,704.8 376.0,703.8 376.7,702.7 377.4,701.3 378.0,699.6 378.7,697.7 379.4,695.4 380.1,692.8 380.8,689.8 381.4,686.5 382.1,683.0 382.8,679.2 383.5,675.3 384.2,671.4 384.8,667.6 385.5,664.2 386.2,661.5 386.9,659.6 387.6,658.8 388.2,659.2 388.9,660.7 389.6,663.1 390.3,666.3 391.0,670.0 391.6,673.9 392.3,677.8 393.0,681.6 393.7,685.3 394.4,688.7 395.0,691.7 395.7,694.5 396.4,696.9 397.1,698.9 397.8,700.7 398.4,702.2 399.1,703.4 399.8,704.4 400.5,705.3 401.2,706.0 401.8,706.5 402.5,707.0 403.2,707.4 403.9,707.7 404.6,707.9 405.2,708.2 405.9,708.4 406.6,708.5 407.3,708.7 408.0,708.8 408.6,708.9 409.3,709.0 410.0,709.1 410.7,709.2 411.4,709.3 412.1,709.4 412.7,709.5 413.4,709.5 414.1,709.6 414.8,709.7 415.5,709.7 416.1,709.8 416.8,709.8 417.5,709.8 418.2,709.9 418.9,709.9 419.5,710.0 420.2,710.0 420.9,710.0 421.6,710.1 422.3,710.1 422.9,710.1 423.6,710.1 424.3,710.2 425.0,710.2 425.7,710.2 426.3,710.2 427.0,710.2 427.7,710.3 428.4,710.3 429.1,710.3 429.7,710.3 430.4,710.3 431.1,710.3 431.8,710.4 432.5,710.4 433.1,710.4 433.8,710.4 434.5,710.4 435.2,710.4 435.9,710.4 436.5,710.4 437.2,710.4 437.9,710.5 438.6,710.5 439.3,710.5 439.9,710.5 440.6,710.5 441.3,710.5 442.0,710.5 442.7,710.5 443.3,710.5 444.0,710.5 444.7,710.5 445.4,710.5 446.1,710.5 446.7,710.5 447.4,710.6 448.1,710.6 448.8,710.6 449.5,710.6 450.2,710.6 450.8,710.6 451.5,710.6 452.2,710.6 452.9,710.6 453.6,710.6 454.2,710.6 454.9,710.6 455.6,710.6 456.3,710.6 457.0,710.6 457.6,710.6 458.3,710.6 459.0,710.6 459.7,710.6 460.4,710.6 461.0,710.6 461.7,710.6 462.4,710.6 463.1,710.6 463.8,710.6 464.4,710.7 465.1,710.7 465.8,710.7 466.5,710.7 467.2,710.7 467.8,710.7 468.5,710.7 469.2,710.7 469.9,710.7 470.6,710.7 471.2,710.7 471.9,710.7 472.6,710.7 473.3,710.7 474.0,710.7 474.6,710.7 475.3,710.7 476.0,710.7 476.7,710.7 477.4,710.7 478.0,710.7 478.7,710.7 479.4,710.7 480.1,710.7 480.8,710.7 481.4,710.7 482.1,710.7 482.8,710.7 483.5,710.7 484.2,710.7 484.8,710.7 485.5,710.7 486.2,710.7 486.9,710.7 487.6,710.7 488.3,710.7 488.9,710.7 489.6,710.7 490.3,710.7 491.0,710.7 491.7,710.7 492.3,710.7 493.0,710.7 493.7,710.7 494.4,710.7 495.1,710.7 495.7,710.7 496.4,710.7 497.1,710.7 497.8,710.7 498.5,710.7 499.1,710.7 499.8,710.7 500.5,710.7 501.2,710.7 501.9,710.7 502.5,710.7 503.2,710.7 503.9,710.7" stroke="#2aae78"/>
</g>
<g fill="none" stroke-width="1.05">
<path d="M37.9,789.7 38.7,789.6 39.4,788.9 40.2,789.3 40.9,788.9 41.7,788.6 42.4,788.9 43.2,789.7 44.0,789.1 44.7,789.3 45.5,788.6 46.2,788.7 47.0,788.4 47.7,787.7 48.5,787.2 49.2,787.7 50.0,787.2 50.8,787.2 51.5,787.2 52.3,787.1 53.0,787.2 53.8,786.4 54.5,786.0 55.3,785.6 56.1,785.4 56.8,785.2 57.6,784.9 58.3,784.7 59.1,784.4 59.8,784.3 60.6,783.7 61.3,783.0 62.1,782.4 62.9,781.9 63.6,780.9 64.4,780.7 65.1,780.0 65.9,779.6 66.6,779.1 67.4,778.4 68.2,778.1 68.9,777.6 69.7,776.3 70.4,775.3 71.2,774.5 71.9,774.5 72.7,774.1 73.4,773.9 74.2,773.7 75.0,773.7 75.7,773.4 76.5,773.5 77.2,772.8 78.0,772.2 78.7,771.3 79.5,770.8 80.3,770.7 81.0,770.5 81.8,769.0 82.5,768.9 83.3,768.2 84.0,768.1 84.8,768.2 85.5,767.3 86.3,766.5 87.1,766.4 87.8,765.9 88.6,765.9 89.3,764.8 90.1,763.7 90.8,764.0 91.6,764.0 92.4,764.1 93.1,763.7 93.9,763.7 94.6,763.8 95.4,763.3 96.1,762.4 96.9,761.8 97.6,761.2 98.4,761.2 99.2,760.6 99.9,760.2 100.7,760.1 101.4,759.9 102.2,760.2 102.9,760.2 103.7,759.6 104.5,759.8 105.2,759.9 106.0,760.3 106.7,760.4 107.5,759.6 108.2,759.9 109.0,760.1 109.7,760.2 110.5,759.7 111.3,760.2 112.0,759.7 112.8,760.4 113.5,760.2 114.3,759.9 115.0,759.9 115.8,760.0 116.6,758.6 117.3,758.6 118.1,758.5 118.8,759.2 119.6,758.9 120.3,758.6 121.1,759.1 121.8,760.0 122.6,760.2 123.4,759.7 124.1,758.5 124.9,758.7 125.6,758.6 126.4,757.5 127.1,756.9 127.9,757.1 128.7,757.4 129.4,757.7 130.2,757.8 130.9,757.6 131.7,758.6 132.4,759.5 133.2,760.1 133.9,760.4 134.7,760.8 135.5,761.4 136.2,762.3 137.0,762.5 137.7,762.5 138.5,761.9 139.2,761.4 140.0,761.6 140.8,761.4 141.5,761.1 142.3,760.6 143.0,760.1 143.8,760.9 144.5,761.7 145.3,761.3 146.0,761.6 146.8,761.9 147.6,762.5 148.3,763.7 149.1,763.5 149.8,763.2 150.6,763.7 151.3,763.6 152.1,763.9 152.9,764.0 153.6,763.6 154.4,763.7 155.1,764.4 155.9,764.4 156.6,764.9 157.4,764.9 158.1,764.7 158.9,764.9 159.7,765.0 160.4,765.5 161.2,766.0 161.9,766.1 162.7,766.4 163.4,766.8 164.2,766.1 165.0,766.8 165.7,766.2 166.5,766.5 167.2,766.3 168.0,766.3 168.7,766.4 169.5,766.9 170.2,766.6 171.0,767.1 171.8,766.8 172.5,766.7 173.3,766.7 174.0,766.9 174.8,767.6 175.5,768.0 176.3,768.1 177.1,768.0 177.8,768.7 178.6,769.0 179.3,768.9 180.1,768.9 180.8,768.9 181.6,769.1 182.3,769.1 183.1,768.7 183.9,768.2 184.6,768.4 185.4,768.2 186.1,768.4 186.9,768.3 187.6,768.6 188.4,769.4" stroke="#f6d822"/>
<path d="M37.9,789.1 38.7,789.3 39.4,789.5 40.2,789.4 40.9,789.8 41.7,790.0 42.4,789.3 43.2,789.0 44.0,788.9 44.7,789.1 45.5,789.0 46.2,788.5 47.0,787.6 47.7,787.8 48.5,787.4 49.2,786.8 50.0,786.2 50.8,786.0 51.5,785.8 52.3,785.8 53.0,785.2 53.8,785.2 54.5,784.8 55.3,784.5 56.1,784.0 56.8,783.9 57.6,783.7 58.3,783.7 59.1,783.7 59.8,784.1 60.6,784.0 61.3,783.9 62.1,783.2 62.9,783.1 63.6,781.9 64.4,781.1 65.1,780.5 65.9,779.4 66.6,778.9 67.4,778.1 68.2,776.9 68.9,776.8 69.7,776.6 70.4,776.2 71.2,775.8 71.9,775.3 72.7,775.3 73.4,775.2 74.2,774.2 75.0,773.4 75.7,773.1 76.5,772.4 77.2,772.1 78.0,771.4 78.7,771.2 79.5,771.0 80.3,770.8 81.0,769.3 81.8,769.2 82.5,769.0 83.3,768.2 84.0,767.8 84.8,767.3 85.5,766.7 86.3,765.9 87.1,765.7 87.8,764.5 88.6,764.2 89.3,762.8 90.1,762.1 90.8,761.9 91.6,762.1 92.4,761.5 93.1,761.2 93.9,761.0 94.6,760.8 95.4,760.8 96.1,761.0 96.9,761.1 97.6,760.8 98.4,760.6 99.2,760.8 99.9,761.3 100.7,760.6 101.4,759.3 102.2,759.7 102.9,759.7 103.7,759.9 104.5,759.8 105.2,759.8 106.0,760.6 106.7,761.0 107.5,761.0 108.2,760.9 109.0,760.7 109.7,760.4 110.5,760.0 111.3,759.7 112.0,759.7 112.8,759.2 113.5,758.2 114.3,758.3 115.0,758.8 115.8,759.0 116.6,759.0 117.3,758.9 118.1,759.2 118.8,760.2 119.6,760.3 120.3,760.6 121.1,760.3 121.8,760.7 122.6,760.9 123.4,760.6 124.1,760.4 124.9,760.3 125.6,760.2 126.4,759.9 127.1,759.8 127.9,759.5 128.7,759.4 129.4,759.7 130.2,759.4 130.9,759.4 131.7,759.7 132.4,760.0 133.2,760.1 133.9,760.5 134.7,761.2 135.5,761.8 136.2,761.3 137.0,761.7 137.7,761.4 138.5,761.8 139.2,761.7 140.0,760.9 140.8,761.2 141.5,761.5 142.3,761.3 143.0,761.7 143.8,761.9 144.5,763.0 145.3,763.3 146.0,763.1 146.8,763.2 147.6,763.7 148.3,763.4 149.1,763.3 149.8,763.1 150.6,763.0 151.3,763.9 152.1,764.3 152.9,764.1 153.6,765.0 154.4,765.5 155.1,764.9 155.9,765.5 156.6,765.6 157.4,765.9 158.1,766.7 158.9,766.9 159.7,767.2 160.4,767.8 161.2,767.8 161.9,767.1 162.7,767.0 163.4,767.3 164.2,766.3 165.0,766.8 165.7,766.9 166.5,766.7 167.2,767.3 168.0,768.0 168.7,767.4 169.5,768.3 170.2,768.3 171.0,768.1 171.8,768.6 172.5,768.8 173.3,768.2 174.0,768.7 174.8,768.4 175.5,767.9 176.3,767.9 177.1,767.9 177.8,767.6 178.6,767.7 179.3,767.2 180.1,766.9 180.8,766.9 181.6,767.6 182.3,767.2 183.1,767.9 183.9,768.2 184.6,768.7 185.4,768.8 186.1,769.7 186.9,769.1 187.6,769.5 188.4,769.6" stroke="#f8d01e"/>
<path d="M37.9,789.4 38.7,789.2 39.4,789.5 40.2,789.1 40.9,788.3 41.7,788.9 42.4,788.7 43.2,789.1 44.0,788.8 44.7,788.6 45.5,789.0 46.2,789.0 47.0,788.9 47.7,788.2 48.5,788.3 49.2,788.2 50.0,788.0 50.8,787.3 51.5,786.9 52.3,786.2 53.0,785.9 53.8,785.0 54.5,784.9 55.3,784.6 56.1,785.0 56.8,784.4 57.6,784.4 58.3,784.3 59.1,784.1 59.8,783.1 60.6,782.8 61.3,782.1 62.1,782.1 62.9,781.0 63.6,780.9 64.4,779.9 65.1,780.3 65.9,779.8 66.6,779.1 67.4,778.9 68.2,778.3 68.9,777.3 69.7,777.2 70.4,776.5 71.2,775.9 71.9,775.9 72.7,775.0 73.4,775.0 74.2,774.3 75.0,773.7 75.7,773.4 76.5,772.6 77.2,772.0 78.0,770.8 78.7,770.1 79.5,769.5 80.3,769.5 81.0,768.2 81.8,767.9 82.5,767.6 83.3,767.9 84.0,767.7 84.8,767.8 85.5,766.8 86.3,766.9 87.1,766.2 87.8,765.2 88.6,763.7 89.3,762.9 90.1,762.2 90.8,761.1 91.6,759.8 92.4,759.2 93.1,759.0 93.9,759.4 94.6,758.5 95.4,758.0 96.1,757.8 96.9,758.1 97.6,757.3 98.4,757.3 99.2,756.8 99.9,757.4 100.7,757.3 101.4,757.4 102.2,757.6 102.9,758.4 103.7,758.1 104.5,758.6 105.2,758.7 106.0,758.7 106.7,759.5 107.5,759.4 108.2,759.7 109.0,760.3 109.7,760.5 110.5,761.0 111.3,761.8 112.0,761.6 112.8,761.6 113.5,762.2 114.3,762.5 115.0,762.2 115.8,762.2 116.6,761.7 117.3,761.3 118.1,761.9 118.8,761.5 119.6,761.2 120.3,761.8 121.1,762.1 121.8,762.0 122.6,762.2 123.4,761.3 124.1,761.3 124.9,761.1 125.6,760.8 126.4,760.4 127.1,760.4 127.9,760.6 128.7,760.7 129.4,761.1 130.2,761.1 130.9,761.2 131.7,761.0 132.4,761.2 133.2,761.5 133.9,761.9 134.7,761.3 135.5,762.2 136.2,762.0 137.0,762.5 137.7,762.5 138.5,762.3 139.2,762.9 140.0,763.4 140.8,763.0 141.5,762.6 142.3,762.7 143.0,763.1 143.8,763.7 144.5,763.4 145.3,763.8 146.0,763.9 146.8,764.9 147.6,765.3 148.3,765.5 149.1,765.2 149.8,765.5 150.6,765.1 151.3,764.6 152.1,764.7 152.9,764.1 153.6,763.8 154.4,763.6 155.1,763.4 155.9,763.6 156.6,764.4 157.4,764.3 158.1,764.7 158.9,764.7 159.7,766.0 160.4,766.3 161.2,766.6 161.9,767.2 162.7,767.0 163.4,766.7 164.2,766.8 165.0,766.3 165.7,766.2 166.5,766.2 167.2,765.7 168.0,765.9 168.7,766.6 169.5,766.5 170.2,766.9 171.0,767.3 171.8,768.1 172.5,768.4 173.3,768.8 174.0,768.9 174.8,769.4 175.5,769.0 176.3,768.5 177.1,768.3 177.8,768.5 178.6,768.5 179.3,768.3 180.1,768.2 180.8,768.8 181.6,769.6 182.3,769.1 183.1,768.6 183.9,768.6 184.6,768.8 185.4,769.2 186.1,769.2 186.9,768.8 187.6,768.8 188.4,769.1" stroke="#f8c41e"/>
<path d="M37.9,788.7 38.7,788.4 39.4,788.1 40.2,787.9 40.9,787.3 41.7,787.6 42.4,787.0 43.2,786.8 44.0,787.2 44.7,787.5 45.5,788.0 46.2,788.1 47.0,788.3 47.7,788.1 48.5,788.1 49.2,788.2 50.0,788.0 50.8,787.4 51.5,786.9 52.3,786.3 53.0,786.9 53.8,786.6 54.5,786.2 55.3,785.6 56.1,784.9 56.8,785.4 57.6,784.9 58.3,783.7 59.1,783.7 59.8,783.4 60.6,783.1 61.3,783.3 62.1,782.4 62.9,781.9 63.6,782.3 64.4,780.8 65.1,779.7 65.9,778.8 66.6,778.0 67.4,777.6 68.2,777.1 68.9,776.7 69.7,775.9 70.4,775.2 71.2,775.2 71.9,775.1 72.7,774.6 73.4,774.7 74.2,773.5 75.0,773.5 75.7,772.5 76.5,771.8 77.2,771.0 78.0,770.1 78.7,768.8 79.5,769.0 80.3,768.7 81.0,769.0 81.8,768.2 82.5,767.3 83.3,766.6 84.0,766.1 84.8,765.2 85.5,764.1 86.3,762.7 87.1,762.0 87.8,761.3 88.6,760.2 89.3,759.3 90.1,758.1 90.8,757.8 91.6,757.7 92.4,757.4 93.1,757.2 93.9,757.3 94.6,757.1 95.4,757.5 96.1,757.3 96.9,757.2 97.6,757.3 98.4,756.9 99.2,757.1 99.9,757.5 100.7,757.3 101.4,757.9 102.2,758.1 102.9,758.1 103.7,758.7 104.5,759.0 105.2,759.3 106.0,759.7 106.7,759.6 107.5,759.3 108.2,759.7 109.0,760.2 109.7,760.2 110.5,760.6 111.3,761.2 112.0,761.2 112.8,761.0 113.5,761.6 114.3,762.0 115.0,761.8 115.8,761.8 116.6,761.7 117.3,761.4 118.1,762.1 118.8,762.3 119.6,762.0 120.3,762.6 121.1,762.9 121.8,762.7 122.6,762.7 123.4,763.3 124.1,762.7 124.9,762.7 125.6,763.1 126.4,762.8 127.1,763.1 127.9,763.5 128.7,763.3 129.4,764.3 130.2,764.1 130.9,763.4 131.7,763.4 132.4,763.1 133.2,763.4 133.9,763.2 134.7,762.6 135.5,762.9 136.2,763.5 137.0,763.9 137.7,763.9 138.5,764.0 139.2,764.2 140.0,763.8 140.8,763.6 141.5,763.6 142.3,763.1 143.0,764.0 143.8,764.2 144.5,765.3 145.3,765.7 146.0,766.1 146.8,767.1 147.6,767.2 148.3,767.7 149.1,766.8 149.8,765.7 150.6,766.5 151.3,767.3 152.1,766.8 152.9,766.9 153.6,766.3 154.4,767.7 155.1,768.2 155.9,768.2 156.6,767.5 157.4,767.8 158.1,768.5 158.9,769.7 159.7,769.8 160.4,770.0 161.2,769.5 161.9,769.4 162.7,768.4 163.4,768.2 164.2,767.9 165.0,767.7 165.7,766.7 166.5,767.1 167.2,767.5 168.0,768.1 168.7,768.6 169.5,768.3 170.2,768.8 171.0,769.4 171.8,769.5 172.5,769.2 173.3,769.7 174.0,768.7 174.8,768.8 175.5,768.4 176.3,768.7 177.1,768.2 177.8,768.8 178.6,767.9 179.3,767.9 180.1,767.2 180.8,767.8 181.6,767.8 182.3,768.1 183.1,768.1 183.9,769.5 184.6,769.9 185.4,769.9 186.1,768.9 186.9,768.8 187.6,769.6 188.4,769.4" stroke="#f8b420"/>
<path d="M37.9,789.4 38.7,789.0 39.4,788.8 40.2,789.1 40.9,789.1 41.7,789.4 42.4,789.2 43.2,789.0 44.0,789.1 44.7,788.7 45.5,788.2 46.2,788.4 47.0,787.0 47.7,787.2 48.5,787.3 49.2,787.6 50.0,787.3 50.8,786.9 51.5,786.7 52.3,787.5 53.0,787.5 53.8,787.0 54.5,786.1 55.3,786.3 56.1,785.7 56.8,785.2 57.6,785.0 58.3,784.3 59.1,783.8 59.8,783.4 60.6,782.7 61.3,782.8 62.1,782.2 62.9,781.3 63.6,780.1 64.4,779.4 65.1,778.7 65.9,777.9 66.6,777.1 67.4,776.1 68.2,775.6 68.9,775.4 69.7,775.4 70.4,775.1 71.2,775.0 71.9,774.4 72.7,773.9 73.4,773.0 74.2,772.6 75.0,772.1 75.7,771.8 76.5,771.0 77.2,770.5 78.0,770.3 78.7,769.8 79.5,768.5 80.3,767.5 81.0,765.9 81.8,764.3 82.5,763.2 83.3,761.7 84.0,760.7 84.8,759.8 85.5,758.5 86.3,757.4 87.1,756.7 87.8,756.0 88.6,755.5 89.3,754.9 90.1,754.9 90.8,754.4 91.6,754.4 92.4,754.7 93.1,754.6 93.9,754.9 94.6,754.7 95.4,755.0 96.1,755.6 96.9,756.4 97.6,756.7 98.4,757.4 99.2,757.4 99.9,758.2 100.7,757.9 101.4,758.8 102.2,759.3 102.9,759.9 103.7,760.5 104.5,761.3 105.2,761.8 106.0,762.8 106.7,762.8 107.5,763.2 108.2,763.4 109.0,763.4 109.7,763.5 110.5,763.5 111.3,763.2 112.0,763.5 112.8,763.5 113.5,763.1 114.3,763.1 115.0,764.3 115.8,764.6 116.6,764.9 117.3,765.2 118.1,765.0 118.8,765.7 119.6,765.8 120.3,764.5 121.1,764.9 121.8,765.1 122.6,765.3 123.4,765.5 124.1,765.8 124.9,765.8 125.6,767.0 126.4,767.0 127.1,767.4 127.9,767.0 128.7,766.6 129.4,766.2 130.2,766.3 130.9,765.5 131.7,765.0 132.4,764.4 133.2,764.1 133.9,764.4 134.7,764.7 135.5,764.7 136.2,764.9 137.0,765.1 137.7,765.4 138.5,765.9 139.2,766.3 140.0,766.3 140.8,766.4 141.5,766.3 142.3,766.5 143.0,767.0 143.8,767.5 144.5,766.9 145.3,767.1 146.0,767.1 146.8,767.5 147.6,767.0 148.3,766.2 149.1,765.8 149.8,766.6 150.6,766.2 151.3,766.5 152.1,766.7 152.9,767.5 153.6,768.3 154.4,768.2 155.1,768.2 155.9,768.0 156.6,768.0 157.4,768.1 158.1,768.1 158.9,767.6 159.7,768.0 160.4,768.4 161.2,768.8 161.9,768.6 162.7,768.5 163.4,768.2 164.2,768.3 165.0,768.6 165.7,768.5 166.5,769.2 167.2,769.2 168.0,768.7 168.7,768.8 169.5,768.8 170.2,768.3 171.0,768.2 171.8,768.2 172.5,768.2 173.3,769.0 174.0,768.6 174.8,768.8 175.5,768.9 176.3,768.2 177.1,767.4 177.8,767.3 178.6,766.8 179.3,767.3 180.1,767.4 180.8,767.4 181.6,767.6 182.3,768.1 183.1,768.7 183.9,768.8 184.6,768.5 185.4,768.6 186.1,768.8 186.9,769.5 187.6,769.4 188.4,769.1" stroke="#f7a024"/>
<path d="M37.9,788.2 38.7,787.7 39.4,787.4 40.2,787.6 40.9,787.3 41.7,787.3 42.4,787.1 43.2,787.5 44.0,787.6 44.7,788.0 45.5,788.7 46.2,788.6 47.0,788.3 47.7,788.2 48.5,787.5 49.2,787.8 50.0,787.7 50.8,786.9 51.5,786.6 52.3,786.7 53.0,787.2 53.8,786.8 54.5,786.6 55.3,786.2 56.1,786.0 56.8,785.8 57.6,785.1 58.3,784.1 59.1,784.2 59.8,782.9 60.6,782.2 61.3,781.7 62.1,780.9 62.9,780.4 63.6,779.6 64.4,778.9 65.1,778.8 65.9,778.0 66.6,777.8 67.4,777.2 68.2,776.1 68.9,775.3 69.7,774.5 70.4,772.9 71.2,772.5 71.9,771.4 72.7,771.1 73.4,770.7 74.2,770.7 75.0,769.6 75.7,769.4 76.5,768.0 77.2,766.6 78.0,764.9 78.7,763.6 79.5,762.5 80.3,761.4 81.0,760.0 81.8,759.1 82.5,757.9 83.3,756.1 84.0,755.1 84.8,753.1 85.5,751.6 86.3,751.0 87.1,750.3 87.8,750.1 88.6,751.0 89.3,750.8 90.1,751.0 90.8,751.7 91.6,752.5 92.4,753.3 93.1,754.4 93.9,755.2 94.6,755.7 95.4,757.0 96.1,757.3 96.9,757.7 97.6,758.7 98.4,759.0 99.2,759.0 99.9,760.0 100.7,760.4 101.4,761.5 102.2,761.8 102.9,762.2 103.7,762.6 104.5,763.0 105.2,763.4 106.0,764.3 106.7,764.2 107.5,764.2 108.2,763.8 109.0,764.6 109.7,765.0 110.5,765.4 111.3,765.2 112.0,765.5 112.8,765.9 113.5,767.1 114.3,767.1 115.0,767.7 115.8,767.4 116.6,767.8 117.3,768.1 118.1,768.2 118.8,767.9 119.6,767.3 120.3,767.4 121.1,767.5 121.8,767.1 122.6,766.6 123.4,766.7 124.1,766.7 124.9,766.5 125.6,766.4 126.4,766.6 127.1,767.0 127.9,767.7 128.7,767.5 129.4,767.7 130.2,768.2 130.9,768.1 131.7,767.8 132.4,767.6 133.2,767.6 133.9,767.6 134.7,767.3 135.5,767.1 136.2,767.0 137.0,767.0 137.7,767.0 138.5,767.0 139.2,767.3 140.0,767.4 140.8,767.6 141.5,768.2 142.3,768.2 143.0,768.3 143.8,768.1 144.5,768.0 145.3,768.1 146.0,768.2 146.8,768.1 147.6,768.4 148.3,768.7 149.1,769.3 149.8,769.6 150.6,769.8 151.3,769.7 152.1,769.2 152.9,769.0 153.6,768.7 154.4,767.7 155.1,768.0 155.9,768.0 156.6,767.8 157.4,768.2 158.1,768.2 158.9,768.1 159.7,768.9 160.4,768.8 161.2,768.2 161.9,768.7 162.7,768.9 163.4,769.2 164.2,769.1 165.0,769.0 165.7,769.1 166.5,769.7 167.2,769.6 168.0,769.2 168.7,769.1 169.5,769.3 170.2,769.3 171.0,768.5 171.8,768.6 172.5,769.1 173.3,769.5 174.0,769.4 174.8,769.2 175.5,768.8 176.3,768.7 177.1,768.3 177.8,767.6 178.6,767.8 179.3,768.7 180.1,768.9 180.8,769.2 181.6,769.6 182.3,769.6 183.1,770.1 183.9,769.9 184.6,769.4 185.4,769.0 186.1,768.7 186.9,768.6 187.6,768.7 188.4,768.1" stroke="#f68a26"/>
<path d="M37.9,787.2 38.7,787.2 39.4,786.3 40.2,786.7 40.9,786.9 41.7,787.5 42.4,786.4 43.2,786.7 44.0,786.6 44.7,787.4 45.5,786.9 46.2,787.5 47.0,787.3 47.7,787.8 48.5,787.3 49.2,786.9 50.0,786.6 50.8,787.0 51.5,786.5 52.3,786.4 53.0,785.9 53.8,785.7 54.5,785.8 55.3,785.2 56.1,784.8 56.8,784.5 57.6,784.1 58.3,783.7 59.1,783.3 59.8,782.8 60.6,782.7 61.3,782.3 62.1,782.0 62.9,780.8 63.6,780.4 64.4,779.7 65.1,778.4 65.9,777.1 66.6,775.9 67.4,774.5 68.2,773.9 68.9,773.0 69.7,772.2 70.4,771.3 71.2,770.5 71.9,769.6 72.7,767.5 73.4,765.8 74.2,763.4 75.0,761.0 75.7,759.1 76.5,757.8 77.2,756.0 78.0,755.0 78.7,753.8 79.5,752.8 80.3,751.2 81.0,750.5 81.8,749.4 82.5,748.8 83.3,748.1 84.0,747.6 84.8,747.4 85.5,748.5 86.3,748.1 87.1,748.3 87.8,749.2 88.6,750.4 89.3,751.6 90.1,753.4 90.8,754.2 91.6,755.0 92.4,756.1 93.1,756.0 93.9,756.7 94.6,758.0 95.4,758.0 96.1,759.2 96.9,761.3 97.6,761.7 98.4,762.5 99.2,763.8 99.9,763.8 100.7,764.6 101.4,764.4 102.2,764.0 102.9,764.3 103.7,765.9 104.5,765.4 105.2,765.5 106.0,765.6 106.7,766.0 107.5,766.9 108.2,766.8 109.0,766.2 109.7,766.9 110.5,767.4 111.3,768.0 112.0,768.1 112.8,767.8 113.5,768.1 114.3,768.7 115.0,768.0 115.8,768.5 116.6,769.0 117.3,769.3 118.1,769.1 118.8,769.8 119.6,769.1 120.3,769.6 121.1,769.1 121.8,768.9 122.6,768.6 123.4,768.5 124.1,768.3 124.9,768.6 125.6,768.7 126.4,769.5 127.1,768.8 127.9,768.9 128.7,769.2 129.4,769.4 130.2,769.1 130.9,769.0 131.7,768.6 132.4,768.9 133.2,768.9 133.9,768.9 134.7,768.3 135.5,768.9 136.2,769.2 137.0,769.0 137.7,769.6 138.5,770.0 139.2,770.1 140.0,770.1 140.8,770.5 141.5,770.0 142.3,770.3 143.0,770.4 143.8,769.5 144.5,769.3 145.3,769.0 146.0,768.4 146.8,769.0 147.6,768.6 148.3,768.4 149.1,769.4 149.8,769.4 150.6,769.8 151.3,769.6 152.1,769.5 152.9,769.6 153.6,770.0 154.4,770.2 155.1,769.9 155.9,770.1 156.6,770.4 157.4,770.2 158.1,770.3 158.9,769.6 159.7,769.4 160.4,769.9 161.2,769.8 161.9,769.4 162.7,769.5 163.4,768.8 164.2,769.1 165.0,768.8 165.7,768.2 166.5,768.2 167.2,769.0 168.0,768.7 168.7,768.9 169.5,768.6 170.2,768.6 171.0,769.5 171.8,769.3 172.5,768.8 173.3,768.9 174.0,769.5 174.8,769.6 175.5,769.1 176.3,768.7 177.1,769.2 177.8,768.8 178.6,768.1 179.3,767.4 180.1,767.3 180.8,767.8 181.6,767.4 182.3,767.4 183.1,767.3 183.9,767.5 184.6,767.9 185.4,767.7 186.1,767.9 186.9,768.4 187.6,767.9 188.4,767.9" stroke="#f4702a"/>
<path d="M37.9,785.0 38.7,785.5 39.4,785.5 40.2,785.4 40.9,785.6 41.7,785.7 42.4,785.9 43.2,786.0 44.0,785.9 44.7,785.3 45.5,785.1 46.2,784.6 47.0,784.5 47.7,783.9 48.5,783.8 49.2,783.8 50.0,784.3 50.8,784.1 51.5,783.0 52.3,782.8 53.0,783.0 53.8,783.0 54.5,782.8 55.3,782.2 56.1,782.5 56.8,782.1 57.6,781.0 58.3,779.8 59.1,778.7 59.8,778.0 60.6,777.3 61.3,775.5 62.1,775.2 62.9,774.6 63.6,774.1 64.4,772.9 65.1,772.1 65.9,770.5 66.6,769.6 67.4,768.4 68.2,767.0 68.9,764.9 69.7,762.6 70.4,759.9 71.2,757.5 71.9,755.5 72.7,753.6 73.4,751.1 74.2,749.5 75.0,748.0 75.7,746.9 76.5,745.7 77.2,744.7 78.0,743.8 78.7,744.1 79.5,743.8 80.3,743.5 81.0,743.3 81.8,743.6 82.5,743.7 83.3,744.3 84.0,744.3 84.8,745.8 85.5,747.4 86.3,749.6 87.1,751.1 87.8,752.4 88.6,754.1 89.3,755.4 90.1,757.3 90.8,759.0 91.6,759.7 92.4,761.0 93.1,762.3 93.9,762.8 94.6,763.8 95.4,764.2 96.1,765.0 96.9,765.8 97.6,767.0 98.4,767.4 99.2,767.9 99.9,768.9 100.7,769.4 101.4,770.0 102.2,770.6 102.9,770.1 103.7,771.0 104.5,771.0 105.2,771.2 106.0,771.3 106.7,771.4 107.5,770.6 108.2,771.3 109.0,771.0 109.7,771.7 110.5,772.0 111.3,772.5 112.0,772.2 112.8,773.0 113.5,772.7 114.3,772.8 115.0,772.5 115.8,772.2 116.6,772.3 117.3,772.1 118.1,772.2 118.8,772.6 119.6,772.6 120.3,772.1 121.1,771.8 121.8,771.2 122.6,771.1 123.4,771.1 124.1,770.8 124.9,770.8 125.6,771.3 126.4,771.4 127.1,771.7 127.9,772.2 128.7,772.2 129.4,772.4 130.2,772.7 130.9,772.5 131.7,772.8 132.4,773.1 133.2,772.9 133.9,773.2 134.7,773.3 135.5,773.2 136.2,773.8 137.0,773.2 137.7,773.1 138.5,773.0 139.2,772.6 140.0,771.8 140.8,771.9 141.5,771.7 142.3,771.8 143.0,771.9 143.8,771.9 144.5,771.7 145.3,771.9 146.0,771.7 146.8,771.2 147.6,771.3 148.3,770.7 149.1,770.5 149.8,770.5 150.6,770.6 151.3,770.8 152.1,770.7 152.9,770.8 153.6,770.7 154.4,771.1 155.1,771.1 155.9,771.0 156.6,770.1 157.4,769.8 158.1,769.3 158.9,769.1 159.7,768.5 160.4,767.9 161.2,767.8 161.9,768.0 162.7,767.6 163.4,768.0 164.2,767.6 165.0,767.2 165.7,766.8 166.5,766.6 167.2,766.4 168.0,766.8 168.7,766.3 169.5,766.5 170.2,767.2 171.0,767.1 171.8,767.0 172.5,767.6 173.3,767.6 174.0,768.0 174.8,767.9 175.5,767.7 176.3,767.9 177.1,767.9 177.8,767.8 178.6,767.3 179.3,766.9 180.1,766.6 180.8,767.1 181.6,766.8 182.3,767.4 183.1,766.7 183.9,767.6 184.6,768.4 185.4,768.7 186.1,768.6 186.9,768.5 187.6,768.0 188.4,768.7" stroke="#f2462a"/>
<path d="M37.9,785.4 38.7,785.6 39.4,784.9 40.2,785.1 40.9,784.8 41.7,785.3 42.4,784.4 43.2,784.2 44.0,784.2 44.7,784.5 45.5,784.4 46.2,784.9 47.0,784.7 47.7,784.0 48.5,784.0 49.2,783.7 50.0,782.8 50.8,782.4 51.5,781.2 52.3,781.1 53.0,781.1 53.8,780.5 54.5,779.2 55.3,779.2 56.1,778.4 56.8,777.9 57.6,777.0 58.3,776.1 59.1,775.1 59.8,773.9 60.6,772.8 61.3,771.4 62.1,770.1 62.9,768.4 63.6,767.7 64.4,766.8 65.1,765.7 65.9,763.3 66.6,761.0 67.4,759.4 68.2,756.9 68.9,753.8 69.7,751.4 70.4,749.1 71.2,747.5 71.9,745.2 72.7,742.9 73.4,741.5 74.2,740.3 75.0,739.4 75.7,738.6 76.5,738.0 77.2,737.9 78.0,738.3 78.7,739.0 79.5,739.7 80.3,740.9 81.0,742.3 81.8,744.6 82.5,747.0 83.3,749.1 84.0,750.5 84.8,752.1 85.5,753.0 86.3,754.4 87.1,755.2 87.8,757.2 88.6,758.7 89.3,761.4 90.1,762.8 90.8,764.3 91.6,765.3 92.4,767.2 93.1,767.5 93.9,768.9 94.6,769.5 95.4,769.5 96.1,769.8 96.9,770.3 97.6,770.2 98.4,770.5 99.2,770.3 99.9,770.2 100.7,771.1 101.4,772.0 102.2,772.8 102.9,773.6 103.7,774.7 104.5,774.5 105.2,774.9 106.0,774.7 106.7,774.1 107.5,774.4 108.2,773.9 109.0,773.2 109.7,773.8 110.5,773.3 111.3,773.4 112.0,773.6 112.8,773.0 113.5,773.4 114.3,773.7 115.0,773.3 115.8,774.0 116.6,774.4 117.3,774.2 118.1,774.6 118.8,774.4 119.6,774.2 120.3,775.1 121.1,774.8 121.8,774.7 122.6,775.4 123.4,774.9 124.1,775.3 124.9,775.8 125.6,774.9 126.4,773.9 127.1,774.0 127.9,773.8 128.7,774.2 129.4,774.0 130.2,773.8 130.9,774.3 131.7,775.3 132.4,775.0 133.2,775.3 133.9,775.2 134.7,774.9 135.5,774.7 136.2,774.6 137.0,774.2 137.7,774.3 138.5,773.4 139.2,773.8 140.0,773.8 140.8,773.8 141.5,773.2 142.3,773.5 143.0,773.2 143.8,773.0 144.5,772.8 145.3,772.8 146.0,772.9 146.8,773.3 147.6,772.0 148.3,771.9 149.1,772.9 149.8,772.6 150.6,772.6 151.3,772.3 152.1,772.2 152.9,772.4 153.6,772.5 154.4,771.7 155.1,771.3 155.9,770.8 156.6,770.5 157.4,769.9 158.1,769.4 158.9,768.5 159.7,768.1 160.4,767.9 161.2,768.3 161.9,768.0 162.7,767.8 163.4,767.9 164.2,768.4 165.0,768.5 165.7,768.8 166.5,768.1 167.2,768.3 168.0,768.5 168.7,768.1 169.5,768.1 170.2,767.6 171.0,767.1 171.8,767.1 172.5,766.8 173.3,766.2 174.0,766.8 174.8,766.8 175.5,767.0 176.3,766.8 177.1,766.7 177.8,767.3 178.6,767.7 179.3,767.5 180.1,766.9 180.8,767.0 181.6,767.4 182.3,768.2 183.1,767.2 183.9,767.1 184.6,767.6 185.4,768.2 186.1,767.7 186.9,767.7 187.6,767.0 188.4,767.6" stroke="#f1302a"/>
<path d="M37.9,784.3 38.7,784.7 39.4,784.1 40.2,784.4 40.9,784.2 41.7,784.5 42.4,784.9 43.2,784.5 44.0,784.0 44.7,784.1 45.5,784.0 46.2,784.0 47.0,783.5 47.7,782.2 48.5,782.5 49.2,781.5 50.0,780.6 50.8,779.6 51.5,778.9 52.3,778.2 53.0,778.0 53.8,777.2 54.5,776.8 55.3,776.1 56.1,775.7 56.8,774.8 57.6,774.7 58.3,773.3 59.1,771.7 59.8,770.9 60.6,769.7 61.3,768.2 62.1,767.2 62.9,764.0 63.6,762.1 64.4,760.2 65.1,756.9 65.9,755.2 66.6,752.9 67.4,750.4 68.2,749.2 68.9,747.0 69.7,745.1 70.4,742.9 71.2,739.7 71.9,738.1 72.7,737.0 73.4,735.8 74.2,736.1 75.0,735.3 75.7,736.0 76.5,736.7 77.2,737.3 78.0,737.9 78.7,739.5 79.5,740.9 80.3,743.5 81.0,745.4 81.8,747.5 82.5,749.9 83.3,752.0 84.0,754.1 84.8,755.5 85.5,756.1 86.3,758.5 87.1,761.2 87.8,761.7 88.6,762.9 89.3,763.7 90.1,764.4 90.8,766.9 91.6,767.8 92.4,767.6 93.1,769.2 93.9,769.8 94.6,770.7 95.4,772.6 96.1,772.6 96.9,773.1 97.6,774.3 98.4,774.0 99.2,774.3 99.9,773.9 100.7,773.8 101.4,773.8 102.2,773.9 102.9,773.3 103.7,774.1 104.5,774.1 105.2,773.9 106.0,773.2 106.7,774.1 107.5,774.5 108.2,774.7 109.0,774.8 109.7,774.6 110.5,775.1 111.3,775.1 112.0,774.6 112.8,774.8 113.5,774.5 114.3,774.7 115.0,775.2 115.8,775.7 116.6,775.7 117.3,775.5 118.1,775.2 118.8,775.0 119.6,774.7 120.3,774.4 121.1,774.2 121.8,775.0 122.6,775.2 123.4,775.2 124.1,776.1 124.9,775.6 125.6,775.7 126.4,775.6 127.1,775.3 127.9,775.3 128.7,774.9 129.4,775.1 130.2,775.6 130.9,775.2 131.7,775.4 132.4,775.6 133.2,775.3 133.9,775.1 134.7,774.4 135.5,774.5 136.2,774.7 137.0,774.5 137.7,774.3 138.5,774.9 139.2,774.8 140.0,775.5 140.8,775.3 141.5,775.5 142.3,775.4 143.0,775.0 143.8,774.2 144.5,773.4 145.3,773.0 146.0,772.6 146.8,771.8 147.6,771.5 148.3,771.6 149.1,771.7 149.8,772.4 150.6,771.2 151.3,770.8 152.1,770.7 152.9,770.9 153.6,770.4 154.4,770.3 155.1,770.0 155.9,770.5 156.6,769.8 157.4,770.1 158.1,769.8 158.9,769.5 159.7,769.3 160.4,769.4 161.2,769.4 161.9,769.8 162.7,769.4 163.4,768.9 164.2,769.1 165.0,768.9 165.7,768.4 166.5,767.5 167.2,767.0 168.0,767.6 168.7,767.8 169.5,767.5 170.2,767.7 171.0,767.4 171.8,768.1 172.5,768.0 173.3,767.0 174.0,767.1 174.8,766.5 175.5,765.8 176.3,766.1 177.1,765.6 177.8,765.9 178.6,766.0 179.3,765.9 180.1,765.7 180.8,766.0 181.6,765.6 182.3,765.7 183.1,766.3 183.9,766.2 184.6,766.1 185.4,767.6 186.1,767.7 186.9,767.2 187.6,767.1 188.4,766.3" stroke="#f0282a"/>
<path d="M37.9,784.1 38.7,784.4 39.4,784.3 40.2,784.2 40.9,783.9 41.7,783.3 42.4,782.5 43.2,782.3 44.0,780.8 44.7,781.0 45.5,780.3 46.2,780.3 47.0,779.7 47.7,779.5 48.5,779.5 49.2,779.0 50.0,777.9 50.8,777.5 51.5,777.1 52.3,776.8 53.0,775.9 53.8,774.1 54.5,773.4 55.3,772.7 56.1,771.1 56.8,769.4 57.6,768.2 58.3,766.8 59.1,765.6 59.8,763.8 60.6,760.9 61.3,758.4 62.1,755.7 62.9,752.4 63.6,749.8 64.4,747.0 65.1,744.9 65.9,743.1 66.6,740.9 67.4,738.9 68.2,736.7 68.9,734.5 69.7,732.9 70.4,732.6 71.2,732.6 71.9,732.8 72.7,732.8 73.4,733.8 74.2,735.2 75.0,736.7 75.7,737.5 76.5,738.2 77.2,739.9 78.0,742.3 78.7,744.8 79.5,746.5 80.3,748.2 81.0,749.7 81.8,752.6 82.5,755.3 83.3,757.5 84.0,759.2 84.8,761.0 85.5,762.6 86.3,764.2 87.1,764.9 87.8,765.7 88.6,766.8 89.3,768.0 90.1,769.0 90.8,769.6 91.6,770.3 92.4,771.1 93.1,771.8 93.9,772.5 94.6,772.4 95.4,772.7 96.1,773.3 96.9,774.0 97.6,774.9 98.4,775.2 99.2,776.0 99.9,777.1 100.7,777.6 101.4,778.5 102.2,778.0 102.9,777.9 103.7,778.0 104.5,777.6 105.2,776.9 106.0,776.6 106.7,776.1 107.5,776.4 108.2,776.4 109.0,776.2 109.7,777.1 110.5,777.4 111.3,777.4 112.0,776.8 112.8,776.2 113.5,775.9 114.3,776.5 115.0,775.5 115.8,775.3 116.6,775.9 117.3,776.3 118.1,777.2 118.8,777.4 119.6,777.3 120.3,777.5 121.1,777.5 121.8,777.0 122.6,777.4 123.4,777.6 124.1,777.9 124.9,778.2 125.6,778.0 126.4,778.6 127.1,778.2 127.9,778.0 128.7,777.6 129.4,777.3 130.2,776.6 130.9,777.3 131.7,777.0 132.4,777.8 133.2,777.4 133.9,777.5 134.7,777.3 135.5,777.1 136.2,776.3 137.0,776.3 137.7,776.2 138.5,776.3 139.2,775.6 140.0,775.8 140.8,775.7 141.5,775.8 142.3,775.1 143.0,774.4 143.8,774.3 144.5,774.4 145.3,774.0 146.0,773.5 146.8,773.3 147.6,772.8 148.3,772.9 149.1,772.7 149.8,772.5 150.6,771.2 151.3,771.3 152.1,770.3 152.9,770.2 153.6,769.5 154.4,769.4 155.1,768.9 155.9,768.8 156.6,768.1 157.4,768.3 158.1,768.1 158.9,767.9 159.7,767.8 160.4,767.8 161.2,768.1 161.9,767.9 162.7,767.3 163.4,767.1 164.2,767.2 165.0,767.1 165.7,766.8 166.5,766.9 167.2,767.4 168.0,767.4 168.7,767.5 169.5,767.1 170.2,766.5 171.0,766.5 171.8,766.1 172.5,765.2 173.3,765.6 174.0,765.7 174.8,766.1 175.5,766.0 176.3,766.7 177.1,766.4 177.8,766.8 178.6,766.3 179.3,766.4 180.1,766.6 180.8,766.7 181.6,766.5 182.3,767.3 183.1,767.1 183.9,767.3 184.6,767.0 185.4,766.3 186.1,765.7 186.9,764.8 187.6,765.1 188.4,766.0" stroke="#f0222a"/>
</g>
<g fill="none" stroke-width="1.05">
<path d="M354.9,789.4 355.6,789.6 356.4,789.7 357.1,789.6 357.9,790.1 358.6,789.2 359.4,789.1 360.1,789.3 360.9,789.3 361.6,788.6 362.4,789.1 363.1,789.1 363.9,789.3 364.6,789.6 365.4,789.4 366.1,788.7 366.9,788.9 367.6,787.4 368.4,787.5 369.1,787.3 369.9,786.2 370.6,786.4 371.4,786.1 372.1,786.2 372.9,786.0 373.6,785.2 374.4,784.7 375.1,785.2 375.9,785.2 376.6,785.4 377.4,785.2 378.1,785.6 378.9,785.7 379.6,785.6 380.4,784.3 381.1,782.9 381.9,782.8 382.6,783.0 383.4,782.9 384.1,782.2 384.8,782.7 385.6,782.9 386.3,783.1 387.1,782.6 387.8,781.4 388.6,780.7 389.3,779.8 390.1,778.8 390.8,778.1 391.6,777.9 392.3,777.1 393.1,776.0 393.8,775.5 394.6,775.9 395.3,775.1 396.1,774.2 396.8,772.9 397.6,772.2 398.3,772.2 399.1,771.4 399.8,770.9 400.6,770.5 401.3,770.4 402.1,770.9 402.8,771.3 403.6,771.0 404.3,771.0 405.1,770.4 405.8,770.0 406.6,769.0 407.3,768.3 408.1,767.7 408.8,767.5 409.6,766.8 410.3,766.1 411.1,765.7 411.8,765.9 412.6,765.8 413.3,765.8 414.1,765.7 414.8,766.0 415.5,766.2 416.3,766.4 417.0,766.4 417.8,765.8 418.5,765.3 419.3,765.8 420.0,765.9 420.8,765.6 421.5,765.5 422.3,765.3 423.0,765.7 423.8,765.9 424.5,764.8 425.3,764.7 426.0,764.7 426.8,765.4 427.5,765.8 428.3,766.3 429.0,766.1 429.8,766.5 430.5,766.5 431.3,767.1 432.0,766.9 432.8,766.5 433.5,766.1 434.3,766.3 435.0,766.3 435.8,766.1 436.5,766.4 437.3,766.1 438.0,766.3 438.8,766.5 439.5,766.6 440.3,766.7 441.0,767.2 441.8,766.9 442.5,767.2 443.3,767.8 444.0,767.8 444.7,767.6 445.5,767.5 446.2,767.2 447.0,767.2 447.7,766.8 448.5,765.9 449.2,766.0 450.0,765.8 450.7,765.4 451.5,765.8 452.2,765.6 453.0,766.3 453.7,767.0 454.5,766.8 455.2,767.1 456.0,767.8 456.7,767.9 457.5,768.2 458.2,768.2 459.0,768.2 459.7,768.9 460.5,769.0 461.2,769.4 462.0,770.1 462.7,771.0 463.5,771.9 464.2,772.2 465.0,772.7 465.7,773.8 466.5,774.4 467.2,774.1 468.0,774.0 468.7,774.2 469.5,774.4 470.2,774.5 471.0,774.6 471.7,774.3 472.5,774.9 473.2,774.6 474.0,773.9 474.7,774.2 475.4,774.3 476.2,774.1 476.9,774.7 477.7,774.4 478.4,774.8 479.2,775.5 479.9,776.1 480.7,775.7 481.4,776.1 482.2,775.7 482.9,776.3 483.7,776.5 484.4,776.7 485.2,776.7 485.9,776.6 486.7,776.0 487.4,776.5 488.2,776.4 488.9,776.7 489.7,776.5 490.4,776.3 491.2,777.3 491.9,777.6 492.7,776.8 493.4,777.6 494.2,776.7 494.9,776.8 495.7,777.5 496.4,777.2 497.2,777.0 497.9,778.1 498.7,777.0 499.4,777.2 500.2,776.9 500.9,776.9 501.7,777.0 502.4,777.9 503.2,777.4 503.9,777.9" stroke="#f6d822"/>
<path d="M354.9,789.8 355.6,789.8 356.4,789.9 357.1,789.5 357.9,788.9 358.6,789.2 359.4,789.1 360.1,789.2 360.9,789.4 361.6,789.2 362.4,789.4 363.1,789.7 363.9,789.7 364.6,789.5 365.4,789.4 366.1,789.0 366.9,788.8 367.6,787.9 368.4,787.7 369.1,787.2 369.9,787.3 370.6,786.9 371.4,787.0 372.1,786.7 372.9,787.0 373.6,785.9 374.4,785.6 375.1,785.0 375.9,785.1 376.6,784.6 377.4,784.5 378.1,784.6 378.9,784.6 379.6,784.1 380.4,783.9 381.1,783.9 381.9,783.8 382.6,783.8 383.4,782.5 384.1,782.4 384.8,782.7 385.6,782.2 386.3,781.2 387.1,780.3 387.8,779.2 388.6,779.3 389.3,778.5 390.1,777.8 390.8,777.2 391.6,776.4 392.3,775.8 393.1,775.5 393.8,774.3 394.6,773.3 395.3,771.3 396.1,770.7 396.8,770.0 397.6,768.4 398.3,766.9 399.1,766.5 399.8,766.5 400.6,766.9 401.3,766.5 402.1,766.1 402.8,766.2 403.6,766.9 404.3,766.9 405.1,766.5 405.8,766.7 406.6,766.1 407.3,766.1 408.1,766.8 408.8,767.1 409.6,766.9 410.3,767.4 411.1,766.7 411.8,767.1 412.6,767.2 413.3,766.3 414.1,765.8 414.8,766.1 415.5,765.5 416.3,765.8 417.0,766.3 417.8,766.1 418.5,766.2 419.3,766.0 420.0,765.4 420.8,766.0 421.5,766.2 422.3,765.5 423.0,765.8 423.8,767.3 424.5,767.4 425.3,767.6 426.0,767.4 426.8,767.6 427.5,768.0 428.3,768.0 429.0,766.7 429.8,767.2 430.5,767.5 431.3,767.0 432.0,767.2 432.8,767.4 433.5,767.7 434.3,768.1 435.0,768.0 435.8,767.9 436.5,768.0 437.3,767.8 438.0,767.1 438.8,767.3 439.5,767.0 440.3,766.9 441.0,767.2 441.8,768.2 442.5,767.8 443.3,767.9 444.0,767.6 444.7,767.7 445.5,767.6 446.2,767.9 447.0,767.6 447.7,768.6 448.5,768.9 449.2,770.0 450.0,771.1 450.7,771.3 451.5,770.6 452.2,770.4 453.0,770.0 453.7,769.7 454.5,769.1 455.2,768.6 456.0,768.6 456.7,769.8 457.5,770.4 458.2,770.5 459.0,771.6 459.7,771.7 460.5,771.7 461.2,772.3 462.0,772.5 462.7,772.2 463.5,771.9 464.2,772.2 465.0,772.1 465.7,772.6 466.5,773.3 467.2,773.3 468.0,773.2 468.7,773.6 469.5,774.0 470.2,774.6 471.0,774.9 471.7,774.7 472.5,774.8 473.2,775.2 474.0,775.5 474.7,774.2 475.4,773.8 476.2,773.8 476.9,773.5 477.7,773.7 478.4,773.9 479.2,774.4 479.9,775.7 480.7,776.0 481.4,776.1 482.2,775.7 482.9,776.0 483.7,776.1 484.4,776.3 485.2,776.6 485.9,777.3 486.7,777.5 487.4,778.3 488.2,777.6 488.9,777.8 489.7,777.8 490.4,776.8 491.2,776.9 491.9,776.8 492.7,776.8 493.4,777.2 494.2,777.4 494.9,777.9 495.7,778.2 496.4,777.3 497.2,777.5 497.9,777.6 498.7,777.7 499.4,777.2 500.2,777.0 500.9,776.4 501.7,776.7 502.4,776.3 503.2,776.2 503.9,776.1" stroke="#f8d01e"/>
<path d="M354.9,789.5 355.6,789.4 356.4,789.1 357.1,789.2 357.9,790.1 358.6,789.6 359.4,789.6 360.1,789.3 360.9,789.6 361.6,789.8 362.4,789.8 363.1,788.1 363.9,788.1 364.6,787.5 365.4,787.5 366.1,786.8 366.9,786.4 367.6,786.1 368.4,787.4 369.1,786.5 369.9,786.5 370.6,786.5 371.4,786.5 372.1,786.3 372.9,785.5 373.6,784.3 374.4,785.2 375.1,785.4 375.9,785.0 376.6,784.5 377.4,784.3 378.1,784.4 378.9,784.6 379.6,784.1 380.4,783.2 381.1,782.9 381.9,782.4 382.6,782.2 383.4,782.1 384.1,780.9 384.8,780.4 385.6,779.5 386.3,779.1 387.1,778.9 387.8,777.8 388.6,776.8 389.3,776.2 390.1,775.0 390.8,774.3 391.6,773.0 392.3,771.6 393.1,770.7 393.8,769.1 394.6,768.5 395.3,768.1 396.1,767.2 396.8,766.1 397.6,765.8 398.3,765.6 399.1,765.5 399.8,764.6 400.6,764.3 401.3,764.9 402.1,764.8 402.8,764.7 403.6,764.3 404.3,764.1 405.1,764.7 405.8,764.3 406.6,764.1 407.3,765.3 408.1,765.5 408.8,765.5 409.6,765.5 410.3,765.1 411.1,765.1 411.8,765.6 412.6,765.2 413.3,765.0 414.1,765.0 414.8,765.4 415.5,765.9 416.3,766.3 417.0,766.5 417.8,766.6 418.5,766.8 419.3,767.4 420.0,768.3 420.8,768.9 421.5,769.3 422.3,768.9 423.0,769.3 423.8,769.9 424.5,769.9 425.3,769.3 426.0,768.5 426.8,768.9 427.5,768.5 428.3,769.0 429.0,768.9 429.8,768.6 430.5,768.8 431.3,769.1 432.0,769.1 432.8,769.8 433.5,769.0 434.3,768.4 435.0,768.9 435.8,769.0 436.5,769.3 437.3,769.5 438.0,769.2 438.8,769.9 439.5,770.3 440.3,770.2 441.0,770.1 441.8,769.7 442.5,769.8 443.3,770.1 444.0,769.2 444.7,769.2 445.5,769.3 446.2,770.0 447.0,770.2 447.7,770.0 448.5,769.4 449.2,770.9 450.0,771.5 450.7,771.8 451.5,771.7 452.2,772.3 453.0,772.7 453.7,773.2 454.5,772.8 455.2,772.9 456.0,773.2 456.7,773.0 457.5,772.7 458.2,773.0 459.0,773.7 459.7,773.7 460.5,773.7 461.2,773.5 462.0,773.7 462.7,774.7 463.5,775.0 464.2,775.2 465.0,775.4 465.7,775.6 466.5,776.1 467.2,776.9 468.0,776.6 468.7,776.4 469.5,776.4 470.2,776.3 471.0,776.8 471.7,776.3 472.5,775.6 473.2,775.6 474.0,775.8 474.7,776.2 475.4,776.3 476.2,776.1 476.9,776.0 477.7,775.8 478.4,775.1 479.2,775.2 479.9,774.3 480.7,774.8 481.4,775.4 482.2,775.7 482.9,776.9 483.7,777.6 484.4,777.9 485.2,778.2 485.9,778.2 486.7,777.5 487.4,777.9 488.2,777.3 488.9,777.2 489.7,777.1 490.4,777.3 491.2,777.0 491.9,777.6 492.7,777.7 493.4,777.4 494.2,777.7 494.9,777.8 495.7,777.5 496.4,777.7 497.2,777.1 497.9,777.3 498.7,777.7 499.4,777.6 500.2,777.8 500.9,778.0 501.7,778.1 502.4,778.3 503.2,777.7 503.9,777.3" stroke="#f8c41e"/>
<path d="M354.9,789.3 355.6,789.2 356.4,789.8 357.1,789.6 357.9,789.8 358.6,789.6 359.4,789.8 360.1,789.1 360.9,788.6 361.6,787.5 362.4,788.0 363.1,787.8 363.9,787.8 364.6,786.6 365.4,787.4 366.1,787.7 366.9,787.7 367.6,786.4 368.4,785.7 369.1,785.7 369.9,786.0 370.6,785.7 371.4,785.4 372.1,784.8 372.9,785.1 373.6,784.8 374.4,784.5 375.1,784.3 375.9,783.7 376.6,783.1 377.4,783.8 378.1,783.6 378.9,783.4 379.6,781.9 380.4,781.3 381.1,781.2 381.9,781.3 382.6,780.1 383.4,779.0 384.1,778.2 384.8,778.7 385.6,777.4 386.3,776.2 387.1,774.5 387.8,773.8 388.6,772.5 389.3,771.8 390.1,770.3 390.8,769.4 391.6,768.4 392.3,767.9 393.1,765.9 393.8,765.7 394.6,764.7 395.3,763.8 396.1,763.6 396.8,763.0 397.6,762.8 398.3,763.0 399.1,762.3 399.8,762.7 400.6,763.8 401.3,763.7 402.1,764.3 402.8,763.9 403.6,763.9 404.3,764.4 405.1,764.9 405.8,764.0 406.6,764.1 407.3,763.6 408.1,764.4 408.8,765.6 409.6,765.7 410.3,765.3 411.1,766.7 411.8,767.1 412.6,767.7 413.3,767.5 414.1,766.7 414.8,767.7 415.5,767.9 416.3,768.0 417.0,768.6 417.8,768.9 418.5,769.3 419.3,770.5 420.0,770.4 420.8,770.9 421.5,770.0 422.3,770.1 423.0,770.2 423.8,769.7 424.5,769.3 425.3,769.5 426.0,770.2 426.8,770.8 427.5,770.1 428.3,771.2 429.0,772.2 429.8,772.4 430.5,771.9 431.3,770.8 432.0,771.6 432.8,772.0 433.5,771.1 434.3,770.9 435.0,771.6 435.8,771.8 436.5,772.4 437.3,772.0 438.0,772.2 438.8,772.1 439.5,772.6 440.3,772.7 441.0,772.9 441.8,772.4 442.5,771.8 443.3,771.9 444.0,772.1 444.7,771.9 445.5,771.4 446.2,770.9 447.0,771.5 447.7,772.1 448.5,772.1 449.2,772.3 450.0,772.8 450.7,772.9 451.5,773.1 452.2,773.4 453.0,773.2 453.7,773.1 454.5,772.6 455.2,772.4 456.0,772.2 456.7,772.5 457.5,772.4 458.2,772.7 459.0,773.5 459.7,774.3 460.5,774.4 461.2,774.8 462.0,775.0 462.7,775.2 463.5,775.3 464.2,775.0 465.0,775.3 465.7,775.6 466.5,775.6 467.2,775.3 468.0,775.3 468.7,775.4 469.5,775.7 470.2,775.2 471.0,775.0 471.7,775.1 472.5,775.8 473.2,775.6 474.0,775.5 474.7,775.3 475.4,775.7 476.2,776.1 476.9,775.9 477.7,776.2 478.4,776.5 479.2,776.9 479.9,777.1 480.7,777.0 481.4,776.5 482.2,777.1 482.9,776.1 483.7,775.7 484.4,775.4 485.2,775.8 485.9,775.9 486.7,776.0 487.4,775.3 488.2,775.8 488.9,776.0 489.7,776.2 490.4,775.8 491.2,775.6 491.9,775.9 492.7,776.9 493.4,776.8 494.2,776.8 494.9,777.4 495.7,777.7 496.4,777.8 497.2,778.2 497.9,777.6 498.7,778.0 499.4,778.6 500.2,778.7 500.9,778.0 501.7,778.4 502.4,778.9 503.2,779.0 503.9,779.2" stroke="#f8b420"/>
<path d="M354.9,789.0 355.6,788.1 356.4,787.3 357.1,787.6 357.9,787.4 358.6,787.1 359.4,786.6 360.1,786.8 360.9,786.8 361.6,787.2 362.4,786.8 363.1,787.2 363.9,787.3 364.6,787.2 365.4,787.1 366.1,787.5 366.9,787.6 367.6,787.6 368.4,787.2 369.1,787.4 369.9,787.0 370.6,786.7 371.4,785.7 372.1,785.4 372.9,784.9 373.6,784.2 374.4,783.3 375.1,783.5 375.9,783.3 376.6,783.3 377.4,783.2 378.1,782.6 378.9,781.9 379.6,782.2 380.4,781.1 381.1,780.1 381.9,779.1 382.6,777.8 383.4,777.2 384.1,776.7 384.8,775.0 385.6,773.9 386.3,772.5 387.1,771.6 387.8,771.0 388.6,769.8 389.3,768.1 390.1,766.7 390.8,765.1 391.6,764.0 392.3,762.2 393.1,760.4 393.8,759.0 394.6,758.2 395.3,757.7 396.1,758.2 396.8,758.6 397.6,759.0 398.3,759.2 399.1,759.4 399.8,759.6 400.6,759.9 401.3,760.1 402.1,760.3 402.8,761.0 403.6,762.1 404.3,763.1 405.1,764.0 405.8,765.4 406.6,766.5 407.3,766.9 408.1,767.3 408.8,767.6 409.6,768.1 410.3,769.2 411.1,769.5 411.8,769.9 412.6,770.9 413.3,771.9 414.1,772.7 414.8,773.1 415.5,772.9 416.3,772.3 417.0,772.1 417.8,772.5 418.5,772.2 419.3,772.0 420.0,772.3 420.8,772.5 421.5,773.0 422.3,773.6 423.0,773.4 423.8,773.9 424.5,774.0 425.3,773.9 426.0,774.1 426.8,774.6 427.5,774.5 428.3,774.7 429.0,774.6 429.8,775.0 430.5,774.6 431.3,774.7 432.0,774.7 432.8,774.3 433.5,773.8 434.3,773.8 435.0,773.3 435.8,773.7 436.5,773.7 437.3,773.2 438.0,773.4 438.8,773.9 439.5,774.3 440.3,774.9 441.0,774.8 441.8,774.7 442.5,774.9 443.3,775.1 444.0,775.4 444.7,775.6 445.5,775.8 446.2,776.2 447.0,775.9 447.7,776.0 448.5,775.8 449.2,775.5 450.0,775.6 450.7,775.0 451.5,774.7 452.2,775.3 453.0,775.3 453.7,775.3 454.5,774.9 455.2,774.7 456.0,774.7 456.7,775.2 457.5,775.1 458.2,775.6 459.0,776.3 459.7,776.4 460.5,776.1 461.2,776.6 462.0,776.1 462.7,775.9 463.5,775.8 464.2,775.5 465.0,775.4 465.7,775.6 466.5,775.6 467.2,776.3 468.0,776.0 468.7,776.4 469.5,776.6 470.2,776.7 471.0,776.3 471.7,776.3 472.5,775.8 473.2,776.4 474.0,776.3 474.7,775.9 475.4,776.3 476.2,776.8 476.9,777.0 477.7,777.6 478.4,778.1 479.2,777.9 479.9,778.0 480.7,778.6 481.4,778.7 482.2,778.6 482.9,777.8 483.7,777.6 484.4,777.3 485.2,777.3 485.9,776.3 486.7,776.0 487.4,775.9 488.2,775.8 488.9,775.4 489.7,775.6 490.4,775.4 491.2,775.4 491.9,775.4 492.7,775.0 493.4,775.6 494.2,775.6 494.9,775.9 495.7,776.5 496.4,776.6 497.2,776.9 497.9,777.2 498.7,776.7 499.4,777.0 500.2,776.7 500.9,776.7 501.7,777.4 502.4,777.1 503.2,777.1 503.9,777.7" stroke="#f7a024"/>
<path d="M354.9,786.6 355.6,785.8 356.4,785.5 357.1,785.8 357.9,785.5 358.6,785.8 359.4,786.0 360.1,785.9 360.9,786.3 361.6,786.8 362.4,787.3 363.1,787.4 363.9,787.4 364.6,787.6 365.4,788.2 366.1,788.6 366.9,788.0 367.6,787.5 368.4,787.6 369.1,787.6 369.9,787.5 370.6,786.3 371.4,785.4 372.1,784.3 372.9,784.3 373.6,783.6 374.4,782.8 375.1,782.0 375.9,782.6 376.6,782.1 377.4,782.6 378.1,781.8 378.9,781.0 379.6,780.0 380.4,779.0 381.1,777.1 381.9,776.1 382.6,774.8 383.4,773.3 384.1,772.1 384.8,770.9 385.6,769.2 386.3,768.2 387.1,766.4 387.8,764.2 388.6,762.6 389.3,760.4 390.1,758.3 390.8,757.0 391.6,755.7 392.3,754.8 393.1,754.8 393.8,754.2 394.6,754.4 395.3,754.3 396.1,754.7 396.8,755.5 397.6,756.4 398.3,756.3 399.1,757.2 399.8,758.2 400.6,759.3 401.3,760.4 402.1,760.9 402.8,762.2 403.6,764.0 404.3,765.4 405.1,766.1 405.8,767.2 406.6,767.9 407.3,768.9 408.1,769.3 408.8,769.6 409.6,770.3 410.3,771.5 411.1,771.6 411.8,771.7 412.6,771.7 413.3,772.0 414.1,771.8 414.8,772.1 415.5,771.9 416.3,772.6 417.0,772.9 417.8,773.6 418.5,774.0 419.3,774.7 420.0,774.6 420.8,774.9 421.5,774.7 422.3,775.3 423.0,774.6 423.8,774.5 424.5,774.1 425.3,774.6 426.0,774.1 426.8,775.1 427.5,774.4 428.3,775.8 429.0,776.1 429.8,776.5 430.5,776.4 431.3,777.4 432.0,777.2 432.8,777.1 433.5,776.9 434.3,776.8 435.0,776.4 435.8,776.5 436.5,775.6 437.3,775.5 438.0,776.2 438.8,775.7 439.5,775.8 440.3,776.0 441.0,775.9 441.8,776.1 442.5,776.0 443.3,776.5 444.0,776.7 444.7,776.3 445.5,776.5 446.2,776.3 447.0,776.5 447.7,776.6 448.5,776.1 449.2,776.1 450.0,776.3 450.7,776.4 451.5,776.9 452.2,776.7 453.0,776.7 453.7,776.7 454.5,777.1 455.2,777.5 456.0,777.3 456.7,777.0 457.5,776.8 458.2,776.6 459.0,776.7 459.7,776.6 460.5,776.6 461.2,776.8 462.0,776.4 462.7,777.0 463.5,777.3 464.2,777.4 465.0,777.3 465.7,777.2 466.5,777.4 467.2,778.0 468.0,777.7 468.7,778.0 469.5,777.7 470.2,777.6 471.0,777.9 471.7,777.8 472.5,777.2 473.2,777.7 474.0,777.6 474.7,778.1 475.4,778.1 476.2,777.6 476.9,777.5 477.7,777.6 478.4,777.6 479.2,777.3 479.9,776.8 480.7,776.7 481.4,777.1 482.2,777.4 482.9,777.5 483.7,777.1 484.4,777.3 485.2,777.7 485.9,777.4 486.7,777.1 487.4,776.8 488.2,776.8 488.9,776.7 489.7,776.8 490.4,777.0 491.2,777.5 491.9,777.4 492.7,777.3 493.4,777.7 494.2,778.0 494.9,777.4 495.7,776.9 496.4,777.1 497.2,776.5 497.9,776.6 498.7,776.7 499.4,776.1 500.2,776.4 500.9,776.6 501.7,776.7 502.4,776.9 503.2,777.3 503.9,777.3" stroke="#f68a26"/>
<path d="M354.9,786.6 355.6,786.8 356.4,787.7 357.1,787.5 357.9,787.3 358.6,788.3 359.4,787.8 360.1,787.4 360.9,787.0 361.6,786.6 362.4,786.6 363.1,786.9 363.9,786.2 364.6,786.2 365.4,786.5 366.1,786.0 366.9,785.6 367.6,785.7 368.4,785.7 369.1,785.6 369.9,785.2 370.6,784.7 371.4,784.1 372.1,784.3 372.9,783.3 373.6,782.9 374.4,781.9 375.1,781.6 375.9,781.1 376.6,780.0 377.4,778.4 378.1,777.1 378.9,776.1 379.6,774.8 380.4,772.8 381.1,770.9 381.9,770.2 382.6,769.2 383.4,768.5 384.1,766.4 384.8,765.1 385.6,764.2 386.3,762.3 387.1,759.8 387.8,757.0 388.6,754.4 389.3,753.1 390.1,751.7 390.8,750.1 391.6,749.7 392.3,749.7 393.1,750.5 393.8,751.1 394.6,751.3 395.3,751.6 396.1,752.7 396.8,753.3 397.6,753.7 398.3,754.2 399.1,755.2 399.8,756.8 400.6,758.9 401.3,760.0 402.1,761.6 402.8,763.6 403.6,764.9 404.3,766.2 405.1,767.3 405.8,768.0 406.6,768.7 407.3,769.6 408.1,770.9 408.8,771.8 409.6,772.9 410.3,773.6 411.1,774.1 411.8,774.8 412.6,775.5 413.3,775.1 414.1,775.6 414.8,775.6 415.5,775.4 416.3,775.6 417.0,776.0 417.8,775.8 418.5,776.2 419.3,776.2 420.0,775.9 420.8,776.1 421.5,776.2 422.3,776.3 423.0,776.1 423.8,776.5 424.5,776.9 425.3,777.7 426.0,777.9 426.8,777.7 427.5,777.9 428.3,778.2 429.0,778.7 429.8,778.3 430.5,778.4 431.3,777.9 432.0,777.9 432.8,777.7 433.5,778.2 434.3,777.8 435.0,778.0 435.8,777.3 436.5,778.1 437.3,778.2 438.0,778.8 438.8,779.2 439.5,779.3 440.3,779.5 441.0,779.7 441.8,780.1 442.5,780.5 443.3,780.3 444.0,779.5 444.7,779.3 445.5,778.7 446.2,779.0 447.0,778.3 447.7,778.2 448.5,778.3 449.2,778.7 450.0,778.7 450.7,779.0 451.5,779.6 452.2,779.4 453.0,779.7 453.7,778.7 454.5,778.3 455.2,778.3 456.0,778.2 456.7,778.5 457.5,779.4 458.2,778.6 459.0,778.9 459.7,779.1 460.5,779.5 461.2,779.8 462.0,779.1 462.7,777.9 463.5,778.1 464.2,777.5 465.0,777.1 465.7,776.6 466.5,776.5 467.2,775.9 468.0,776.2 468.7,776.9 469.5,777.6 470.2,777.8 471.0,777.8 471.7,777.7 472.5,778.0 473.2,777.7 474.0,777.1 474.7,777.0 475.4,776.9 476.2,777.1 476.9,777.2 477.7,777.5 478.4,778.2 479.2,778.8 479.9,779.1 480.7,779.4 481.4,778.9 482.2,779.3 482.9,778.8 483.7,778.0 484.4,777.3 485.2,777.0 485.9,777.0 486.7,777.3 487.4,776.6 488.2,776.3 488.9,776.6 489.7,777.1 490.4,777.1 491.2,776.9 491.9,776.8 492.7,777.3 493.4,777.8 494.2,777.3 494.9,776.9 495.7,776.9 496.4,776.5 497.2,776.6 497.9,776.0 498.7,776.2 499.4,776.7 500.2,776.8 500.9,777.4 501.7,777.8 502.4,777.5 503.2,777.8 503.9,778.0" stroke="#f4702a"/>
<path d="M354.9,786.3 355.6,786.6 356.4,786.7 357.1,786.2 357.9,786.5 358.6,786.5 359.4,786.1 360.1,785.7 360.9,785.9 361.6,785.0 362.4,785.0 363.1,784.7 363.9,784.4 364.6,784.8 365.4,784.0 366.1,783.6 366.9,784.3 367.6,783.7 368.4,783.5 369.1,783.9 369.9,783.7 370.6,783.7 371.4,783.0 372.1,782.3 372.9,782.2 373.6,781.9 374.4,780.2 375.1,779.6 375.9,778.4 376.6,777.6 377.4,775.8 378.1,773.9 378.9,771.9 379.6,770.4 380.4,768.2 381.1,766.8 381.9,765.3 382.6,763.9 383.4,762.6 384.1,760.8 384.8,759.1 385.6,757.3 386.3,754.8 387.1,752.2 387.8,749.8 388.6,748.2 389.3,747.2 390.1,745.1 390.8,744.4 391.6,744.4 392.3,744.1 393.1,745.2 393.8,746.0 394.6,746.9 395.3,748.6 396.1,750.4 396.8,751.8 397.6,753.7 398.3,755.5 399.1,757.4 399.8,759.4 400.6,762.1 401.3,762.8 402.1,765.2 402.8,767.0 403.6,768.1 404.3,769.4 405.1,770.1 405.8,771.0 406.6,773.0 407.3,773.5 408.1,774.7 408.8,775.1 409.6,775.2 410.3,775.7 411.1,776.2 411.8,777.4 412.6,777.7 413.3,777.7 414.1,778.4 414.8,779.3 415.5,780.1 416.3,779.8 417.0,779.2 417.8,779.4 418.5,779.8 419.3,779.4 420.0,778.8 420.8,778.9 421.5,778.8 422.3,778.7 423.0,778.9 423.8,778.8 424.5,779.5 425.3,780.1 426.0,780.0 426.8,780.5 427.5,780.4 428.3,781.1 429.0,781.5 429.8,781.5 430.5,781.6 431.3,781.3 432.0,781.5 432.8,781.4 433.5,780.8 434.3,780.2 435.0,779.4 435.8,779.1 436.5,779.5 437.3,780.2 438.0,780.6 438.8,780.1 439.5,780.3 440.3,780.7 441.0,780.8 441.8,780.4 442.5,779.2 443.3,779.0 444.0,779.3 444.7,779.4 445.5,779.7 446.2,780.4 447.0,780.6 447.7,780.9 448.5,781.0 449.2,780.4 450.0,780.6 450.7,780.2 451.5,779.3 452.2,779.2 453.0,779.7 453.7,779.2 454.5,779.9 455.2,779.7 456.0,779.4 456.7,779.9 457.5,779.6 458.2,778.6 459.0,778.5 459.7,778.0 460.5,778.0 461.2,778.1 462.0,778.2 462.7,778.5 463.5,778.6 464.2,778.5 465.0,778.6 465.7,777.7 466.5,777.2 467.2,776.3 468.0,776.3 468.7,776.5 469.5,776.6 470.2,776.4 471.0,776.2 471.7,776.7 472.5,776.3 473.2,776.3 474.0,776.2 474.7,776.1 475.4,776.2 476.2,776.9 476.9,777.1 477.7,777.7 478.4,777.2 479.2,776.8 479.9,776.9 480.7,777.2 481.4,777.3 482.2,777.2 482.9,777.2 483.7,777.3 484.4,777.7 485.2,777.4 485.9,777.0 486.7,777.3 487.4,777.6 488.2,777.9 488.9,777.8 489.7,777.5 490.4,777.6 491.2,777.8 491.9,777.1 492.7,777.2 493.4,776.7 494.2,777.3 494.9,777.9 495.7,777.6 496.4,777.6 497.2,777.7 497.9,777.7 498.7,777.8 499.4,777.5 500.2,777.5 500.9,777.0 501.7,776.4 502.4,776.6 503.2,776.3 503.9,776.8" stroke="#f3582a"/>
<path d="M354.9,785.0 355.6,785.2 356.4,786.2 357.1,785.5 357.9,785.9 358.6,785.9 359.4,786.2 360.1,786.8 360.9,786.8 361.6,786.5 362.4,785.6 363.1,785.4 363.9,785.5 364.6,785.7 365.4,784.1 366.1,783.8 366.9,783.3 367.6,783.7 368.4,783.0 369.1,782.6 369.9,782.0 370.6,782.5 371.4,782.0 372.1,781.5 372.9,780.7 373.6,780.0 374.4,778.5 375.1,776.3 375.9,775.2 376.6,773.1 377.4,771.4 378.1,769.2 378.9,767.2 379.6,765.3 380.4,764.1 381.1,761.5 381.9,759.9 382.6,758.3 383.4,757.1 384.1,754.9 384.8,752.9 385.6,750.0 386.3,747.9 387.1,746.4 387.8,744.3 388.6,742.7 389.3,741.8 390.1,741.7 390.8,742.2 391.6,742.7 392.3,743.5 393.1,745.0 393.8,746.2 394.6,747.3 395.3,748.3 396.1,749.9 396.8,750.9 397.6,753.0 398.3,754.9 399.1,757.0 399.8,759.3 400.6,762.1 401.3,764.1 402.1,767.2 402.8,768.6 403.6,769.3 404.3,770.9 405.1,772.2 405.8,773.0 406.6,774.2 407.3,774.6 408.1,775.5 408.8,777.1 409.6,777.7 410.3,778.1 411.1,778.1 411.8,778.2 412.6,778.6 413.3,779.1 414.1,779.7 414.8,779.3 415.5,779.8 416.3,780.4 417.0,780.8 417.8,780.9 418.5,780.7 419.3,780.1 420.0,780.5 420.8,780.7 421.5,781.2 422.3,782.0 423.0,781.8 423.8,781.6 424.5,781.6 425.3,781.5 426.0,781.7 426.8,781.1 427.5,780.6 428.3,780.3 429.0,780.6 429.8,780.7 430.5,781.6 431.3,781.0 432.0,781.4 432.8,780.7 433.5,780.7 434.3,780.6 435.0,780.3 435.8,780.0 436.5,780.4 437.3,779.8 438.0,780.7 438.8,780.7 439.5,781.6 440.3,781.9 441.0,781.8 441.8,781.6 442.5,782.1 443.3,781.9 444.0,782.0 444.7,781.6 445.5,781.6 446.2,781.7 447.0,781.7 447.7,781.8 448.5,781.5 449.2,782.9 450.0,782.3 450.7,781.9 451.5,781.9 452.2,782.2 453.0,781.6 453.7,781.2 454.5,779.4 455.2,779.2 456.0,779.0 456.7,778.5 457.5,778.3 458.2,778.9 459.0,779.2 459.7,779.8 460.5,780.3 461.2,780.9 462.0,780.8 462.7,780.1 463.5,779.8 464.2,780.4 465.0,779.9 465.7,780.1 466.5,780.0 467.2,779.8 468.0,779.4 468.7,778.8 469.5,778.0 470.2,778.2 471.0,776.8 471.7,777.0 472.5,777.8 473.2,778.0 474.0,777.5 474.7,777.5 475.4,777.4 476.2,778.4 476.9,777.8 477.7,776.8 478.4,776.4 479.2,777.1 479.9,777.4 480.7,777.1 481.4,776.7 482.2,776.5 482.9,776.5 483.7,776.7 484.4,776.6 485.2,775.8 485.9,776.4 486.7,776.0 487.4,776.1 488.2,775.9 488.9,776.4 489.7,776.2 490.4,776.9 491.2,776.2 491.9,775.9 492.7,775.7 493.4,775.9 494.2,775.2 494.9,775.1 495.7,774.4 496.4,774.8 497.2,775.3 497.9,775.4 498.7,776.5 499.4,777.1 500.2,777.6 500.9,778.4 501.7,778.4 502.4,778.4 503.2,778.8 503.9,778.4" stroke="#f23e2a"/>
<path d="M354.9,785.8 355.6,786.0 356.4,785.5 357.1,785.4 357.9,786.0 358.6,786.1 359.4,786.0 360.1,785.8 360.9,785.3 361.6,785.3 362.4,785.6 363.1,785.0 363.9,784.8 364.6,785.1 365.4,784.7 366.1,784.5 366.9,784.2 367.6,783.5 368.4,783.0 369.1,782.7 369.9,781.8 370.6,781.4 371.4,780.9 372.1,780.0 372.9,779.1 373.6,778.0 374.4,776.5 375.1,775.5 375.9,774.1 376.6,772.4 377.4,770.5 378.1,768.3 378.9,766.1 379.6,764.3 380.4,762.5 381.1,759.9 381.9,758.2 382.6,756.4 383.4,754.8 384.1,752.1 384.8,749.3 385.6,746.0 386.3,743.9 387.1,741.5 387.8,739.5 388.6,737.8 389.3,737.3 390.1,737.6 390.8,738.9 391.6,740.3 392.3,741.9 393.1,743.9 393.8,746.0 394.6,747.6 395.3,749.1 396.1,750.3 396.8,751.8 397.6,754.1 398.3,756.1 399.1,758.6 399.8,762.0 400.6,764.4 401.3,766.7 402.1,768.6 402.8,770.0 403.6,771.7 404.3,772.5 405.1,773.5 405.8,774.6 406.6,776.1 407.3,777.6 408.1,778.9 408.8,779.5 409.6,779.8 410.3,779.6 411.1,779.9 411.8,779.5 412.6,779.0 413.3,778.7 414.1,778.8 414.8,779.6 415.5,780.8 416.3,781.0 417.0,781.7 417.8,781.9 418.5,782.2 419.3,782.4 420.0,782.0 420.8,781.1 421.5,781.7 422.3,781.2 423.0,781.3 423.8,781.3 424.5,781.5 425.3,781.9 426.0,782.4 426.8,781.8 427.5,782.4 428.3,782.8 429.0,782.4 429.8,782.8 430.5,782.6 431.3,782.9 432.0,782.7 432.8,782.2 433.5,782.0 434.3,782.2 435.0,782.1 435.8,781.7 436.5,781.5 437.3,781.7 438.0,782.1 438.8,782.3 439.5,782.4 440.3,782.7 441.0,783.1 441.8,783.4 442.5,783.3 443.3,783.1 444.0,783.0 444.7,783.1 445.5,782.4 446.2,782.1 447.0,780.9 447.7,781.0 448.5,780.7 449.2,780.5 450.0,780.6 450.7,781.1 451.5,781.3 452.2,782.3 453.0,782.5 453.7,782.8 454.5,782.9 455.2,782.5 456.0,781.7 456.7,781.5 457.5,781.6 458.2,781.6 459.0,781.7 459.7,781.0 460.5,781.0 461.2,781.1 462.0,781.0 462.7,780.0 463.5,779.1 464.2,777.9 465.0,778.0 465.7,778.3 466.5,778.1 467.2,777.5 468.0,777.7 468.7,778.0 469.5,778.4 470.2,778.3 471.0,777.2 471.7,776.9 472.5,777.3 473.2,777.2 474.0,777.6 474.7,777.2 475.4,777.5 476.2,777.8 476.9,777.9 477.7,778.0 478.4,777.8 479.2,777.5 479.9,777.9 480.7,777.8 481.4,777.9 482.2,778.2 482.9,778.0 483.7,777.8 484.4,778.4 485.2,778.2 485.9,778.1 486.7,777.7 487.4,776.8 488.2,776.4 488.9,776.5 489.7,776.0 490.4,776.1 491.2,776.2 491.9,776.7 492.7,777.6 493.4,777.8 494.2,777.9 494.9,777.7 495.7,777.5 496.4,777.7 497.2,777.2 497.9,777.0 498.7,777.1 499.4,776.6 500.2,776.9 500.9,777.1 501.7,776.9 502.4,777.2 503.2,777.0 503.9,777.0" stroke="#f1302a"/>
<path d="M354.9,786.5 355.6,787.1 356.4,786.7 357.1,786.1 357.9,785.6 358.6,785.7 359.4,785.7 360.1,785.8 360.9,785.0 361.6,784.6 362.4,785.3 363.1,784.5 363.9,784.3 364.6,784.1 365.4,783.8 366.1,783.8 366.9,783.1 367.6,782.7 368.4,782.3 369.1,781.9 369.9,781.5 370.6,781.2 371.4,780.4 372.1,779.4 372.9,777.9 373.6,776.7 374.4,774.7 375.1,772.7 375.9,770.8 376.6,768.8 377.4,767.6 378.1,765.7 378.9,763.1 379.6,760.9 380.4,759.0 381.1,756.7 381.9,754.2 382.6,750.9 383.4,747.8 384.1,745.4 384.8,742.8 385.6,740.3 386.3,738.7 387.1,737.5 387.8,736.8 388.6,736.9 389.3,737.8 390.1,739.0 390.8,740.3 391.6,740.8 392.3,741.8 393.1,743.6 393.8,745.3 394.6,746.1 395.3,747.2 396.1,749.3 396.8,751.3 397.6,753.8 398.3,756.5 399.1,759.2 399.8,762.2 400.6,765.0 401.3,767.3 402.1,769.8 402.8,771.8 403.6,773.9 404.3,775.7 405.1,777.2 405.8,778.0 406.6,778.8 407.3,779.0 408.1,779.8 408.8,779.1 409.6,778.9 410.3,779.3 411.1,779.9 411.8,780.5 412.6,781.4 413.3,781.8 414.1,782.7 414.8,783.2 415.5,783.2 416.3,783.7 417.0,783.9 417.8,784.2 418.5,784.0 419.3,784.4 420.0,784.7 420.8,784.9 421.5,784.7 422.3,784.6 423.0,784.8 423.8,784.4 424.5,784.7 425.3,784.5 426.0,784.5 426.8,784.3 427.5,784.1 428.3,783.9 429.0,784.2 429.8,784.0 430.5,783.8 431.3,784.1 432.0,784.4 432.8,784.3 433.5,784.2 434.3,784.8 435.0,784.6 435.8,784.7 436.5,784.1 437.3,783.6 438.0,783.5 438.8,783.1 439.5,782.7 440.3,782.7 441.0,782.1 441.8,782.0 442.5,782.5 443.3,782.5 444.0,782.8 444.7,782.6 445.5,782.1 446.2,782.4 447.0,783.1 447.7,782.9 448.5,782.4 449.2,782.4 450.0,782.9 450.7,783.2 451.5,782.8 452.2,782.2 453.0,782.5 453.7,782.6 454.5,782.4 455.2,781.8 456.0,781.1 456.7,781.2 457.5,781.4 458.2,781.0 459.0,780.8 459.7,780.4 460.5,780.2 461.2,779.8 462.0,779.9 462.7,779.8 463.5,779.7 464.2,779.6 465.0,779.9 465.7,780.3 466.5,780.6 467.2,780.2 468.0,779.5 468.7,779.0 469.5,779.4 470.2,778.7 471.0,777.9 471.7,778.1 472.5,778.1 473.2,777.6 474.0,777.1 474.7,776.3 475.4,776.3 476.2,776.7 476.9,776.7 477.7,776.5 478.4,777.0 479.2,777.0 479.9,777.5 480.7,778.0 481.4,777.7 482.2,777.2 482.9,777.8 483.7,778.0 484.4,777.9 485.2,777.1 485.9,776.6 486.7,777.0 487.4,777.1 488.2,776.4 488.9,776.0 489.7,776.5 490.4,777.3 491.2,777.1 491.9,776.7 492.7,776.8 493.4,776.8 494.2,776.6 494.9,776.7 495.7,776.4 496.4,777.0 497.2,777.6 497.9,777.6 498.7,778.0 499.4,778.3 500.2,778.1 500.9,778.3 501.7,778.1 502.4,777.4 503.2,778.0 503.9,778.0" stroke="#f0282a"/>
<path d="M354.9,785.9 355.6,786.8 356.4,786.4 357.1,786.4 357.9,786.1 358.6,785.8 359.4,785.4 360.1,785.1 360.9,784.3 361.6,784.6 362.4,783.9 363.1,784.6 363.9,784.6 364.6,784.4 365.4,784.2 366.1,784.2 366.9,783.6 367.6,782.8 368.4,781.5 369.1,781.0 369.9,780.8 370.6,780.1 371.4,779.0 372.1,777.9 372.9,776.6 373.6,775.2 374.4,773.7 375.1,771.8 375.9,769.9 376.6,767.7 377.4,765.4 378.1,763.1 378.9,761.1 379.6,758.6 380.4,755.8 381.1,752.9 381.9,750.4 382.6,746.8 383.4,743.8 384.1,741.1 384.8,738.7 385.6,737.0 386.3,735.0 387.1,734.4 387.8,735.1 388.6,736.1 389.3,736.2 390.1,737.5 390.8,739.3 391.6,741.3 392.3,742.6 393.1,744.0 393.8,745.8 394.6,747.8 395.3,749.7 396.1,751.4 396.8,753.6 397.6,756.7 398.3,760.0 399.1,762.7 399.8,765.5 400.6,767.5 401.3,769.6 402.1,771.9 402.8,773.2 403.6,774.8 404.3,775.7 405.1,776.5 405.8,777.8 406.6,778.7 407.3,779.7 408.1,779.8 408.8,780.1 409.6,781.2 410.3,781.8 411.1,782.7 411.8,783.9 412.6,784.0 413.3,785.1 414.1,785.2 414.8,785.3 415.5,785.3 416.3,784.9 417.0,784.6 417.8,784.5 418.5,784.7 419.3,785.0 420.0,784.8 420.8,785.1 421.5,785.3 422.3,785.1 423.0,785.6 423.8,785.3 424.5,785.2 425.3,784.7 426.0,784.8 426.8,784.4 427.5,784.3 428.3,784.4 429.0,784.9 429.8,784.8 430.5,785.0 431.3,784.9 432.0,785.2 432.8,785.4 433.5,784.6 434.3,784.4 435.0,784.9 435.8,784.9 436.5,784.5 437.3,784.4 438.0,784.6 438.8,784.4 439.5,784.1 440.3,783.6 441.0,783.8 441.8,784.2 442.5,783.8 443.3,783.1 444.0,783.3 444.7,783.4 445.5,783.3 446.2,783.1 447.0,782.9 447.7,783.2 448.5,783.3 449.2,783.3 450.0,783.0 450.7,783.8 451.5,783.5 452.2,783.3 453.0,783.2 453.7,783.2 454.5,783.6 455.2,783.5 456.0,782.8 456.7,782.8 457.5,782.3 458.2,782.3 459.0,782.1 459.7,781.3 460.5,781.0 461.2,780.2 462.0,779.9 462.7,780.2 463.5,779.9 464.2,779.9 465.0,779.6 465.7,779.4 466.5,779.3 467.2,779.7 468.0,779.5 468.7,779.5 469.5,779.6 470.2,779.8 471.0,779.3 471.7,779.9 472.5,779.5 473.2,779.5 474.0,779.3 474.7,779.1 475.4,778.7 476.2,778.4 476.9,777.5 477.7,777.5 478.4,776.5 479.2,775.9 479.9,775.1 480.7,775.3 481.4,775.8 482.2,775.9 482.9,775.8 483.7,776.5 484.4,777.3 485.2,778.0 485.9,777.7 486.7,777.6 487.4,777.8 488.2,777.7 488.9,777.7 489.7,777.3 490.4,777.3 491.2,777.5 491.9,777.7 492.7,777.8 493.4,777.7 494.2,777.9 494.9,778.2 495.7,778.5 496.4,778.7 497.2,778.5 497.9,778.6 498.7,778.8 499.4,778.1 500.2,777.5 500.9,777.7 501.7,777.6 502.4,777.0 503.2,777.0 503.9,777.1" stroke="#f0222a"/>
</g>
<g fill="none" stroke-width="1.1">
<path d="M188.2,788.6 189.1,788.8 190.1,789.0 191.0,788.7 192.0,788.3 192.9,788.4 193.9,789.0 194.8,789.1 195.8,789.0 196.7,788.9 197.6,788.5 198.6,788.8 199.5,789.2 200.5,788.7 201.4,787.9 202.4,787.5 203.3,786.8 204.3,785.6 205.2,784.6 206.1,783.3 207.1,781.6 208.0,780.1 209.0,778.6 209.9,777.0 210.9,775.7 211.8,774.4 212.8,773.4 213.7,771.7 214.6,770.9 215.6,769.8 216.5,768.7 217.5,768.0 218.4,767.6 219.4,767.7 220.3,767.4 221.3,768.8 222.2,770.0 223.1,771.3 224.1,773.4 225.0,775.6 226.0,777.8 226.9,779.7 227.9,781.8 228.8,783.2 229.7,784.4 230.7,786.0 231.6,786.8 232.6,787.1 233.5,787.4 234.5,786.9 235.4,787.2 236.4,787.0 237.3,787.0 238.2,787.3 239.2,787.3 240.1,787.2 241.1,787.5 242.0,787.7 243.0,787.2 243.9,787.6 244.9,787.7 245.8,787.2 246.7,787.5 247.7,787.9 248.6,787.7 249.6,788.1 250.5,788.0 251.5,787.6 252.4,787.0 253.4,786.9 254.3,786.3 255.2,786.1 256.2,786.3 257.1,785.8 258.1,785.8 259.0,785.8 260.0,786.5 260.9,786.0 261.9,786.4 262.8,786.0 263.7,785.4 264.7,786.0 265.6,785.8 266.6,785.9 267.5,785.8 268.5,786.2 269.4,785.8 270.4,786.2 271.3,786.3 272.2,786.2 273.2,786.4 274.1,785.9 275.1,785.6 276.0,785.6 277.0,785.9 277.9,785.5 278.9,785.8 279.8,786.1 280.7,786.0 281.7,786.9 282.6,786.5 283.6,785.7 284.5,785.9 285.5,785.8 286.4,785.4 287.4,784.9 288.3,784.9 289.2,784.5 290.2,785.0 291.1,785.1 292.1,784.9 293.0,785.0 294.0,785.2 294.9,784.8 295.8,784.7 296.8,784.4 297.7,784.3 298.7,785.1 299.6,785.1 300.6,784.9 301.5,784.4 302.5,784.8 303.4,784.5 304.3,784.5 305.3,784.9 306.2,784.6 307.2,784.5 308.1,784.4 309.1,784.3 310.0,783.6 311.0,784.1 311.9,784.2 312.8,783.8 313.8,783.2 314.7,783.0 315.7,783.2 316.6,783.2 317.6,783.5 318.5,783.3 319.5,783.4 320.4,783.2 321.3,783.3 322.3,783.2 323.2,782.7 324.2,782.8 325.1,783.1 326.1,783.0 327.0,782.4 328.0,782.2 328.9,782.3" stroke="#ef3a2c"/>
<path d="M188.2,778.7 189.1,778.5 190.1,778.3 191.0,778.0 192.0,778.3 192.9,778.3 193.9,778.1 194.8,777.9 195.8,777.4 196.7,777.1 197.6,776.8 198.6,777.0 199.5,776.2 200.5,775.7 201.4,775.2 202.4,774.3 203.3,773.7 204.3,773.2 205.2,772.4 206.1,771.3 207.1,770.9 208.0,770.0 209.0,769.1 209.9,768.6 210.9,768.1 211.8,766.7 212.8,765.5 213.7,764.7 214.6,763.1 215.6,761.9 216.5,760.6 217.5,759.1 218.4,757.8 219.4,757.4 220.3,757.2 221.3,756.8 222.2,756.8 223.1,756.6 224.1,757.1 225.0,757.8 226.0,758.9 226.9,759.9 227.9,760.5 228.8,761.5 229.7,762.4 230.7,763.9 231.6,765.2 232.6,766.4 233.5,767.6 234.5,768.0 235.4,769.1 236.4,769.7 237.3,770.5 238.2,771.1 239.2,771.1 240.1,771.4 241.1,771.3 242.0,771.7 243.0,771.5 243.9,771.4 244.9,771.4 245.8,771.5 246.7,771.7 247.7,771.8 248.6,771.9 249.6,772.1 250.5,772.1 251.5,772.0 252.4,771.9 253.4,771.6 254.3,771.6 255.2,771.2 256.2,771.0 257.1,771.0 258.1,770.9 259.0,771.0 260.0,771.4 260.9,771.8 261.9,771.6 262.8,771.7 263.7,771.6 264.7,771.5 265.6,771.9 266.6,772.0 267.5,772.0 268.5,772.0 269.4,772.1 270.4,772.0 271.3,772.1 272.2,772.3 273.2,772.0 274.1,772.0 275.1,772.0 276.0,771.9 277.0,772.0 277.9,771.9 278.9,771.6 279.8,771.6 280.7,771.7 281.7,771.4 282.6,771.1 283.6,770.8 284.5,770.4 285.5,770.5 286.4,770.7 287.4,770.4 288.3,770.4 289.2,770.6 290.2,770.8 291.1,770.9 292.1,771.2 293.0,771.1 294.0,771.6 294.9,771.6 295.8,771.8 296.8,771.6 297.7,771.6 298.7,771.6 299.6,771.4 300.6,770.9 301.5,770.9 302.5,770.7 303.4,770.2 304.3,770.4 305.3,770.2 306.2,770.3 307.2,770.3 308.1,770.5 309.1,770.4 310.0,770.4 311.0,770.6 311.9,770.7 312.8,770.9 313.8,770.8 314.7,770.8 315.7,771.0 316.6,770.5 317.6,770.5 318.5,770.3 319.5,769.9 320.4,769.7 321.3,769.7 322.3,770.0 323.2,770.3 324.2,770.3 325.1,770.5 326.1,770.5 327.0,770.8 328.0,770.7 328.9,771.0" stroke="#ef3a2c"/>
<path d="M188.2,767.2 189.1,767.5 190.1,766.8 191.0,766.6 192.0,766.3 192.9,766.3 193.9,765.8 194.8,766.0 195.8,765.8 196.7,765.4 197.6,765.5 198.6,765.1 199.5,764.6 200.5,764.5 201.4,764.1 202.4,763.3 203.3,762.8 204.3,762.2 205.2,761.6 206.1,760.8 207.1,760.5 208.0,759.5 209.0,758.9 209.9,758.1 210.9,757.0 211.8,755.8 212.8,754.6 213.7,754.2 214.6,752.6 215.6,751.3 216.5,750.4 217.5,749.6 218.4,749.0 219.4,748.7 220.3,747.9 221.3,747.1 222.2,746.9 223.1,747.1 224.1,746.9 225.0,746.4 226.0,746.0 226.9,745.7 227.9,745.9 228.8,746.6 229.7,747.1 230.7,747.7 231.6,748.3 232.6,749.7 233.5,751.1 234.5,752.1 235.4,753.6 236.4,754.4 237.3,755.5 238.2,756.7 239.2,757.6 240.1,758.1 241.1,758.7 242.0,759.5 243.0,760.0 243.9,760.3 244.9,760.4 245.8,760.4 246.7,760.4 247.7,760.6 248.6,760.6 249.6,760.6 250.5,760.4 251.5,760.3 252.4,760.2 253.4,760.4 254.3,760.5 255.2,760.3 256.2,760.0 257.1,759.9 258.1,759.3 259.0,759.7 260.0,759.8 260.9,759.6 261.9,759.3 262.8,759.1 263.7,759.6 264.7,759.5 265.6,760.2 266.6,760.2 267.5,760.3 268.5,759.9 269.4,760.0 270.4,760.0 271.3,759.7 272.2,759.3 273.2,758.9 274.1,758.5 275.1,758.2 276.0,758.7 277.0,758.8 277.9,759.2 278.9,759.0 279.8,759.1 280.7,759.5 281.7,759.6 282.6,759.5 283.6,759.5 284.5,759.8 285.5,759.7 286.4,760.0 287.4,760.2 288.3,760.2 289.2,760.2 290.2,760.6 291.1,760.3 292.1,760.2 293.0,759.5 294.0,759.7 294.9,760.0 295.8,759.9 296.8,760.1 297.7,759.6 298.7,759.6 299.6,759.3 300.6,759.7 301.5,759.6 302.5,759.1 303.4,758.9 304.3,758.6 305.3,759.3 306.2,759.4 307.2,759.6 308.1,759.6 309.1,759.6 310.0,759.8 311.0,759.7 311.9,759.6 312.8,759.5 313.8,759.5 314.7,759.4 315.7,759.1 316.6,759.0 317.6,759.1 318.5,759.2 319.5,759.4 320.4,759.0 321.3,758.9 322.3,759.1 323.2,759.4 324.2,759.6 325.1,759.5 326.1,759.5 327.0,759.5 328.0,759.6 328.9,759.8" stroke="#f03c2c"/>
<path d="M188.2,754.2 189.1,753.9 190.1,754.0 191.0,753.6 192.0,753.4 192.9,752.9 193.9,752.7 194.8,752.9 195.8,752.9 196.7,752.6 197.6,752.2 198.6,752.1 199.5,751.6 200.5,751.9 201.4,751.3 202.4,750.9 203.3,750.5 204.3,750.4 205.2,749.8 206.1,749.3 207.1,749.1 208.0,748.6 209.0,748.0 209.9,747.3 210.9,746.6 211.8,745.8 212.8,745.5 213.7,744.9 214.6,744.0 215.6,743.2 216.5,743.0 217.5,742.3 218.4,741.9 219.4,741.7 220.3,741.4 221.3,741.5 222.2,741.2 223.1,741.2 224.1,740.6 225.0,740.2 226.0,739.8 226.9,739.6 227.9,739.3 228.8,738.9 229.7,738.7 230.7,738.3 231.6,738.6 232.6,739.1 233.5,739.5 234.5,739.8 235.4,740.1 236.4,740.4 237.3,741.1 238.2,742.2 239.2,742.5 240.1,742.9 241.1,743.4 242.0,743.9 243.0,744.4 243.9,744.9 244.9,745.2 245.8,745.1 246.7,745.9 247.7,745.9 248.6,745.7 249.6,745.5 250.5,745.8 251.5,745.5 252.4,745.4 253.4,745.5 254.3,745.1 255.2,745.4 256.2,745.8 257.1,745.9 258.1,745.9 259.0,746.4 260.0,746.7 260.9,746.4 261.9,746.5 262.8,746.6 263.7,746.5 264.7,746.3 265.6,746.1 266.6,745.8 267.5,746.0 268.5,746.2 269.4,746.5 270.4,746.4 271.3,746.5 272.2,746.5 273.2,746.7 274.1,746.9 275.1,746.7 276.0,746.4 277.0,746.1 277.9,746.0 278.9,746.0 279.8,746.0 280.7,746.0 281.7,746.1 282.6,745.9 283.6,746.1 284.5,746.0 285.5,746.0 286.4,746.0 287.4,745.7 288.3,745.6 289.2,745.6 290.2,745.7 291.1,745.5 292.1,745.7 293.0,745.7 294.0,745.9 294.9,746.5 295.8,746.4 296.8,746.4 297.7,746.3 298.7,746.7 299.6,746.8 300.6,746.7 301.5,746.8 302.5,746.3 303.4,746.5 304.3,746.1 305.3,746.6 306.2,746.6 307.2,746.1 308.1,745.5 309.1,745.6 310.0,745.6 311.0,745.6 311.9,745.5 312.8,745.1 313.8,744.8 314.7,745.2 315.7,745.6 316.6,745.7 317.6,745.7 318.5,745.8 319.5,746.1 320.4,746.1 321.3,746.0 322.3,745.5 323.2,745.8 324.2,745.3 325.1,745.3 326.1,745.0 327.0,744.9 328.0,744.8 328.9,744.8" stroke="#f4842c"/>
<path d="M188.2,741.5 189.1,741.7 190.1,741.5 191.0,741.5 192.0,741.6 192.9,741.6 193.9,741.5 194.8,741.5 195.8,741.4 196.7,741.2 197.6,741.0 198.6,740.7 199.5,740.7 200.5,740.2 201.4,740.2 202.4,739.7 203.3,739.5 204.3,739.3 205.2,739.3 206.1,739.2 207.1,738.9 208.0,739.1 209.0,738.8 209.9,739.2 210.9,739.0 211.8,738.5 212.8,738.1 213.7,737.8 214.6,738.0 215.6,737.5 216.5,737.0 217.5,736.4 218.4,736.0 219.4,735.7 220.3,735.5 221.3,734.9 222.2,734.0 223.1,733.8 224.1,733.3 225.0,732.7 226.0,732.5 226.9,732.3 227.9,731.6 228.8,731.3 229.7,731.0 230.7,730.3 231.6,730.0 232.6,729.5 233.5,728.8 234.5,728.7 235.4,728.6 236.4,728.3 237.3,728.0 238.2,728.0 239.2,727.7 240.1,727.9 241.1,728.2 242.0,727.8 243.0,728.0 243.9,728.3 244.9,728.5 245.8,728.8 246.7,729.0 247.7,729.1 248.6,729.0 249.6,729.6 250.5,729.8 251.5,730.1 252.4,730.2 253.4,730.6 254.3,730.8 255.2,731.1 256.2,731.7 257.1,731.9 258.1,732.1 259.0,731.9 260.0,732.4 260.9,732.5 261.9,733.1 262.8,733.4 263.7,733.4 264.7,733.5 265.6,734.0 266.6,734.2 267.5,734.1 268.5,734.0 269.4,734.1 270.4,734.0 271.3,734.0 272.2,733.9 273.2,733.3 274.1,733.1 275.1,732.7 276.0,732.7 277.0,732.3 277.9,732.3 278.9,732.3 279.8,732.4 280.7,732.9 281.7,733.0 282.6,733.3 283.6,733.5 284.5,734.0 285.5,733.9 286.4,733.8 287.4,733.7 288.3,733.4 289.2,733.7 290.2,733.7 291.1,733.5 292.1,733.2 293.0,733.1 294.0,733.1 294.9,733.2 295.8,733.4 296.8,733.2 297.7,733.6 298.7,733.7 299.6,733.9 300.6,734.2 301.5,734.5 302.5,734.5 303.4,734.6 304.3,734.7 305.3,734.2 306.2,734.1 307.2,733.9 308.1,733.7 309.1,733.7 310.0,733.4 311.0,733.4 311.9,733.3 312.8,733.4 313.8,733.3 314.7,733.8 315.7,734.2 316.6,734.1 317.6,734.5 318.5,734.7 319.5,734.6 320.4,734.8 321.3,735.1 322.3,734.8 323.2,734.5 324.2,734.8 325.1,734.8 326.1,734.6 327.0,735.1 328.0,735.3 328.9,735.5" stroke="#f58a2c"/>
<path d="M188.2,729.4 189.1,728.9 190.1,728.8 191.0,729.3 192.0,729.2 192.9,729.2 193.9,729.1 194.8,728.7 195.8,728.9 196.7,728.9 197.6,728.5 198.6,728.1 199.5,728.4 200.5,728.4 201.4,728.4 202.4,728.6 203.3,728.5 204.3,728.6 205.2,728.4 206.1,728.3 207.1,727.7 208.0,727.5 209.0,727.2 209.9,726.6 210.9,726.4 211.8,726.1 212.8,725.8 213.7,725.8 214.6,725.6 215.6,725.4 216.5,725.1 217.5,725.2 218.4,724.5 219.4,723.9 220.3,723.7 221.3,723.2 222.2,722.8 223.1,722.5 224.1,722.1 225.0,721.2 226.0,721.1 226.9,720.8 227.9,720.3 228.8,719.8 229.7,719.2 230.7,718.8 231.6,718.2 232.6,718.6 233.5,718.1 234.5,717.8 235.4,717.6 236.4,716.9 237.3,716.7 238.2,716.2 239.2,716.0 240.1,715.0 241.1,714.8 242.0,714.9 243.0,714.8 243.9,715.0 244.9,715.1 245.8,715.0 246.7,714.9 247.7,715.5 248.6,715.5 249.6,715.1 250.5,714.9 251.5,715.5 252.4,715.6 253.4,715.6 254.3,715.9 255.2,716.1 256.2,716.2 257.1,716.3 258.1,717.2 259.0,717.1 260.0,717.2 260.9,717.8 261.9,717.9 262.8,717.9 263.7,718.2 264.7,718.4 265.6,718.4 266.6,718.5 267.5,718.7 268.5,718.9 269.4,719.3 270.4,719.7 271.3,719.8 272.2,720.2 273.2,720.2 274.1,720.1 275.1,719.8 276.0,719.8 277.0,719.6 277.9,719.6 278.9,719.0 279.8,719.2 280.7,719.2 281.7,719.4 282.6,719.8 283.6,719.6 284.5,719.6 285.5,719.3 286.4,719.7 287.4,719.4 288.3,719.3 289.2,719.4 290.2,719.2 291.1,719.4 292.1,719.2 293.0,719.6 294.0,719.4 294.9,719.6 295.8,719.8 296.8,719.6 297.7,719.7 298.7,719.7 299.6,720.2 300.6,720.0 301.5,720.2 302.5,720.1 303.4,720.1 304.3,720.3 305.3,720.3 306.2,720.1 307.2,719.7 308.1,719.5 309.1,719.5 310.0,719.4 311.0,719.6 311.9,719.4 312.8,719.4 313.8,719.5 314.7,719.6 315.7,720.0 316.6,719.9 317.6,720.0 318.5,719.5 319.5,719.4 320.4,719.7 321.3,719.7 322.3,719.6 323.2,718.9 324.2,719.1 325.1,719.2 326.1,719.3 327.0,719.4 328.0,719.3 328.9,719.5" stroke="#f5902c"/>
<path d="M188.2,718.1 189.1,717.7 190.1,717.7 191.0,718.3 192.0,718.1 192.9,717.8 193.9,718.0 194.8,717.1 195.8,716.9 196.7,717.5 197.6,717.1 198.6,716.8 199.5,717.3 200.5,716.8 201.4,716.3 202.4,716.5 203.3,716.5 204.3,716.3 205.2,716.1 206.1,715.5 207.1,714.7 208.0,715.4 209.0,715.5 209.9,715.4 210.9,715.3 211.8,715.0 212.8,714.8 213.7,715.3 214.6,715.3 215.6,714.6 216.5,714.5 217.5,714.7 218.4,714.2 219.4,714.1 220.3,714.2 221.3,713.9 222.2,713.2 223.1,712.9 224.1,712.7 225.0,712.2 226.0,712.2 226.9,712.1 227.9,711.5 228.8,710.7 229.7,710.8 230.7,710.5 231.6,710.6 232.6,710.3 233.5,709.8 234.5,709.5 235.4,709.1 236.4,708.9 237.3,708.5 238.2,708.4 239.2,708.0 240.1,707.7 241.1,707.6 242.0,707.0 243.0,706.9 243.9,706.6 244.9,706.6 245.8,706.0 246.7,705.4 247.7,705.0 248.6,704.8 249.6,704.4 250.5,704.1 251.5,703.8 252.4,703.0 253.4,703.2 254.3,703.2 255.2,702.7 256.2,702.2 257.1,702.4 258.1,702.3 259.0,702.2 260.0,702.8 260.9,702.5 261.9,702.4 262.8,703.0 263.7,703.2 264.7,703.2 265.6,703.5 266.6,704.1 267.5,703.8 268.5,704.4 269.4,704.7 270.4,705.2 271.3,705.5 272.2,705.6 273.2,705.6 274.1,705.4 275.1,705.7 276.0,705.6 277.0,705.8 277.9,705.6 278.9,705.5 279.8,705.9 280.7,706.1 281.7,706.5 282.6,706.9 283.6,707.3 284.5,707.0 285.5,707.0 286.4,707.6 287.4,707.6 288.3,707.9 289.2,708.1 290.2,707.3 291.1,707.0 292.1,706.8 293.0,706.7 294.0,706.4 294.9,706.3 295.8,706.4 296.8,706.4 297.7,707.0 298.7,707.0 299.6,707.6 300.6,707.8 301.5,707.5 302.5,707.4 303.4,707.2 304.3,706.8 305.3,706.8 306.2,707.2 307.2,706.9 308.1,706.8 309.1,707.2 310.0,707.0 311.0,706.8 311.9,706.8 312.8,706.7 313.8,706.2 314.7,706.5 315.7,706.5 316.6,706.7 317.6,706.6 318.5,706.8 319.5,707.1 320.4,707.4 321.3,707.4 322.3,707.2 323.2,707.3 324.2,707.0 325.1,707.2 326.1,707.3 327.0,707.0 328.0,706.4 328.9,706.5" stroke="#f7a830"/>
<path d="M188.2,701.9 189.1,701.5 190.1,701.6 191.0,701.6 192.0,701.3 192.9,701.2 193.9,701.5 194.8,701.5 195.8,700.9 196.7,701.3 197.6,701.2 198.6,701.0 199.5,700.8 200.5,700.6 201.4,699.8 202.4,699.5 203.3,699.7 204.3,699.4 205.2,699.0 206.1,698.3 207.1,698.0 208.0,697.8 209.0,698.2 209.9,697.8 210.9,697.5 211.8,697.2 212.8,697.2 213.7,697.4 214.6,696.8 215.6,696.7 216.5,696.3 217.5,696.4 218.4,696.0 219.4,695.6 220.3,695.4 221.3,695.2 222.2,695.4 223.1,694.9 224.1,694.9 225.0,694.2 226.0,694.0 226.9,693.9 227.9,693.4 228.8,693.3 229.7,693.2 230.7,693.3 231.6,692.8 232.6,692.9 233.5,692.8 234.5,692.2 235.4,692.3 236.4,691.8 237.3,691.7 238.2,691.5 239.2,691.6 240.1,691.5 241.1,691.2 242.0,691.0 243.0,690.7 243.9,690.7 244.9,690.8 245.8,690.4 246.7,690.3 247.7,690.2 248.6,690.3 249.6,690.7 250.5,690.6 251.5,690.3 252.4,689.9 253.4,690.0 254.3,690.2 255.2,690.4 256.2,690.2 257.1,690.6 258.1,690.8 259.0,691.4 260.0,691.4 260.9,691.0 261.9,690.7 262.8,690.6 263.7,690.9 264.7,690.5 265.6,690.3 266.6,690.0 267.5,690.3 268.5,690.8 269.4,691.3 270.4,691.7 271.3,691.9 272.2,692.3 273.2,692.6 274.1,693.0 275.1,693.0 276.0,693.4 277.0,693.2 277.9,693.4 278.9,693.7 279.8,694.1 280.7,693.9 281.7,694.1 282.6,694.2 283.6,694.0 284.5,694.0 285.5,693.7 286.4,693.4 287.4,693.0 288.3,693.5 289.2,693.4 290.2,693.0 291.1,693.0 292.1,692.9 293.0,693.1 294.0,693.0 294.9,693.2 295.8,693.0 296.8,692.8 297.7,693.4 298.7,693.8 299.6,694.0 300.6,694.4 301.5,694.6 302.5,694.5 303.4,694.6 304.3,694.8 305.3,694.9 306.2,694.8 307.2,695.0 308.1,695.1 309.1,694.9 310.0,694.8 311.0,695.0 311.9,695.1 312.8,695.2 313.8,695.4 314.7,695.4 315.7,695.1 316.6,695.4 317.6,695.5 318.5,695.7 319.5,695.8 320.4,695.6 321.3,695.5 322.3,695.9 323.2,696.0 324.2,695.9 325.1,695.9 326.1,695.6 327.0,695.7 328.0,695.7 328.9,695.7" stroke="#f7b02e"/>
<path d="M188.2,690.6 189.1,690.5 190.1,690.9 191.0,691.0 192.0,691.5 192.9,691.4 193.9,691.3 194.8,691.3 195.8,690.8 196.7,690.8 197.6,690.6 198.6,690.3 199.5,690.0 200.5,690.0 201.4,689.9 202.4,689.8 203.3,689.7 204.3,689.3 205.2,689.0 206.1,688.8 207.1,688.5 208.0,688.4 209.0,688.2 209.9,688.3 210.9,688.6 211.8,688.2 212.8,688.0 213.7,687.6 214.6,687.4 215.6,686.8 216.5,686.5 217.5,685.5 218.4,685.0 219.4,684.9 220.3,684.4 221.3,684.5 222.2,684.5 223.1,684.6 224.1,684.3 225.0,684.6 226.0,684.0 226.9,683.6 227.9,683.4 228.8,683.4 229.7,683.1 230.7,682.7 231.6,682.9 232.6,682.4 233.5,682.4 234.5,682.5 235.4,682.3 236.4,681.6 237.3,680.9 238.2,680.6 239.2,680.5 240.1,680.3 241.1,680.2 242.0,679.9 243.0,679.5 243.9,679.6 244.9,679.6 245.8,679.7 246.7,679.1 247.7,678.9 248.6,678.8 249.6,678.5 250.5,678.7 251.5,678.5 252.4,678.7 253.4,678.4 254.3,678.2 255.2,678.2 256.2,678.4 257.1,678.5 258.1,678.6 259.0,678.8 260.0,678.5 260.9,678.3 261.9,678.5 262.8,678.3 263.7,678.3 264.7,678.1 265.6,677.8 266.6,678.0 267.5,678.2 268.5,678.5 269.4,678.6 270.4,679.1 271.3,679.2 272.2,679.7 273.2,680.2 274.1,680.3 275.1,680.7 276.0,681.0 277.0,681.4 277.9,681.4 278.9,681.5 279.8,681.3 280.7,681.2 281.7,681.1 282.6,680.8 283.6,680.9 284.5,681.1 285.5,681.3 286.4,681.3 287.4,681.6 288.3,681.9 289.2,681.9 290.2,682.1 291.1,682.5 292.1,682.5 293.0,682.6 294.0,682.7 294.9,682.4 295.8,682.1 296.8,682.4 297.7,682.4 298.7,682.3 299.6,681.7 300.6,681.5 301.5,681.5 302.5,681.7 303.4,681.8 304.3,681.9 305.3,682.0 306.2,682.0 307.2,682.5 308.1,682.8 309.1,682.8 310.0,682.8 311.0,682.8 311.9,682.6 312.8,682.6 313.8,682.4 314.7,682.2 315.7,682.0 316.6,682.3 317.6,682.7 318.5,682.8 319.5,683.1 320.4,683.1 321.3,683.5 322.3,683.8 323.2,684.0 324.2,683.8 325.1,683.9 326.1,683.9 327.0,683.8 328.0,683.5 328.9,683.4" stroke="#f8b530"/>
<path d="M188.2,678.0 189.1,677.9 190.1,678.1 191.0,678.0 192.0,677.8 192.9,677.6 193.9,677.6 194.8,676.9 195.8,677.2 196.7,677.3 197.6,677.6 198.6,678.1 199.5,677.9 200.5,678.2 201.4,678.1 202.4,678.1 203.3,678.0 204.3,678.1 205.2,677.6 206.1,677.2 207.1,677.4 208.0,677.3 209.0,677.3 209.9,677.2 210.9,676.9 211.8,676.4 212.8,675.9 213.7,675.7 214.6,675.6 215.6,675.6 216.5,675.5 217.5,675.7 218.4,675.2 219.4,675.3 220.3,675.5 221.3,675.5 222.2,675.1 223.1,675.1 224.1,675.0 225.0,675.0 226.0,675.0 226.9,674.6 227.9,674.6 228.8,674.1 229.7,673.9 230.7,673.3 231.6,673.0 232.6,672.6 233.5,672.7 234.5,672.2 235.4,672.1 236.4,672.3 237.3,672.4 238.2,672.1 239.2,672.0 240.1,671.7 241.1,671.3 242.0,671.1 243.0,670.6 243.9,670.4 244.9,669.5 245.8,669.4 246.7,668.8 247.7,668.9 248.6,668.4 249.6,668.6 250.5,668.6 251.5,668.1 252.4,668.8 253.4,668.7 254.3,668.5 255.2,667.8 256.2,667.4 257.1,667.4 258.1,666.8 259.0,666.7 260.0,666.3 260.9,666.3 261.9,666.2 262.8,666.0 263.7,665.9 264.7,665.7 265.6,665.7 266.6,665.7 267.5,665.8 268.5,665.5 269.4,665.5 270.4,666.2 271.3,666.8 272.2,666.4 273.2,666.2 274.1,666.6 275.1,665.9 276.0,666.2 277.0,666.6 277.9,666.1 278.9,666.2 279.8,666.4 280.7,667.0 281.7,666.9 282.6,667.1 283.6,667.1 284.5,666.9 285.5,666.9 286.4,666.7 287.4,666.6 288.3,666.2 289.2,666.3 290.2,666.2 291.1,666.3 292.1,666.3 293.0,666.5 294.0,667.0 294.9,667.6 295.8,667.8 296.8,667.8 297.7,668.6 298.7,668.3 299.6,668.4 300.6,668.6 301.5,668.5 302.5,668.9 303.4,669.0 304.3,668.9 305.3,668.5 306.2,669.0 307.2,669.2 308.1,668.8 309.1,669.1 310.0,669.0 311.0,668.6 311.9,668.4 312.8,668.9 313.8,668.9 314.7,669.1 315.7,669.6 316.6,669.7 317.6,669.0 318.5,669.8 319.5,670.1 320.4,669.9 321.3,669.6 322.3,669.2 323.2,669.7 324.2,669.3 325.1,669.6 326.1,669.6 327.0,669.5 328.0,669.7 328.9,670.3" stroke="#f8cc26"/>
<path d="M188.2,666.3 189.1,666.2 190.1,665.9 191.0,665.7 192.0,665.6 192.9,665.3 193.9,665.2 194.8,665.0 195.8,665.1 196.7,665.0 197.6,665.0 198.6,664.9 199.5,665.1 200.5,664.9 201.4,664.9 202.4,664.7 203.3,664.5 204.3,664.4 205.2,664.3 206.1,664.2 207.1,663.7 208.0,663.9 209.0,663.4 209.9,663.5 210.9,663.4 211.8,663.1 212.8,663.0 213.7,662.7 214.6,662.6 215.6,662.4 216.5,662.6 217.5,662.3 218.4,662.3 219.4,662.3 220.3,662.1 221.3,662.1 222.2,661.9 223.1,661.7 224.1,661.5 225.0,661.2 226.0,660.8 226.9,660.6 227.9,660.5 228.8,660.0 229.7,659.4 230.7,659.0 231.6,658.4 232.6,658.2 233.5,657.9 234.5,657.7 235.4,657.5 236.4,657.5 237.3,657.6 238.2,657.8 239.2,657.9 240.1,657.6 241.1,657.3 242.0,657.3 243.0,657.1 243.9,656.9 244.9,656.8 245.8,656.5 246.7,656.4 247.7,656.1 248.6,656.3 249.6,655.6 250.5,655.5 251.5,655.2 252.4,655.2 253.4,654.7 254.3,654.2 255.2,654.2 256.2,653.9 257.1,653.9 258.1,653.6 259.0,653.3 260.0,653.3 260.9,653.2 261.9,653.1 262.8,652.6 263.7,652.1 264.7,651.9 265.6,651.6 266.6,651.6 267.5,651.4 268.5,651.2 269.4,651.2 270.4,651.5 271.3,651.5 272.2,651.8 273.2,651.8 274.1,652.1 275.1,652.0 276.0,652.2 277.0,652.3 277.9,652.5 278.9,652.7 279.8,652.8 280.7,653.0 281.7,652.9 282.6,653.2 283.6,653.3 284.5,653.6 285.5,653.5 286.4,653.7 287.4,653.6 288.3,654.0 289.2,654.1 290.2,654.3 291.1,654.5 292.1,654.4 293.0,654.8 294.0,655.2 294.9,655.5 295.8,656.0 296.8,656.0 297.7,656.0 298.7,655.9 299.6,655.9 300.6,656.1 301.5,656.2 302.5,656.1 303.4,655.9 304.3,656.1 305.3,656.3 306.2,656.6 307.2,656.7 308.1,656.3 309.1,656.0 310.0,656.2 311.0,656.2 311.9,656.6 312.8,656.6 313.8,656.7 314.7,656.7 315.7,656.9 316.6,657.2 317.6,657.4 318.5,657.6 319.5,657.3 320.4,657.4 321.3,657.4 322.3,657.7 323.2,658.0 324.2,657.8 325.1,657.5 326.1,657.4 327.0,657.5 328.0,657.4 328.9,657.5" stroke="#f8d21c"/>
</g>
<g fill="none" stroke-width="1.1">
<path d="M504.6,792.9 505.5,792.7 506.5,792.5 507.4,792.4 508.4,792.3 509.3,791.9 510.3,792.6 511.2,792.8 512.1,793.0 513.1,792.5 514.0,792.6 515.0,792.4 515.9,791.8 516.9,791.3 517.8,790.4 518.8,789.3 519.7,788.6 520.6,788.3 521.6,786.7 522.5,785.5 523.5,785.0 524.4,783.5 525.4,781.9 526.3,780.7 527.2,779.3 528.2,777.4 529.1,775.8 530.1,773.9 531.0,772.0 532.0,770.7 532.9,770.0 533.9,768.9 534.8,768.1 535.7,768.1 536.7,768.5 537.6,769.1 538.6,770.3 539.5,772.1 540.5,774.1 541.4,776.6 542.3,778.9 543.3,780.6 544.2,782.6 545.2,784.9 546.1,786.8 547.1,788.0 548.0,788.9 549.0,789.6 549.9,790.0 550.8,790.3 551.8,790.6 552.7,790.0 553.7,789.5 554.6,789.6 555.6,789.7 556.5,789.6 557.4,789.7 558.4,789.9 559.3,790.5 560.3,790.7 561.2,790.7 562.2,790.5 563.1,790.4 564.0,790.2 565.0,790.3 565.9,790.0 566.9,789.6 567.8,789.7 568.8,789.8 569.7,790.0 570.7,789.6 571.6,789.6 572.5,789.6 573.5,789.9 574.4,789.8 575.4,789.3 576.3,789.5 577.3,789.4 578.2,789.6 579.1,789.3 580.1,789.2 581.0,789.4 582.0,789.5 582.9,790.2 583.9,789.9 584.8,789.8 585.8,789.7 586.7,789.8 587.6,789.5 588.6,788.9 589.5,788.6 590.5,788.1 591.4,788.1 592.4,788.0 593.3,788.1 594.2,788.1 595.2,788.2 596.1,787.9 597.1,788.1 598.0,788.2 599.0,787.8 599.9,787.7 600.8,787.9 601.8,788.2 602.7,788.0 603.7,788.3 604.6,788.3 605.6,788.3 606.5,788.9 607.5,789.0 608.4,788.9 609.3,788.9 610.3,788.8 611.2,788.7 612.2,788.4 613.1,788.5 614.1,788.1 615.0,788.2 615.9,787.6 616.9,787.4 617.8,787.4 618.8,787.6 619.7,787.7 620.7,787.6 621.6,787.5 622.6,787.0 623.5,787.2 624.4,787.4 625.4,787.5 626.3,787.5 627.3,787.6 628.2,787.4 629.2,787.5 630.1,787.2 631.0,787.2 632.0,787.1 632.9,787.0 633.9,787.0 634.8,786.9 635.8,787.1 636.7,787.1 637.7,787.6 638.6,787.5 639.5,787.2 640.5,787.9 641.4,787.7 642.4,787.4 643.3,787.3 644.3,787.4 645.2,787.5" stroke="#ef3a2c"/>
<path d="M504.6,781.0 505.5,780.9 506.5,780.9 507.4,781.1 508.4,780.9 509.3,780.4 510.3,780.3 511.2,779.8 512.1,779.5 513.1,779.5 514.0,779.0 515.0,778.7 515.9,778.3 516.9,778.0 517.8,777.6 518.8,777.4 519.7,776.7 520.6,775.4 521.6,774.6 522.5,773.5 523.5,772.7 524.4,771.5 525.4,770.6 526.3,769.3 527.2,767.9 528.2,766.9 529.1,765.8 530.1,764.5 531.0,763.9 532.0,763.0 532.9,761.7 533.9,760.4 534.8,760.0 535.7,759.5 536.7,758.9 537.6,758.7 538.6,758.3 539.5,758.8 540.5,760.1 541.4,761.6 542.3,763.3 543.3,764.6 544.2,766.7 545.2,768.5 546.1,769.8 547.1,771.5 548.0,772.3 549.0,773.4 549.9,774.0 550.8,775.4 551.8,775.6 552.7,776.3 553.7,776.9 554.6,777.0 555.6,777.6 556.5,777.7 557.4,777.6 558.4,777.3 559.3,777.2 560.3,777.4 561.2,777.5 562.2,777.2 563.1,777.4 564.0,777.4 565.0,777.3 565.9,777.2 566.9,777.7 567.8,777.5 568.8,777.0 569.7,777.4 570.7,777.0 571.6,776.9 572.5,777.0 573.5,777.2 574.4,777.2 575.4,777.0 576.3,777.1 577.3,776.8 578.2,776.9 579.1,776.7 580.1,777.4 581.0,777.3 582.0,777.3 582.9,777.4 583.9,777.8 584.8,778.0 585.8,777.5 586.7,777.9 587.6,777.4 588.6,777.1 589.5,776.9 590.5,776.7 591.4,776.4 592.4,776.4 593.3,776.5 594.2,776.3 595.2,776.5 596.1,776.2 597.1,776.5 598.0,776.7 599.0,776.7 599.9,776.9 600.8,777.1 601.8,776.8 602.7,776.6 603.7,777.0 604.6,776.8 605.6,776.2 606.5,775.9 607.5,776.1 608.4,776.1 609.3,776.5 610.3,776.4 611.2,776.4 612.2,776.4 613.1,777.0 614.1,777.0 615.0,776.4 615.9,776.4 616.9,776.0 617.8,775.7 618.8,776.0 619.7,776.0 620.7,775.8 621.6,776.1 622.6,776.3 623.5,776.2 624.4,776.3 625.4,776.6 626.3,776.2 627.3,775.9 628.2,775.7 629.2,775.6 630.1,775.5 631.0,775.3 632.0,775.5 632.9,775.9 633.9,776.2 634.8,775.8 635.8,775.9 636.7,775.7 637.7,775.5 638.6,775.2 639.5,775.4 640.5,775.0 641.4,775.0 642.4,775.3 643.3,775.5 644.3,775.5 645.2,775.6" stroke="#ef3a2c"/>
<path d="M504.6,770.9 505.5,770.4 506.5,770.1 507.4,769.9 508.4,770.0 509.3,769.4 510.3,769.3 511.2,768.8 512.1,768.3 513.1,768.1 514.0,767.7 515.0,767.1 515.9,766.7 516.9,766.6 517.8,766.1 518.8,765.5 519.7,764.8 520.6,763.9 521.6,763.0 522.5,762.5 523.5,761.6 524.4,760.1 525.4,759.0 526.3,758.2 527.2,757.2 528.2,756.6 529.1,755.5 530.1,754.4 531.0,753.3 532.0,752.7 532.9,751.9 533.9,751.0 534.8,750.7 535.7,749.5 536.7,749.5 537.6,749.4 538.6,749.0 539.5,749.2 540.5,749.8 541.4,750.5 542.3,751.2 543.3,752.9 544.2,754.1 545.2,754.9 546.1,756.5 547.1,758.0 548.0,758.8 549.0,760.2 549.9,761.8 550.8,762.8 551.8,763.5 552.7,764.9 553.7,765.4 554.6,765.8 555.6,766.8 556.5,767.5 557.4,767.3 558.4,767.5 559.3,767.8 560.3,767.9 561.2,768.2 562.2,768.2 563.1,768.1 564.0,767.2 565.0,767.5 565.9,767.6 566.9,767.8 567.8,767.5 568.8,767.1 569.7,767.4 570.7,767.1 571.6,767.4 572.5,767.6 573.5,767.0 574.4,767.2 575.4,767.2 576.3,767.7 577.3,767.4 578.2,767.6 579.1,767.8 580.1,767.6 581.0,767.7 582.0,767.3 582.9,767.1 583.9,767.1 584.8,767.1 585.8,767.0 586.7,766.9 587.6,766.5 588.6,766.4 589.5,766.2 590.5,766.0 591.4,765.8 592.4,765.4 593.3,765.2 594.2,765.3 595.2,765.6 596.1,765.8 597.1,765.9 598.0,766.0 599.0,765.7 599.9,765.8 600.8,765.9 601.8,765.7 602.7,765.6 603.7,765.6 604.6,764.9 605.6,764.9 606.5,765.2 607.5,765.2 608.4,764.8 609.3,764.7 610.3,764.7 611.2,764.7 612.2,765.2 613.1,764.6 614.1,764.6 615.0,764.8 615.9,765.2 616.9,765.6 617.8,765.6 618.8,765.9 619.7,765.6 620.7,766.2 621.6,765.9 622.6,766.1 623.5,765.8 624.4,765.4 625.4,765.2 626.3,764.9 627.3,765.0 628.2,765.0 629.2,765.1 630.1,764.8 631.0,764.9 632.0,764.9 632.9,765.4 633.9,765.4 634.8,765.3 635.8,765.3 636.7,764.8 637.7,764.9 638.6,764.9 639.5,764.9 640.5,764.4 641.4,764.2 642.4,764.6 643.3,764.3 644.3,764.6 645.2,764.2" stroke="#f03c2c"/>
<path d="M504.6,758.0 505.5,757.8 506.5,757.6 507.4,757.3 508.4,756.9 509.3,756.7 510.3,756.6 511.2,756.5 512.1,756.4 513.1,755.7 514.0,755.5 515.0,754.8 515.9,754.4 516.9,754.0 517.8,753.3 518.8,752.7 519.7,752.1 520.6,751.5 521.6,750.9 522.5,750.3 523.5,749.9 524.4,749.1 525.4,748.2 526.3,747.2 527.2,746.2 528.2,745.6 529.1,744.8 530.1,744.2 531.0,743.5 532.0,743.0 532.9,742.5 533.9,742.1 534.8,741.8 535.7,741.4 536.7,741.3 537.6,740.8 538.6,740.7 539.5,740.7 540.5,740.8 541.4,740.9 542.3,741.1 543.3,741.6 544.2,742.2 545.2,742.8 546.1,743.8 547.1,744.6 548.0,745.5 549.0,746.7 549.9,747.7 550.8,748.3 551.8,749.1 552.7,750.0 553.7,750.5 554.6,751.1 555.6,751.5 556.5,751.8 557.4,752.5 558.4,753.4 559.3,753.8 560.3,754.2 561.2,754.4 562.2,754.6 563.1,755.4 564.0,756.0 565.0,755.8 565.9,755.6 566.9,755.8 567.8,755.9 568.8,756.1 569.7,756.1 570.7,755.6 571.6,755.1 572.5,755.0 573.5,754.9 574.4,754.8 575.4,754.6 576.3,754.8 577.3,754.4 578.2,754.5 579.1,754.9 580.1,755.4 581.0,755.4 582.0,755.4 582.9,755.6 583.9,754.9 584.8,755.3 585.8,755.4 586.7,755.1 587.6,755.0 588.6,755.1 589.5,755.0 590.5,755.1 591.4,755.3 592.4,755.4 593.3,754.9 594.2,755.2 595.2,755.0 596.1,755.0 597.1,755.1 598.0,755.1 599.0,755.0 599.9,754.8 600.8,755.1 601.8,755.1 602.7,755.1 603.7,755.1 604.6,755.2 605.6,754.7 606.5,754.8 607.5,754.9 608.4,755.0 609.3,755.3 610.3,755.4 611.2,755.6 612.2,755.5 613.1,755.9 614.1,756.2 615.0,756.1 615.9,756.0 616.9,755.3 617.8,755.0 618.8,755.1 619.7,754.9 620.7,754.7 621.6,754.6 622.6,754.7 623.5,754.8 624.4,755.1 625.4,755.4 626.3,754.9 627.3,755.1 628.2,755.1 629.2,754.7 630.1,754.5 631.0,754.5 632.0,754.7 632.9,754.4 633.9,754.9 634.8,754.8 635.8,755.1 636.7,755.3 637.7,755.6 638.6,756.1 639.5,756.0 640.5,756.4 641.4,756.0 642.4,756.2 643.3,756.1 644.3,756.1 645.2,756.0" stroke="#f4802e"/>
<path d="M504.6,747.5 505.5,747.5 506.5,747.0 507.4,747.0 508.4,746.4 509.3,746.0 510.3,745.5 511.2,745.2 512.1,744.9 513.1,744.4 514.0,744.5 515.0,744.0 515.9,744.3 516.9,743.7 517.8,743.1 518.8,742.8 519.7,743.0 520.6,742.2 521.6,741.5 522.5,740.8 523.5,739.9 524.4,739.5 525.4,738.8 526.3,737.9 527.2,736.7 528.2,736.2 529.1,735.6 530.1,735.1 531.0,734.5 532.0,733.8 532.9,733.2 533.9,732.7 534.8,732.3 535.7,731.9 536.7,731.5 537.6,731.1 538.6,731.0 539.5,730.9 540.5,730.9 541.4,731.0 542.3,731.1 543.3,731.4 544.2,731.8 545.2,732.2 546.1,732.6 547.1,732.9 548.0,733.7 549.0,734.6 549.9,735.5 550.8,736.0 551.8,736.7 552.7,737.7 553.7,738.4 554.6,739.4 555.6,739.9 556.5,740.5 557.4,740.8 558.4,741.3 559.3,741.7 560.3,742.3 561.2,742.7 562.2,743.0 563.1,743.6 564.0,743.5 565.0,743.5 565.9,743.9 566.9,744.0 567.8,744.1 568.8,744.2 569.7,744.2 570.7,744.1 571.6,744.3 572.5,744.6 573.5,744.7 574.4,744.5 575.4,744.2 576.3,743.9 577.3,743.6 578.2,743.2 579.1,743.4 580.1,743.3 581.0,743.1 582.0,743.3 582.9,743.7 583.9,743.8 584.8,744.6 585.8,744.8 586.7,744.3 587.6,744.4 588.6,744.9 589.5,745.0 590.5,744.5 591.4,744.6 592.4,744.4 593.3,744.1 594.2,744.4 595.2,744.5 596.1,744.3 597.1,744.2 598.0,744.3 599.0,744.3 599.9,744.2 600.8,744.4 601.8,744.3 602.7,744.4 603.7,744.2 604.6,744.6 605.6,744.7 606.5,744.8 607.5,744.9 608.4,745.0 609.3,745.1 610.3,745.1 611.2,745.2 612.2,744.8 613.1,744.9 614.1,744.7 615.0,744.3 615.9,744.4 616.9,744.2 617.8,744.0 618.8,744.0 619.7,743.9 620.7,743.8 621.6,743.6 622.6,744.0 623.5,743.7 624.4,744.0 625.4,744.0 626.3,744.2 627.3,744.4 628.2,744.7 629.2,744.6 630.1,744.3 631.0,744.4 632.0,744.1 632.9,743.8 633.9,743.6 634.8,743.5 635.8,743.1 636.7,743.6 637.7,743.9 638.6,744.0 639.5,744.3 640.5,744.8 641.4,744.8 642.4,745.0 643.3,745.0 644.3,744.7 645.2,744.7" stroke="#f4882e"/>
<path d="M504.6,737.2 505.5,737.2 506.5,736.6 507.4,736.0 508.4,735.7 509.3,735.5 510.3,735.4 511.2,735.1 512.1,735.0 513.1,734.7 514.0,734.4 515.0,734.3 515.9,733.7 516.9,733.4 517.8,732.6 518.8,732.3 519.7,732.0 520.6,732.0 521.6,731.6 522.5,730.9 523.5,731.1 524.4,730.8 525.4,731.0 526.3,730.4 527.2,730.2 528.2,729.7 529.1,729.3 530.1,729.1 531.0,728.7 532.0,728.4 532.9,727.5 533.9,727.2 534.8,726.8 535.7,726.3 536.7,726.1 537.6,725.7 538.6,725.1 539.5,724.5 540.5,724.4 541.4,724.6 542.3,724.0 543.3,724.1 544.2,724.1 545.2,724.2 546.1,724.6 547.1,725.1 548.0,725.6 549.0,725.4 549.9,725.6 550.8,725.3 551.8,725.7 552.7,726.0 553.7,725.9 554.6,725.9 555.6,725.8 556.5,726.3 557.4,727.4 558.4,727.8 559.3,728.5 560.3,729.0 561.2,729.5 562.2,729.8 563.1,730.1 564.0,730.2 565.0,729.9 565.9,730.0 566.9,729.8 567.8,729.7 568.8,729.7 569.7,730.0 570.7,730.0 571.6,730.1 572.5,730.3 573.5,730.5 574.4,730.8 575.4,731.0 576.3,731.4 577.3,731.5 578.2,731.4 579.1,731.5 580.1,731.5 581.0,731.9 582.0,731.5 582.9,731.5 583.9,731.0 584.8,730.8 585.8,731.0 586.7,731.3 587.6,731.6 588.6,731.3 589.5,731.6 590.5,731.2 591.4,731.3 592.4,731.6 593.3,732.2 594.2,732.3 595.2,732.1 596.1,732.2 597.1,731.8 598.0,732.1 599.0,732.4 599.9,732.5 600.8,732.1 601.8,732.1 602.7,732.0 603.7,731.9 604.6,732.1 605.6,732.4 606.5,732.5 607.5,732.4 608.4,732.0 609.3,732.2 610.3,732.4 611.2,732.5 612.2,733.2 613.1,733.4 614.1,733.4 615.0,733.6 615.9,733.7 616.9,733.3 617.8,733.6 618.8,733.5 619.7,733.0 620.7,732.5 621.6,732.4 622.6,732.2 623.5,732.4 624.4,732.9 625.4,732.8 626.3,733.0 627.3,733.3 628.2,733.5 629.2,733.8 630.1,733.7 631.0,733.8 632.0,733.6 632.9,733.5 633.9,733.6 634.8,733.4 635.8,733.6 636.7,733.8 637.7,734.1 638.6,734.0 639.5,733.8 640.5,734.0 641.4,733.9 642.4,733.7 643.3,733.8 644.3,733.9 645.2,734.0" stroke="#f59030"/>
<path d="M504.6,724.6 505.5,724.7 506.5,724.8 507.4,724.9 508.4,725.0 509.3,725.0 510.3,724.8 511.2,724.9 512.1,724.4 513.1,724.2 514.0,723.8 515.0,723.8 515.9,723.4 516.9,723.3 517.8,722.9 518.8,722.7 519.7,722.2 520.6,721.7 521.6,721.8 522.5,721.7 523.5,721.3 524.4,721.4 525.4,721.1 526.3,720.7 527.2,720.6 528.2,720.5 529.1,719.7 530.1,718.9 531.0,718.3 532.0,717.4 532.9,717.4 533.9,717.2 534.8,717.2 535.7,716.9 536.7,716.7 537.6,717.2 538.6,717.1 539.5,717.1 540.5,716.6 541.4,716.3 542.3,715.9 543.3,715.5 544.2,715.7 545.2,715.2 546.1,715.5 547.1,715.6 548.0,715.8 549.0,716.0 549.9,716.2 550.8,716.4 551.8,716.5 552.7,716.3 553.7,716.1 554.6,716.2 555.6,716.0 556.5,716.3 557.4,716.6 558.4,717.0 559.3,717.0 560.3,717.8 561.2,718.6 562.2,719.0 563.1,719.3 564.0,719.8 565.0,719.8 565.9,720.3 566.9,720.6 567.8,720.8 568.8,720.8 569.7,720.5 570.7,721.2 571.6,721.0 572.5,721.4 573.5,721.2 574.4,721.2 575.4,720.9 576.3,720.7 577.3,721.1 578.2,720.7 579.1,721.0 580.1,721.1 581.0,720.9 582.0,720.9 582.9,721.3 583.9,721.4 584.8,721.3 585.8,721.7 586.7,721.4 587.6,721.4 588.6,721.6 589.5,721.5 590.5,721.5 591.4,721.4 592.4,721.3 593.3,721.3 594.2,721.0 595.2,721.1 596.1,721.2 597.1,721.4 598.0,721.5 599.0,721.6 599.9,721.8 600.8,721.4 601.8,721.7 602.7,721.6 603.7,721.6 604.6,721.6 605.6,721.4 606.5,721.7 607.5,721.6 608.4,722.1 609.3,722.3 610.3,722.2 611.2,722.2 612.2,722.0 613.1,722.3 614.1,722.2 615.0,722.4 615.9,722.0 616.9,722.1 617.8,722.4 618.8,722.6 619.7,722.5 620.7,722.1 621.6,721.7 622.6,721.3 623.5,721.7 624.4,721.8 625.4,721.8 626.3,722.0 627.3,722.5 628.2,723.1 629.2,723.3 630.1,723.5 631.0,723.8 632.0,724.0 632.9,723.3 633.9,723.4 634.8,723.3 635.8,723.0 636.7,723.3 637.7,723.4 638.6,723.0 639.5,722.7 640.5,723.4 641.4,723.0 642.4,723.0 643.3,723.1 644.3,722.9 645.2,723.4" stroke="#f6a832"/>
<path d="M504.6,715.9 505.5,715.7 506.5,715.6 507.4,715.2 508.4,715.1 509.3,715.3 510.3,715.1 511.2,715.1 512.1,715.1 513.1,715.1 514.0,715.3 515.0,715.2 515.9,714.8 516.9,714.6 517.8,714.1 518.8,714.0 519.7,713.8 520.6,713.6 521.6,713.4 522.5,712.9 523.5,712.5 524.4,712.0 525.4,712.0 526.3,711.4 527.2,710.8 528.2,711.0 529.1,710.6 530.1,710.4 531.0,710.3 532.0,710.2 532.9,709.8 533.9,709.4 534.8,709.8 535.7,709.4 536.7,708.7 537.6,708.8 538.6,708.6 539.5,708.0 540.5,707.7 541.4,707.5 542.3,706.9 543.3,706.6 544.2,706.7 545.2,706.2 546.1,706.2 547.1,706.1 548.0,705.8 549.0,705.6 549.9,705.3 550.8,704.9 551.8,704.9 552.7,705.1 553.7,704.9 554.6,704.5 555.6,704.7 556.5,704.6 557.4,704.8 558.4,704.8 559.3,704.6 560.3,704.5 561.2,704.4 562.2,705.0 563.1,705.2 564.0,706.0 565.0,706.3 565.9,706.6 566.9,707.1 567.8,707.5 568.8,708.0 569.7,708.1 570.7,708.4 571.6,708.2 572.5,708.4 573.5,708.2 574.4,708.1 575.4,708.5 576.3,708.6 577.3,709.0 578.2,709.1 579.1,709.2 580.1,709.6 581.0,710.3 582.0,710.5 582.9,710.0 583.9,710.0 584.8,710.0 585.8,709.8 586.7,709.8 587.6,709.9 588.6,710.0 589.5,710.5 590.5,710.9 591.4,711.1 592.4,711.2 593.3,711.3 594.2,711.5 595.2,711.6 596.1,711.2 597.1,710.8 598.0,710.9 599.0,710.7 599.9,710.5 600.8,710.7 601.8,711.0 602.7,711.0 603.7,711.0 604.6,711.2 605.6,711.2 606.5,711.4 607.5,711.6 608.4,711.5 609.3,711.2 610.3,711.2 611.2,711.4 612.2,711.3 613.1,711.5 614.1,711.3 615.0,711.2 615.9,711.4 616.9,711.1 617.8,711.2 618.8,711.0 619.7,711.1 620.7,710.8 621.6,711.2 622.6,711.3 623.5,711.2 624.4,711.9 625.4,711.7 626.3,711.6 627.3,711.9 628.2,712.0 629.2,711.7 630.1,711.7 631.0,712.1 632.0,712.0 632.9,712.0 633.9,712.3 634.8,712.6 635.8,712.9 636.7,713.3 637.7,713.3 638.6,713.1 639.5,713.4 640.5,713.6 641.4,713.7 642.4,713.4 643.3,713.4 644.3,713.2 645.2,713.5" stroke="#f8b030"/>
<path d="M504.6,703.5 505.5,703.8 506.5,703.9 507.4,703.8 508.4,703.9 509.3,703.6 510.3,703.5 511.2,703.1 512.1,702.6 513.1,702.4 514.0,702.0 515.0,702.0 515.9,701.9 516.9,701.9 517.8,701.2 518.8,701.1 519.7,701.1 520.6,700.8 521.6,700.7 522.5,700.3 523.5,699.9 524.4,699.7 525.4,699.8 526.3,699.5 527.2,699.3 528.2,699.2 529.1,699.2 530.1,699.1 531.0,699.3 532.0,698.7 532.9,698.5 533.9,698.3 534.8,698.0 535.7,697.5 536.7,697.0 537.6,696.8 538.6,696.1 539.5,696.1 540.5,695.7 541.4,695.4 542.3,695.3 543.3,695.3 544.2,695.2 545.2,695.1 546.1,695.2 547.1,694.9 548.0,695.0 549.0,694.8 549.9,694.6 550.8,694.4 551.8,694.6 552.7,694.3 553.7,694.1 554.6,694.2 555.6,694.3 556.5,694.2 557.4,694.4 558.4,694.6 559.3,694.8 560.3,695.2 561.2,695.2 562.2,695.2 563.1,695.3 564.0,695.7 565.0,695.4 565.9,695.0 566.9,695.0 567.8,694.9 568.8,694.8 569.7,694.9 570.7,694.7 571.6,694.9 572.5,695.5 573.5,695.9 574.4,696.0 575.4,696.1 576.3,696.5 577.3,697.1 578.2,697.1 579.1,697.3 580.1,697.4 581.0,697.5 582.0,697.2 582.9,697.3 583.9,697.4 584.8,697.1 585.8,697.3 586.7,697.1 587.6,697.1 588.6,697.0 589.5,697.5 590.5,697.4 591.4,697.8 592.4,697.7 593.3,697.8 594.2,697.7 595.2,697.5 596.1,697.7 597.1,697.9 598.0,698.0 599.0,697.7 599.9,697.9 600.8,698.1 601.8,697.9 602.7,698.2 603.7,698.1 604.6,697.9 605.6,698.0 606.5,697.7 607.5,697.9 608.4,697.9 609.3,698.2 610.3,698.1 611.2,698.1 612.2,697.9 613.1,698.0 614.1,698.4 615.0,698.3 615.9,698.2 616.9,698.1 617.8,698.1 618.8,698.0 619.7,698.2 620.7,698.3 621.6,698.7 622.6,698.7 623.5,698.8 624.4,699.0 625.4,699.1 626.3,699.6 627.3,699.7 628.2,699.7 629.2,699.3 630.1,699.3 631.0,699.7 632.0,699.7 632.9,699.9 633.9,700.0 634.8,700.1 635.8,699.6 636.7,699.6 637.7,699.9 638.6,699.6 639.5,699.9 640.5,699.9 641.4,700.0 642.4,700.5 643.3,701.1 644.3,701.3 645.2,701.2" stroke="#f8b030"/>
<path d="M504.6,692.9 505.5,692.5 506.5,692.5 507.4,692.4 508.4,692.5 509.3,692.8 510.3,693.0 511.2,693.0 512.1,692.7 513.1,692.8 514.0,692.9 515.0,692.9 515.9,692.7 516.9,692.2 517.8,691.7 518.8,691.6 519.7,691.5 520.6,691.2 521.6,691.0 522.5,690.7 523.5,690.6 524.4,690.9 525.4,690.7 526.3,690.7 527.2,690.5 528.2,690.3 529.1,690.7 530.1,690.9 531.0,690.6 532.0,690.0 532.9,689.9 533.9,689.8 534.8,689.6 535.7,689.2 536.7,688.6 537.6,687.8 538.6,687.6 539.5,687.7 540.5,687.5 541.4,687.1 542.3,686.8 543.3,686.6 544.2,686.0 545.2,686.0 546.1,685.6 547.1,684.7 548.0,684.5 549.0,684.1 549.9,684.2 550.8,684.2 551.8,684.3 552.7,684.5 553.7,684.7 554.6,685.0 555.6,685.0 556.5,685.3 557.4,685.1 558.4,684.6 559.3,684.3 560.3,683.9 561.2,683.4 562.2,683.2 563.1,683.1 564.0,682.6 565.0,682.3 565.9,682.5 566.9,682.3 567.8,682.6 568.8,682.7 569.7,682.8 570.7,682.3 571.6,682.3 572.5,682.5 573.5,682.4 574.4,682.6 575.4,682.2 576.3,682.3 577.3,682.1 578.2,682.6 579.1,683.0 580.1,683.1 581.0,682.9 582.0,683.1 582.9,683.6 583.9,683.6 584.8,683.8 585.8,683.4 586.7,683.2 587.6,683.3 588.6,683.4 589.5,683.2 590.5,683.2 591.4,683.1 592.4,683.4 593.3,683.9 594.2,684.3 595.2,684.2 596.1,684.7 597.1,684.9 598.0,685.1 599.0,685.4 599.9,685.8 600.8,685.8 601.8,685.8 602.7,686.3 603.7,686.5 604.6,686.8 605.6,686.7 606.5,686.8 607.5,686.5 608.4,686.8 609.3,687.0 610.3,687.1 611.2,687.2 612.2,686.9 613.1,687.2 614.1,687.5 615.0,687.6 615.9,687.6 616.9,687.2 617.8,686.9 618.8,687.0 619.7,687.7 620.7,687.6 621.6,687.4 622.6,687.5 623.5,687.6 624.4,687.9 625.4,688.1 626.3,688.2 627.3,688.1 628.2,688.1 629.2,688.2 630.1,688.3 631.0,688.2 632.0,688.5 632.9,688.5 633.9,688.5 634.8,688.3 635.8,688.5 636.7,688.8 637.7,688.8 638.6,689.2 639.5,689.4 640.5,689.6 641.4,689.6 642.4,689.5 643.3,689.6 644.3,689.8 645.2,689.9" stroke="#f8c82a"/>
<path d="M504.6,682.2 505.5,682.1 506.5,682.1 507.4,682.0 508.4,682.0 509.3,682.0 510.3,682.1 511.2,682.0 512.1,681.4 513.1,681.5 514.0,681.5 515.0,681.6 515.9,681.5 516.9,680.8 517.8,680.4 518.8,680.3 519.7,680.4 520.6,680.6 521.6,679.8 522.5,679.7 523.5,679.7 524.4,680.2 525.4,680.1 526.3,679.8 527.2,679.6 528.2,679.8 529.1,680.4 530.1,679.9 531.0,679.6 532.0,679.2 532.9,679.0 533.9,679.3 534.8,679.4 535.7,679.0 536.7,678.5 537.6,678.1 538.6,677.9 539.5,677.6 540.5,677.5 541.4,676.9 542.3,676.9 543.3,676.6 544.2,676.6 545.2,676.3 546.1,676.1 547.1,676.3 548.0,675.7 549.0,675.5 549.9,675.1 550.8,674.3 551.8,674.1 552.7,673.8 553.7,673.9 554.6,673.2 555.6,673.0 556.5,672.9 557.4,672.8 558.4,673.1 559.3,672.9 560.3,673.0 561.2,672.5 562.2,672.6 563.1,672.7 564.0,672.7 565.0,672.3 565.9,672.2 566.9,671.8 567.8,672.0 568.8,672.1 569.7,672.0 570.7,672.1 571.6,672.3 572.5,672.3 573.5,672.4 574.4,672.6 575.4,672.2 576.3,672.4 577.3,672.3 578.2,672.4 579.1,671.9 580.1,672.2 581.0,672.0 582.0,672.5 582.9,672.4 583.9,672.5 584.8,673.0 585.8,672.6 586.7,672.9 587.6,672.7 588.6,672.9 589.5,672.7 590.5,673.2 591.4,672.9 592.4,672.7 593.3,672.8 594.2,672.7 595.2,672.9 596.1,673.5 597.1,673.5 598.0,673.5 599.0,673.9 599.9,673.8 600.8,674.2 601.8,674.3 602.7,674.1 603.7,673.7 604.6,673.9 605.6,673.8 606.5,673.9 607.5,674.5 608.4,674.2 609.3,674.9 610.3,675.0 611.2,675.0 612.2,675.3 613.1,675.5 614.1,675.7 615.0,675.7 615.9,676.3 616.9,675.8 617.8,676.0 618.8,676.3 619.7,676.3 620.7,676.2 621.6,676.3 622.6,676.3 623.5,676.2 624.4,676.4 625.4,676.4 626.3,676.5 627.3,676.5 628.2,676.2 629.2,675.8 630.1,675.9 631.0,675.8 632.0,676.1 632.9,676.2 633.9,676.2 634.8,676.2 635.8,676.6 636.7,677.0 637.7,676.9 638.6,677.0 639.5,677.0 640.5,677.0 641.4,677.0 642.4,676.9 643.3,677.0 644.3,677.2 645.2,677.2" stroke="#f8cc28"/>
<path d="M504.6,670.4 505.5,670.4 506.5,670.3 507.4,670.2 508.4,670.1 509.3,669.9 510.3,669.9 511.2,669.4 512.1,669.5 513.1,669.5 514.0,669.6 515.0,669.7 515.9,670.0 516.9,670.1 517.8,669.5 518.8,669.5 519.7,669.6 520.6,669.1 521.6,668.9 522.5,668.9 523.5,668.6 524.4,668.5 525.4,669.2 526.3,668.8 527.2,668.0 528.2,668.4 529.1,668.3 530.1,667.9 531.0,668.0 532.0,667.6 532.9,666.7 533.9,666.9 534.8,666.9 535.7,666.3 536.7,665.7 537.6,665.4 538.6,664.8 539.5,664.9 540.5,664.7 541.4,664.2 542.3,664.3 543.3,664.0 544.2,664.4 545.2,664.8 546.1,664.5 547.1,663.7 548.0,663.4 549.0,663.5 549.9,663.0 550.8,663.1 551.8,662.2 552.7,661.5 553.7,661.5 554.6,662.1 555.6,662.0 556.5,661.8 557.4,661.8 558.4,661.5 559.3,661.5 560.3,661.4 561.2,661.3 562.2,660.9 563.1,660.7 564.0,660.5 565.0,660.4 565.9,660.5 566.9,660.4 567.8,660.7 568.8,660.3 569.7,659.9 570.7,659.9 571.6,659.9 572.5,660.1 573.5,660.1 574.4,660.3 575.4,660.0 576.3,660.2 577.3,661.0 578.2,661.4 579.1,661.4 580.1,661.2 581.0,661.2 582.0,661.3 582.9,661.6 583.9,662.1 584.8,661.7 585.8,661.8 586.7,662.1 587.6,662.1 588.6,662.3 589.5,662.1 590.5,662.0 591.4,662.1 592.4,662.1 593.3,662.6 594.2,662.8 595.2,663.1 596.1,663.4 597.1,663.6 598.0,664.0 599.0,663.5 599.9,663.9 600.8,663.4 601.8,663.0 602.7,663.2 603.7,663.4 604.6,663.4 605.6,663.5 606.5,664.5 607.5,664.4 608.4,664.8 609.3,665.3 610.3,664.9 611.2,664.5 612.2,664.8 613.1,664.1 614.1,663.6 615.0,663.8 615.9,663.8 616.9,663.6 617.8,663.9 618.8,664.3 619.7,664.3 620.7,665.0 621.6,665.3 622.6,665.5 623.5,665.2 624.4,665.4 625.4,665.4 626.3,665.4 627.3,665.3 628.2,664.8 629.2,664.6 630.1,664.2 631.0,664.4 632.0,664.9 632.9,664.6 633.9,664.9 634.8,664.7 635.8,664.9 636.7,665.0 637.7,665.3 638.6,665.4 639.5,665.2 640.5,665.8 641.4,665.9 642.4,666.2 643.3,666.1 644.3,665.8 645.2,665.8" stroke="#f8d828"/>
<path d="M504.6,658.9 505.5,658.8 506.5,658.7 507.4,658.3 508.4,658.2 509.3,658.0 510.3,657.8 511.2,657.8 512.1,657.7 513.1,657.4 514.0,657.4 515.0,657.3 515.9,657.6 516.9,657.6 517.8,657.5 518.8,657.2 519.7,656.9 520.6,656.8 521.6,656.4 522.5,656.4 523.5,656.0 524.4,655.6 525.4,655.6 526.3,655.6 527.2,655.9 528.2,656.2 529.1,656.4 530.1,656.1 531.0,656.0 532.0,656.3 532.9,656.0 533.9,655.5 534.8,654.9 535.7,654.4 536.7,654.2 537.6,653.7 538.6,654.0 539.5,653.5 540.5,653.4 541.4,653.7 542.3,653.6 543.3,653.6 544.2,653.4 545.2,653.9 546.1,653.3 547.1,653.0 548.0,652.6 549.0,652.4 549.9,652.4 550.8,651.9 551.8,651.6 552.7,651.2 553.7,651.2 554.6,651.1 555.6,651.4 556.5,651.1 557.4,650.8 558.4,650.7 559.3,650.8 560.3,650.8 561.2,650.6 562.2,650.6 563.1,650.1 564.0,650.2 565.0,650.2 565.9,650.2 566.9,650.1 567.8,650.2 568.8,650.4 569.7,650.5 570.7,650.6 571.6,650.6 572.5,650.6 573.5,650.6 574.4,650.5 575.4,650.4 576.3,650.5 577.3,650.4 578.2,650.5 579.1,650.7 580.1,650.9 581.0,651.0 582.0,651.1 582.9,651.0 583.9,650.6 584.8,650.7 585.8,650.6 586.7,650.5 587.6,650.9 588.6,651.0 589.5,651.3 590.5,651.7 591.4,652.0 592.4,652.4 593.3,652.8 594.2,653.0 595.2,652.8 596.1,653.2 597.1,653.5 598.0,653.5 599.0,653.8 599.9,653.8 600.8,653.8 601.8,653.6 602.7,653.7 603.7,653.3 604.6,653.4 605.6,653.4 606.5,653.7 607.5,653.4 608.4,653.2 609.3,653.1 610.3,653.4 611.2,653.5 612.2,653.5 613.1,653.6 614.1,653.2 615.0,653.5 615.9,654.0 616.9,654.5 617.8,654.6 618.8,654.8 619.7,654.8 620.7,655.0 621.6,655.2 622.6,655.5 623.5,655.5 624.4,655.4 625.4,655.5 626.3,655.4 627.3,655.1 628.2,654.9 629.2,654.5 630.1,654.3 631.0,654.5 632.0,654.5 632.9,654.3 633.9,654.8 634.8,655.2 635.8,655.7 636.7,656.4 637.7,656.5 638.6,656.3 639.5,656.3 640.5,656.5 641.4,656.0 642.4,655.8 643.3,655.7 644.3,655.4 645.2,655.3" stroke="#f8e028"/>
</g>
<line x1="74.9" y1="657" x2="74.9" y2="772" stroke="#999" stroke-width="0.8" stroke-dasharray="3,2"/>
<line x1="111.5" y1="719" x2="111.5" y2="770" stroke="#999" stroke-width="0.8" stroke-dasharray="3,2"/>
<line x1="388.3" y1="660" x2="388.3" y2="776" stroke="#999" stroke-width="0.8" stroke-dasharray="3,2"/>
<line x1="417.2" y1="700" x2="417.2" y2="780" stroke="#999" stroke-width="0.8" stroke-dasharray="3,2"/>
<line x1="219" y1="767.8" x2="260.5" y2="653" stroke="#999" stroke-width="0.8" stroke-dasharray="3,2"/>
<line x1="536.1" y1="766" x2="564.7" y2="650.6" stroke="#999" stroke-width="0.8" stroke-dasharray="3,2"/>
<rect x="40" y="650.2" width="3.4" height="9.1" fill="#f8e020"/>
<rect x="40" y="659" width="3.4" height="9.4" fill="#c2dc2e"/>
<rect x="40" y="668.1" width="3.4" height="5.1" fill="#78c850"/>
<rect x="40" y="672.9" width="3.4" height="4.3" fill="#34b070"/>
<rect x="40" y="728.2" width="3.4" height="9.9" fill="#ff2010"/>
<rect x="40" y="737.8" width="3.4" height="8" fill="#ff6a00"/>
<rect x="40" y="745.5" width="3.4" height="7.4" fill="#ffa200"/>
<rect x="40" y="752.6" width="3.4" height="6.1" fill="#ffdc00"/>
<rect x="356.3" y="656.3" width="3.4" height="9.3" fill="#f8e020"/>
<rect x="356.3" y="665.3" width="3.4" height="9.6" fill="#c2dc2e"/>
<rect x="356.3" y="674.6" width="3.4" height="5.2" fill="#78c850"/>
<rect x="356.3" y="679.5" width="3.4" height="4.4" fill="#34b070"/>
<rect x="356.3" y="729.5" width="3.4" height="9.8" fill="#ff2010"/>
<rect x="356.3" y="739" width="3.4" height="7.9" fill="#ff6a00"/>
<rect x="356.3" y="746.5" width="3.4" height="7.3" fill="#ffa200"/>
<rect x="356.3" y="753.5" width="3.4" height="6" fill="#ffdc00"/>
<text x="39.6" y="648.4" font-size="5.0">Dis. 2.60 V</text>
<text x="39.6" y="683" font-size="5.0">Cha. 3.68 V</text>
<text x="39.6" y="726.6" font-size="5.0">Cha. 3.60 V</text>
<text x="39.6" y="760.8" font-size="5.0">Dis. 2.60 V</text>
<text x="355.6" y="654" font-size="5.0">Dis. 2.42 V</text>
<text x="355.6" y="689.8" font-size="5.0">Cha. 3.67 V</text>
<text x="355.6" y="728" font-size="5.0">Cha. 3.67 V</text>
<text x="355.6" y="763.8" font-size="5.0">Dis. 2.42 V</text>
<rect x="38.8" y="637.3" width="290.1" height="160.1" fill="none" stroke="#262626" stroke-width="1.3"/>
<line x1="188.2" y1="637.3" x2="188.2" y2="797.4" stroke="#262626" stroke-width="1.3"/>
<line x1="38.8" y1="717.3" x2="188.2" y2="717.3" stroke="#262626" stroke-width="1.3"/>
<rect x="355" y="638.2" width="290.2" height="160.4" fill="none" stroke="#262626" stroke-width="1.3"/>
<line x1="504.6" y1="638.2" x2="504.6" y2="798.6" stroke="#262626" stroke-width="1.3"/>
<line x1="355" y1="718.2" x2="504.6" y2="718.2" stroke="#262626" stroke-width="1.3"/>
<line x1="68" y1="797.4" x2="68" y2="800.6" stroke="#262626" stroke-width="1.3"/>
<text x="68" y="810" font-size="8.2" text-anchor="middle">16</text>
<line x1="98.1" y1="797.4" x2="98.1" y2="799.4" stroke="#262626" stroke-width="1.3"/>
<line x1="128.2" y1="797.4" x2="128.2" y2="800.6" stroke="#262626" stroke-width="1.3"/>
<text x="128.2" y="810" font-size="8.2" text-anchor="middle">17</text>
<line x1="158.3" y1="797.4" x2="158.3" y2="799.4" stroke="#262626" stroke-width="1.3"/>
<line x1="188.4" y1="797.4" x2="188.4" y2="800.6" stroke="#262626" stroke-width="1.3"/>
<text x="188.4" y="810" font-size="8.2" text-anchor="middle">18</text>
<line x1="188.6" y1="797.4" x2="188.6" y2="799.4" stroke="#262626" stroke-width="1.3"/>
<line x1="216.6" y1="797.4" x2="216.6" y2="800.6" stroke="#262626" stroke-width="1.3"/>
<text x="216.6" y="810" font-size="8.2" text-anchor="middle">16</text>
<line x1="244.6" y1="797.4" x2="244.6" y2="799.4" stroke="#262626" stroke-width="1.3"/>
<line x1="272.6" y1="797.4" x2="272.6" y2="800.6" stroke="#262626" stroke-width="1.3"/>
<text x="272.6" y="810" font-size="8.2" text-anchor="middle">17</text>
<line x1="300.6" y1="797.4" x2="300.6" y2="799.4" stroke="#262626" stroke-width="1.3"/>
<line x1="328.6" y1="797.4" x2="328.6" y2="800.6" stroke="#262626" stroke-width="1.3"/>
<text x="328.6" y="810" font-size="8.2" text-anchor="middle">18</text>
<line x1="354.9" y1="798.6" x2="354.9" y2="800.6" stroke="#262626" stroke-width="1.3"/>
<line x1="384.7" y1="798.6" x2="384.7" y2="801.8" stroke="#262626" stroke-width="1.3"/>
<text x="384.7" y="811" font-size="8.2" text-anchor="middle">16</text>
<line x1="414.5" y1="798.6" x2="414.5" y2="800.6" stroke="#262626" stroke-width="1.3"/>
<line x1="444.3" y1="798.6" x2="444.3" y2="801.8" stroke="#262626" stroke-width="1.3"/>
<text x="444.3" y="811" font-size="8.2" text-anchor="middle">17</text>
<line x1="474.1" y1="798.6" x2="474.1" y2="800.6" stroke="#262626" stroke-width="1.3"/>
<line x1="503.9" y1="798.6" x2="503.9" y2="801.8" stroke="#262626" stroke-width="1.3"/>
<text x="503.9" y="811" font-size="8.2" text-anchor="middle">18</text>
<line x1="504.3" y1="798.6" x2="504.3" y2="800.6" stroke="#262626" stroke-width="1.3"/>
<line x1="532.5" y1="798.6" x2="532.5" y2="801.8" stroke="#262626" stroke-width="1.3"/>
<text x="532.5" y="811" font-size="8.2" text-anchor="middle">16</text>
<line x1="560.7" y1="798.6" x2="560.7" y2="800.6" stroke="#262626" stroke-width="1.3"/>
<line x1="588.9" y1="798.6" x2="588.9" y2="801.8" stroke="#262626" stroke-width="1.3"/>
<text x="588.9" y="811" font-size="8.2" text-anchor="middle">17</text>
<line x1="617.1" y1="798.6" x2="617.1" y2="800.6" stroke="#262626" stroke-width="1.3"/>
<line x1="645.3" y1="798.6" x2="645.3" y2="801.8" stroke="#262626" stroke-width="1.3"/>
<text x="645.3" y="811" font-size="8.2" text-anchor="middle">18</text>
<text x="117.4" y="823.3" font-size="9.0" text-anchor="middle">2-Theta / degree</text>
<text x="264.8" y="823.5" font-size="9.0" text-anchor="middle">2-Theta / degree</text>
<text x="437.5" y="825" font-size="9.0" text-anchor="middle">2-Theta / degree</text>
<text x="581.2" y="824.8" font-size="9.0" text-anchor="middle">2-Theta / degree</text>
<text x="30.0" y="716" font-size="9.1" text-anchor="middle" dy="3.2" transform="rotate(-90 30.0 716)">Intensity / a.u.</text>
<text x="346.0" y="716" font-size="9.1" text-anchor="middle" dy="3.2" transform="rotate(-90 346.0 716)">Intensity / a.u.</text>
<text x="113.2" y="649.2" font-size="7.5" text-anchor="middle">Simulated</text>
<text x="75.4" y="655" font-size="8.2" text-anchor="middle">P2</text>
<text x="160.3" y="666" font-size="8.2" text-anchor="middle">OP4</text>
<text x="431.5" y="648.5" font-size="7.5" text-anchor="middle">Simulated</text>
<text x="391.7" y="655.8" font-size="8.2" text-anchor="middle">P2</text>
<text x="478.5" y="667.1" font-size="8.2" text-anchor="middle">OP4</text>
<text x="113" y="728.3" font-size="7.6" text-anchor="middle">Experimental</text>
<text x="167.8" y="727.8" font-size="8.2" text-anchor="middle">2-4 V</text>
<text x="431" y="728.8" font-size="7.6" text-anchor="middle">Experimental</text>
<text x="482.7" y="728.8" font-size="8.2" text-anchor="middle">1.5-4.3 V</text>
<text x="86.5" y="741.2" font-size="6.5">P: 71 %</text>
<text x="115.1" y="741.2" font-size="6.5">O: 29 %</text>
<text x="418.8" y="741.2" font-size="6.5">P: 79 %</text>
<text x="418.8" y="752.6" font-size="6.5">O: 21 %</text>
<text x="260.5" y="647.3" font-size="7.6" text-anchor="middle">Experimental</text>
<text x="576" y="647.3" font-size="7.6" text-anchor="middle">Experimental</text>
<text x="252.4" y="781.8" font-size="6.7" fill="#5a1414">Na<tspan dy="1.7" font-size="4.4">x</tspan><tspan dy="-1.7">Mn</tspan><tspan dy="1.7" font-size="4.4">0.9</tspan><tspan dy="-1.7">Ti</tspan><tspan dy="1.7" font-size="4.4">0.1</tspan><tspan dy="-1.7">O</tspan><tspan dy="1.7" font-size="4.4">2</tspan></text>
<text x="567.8" y="786.4" font-size="6.7" fill="#5a1414">Na<tspan dy="1.7" font-size="4.4">x</tspan><tspan dy="-1.7">Mn</tspan><tspan dy="1.7" font-size="4.4">0.9</tspan><tspan dy="-1.7">Ti</tspan><tspan dy="1.7" font-size="4.4">0.1</tspan><tspan dy="-1.7">O</tspan><tspan dy="1.7" font-size="4.4">2</tspan></text>
<text x="301.8" y="652.5" font-size="7" font-weight="normal" fill="#606060" textLength="22" lengthAdjust="spacingAndGlyphs">(x=0.52)</text>
<text x="301.8" y="665.7" font-size="7" font-weight="normal" fill="#606060" textLength="22" lengthAdjust="spacingAndGlyphs">(x=0.58)</text>
<text x="301.8" y="679.1" font-size="7" font-weight="normal" fill="#606060" textLength="22" lengthAdjust="spacingAndGlyphs">(x=0.25)</text>
<text x="301.8" y="692.1" font-size="7" font-weight="normal" fill="#606060" textLength="22" lengthAdjust="spacingAndGlyphs">(x=0.26)</text>
<text x="301.8" y="705.0" font-size="7" font-weight="normal" fill="#606060" textLength="22" lengthAdjust="spacingAndGlyphs">(x=0.28)</text>
<text x="301.8" y="717.2" font-size="7" font-weight="normal" fill="#606060" textLength="22" lengthAdjust="spacingAndGlyphs">(x=0.29)</text>
<text x="301.8" y="730.6" font-size="7" font-weight="normal" fill="#606060" textLength="22" lengthAdjust="spacingAndGlyphs">(x=0.31)</text>
<text x="301.8" y="742.6" font-size="7" font-weight="normal" fill="#606060" textLength="22" lengthAdjust="spacingAndGlyphs">(x=0.33)</text>
<text x="301.8" y="755.5" font-size="7" font-weight="normal" fill="#606060" textLength="22" lengthAdjust="spacingAndGlyphs">(x=0.34)</text>
<text x="301.8" y="768.2" font-size="7" font-weight="normal" fill="#606060" textLength="22" lengthAdjust="spacingAndGlyphs">(x=0.37)</text>
<text x="301.8" y="780.7" font-size="7" font-weight="normal" fill="#606060" textLength="22" lengthAdjust="spacingAndGlyphs">(x=0.39)</text>
<text x="618.6" y="653.8" font-size="7" font-weight="normal" fill="#606060" textLength="22.5" lengthAdjust="spacingAndGlyphs">(x=0.34)</text>
<text x="618.6" y="664.0" font-size="7" font-weight="normal" fill="#606060" textLength="22.5" lengthAdjust="spacingAndGlyphs">(x=0.39)</text>
<text x="618.6" y="674.5" font-size="7" font-weight="normal" fill="#606060" textLength="22.5" lengthAdjust="spacingAndGlyphs">(x=0.45)</text>
<text x="618.6" y="686.0" font-size="7" font-weight="normal" fill="#606060" textLength="22.5" lengthAdjust="spacingAndGlyphs">(x=0.50)</text>
<text x="618.6" y="697.0" font-size="7" font-weight="normal" fill="#606060" textLength="22.5" lengthAdjust="spacingAndGlyphs">(x=0.54)</text>
<text x="618.6" y="707.9" font-size="7" font-weight="normal" fill="#606060" textLength="22.5" lengthAdjust="spacingAndGlyphs">(x=0.19)</text>
<text x="618.6" y="719.4" font-size="7" font-weight="normal" fill="#606060" textLength="22.5" lengthAdjust="spacingAndGlyphs">(x=0.21)</text>
<text x="618.6" y="731.1" font-size="7" font-weight="normal" fill="#606060" textLength="22.5" lengthAdjust="spacingAndGlyphs">(x=0.23)</text>
<text x="618.6" y="742.1" font-size="7" font-weight="normal" fill="#606060" textLength="22.5" lengthAdjust="spacingAndGlyphs">(x=0.25)</text>
<text x="618.6" y="752.6" font-size="7" font-weight="normal" fill="#606060" textLength="22.5" lengthAdjust="spacingAndGlyphs">(x=0.26)</text>
<text x="618.6" y="763.4" font-size="7" font-weight="normal" fill="#606060" textLength="22.5" lengthAdjust="spacingAndGlyphs">(x=0.28)</text>
<text x="618.6" y="774.1" font-size="7" font-weight="normal" fill="#606060" textLength="22.5" lengthAdjust="spacingAndGlyphs">(x=0.30)</text>
<text x="618.6" y="785.1" font-size="7" font-weight="normal" fill="#606060" textLength="22.5" lengthAdjust="spacingAndGlyphs">(x=0.32)</text>
</svg>
</body></html>
